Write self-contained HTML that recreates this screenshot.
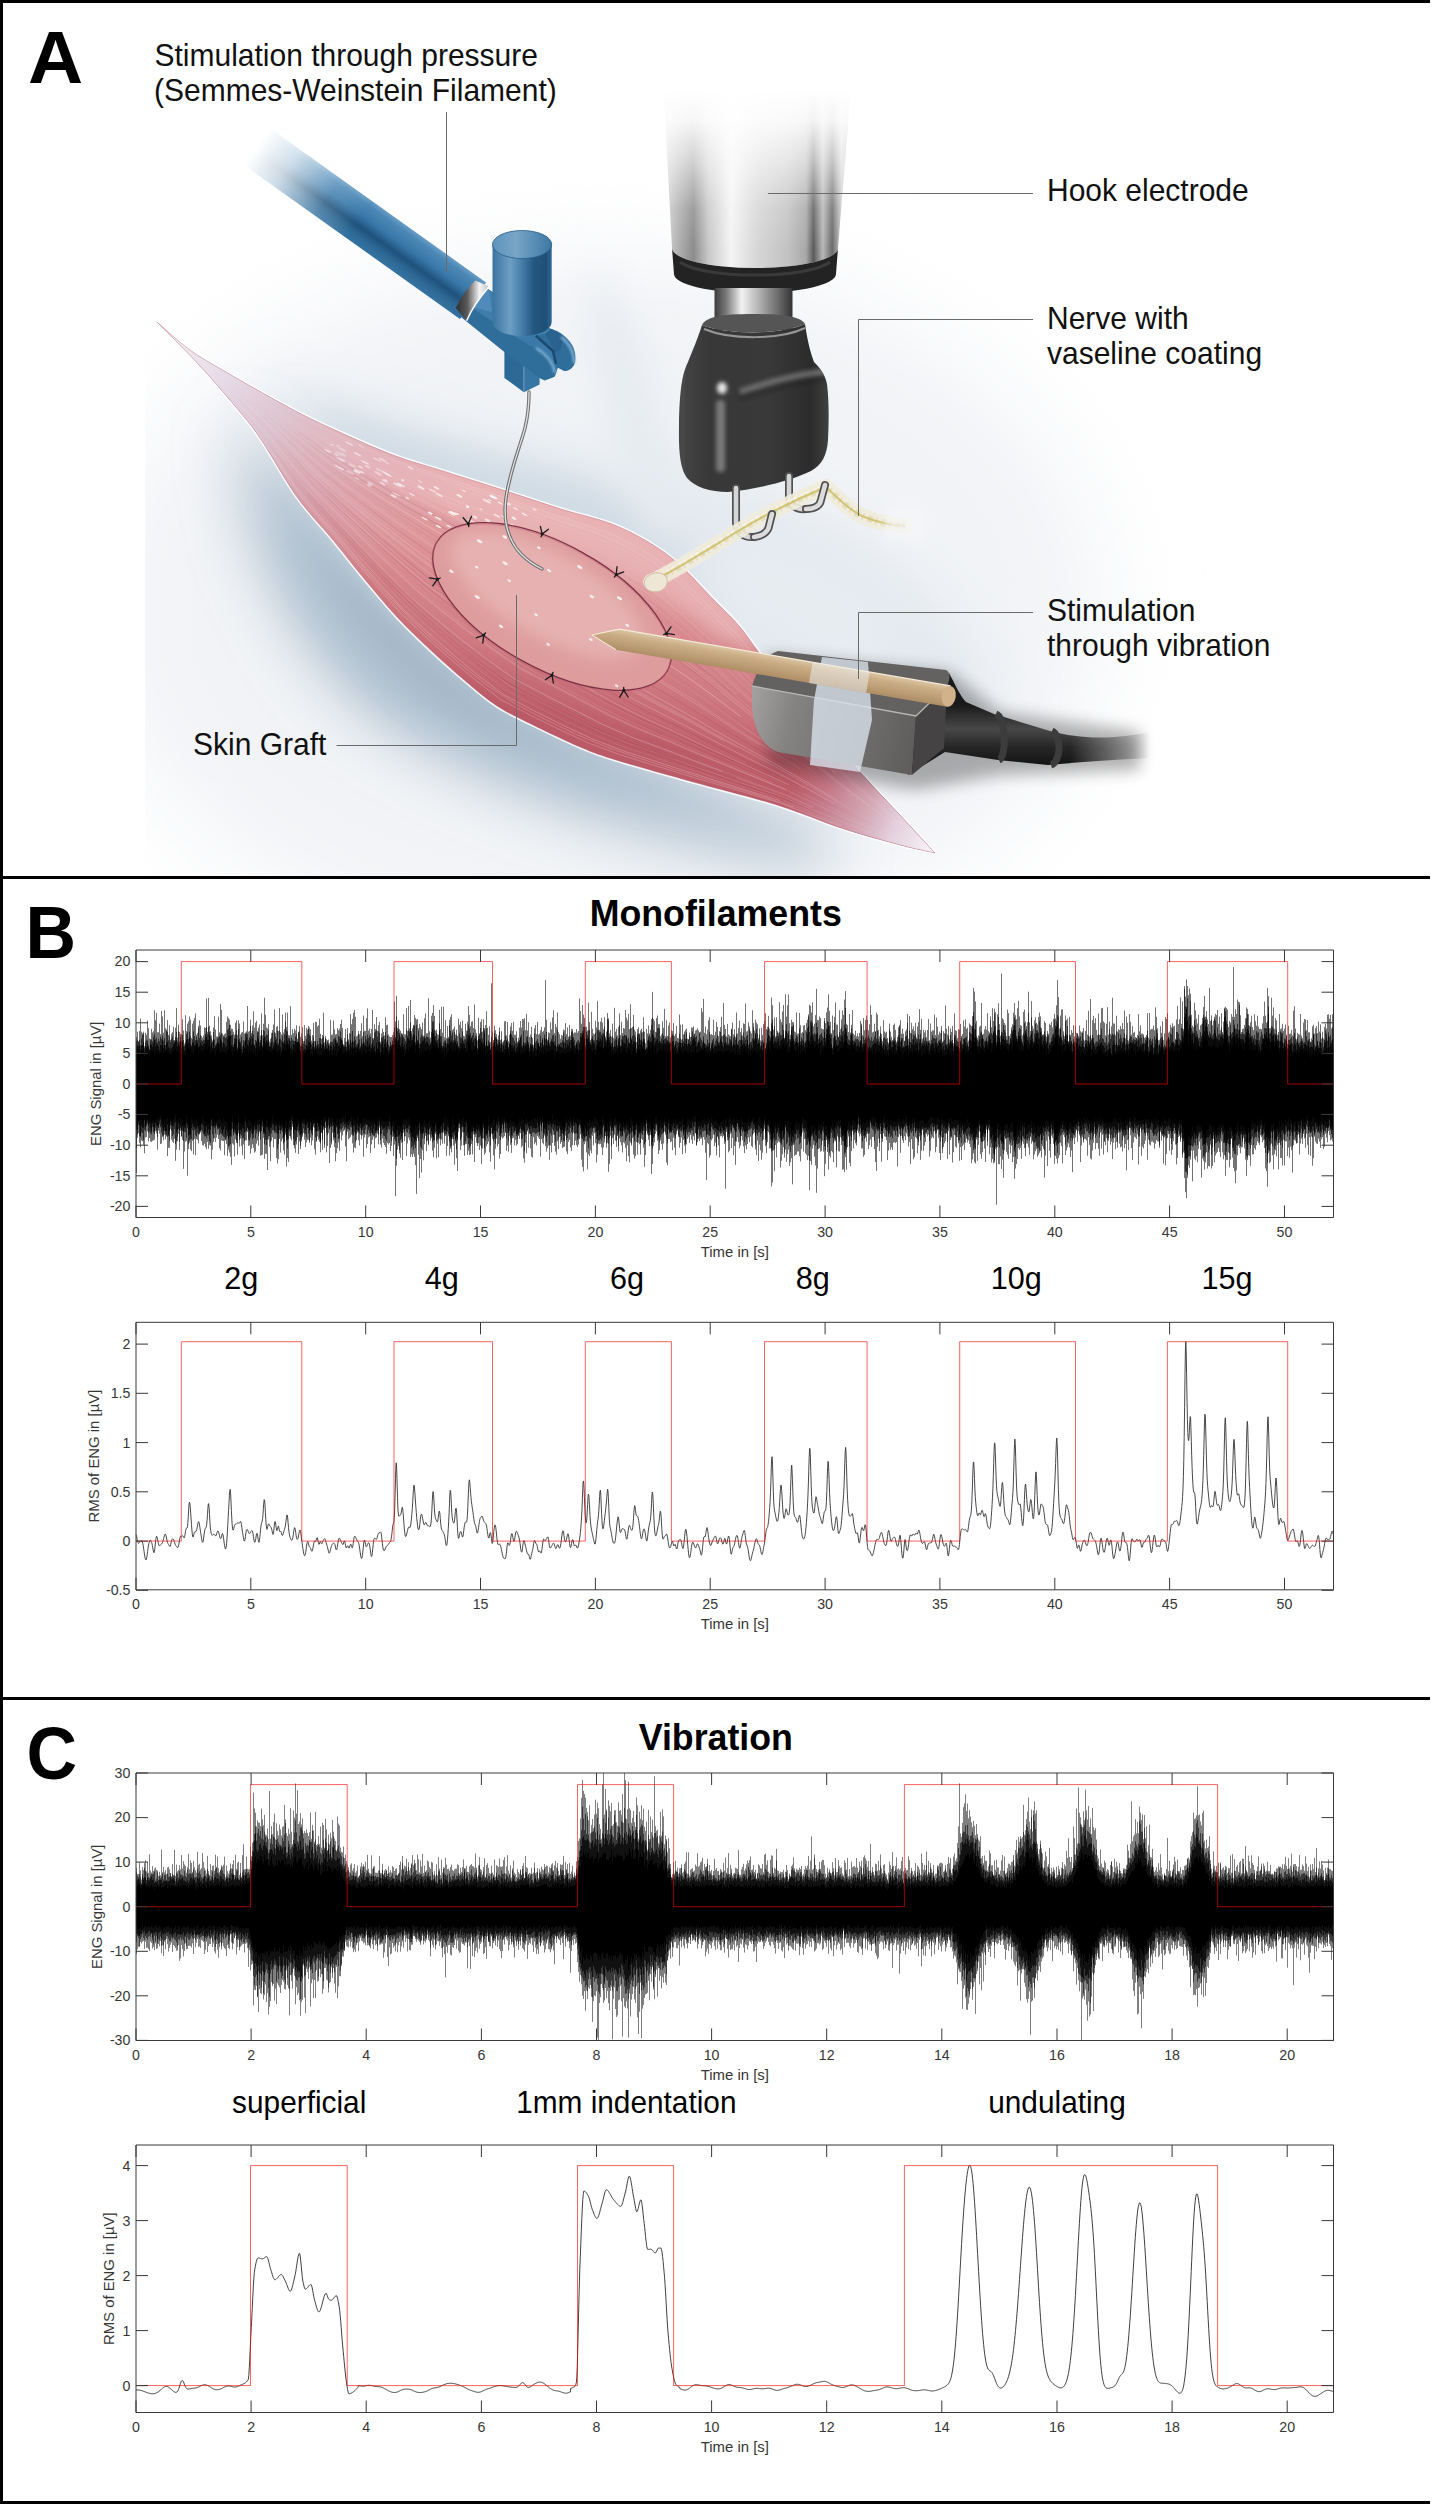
<!DOCTYPE html><html><head><meta charset="utf-8"><title>Figure</title>
<style>html,body{margin:0;padding:0;background:#fff;}body{width:1432px;height:2504px;overflow:hidden;}svg{display:block;}</style></head><body>
<svg width="1432" height="2504" viewBox="0 0 1432 2504" font-family='"Liberation Sans", sans-serif'>
<rect width="1432" height="2504" fill="#fff"/>
<defs>
  <filter id="blur50" x="-50%" y="-50%" width="200%" height="200%"><feGaussianBlur stdDeviation="50"/></filter>
  <filter id="blur30" x="-50%" y="-50%" width="200%" height="200%"><feGaussianBlur stdDeviation="30"/></filter>
  <filter id="blur18" x="-50%" y="-50%" width="200%" height="200%"><feGaussianBlur stdDeviation="18"/></filter>
  <filter id="blur8" x="-50%" y="-50%" width="200%" height="200%"><feGaussianBlur stdDeviation="8"/></filter>
  <filter id="blur4" x="-50%" y="-50%" width="200%" height="200%"><feGaussianBlur stdDeviation="4"/></filter>
  <filter id="blur2" x="-50%" y="-50%" width="200%" height="200%"><feGaussianBlur stdDeviation="2"/></filter>
  <filter id="blur1" x="-50%" y="-50%" width="200%" height="200%"><feGaussianBlur stdDeviation="1"/></filter>
  <clipPath id="bodyClip"><path d="M702 325 C 698 338 692 352 688 362 C 682 374 679.5 392 679 425 C 678.5 452 680 468 687 478 C 695 487 710 492 728 492 C 758 489 790 481 811 471 C 822 465 827 455 828 440 C 829 420 829 400 827 384 C 825 374 820 368 814 362 C 810 352 807 338 805 324 C 780 335 728 335 702 325 Z"/></clipPath>
  <clipPath id="bgclip"><rect x="145" y="0" width="1200" height="876"/></clipPath>
  <clipPath id="muscleClip"><path d="M157.0 322.0 C 162.5 326.7 178.5 341.7 190.0 350.0 C 201.5 358.3 209.3 362.3 226.0 372.0 C 242.7 381.7 271.8 398.3 290.0 408.0 C 308.2 417.7 317.8 422.2 335.0 430.0 C 352.2 437.8 375.5 448.3 393.0 455.0 C 410.5 461.7 421.7 464.2 440.0 470.0 C 458.3 475.8 482.8 483.5 503.0 490.0 C 523.2 496.5 542.8 503.3 561.0 509.0 C 579.2 514.7 597.2 518.3 612.0 524.0 C 626.8 529.7 638.7 536.2 650.0 543.0 C 661.3 549.8 669.3 555.5 680.0 565.0 C 690.7 574.5 704.0 589.7 714.0 600.0 C 724.0 610.3 731.2 616.5 740.0 627.0 C 748.8 637.5 755.3 648.3 767.0 663.0 C 778.7 677.7 794.5 696.8 810.0 715.0 C 825.5 733.2 845.0 755.3 860.0 772.0 C 875.0 788.7 887.5 801.5 900.0 815.0 C 912.5 828.5 929.2 846.7 935.0 853.0 L935.0 853.0 C 929.2 851.7 915.7 849.2 900.0 845.0 C 884.3 840.8 861.5 834.7 841.0 828.0 C 820.5 821.3 801.7 812.7 777.0 805.0 C 752.3 797.3 719.8 789.5 693.0 782.0 C 666.2 774.5 634.8 765.8 616.0 760.0 C 597.2 754.2 593.8 752.8 580.0 747.0 C 566.2 741.2 546.8 731.8 533.0 725.0 C 519.2 718.2 508.6 713.6 497.0 706.0 C 485.4 698.4 474.7 688.8 463.5 679.4 C 452.3 670.0 441.1 660.0 430.0 649.6 C 418.9 639.2 408.1 628.9 397.0 617.0 C 385.9 605.1 374.2 590.8 363.5 578.0 C 352.8 565.2 344.1 553.5 333.0 540.0 C 321.9 526.5 308.8 513.5 297.0 497.0 C 285.2 480.5 271.5 455.2 262.0 441.0 C 252.5 426.8 250.3 424.5 240.0 412.0 C 229.7 399.5 213.8 381.0 200.0 366.0 C 186.2 351.0 164.2 329.3 157.0 322.0 Z"/></clipPath>

  <linearGradient id="muscleG" gradientUnits="userSpaceOnUse" x1="520" y1="480" x2="470" y2="700">
    <stop offset="0" stop-color="#e6a9ab"/>
    <stop offset="0.35" stop-color="#dd9599"/>
    <stop offset="0.75" stop-color="#cf7980"/>
    <stop offset="1" stop-color="#bd5d6a"/>
  </linearGradient>
  <linearGradient id="tipFade" gradientUnits="userSpaceOnUse" x1="160" y1="325" x2="420" y2="545">
    <stop offset="0" stop-color="#f4f2f6" stop-opacity="1"/>
    <stop offset="0.25" stop-color="#e6dce8" stop-opacity="0.96"/>
    <stop offset="0.45" stop-color="#dccbd8" stop-opacity="0.8"/>
    <stop offset="0.7" stop-color="#d8b4c2" stop-opacity="0.4"/>
    <stop offset="1" stop-color="#d8a0ae" stop-opacity="0"/>
  </linearGradient>
  <linearGradient id="tailFade" gradientUnits="userSpaceOnUse" x1="790" y1="785" x2="935" y2="853">
    <stop offset="0" stop-color="#cf9aaa" stop-opacity="0"/>
    <stop offset="0.35" stop-color="#d8b8c8" stop-opacity="0.55"/>
    <stop offset="0.7" stop-color="#e8dce8" stop-opacity="0.9"/>
    <stop offset="1" stop-color="#f8f6f8" stop-opacity="1"/>
  </linearGradient>
  <radialGradient id="graftG" gradientUnits="userSpaceOnUse" cx="530" cy="585" r="160">
    <stop offset="0" stop-color="#eec0bf"/>
    <stop offset="0.6" stop-color="#e9b3b1"/>
    <stop offset="1" stop-color="#de9c9d"/>
  </radialGradient>
  <linearGradient id="rodBlue" gradientUnits="userSpaceOnUse" x1="0" y1="0" x2="0" y2="45">
    <stop offset="0" stop-color="#6a9ec6"/>
    <stop offset="0.12" stop-color="#4c88b6"/>
    <stop offset="0.4" stop-color="#3777a8"/>
    <stop offset="0.62" stop-color="#1f527c"/>
    <stop offset="0.8" stop-color="#2d6895"/>
    <stop offset="1" stop-color="#3673a2"/>
  </linearGradient>
  <linearGradient id="rodFade" gradientUnits="userSpaceOnUse" x1="25" y1="0" x2="150" y2="0">
    <stop offset="0" stop-color="#000"/>
    <stop offset="0.3" stop-color="#404040"/>
    <stop offset="0.7" stop-color="#d0d0d0"/>
    <stop offset="1" stop-color="#fff"/>
  </linearGradient>
  <mask id="rodMask" maskUnits="userSpaceOnUse" x="-50" y="-30" width="400" height="110"><rect x="-50" y="-30" width="400" height="110" fill="url(#rodFade)"/></mask>
  <linearGradient id="cylBlue" x1="0" y1="0" x2="1" y2="0">
    <stop offset="0" stop-color="#3a74a0"/>
    <stop offset="0.3" stop-color="#6e9ec3"/>
    <stop offset="0.45" stop-color="#4d86b2"/>
    <stop offset="0.7" stop-color="#24577f"/>
    <stop offset="0.9" stop-color="#1e4f77"/>
    <stop offset="1" stop-color="#2f6791"/>
  </linearGradient>
  <linearGradient id="cylTop" x1="0" y1="0" x2="1" y2="0">
    <stop offset="0" stop-color="#5e93bb"/>
    <stop offset="0.4" stop-color="#78a5c8"/>
    <stop offset="1" stop-color="#3b77a3"/>
  </linearGradient>
  <linearGradient id="ringG" gradientUnits="userSpaceOnUse" x1="455" y1="0" x2="490" y2="0">
    <stop offset="0" stop-color="#2a2a2a"/>
    <stop offset="0.35" stop-color="#5a5a5a"/>
    <stop offset="0.7" stop-color="#f4f4f4"/>
    <stop offset="1" stop-color="#bdbdbd"/>
  </linearGradient>
  <linearGradient id="silverV" x1="0" y1="0" x2="1" y2="0">
    <stop offset="0" stop-color="#d8d8d8"/>
    <stop offset="0.08" stop-color="#b0b0b0"/>
    <stop offset="0.16" stop-color="#8c8c8c"/>
    <stop offset="0.24" stop-color="#c8c8c8"/>
    <stop offset="0.36" stop-color="#f4f4f4"/>
    <stop offset="0.5" stop-color="#d6d6d6"/>
    <stop offset="0.66" stop-color="#c2c2c2"/>
    <stop offset="0.76" stop-color="#a8a8a8"/>
    <stop offset="0.8" stop-color="#5c5c5c"/>
    <stop offset="0.85" stop-color="#b8b8b8"/>
    <stop offset="0.9" stop-color="#6a6a6a"/>
    <stop offset="0.95" stop-color="#cfcfcf"/>
    <stop offset="1" stop-color="#a8a8a8"/>
  </linearGradient>
  <linearGradient id="topFade" gradientUnits="userSpaceOnUse" x1="0" y1="88" x2="0" y2="250">
    <stop offset="0" stop-color="#fff" stop-opacity="0"/>
    <stop offset="0.2" stop-color="#fff" stop-opacity="0.08"/>
    <stop offset="0.45" stop-color="#fff" stop-opacity="0.4"/>
    <stop offset="0.75" stop-color="#fff" stop-opacity="0.85"/>
    <stop offset="1" stop-color="#fff" stop-opacity="1"/>
  </linearGradient>
  <mask id="cylMask" maskUnits="userSpaceOnUse" x="600" y="60" width="300" height="260"><rect x="600" y="60" width="300" height="260" fill="url(#topFade)"/></mask>
  <linearGradient id="neckG" x1="0" y1="0" x2="1" y2="0">
    <stop offset="0" stop-color="#3c3c3c"/>
    <stop offset="0.15" stop-color="#7a7a7a"/>
    <stop offset="0.35" stop-color="#f2f2f2"/>
    <stop offset="0.55" stop-color="#b8b8b8"/>
    <stop offset="0.8" stop-color="#707070"/>
    <stop offset="1" stop-color="#333"/>
  </linearGradient>
  <linearGradient id="bodyG" x1="0" y1="0" x2="1" y2="0">
    <stop offset="0" stop-color="#464646"/>
    <stop offset="0.2" stop-color="#383838"/>
    <stop offset="0.6" stop-color="#393939"/>
    <stop offset="0.88" stop-color="#2c2c2c"/>
    <stop offset="1" stop-color="#404040"/>
  </linearGradient>
  <linearGradient id="boxFront" gradientUnits="userSpaceOnUse" x1="752" y1="700" x2="915" y2="740">
    <stop offset="0" stop-color="#a2a09f"/>
    <stop offset="0.25" stop-color="#858382"/>
    <stop offset="0.7" stop-color="#6f6d6c"/>
    <stop offset="1" stop-color="#605e5d"/>
  </linearGradient>
  <linearGradient id="rodTan" gradientUnits="userSpaceOnUse" x1="0" y1="-11" x2="0" y2="11">
    <stop offset="0" stop-color="#dcc8a8"/>
    <stop offset="0.3" stop-color="#ccae86"/>
    <stop offset="1" stop-color="#ad8d64"/>
  </linearGradient>
  <linearGradient id="cableG" gradientUnits="userSpaceOnUse" x1="0" y1="705" x2="0" y2="765">
    <stop offset="0" stop-color="#1a1a1a"/>
    <stop offset="0.4" stop-color="#484848"/>
    <stop offset="0.7" stop-color="#262626"/>
    <stop offset="1" stop-color="#141414"/>
  </linearGradient>
  <linearGradient id="cableFade" gradientUnits="userSpaceOnUse" x1="1070" y1="0" x2="1150" y2="0">
    <stop offset="0" stop-color="#fff" stop-opacity="1"/>
    <stop offset="1" stop-color="#fff" stop-opacity="0"/>
  </linearGradient>
  <mask id="cableMask" maskUnits="userSpaceOnUse" x="880" y="640" width="300" height="160"><rect x="880" y="640" width="300" height="160" fill="url(#cableFade)"/></mask>
</defs>

<!-- ======= background shading ======= -->
<g clip-path="url(#bgclip)">
  <ellipse cx="600" cy="610" rx="500" ry="350" fill="#f1f3f6" filter="url(#blur50)"/>
  <path d="M260 380 C 360 420 500 450 700 480 C 850 510 950 600 1000 700 C 900 760 700 760 500 700 C 380 650 290 520 260 380 Z" fill="#e2e8ee" filter="url(#blur30)"/>
  <path transform="translate(14 -4)" d="M225 420 C 270 500 330 580 420 660 C 520 740 650 790 800 830 L 820 870 C 650 850 480 800 360 720 C 270 640 225 540 225 420 Z" fill="#a9bccc" filter="url(#blur30)"/>
  <path transform="translate(12 -2)" d="M250 450 C 300 540 370 610 450 680 C 540 745 650 785 760 812 C 640 800 520 760 430 700 C 340 630 280 540 250 450 Z" fill="#98aec1" filter="url(#blur18)"/>
  <path d="M300 400 C 380 425 460 450 560 475 C 640 500 700 540 740 590 L 700 600 C 640 560 560 530 460 505 C 380 480 330 450 300 400 Z" fill="#cfdae4" filter="url(#blur18)"/>
  <path d="M590 260 C 640 320 660 420 690 520 L 650 540 C 610 450 590 350 590 260 Z" fill="#e6ebf0" filter="url(#blur18)"/>
  <path d="M680 520 C 760 540 840 560 900 620 L 880 700 C 820 650 760 620 690 600 Z" fill="#e8edf2" filter="url(#blur30)"/>
</g>

<!-- ======= muscle ======= -->
<g id="muscle">
  <path d="M157.0 322.0 C 162.5 326.7 178.5 341.7 190.0 350.0 C 201.5 358.3 209.3 362.3 226.0 372.0 C 242.7 381.7 271.8 398.3 290.0 408.0 C 308.2 417.7 317.8 422.2 335.0 430.0 C 352.2 437.8 375.5 448.3 393.0 455.0 C 410.5 461.7 421.7 464.2 440.0 470.0 C 458.3 475.8 482.8 483.5 503.0 490.0 C 523.2 496.5 542.8 503.3 561.0 509.0 C 579.2 514.7 597.2 518.3 612.0 524.0 C 626.8 529.7 638.7 536.2 650.0 543.0 C 661.3 549.8 669.3 555.5 680.0 565.0 C 690.7 574.5 704.0 589.7 714.0 600.0 C 724.0 610.3 731.2 616.5 740.0 627.0 C 748.8 637.5 755.3 648.3 767.0 663.0 C 778.7 677.7 794.5 696.8 810.0 715.0 C 825.5 733.2 845.0 755.3 860.0 772.0 C 875.0 788.7 887.5 801.5 900.0 815.0 C 912.5 828.5 929.2 846.7 935.0 853.0 L935.0 853.0 C 929.2 851.7 915.7 849.2 900.0 845.0 C 884.3 840.8 861.5 834.7 841.0 828.0 C 820.5 821.3 801.7 812.7 777.0 805.0 C 752.3 797.3 719.8 789.5 693.0 782.0 C 666.2 774.5 634.8 765.8 616.0 760.0 C 597.2 754.2 593.8 752.8 580.0 747.0 C 566.2 741.2 546.8 731.8 533.0 725.0 C 519.2 718.2 508.6 713.6 497.0 706.0 C 485.4 698.4 474.7 688.8 463.5 679.4 C 452.3 670.0 441.1 660.0 430.0 649.6 C 418.9 639.2 408.1 628.9 397.0 617.0 C 385.9 605.1 374.2 590.8 363.5 578.0 C 352.8 565.2 344.1 553.5 333.0 540.0 C 321.9 526.5 308.8 513.5 297.0 497.0 C 285.2 480.5 271.5 455.2 262.0 441.0 C 252.5 426.8 250.3 424.5 240.0 412.0 C 229.7 399.5 213.8 381.0 200.0 366.0 C 186.2 351.0 164.2 329.3 157.0 322.0 Z" fill="none" stroke="#fff" stroke-width="3.6" stroke-linejoin="round" opacity="0.9"/>
  <g clip-path="url(#muscleClip)">
    <rect x="150" y="300" width="800" height="570" fill="url(#muscleG)"/>
    <!-- lower dark band -->
    <path d="M250 420 C 300 520 380 610 470 690 C 560 760 700 800 860 850 L 940 870 L 600 870 L 200 700 Z" fill="#b24d5c" opacity="0.5" filter="url(#blur18)"/>
    <!-- upper light band -->
    <path d="M300 420 C 400 460 520 490 640 530 C 700 560 740 600 770 650 L 720 640 C 660 590 600 560 520 535 C 420 505 340 470 300 420 Z" fill="#f0c4c6" opacity="0.55" filter="url(#blur8)"/>
    <g stroke="#f9e2e6" stroke-width="0.8" fill="none"><path d="M241.8 399.2 265.3 421.5 287.7 444.3 309.9 467.1 333.9 488.2 358.6 508.7 383.4 528.5 408.4 548.0 433.7 567.3 460.2 585.6 487.1 603.4 514.6 620.4 542.5 637.0 571.8 652.3 600.5 668.4 628.2 685.4 656.2 701.3 684.5 716.1 711.7 731.7 739.3 747.0 767.0 762.0 795.0 776.9 822.5 793.3 850.1 809.5 878.3 824.4" stroke-opacity="0.17"/><path d="M246.6 392.8 272.6 412.0 298.3 431.0 324.1 449.5 351.1 466.6 378.6 483.1 406.5 498.0 434.6 512.8 462.9 527.5 491.7 541.7 520.7 555.7 550.1 569.0 579.6 582.5 608.8 597.4 636.5 614.9 662.3 634.6 687.7 654.3 713.1 673.5 736.5 694.4" stroke-opacity="0.28"/><path d="M204.4 367.9 227.6 391.0 250.5 414.4 272.0 438.8 292.2 463.9 313.1 488.3 336.4 511.0 359.6 533.4 382.7 555.7 406.4 577.5 430.9 598.6 456.3 618.9 482.5 638.3 509.5 656.6 537.5 673.7 566.8 689.1 595.8 704.6 624.9 719.3 654.5 732.4 683.9 745.0 713.2 757.8 742.7 770.2 772.3 782.6" stroke-opacity="0.18"/><path d="M194.1 354.3 220.6 373.4 247.2 391.9 273.6 410.7 299.8 429.1 326.1 447.1 353.5 463.6 381.4 479.5 409.8 493.8 438.3 507.9 466.9 521.9 496.1 535.6 525.4 549.1 555.0 561.8 584.7 574.9 614.0 589.8 641.6 607.4 667.1 627.5 692.1 647.7 717.1 667.6 740.0 689.2 763.6 710.2 787.5 731.0 811.8 751.5 836.0 772.5" stroke-opacity="0.23"/><path d="M236.3 406.5 257.0 432.3 275.7 459.5 293.7 487.1 314.2 512.9 335.8 537.9 356.9 563.2 378.5 588.1 400.5 612.8 424.3 635.6 448.9 657.7 474.2 679.0 500.4 699.3 529.6 714.9 559.3 729.4 589.4 743.3 620.3 754.9 651.9 764.6 683.3 774.3 714.9 783.7 746.5 793.0 778.1 802.4 809.0 814.0 839.9 825.7" stroke-opacity="0.32"/><path d="M169.3 332.9 194.3 354.1 220.9 372.9 247.8 391.2 274.5 409.6 301.1 427.5 327.8 444.9 355.6 461.0 383.8 476.4 412.6 490.1 441.5 503.6 470.5 517.0 499.9 530.2 529.4 543.3 559.4 555.6 589.2 568.2 618.5 583.1 646.0 600.9 671.2 621.3 696.0 642.0 720.5 662.4 743.0 684.7 766.3 706.3 789.7 727.7 813.6 748.8 837.4 770.3 861.4 791.6" stroke-opacity="0.13"/><path d="M208.6 362.1 236.4 379.3 264.5 396.0 292.6 412.5 321.3 427.8 350.4 442.1 379.9 455.9 410.1 467.7 440.7 478.7 471.3 489.6 502.0 500.4 532.6 511.5 563.4 522.1 594.5 532.1 624.3 545.4 652.6 561.8 678.4 581.8 701.7 604.6 725.0 627.3 746.6 651.5 767.3 676.4 788.9 700.6 810.6 724.7 832.8 748.4" stroke-opacity="0.30"/><path d="M205.4 366.6 229.6 388.5 253.6 410.4 276.6 433.0 298.6 455.9 321.4 478.1 346.0 498.9 370.7 518.9 395.5 538.7 420.7 558.1 446.6 577.0 473.1 595.2 500.3 612.7 528.2 629.2 556.7 645.4 585.7 661.1 614.0 677.5 641.8 694.0 670.0 709.2 697.7 724.4 725.1 739.9 752.9 754.9 780.7 769.8 808.6 785.3" stroke-opacity="0.17"/><path d="M169.5 332.6 194.9 353.2 222.6 370.6 250.8 387.2 279.0 403.6 307.7 419.1 336.7 433.9 366.4 447.4 396.3 460.4 427.1 471.0 457.9 481.5 488.7 492.1 519.6 502.7 550.5 513.4 581.6 523.4 612.4 534.0 641.7 548.7 668.6 567.4 692.6 589.5 715.7 612.5 738.5 635.8 758.6 661.3 779.7 686.1 801.0 710.7 822.8 734.8 844.8 758.9 867.0 782.8" stroke-opacity="0.16"/><path d="M157.0 322.0 181.3 344.1 206.8 364.6 232.5 384.5 258.3 404.1 283.6 424.0 308.5 443.6 334.0 462.4 360.8 480.1 388.0 496.5 415.2 512.5 442.8 528.1 470.8 543.5 499.2 558.6 527.9 573.1 557.2 586.7 586.3 601.7 615.0 617.6 642.2 635.6 668.0 654.9 694.1 673.4 719.1 692.5 743.6 712.1 768.6 731.1 793.8 750.1 819.2 769.2 844.4 788.7 870.1 807.6 896.0 826.0" stroke-opacity="0.15"/><path d="M247.0 392.2 273.3 411.1 299.4 429.6 325.5 447.8 352.8 464.5 380.6 480.5 408.9 495.0 437.3 509.3 465.8 523.5 494.8 537.3 524.0 551.0 553.6 563.8 583.3 577.0 612.5 591.9 640.2 609.5 665.7 629.5 690.9 649.5 715.9 669.3 739.0 690.7 762.8 711.5 786.8 732.1 811.2 752.4 835.5 773.2" stroke-opacity="0.29"/><path d="M229.4 388.6 253.4 410.6 276.3 433.4 298.2 456.4 320.8 478.8 345.4 499.6 370.0 519.8 394.7 539.8 419.8 559.3 445.6 578.3 472.1 596.7 499.2 614.3 527.0 630.9 555.5 647.2 584.5 662.8 612.9 679.2 640.7 695.6 669.1 710.7 696.9 725.7 724.4 741.0" stroke-opacity="0.23"/><path d="M243.5 396.9 267.9 418.1 291.5 439.5 315.0 460.8 340.1 480.4 365.8 499.4 391.7 517.5 417.9 535.3 444.2 552.9 471.6 569.7 499.2 586.2 527.4 601.8 555.9 617.3 585.2 632.5 613.5 649.1 640.5 667.0 667.6 684.3 694.8 700.7 720.7 718.3 747.0 735.3 773.5 752.2 800.3 768.9" stroke-opacity="0.24"/><path d="M194.7 353.4 222.2 371.2 250.1 388.1 278.0 405.0 306.2 421.1 334.6 436.5 363.9 450.6 393.4 464.1 423.7 475.4 454.1 486.7 484.5 497.9 515.0 509.1 545.6 520.4 576.4 530.9 607.0 542.0 636.3 556.7 663.3 575.2 687.6 596.9 711.1 619.4 734.3 642.0 755.0 666.8 776.5 690.8 798.4 714.7 820.6 738.1" stroke-opacity="0.15"/><path d="M192.4 356.7 215.8 379.7 239.0 403.0 261.0 427.1 281.5 452.1 301.5 477.4 323.7 500.9 346.8 523.7 369.7 546.4 393.0 568.7 416.6 590.8 441.7 611.4 467.4 631.4 493.8 650.6 520.8 669.2 550.0 684.6 579.2 699.9 608.2 715.3 637.7 729.0 667.6 741.1 697.0 753.7 726.7 765.9 756.4 778.0 786.3 790.1 815.5 804.0 844.9 817.9 874.8 830.1 904.7 842.2" stroke-opacity="0.24"/><path d="M217.6 377.3 242.1 398.8 265.7 420.9 288.4 443.5 310.7 466.0 334.9 486.9 359.8 507.1 384.8 526.6 410.0 545.8 435.5 564.9 462.2 582.9 489.2 600.5 516.8 617.2 544.8 633.7 574.1 648.9 602.7 665.1 630.3 682.3 658.2 698.4 686.2 713.5 713.2 729.4 740.6 745.0 768.1 760.4 795.9 775.6 823.2 792.1 850.7 808.6" stroke-opacity="0.15"/><path d="M181.2 344.3 206.4 365.2 231.7 385.6 257.0 405.8 281.7 426.5 305.8 447.0 330.6 466.7 356.8 485.2 383.3 502.6 409.9 519.6 436.8 536.3 464.2 552.6 492.1 568.6 520.4 583.9 549.3 598.3 578.2 613.6 607.0 629.5 634.5 647.1 660.9 665.5 687.5 683.1 713.3 701.2 738.5 719.7 764.3 737.6 790.2 755.5 816.3 773.6" stroke-opacity="0.14"/><path d="M168.6 333.8 192.0 357.3 214.6 381.4 236.7 405.9 257.6 431.5 276.6 458.3 294.9 485.6 315.7 511.0 337.5 535.7 358.9 560.6 380.8 585.1 403.0 609.4 427.0 631.9 451.8 653.7 477.2 674.6 503.5 694.6 532.7 710.2 562.4 724.9 592.3 739.0 623.0 750.9 654.3 760.9 685.5 771.1 716.7 781.0 748.0 790.7 779.4 800.5 810.0 812.4 840.7 824.5" stroke-opacity="0.18"/><path d="M215.4 380.4 238.1 404.1 259.7 428.7 279.6 454.5 299.0 480.6 320.7 504.8 343.3 528.3 365.6 551.8 388.3 575.0 411.4 597.9 436.1 619.2 461.4 639.9 487.5 659.8 514.2 678.9 543.4 694.4 572.8 709.4 602.1 724.3 632.1 737.4 662.5 748.7 692.6 760.3 722.9 771.7" stroke-opacity="0.29"/><path d="M237.1 405.5 258.1 430.8 277.3 457.4 295.9 484.4 316.9 509.5 338.9 533.9 360.6 558.4 382.6 582.7 405.0 606.5 429.2 628.8 454.1 650.3 479.7 671.0 506.1 690.8 535.4 706.3 565.0 721.1 594.7 735.4 625.2 747.6 656.3 757.9 687.2 768.5 718.2 778.7 749.3 788.8 780.4 798.9 810.9 811.2" stroke-opacity="0.15"/><path d="M261.6 399.8 288.3 417.9 315.3 435.2 342.7 451.7 370.9 467.3 399.7 481.3 428.7 494.6 457.9 507.7 487.3 520.7 516.9 533.6 546.8 546.1 577.0 557.8 606.5 571.8 634.9 588.0 661.4 607.1 685.9 628.2 710.5 648.9 733.7 670.7 756.1 693.2 779.4 714.9 802.7 736.6 826.4 758.1 850.0 779.9" stroke-opacity="0.16"/><path d="M215.3 380.5 238.0 404.3 259.5 429.0 279.3 454.9 298.5 481.1 320.2 505.5 342.7 529.1 364.9 552.7 387.5 576.1 410.5 599.1 435.1 620.6 460.4 641.4 486.4 661.4 513.0 680.5 542.3 696.0 571.7 711.1 601.1 725.9 631.1 738.8 661.7 750.0 691.9 761.5 722.2 772.7 752.7 783.7 783.2 794.7 813.1 807.8" stroke-opacity="0.20"/><path d="M181.2 344.2 206.6 364.9 232.1 385.1 257.6 405.1 282.5 425.5 306.9 445.6 332.0 464.9 358.4 483.1 385.2 500.1 412.1 516.7 439.3 532.9 467.0 548.8 495.0 564.4 523.5 579.4 552.6 593.5 581.5 608.6 610.3 624.6 637.7 642.3 663.8 661.1 690.3 679.1 715.7 697.6 740.6 716.5" stroke-opacity="0.30"/><path d="M206.2 365.4 231.4 386.0 256.5 406.5 280.9 427.4 304.8 448.3 329.2 468.4 355.2 487.2 381.4 505.0 407.8 522.4 434.5 539.5 461.7 556.1 489.3 572.4 517.5 588.0 546.2 602.8 575.1 618.2 603.9 634.1 631.5 651.5 658.1 669.7 685.0 686.9 711.0 704.6 736.6 722.6 762.7 740.1 788.9 757.6" stroke-opacity="0.27"/><path d="M194.8 353.3 222.5 370.8 250.6 387.4 278.7 404.0 307.3 419.7 336.1 434.7 365.7 448.3 395.5 461.4 426.2 472.2 456.8 483.0 487.5 493.7 518.3 504.5 549.1 515.4 580.1 525.5 610.9 536.3 640.2 551.0 667.1 569.6 691.2 591.6 714.4 614.4 737.3 637.6 757.6 662.8" stroke-opacity="0.14"/><path d="M214.6 381.4 236.8 405.9 257.6 431.5 276.6 458.3 294.9 485.6 315.7 511.0 337.6 535.6 359.0 560.5 380.8 585.1 403.0 609.3 427.1 631.8 451.8 653.6 477.3 674.5 503.6 694.5 532.8 710.1 562.5 724.8 592.3 738.9 623.0 750.8 654.4 760.9 685.5 771.0 716.8 780.9 748.1 790.7 779.4 800.4" stroke-opacity="0.22"/><path d="M192.3 356.9 215.4 380.4 238.1 404.1 259.7 428.7 279.7 454.4 299.0 480.5 320.7 504.7 343.4 528.2 365.7 551.7 388.4 574.8 411.5 597.7 436.2 619.0 461.6 639.7 487.6 659.6 514.3 678.6 543.6 694.1 573.0 709.2 602.2 724.1 632.2 737.2 662.7 748.5 692.7 760.2 723.0 771.6 753.3 782.8 783.7 793.9 813.5 807.1" stroke-opacity="0.26"/><path d="M206.9 364.5 232.7 384.2 258.6 403.7 284.0 423.5 309.1 442.9 334.7 461.5 361.6 479.0 388.9 495.3 416.3 511.0 444.0 526.5 472.1 541.7 500.6 556.6 529.4 570.9 558.8 584.4 587.9 599.3 616.5 615.3 643.7 633.4 669.4 652.7 695.4 671.4 720.3 690.8 744.6 710.6 769.5 729.8 794.5 749.0 819.8 768.3 844.9 788.0 870.5 807.1" stroke-opacity="0.30"/><path d="M262.4 398.8 289.5 416.5 316.9 433.2 344.7 449.1 373.3 464.3 402.5 477.7 431.9 490.4 461.5 502.9 491.2 515.3 521.1 527.7 551.2 539.7 581.6 551.0 611.2 564.8 639.6 581.1 665.9 600.4 690.1 622.0 714.3 643.2 737.1 665.7 759.1 688.7" stroke-opacity="0.27"/><path d="M168.8 333.6 192.4 356.6 215.9 379.7 239.1 402.8 261.1 426.9 281.7 451.9 301.8 477.1 324.0 500.6 347.2 523.3 370.1 545.8 393.5 568.1 417.1 590.1 442.3 610.6 468.0 630.6 494.4 649.7 521.4 668.2 550.7 683.6 579.9 699.0 608.8 714.4 638.2 728.2 668.1 740.4 697.5 753.0 727.1 765.4 756.8 777.6 786.5 789.7" stroke-opacity="0.28"/><path d="M222.6 370.7 250.8 387.2 279.0 403.7 307.6 419.2 336.6 434.1 366.3 447.6 396.2 460.6 426.9 471.2 457.7 481.8 488.5 492.4 519.4 503.1 550.2 513.8 581.3 523.8 612.1 534.4 641.4 549.1 668.3 567.8 692.3 589.9 715.5 612.9 738.2 636.1 758.4 661.6 779.5 686.4 800.8 710.9 822.7 735.0 844.7 759.1 867.0 782.9 889.7 806.2" stroke-opacity="0.22"/><path d="M180.7 345.0 204.8 367.3 228.4 390.0 251.8 412.7 274.0 436.3 294.9 460.5 316.6 484.0 340.4 505.9 364.3 527.3 388.1 548.5 412.5 569.3 437.6 589.4 463.4 608.9 490.1 627.4 517.4 645.0 545.7 661.7 574.8 677.2 603.5 693.1 632.0 708.5 661.1 722.5 689.8 736.3 718.2 750.2 747.0 763.7" stroke-opacity="0.19"/><path d="M194.4 354.0 221.2 372.5 248.3 390.5 275.3 408.5 302.2 426.0 329.4 443.0 357.5 458.6 386.0 473.6 415.2 486.7 444.4 499.7 473.7 512.6 503.4 525.4 533.1 538.0 563.3 549.9 593.3 562.2 622.6 577.0 650.0 595.0 675.0 615.7 699.4 636.8 723.7 657.7 745.8 680.6 768.6 702.7 791.7 724.7 815.2 746.4 838.7 768.3 862.4 790.1 886.6 811.2 910.8 832.2" stroke-opacity="0.23"/><path d="M181.4 344.1 206.9 364.4 232.9 384.0 258.9 403.4 284.4 423.0 309.7 442.2 335.5 460.6 362.5 477.9 389.9 494.0 417.5 509.5 445.4 524.7 473.6 539.7 502.1 554.4 531.1 568.6 560.5 581.9 589.6 596.7 618.3 612.7 645.4 630.9 671.0 650.4 696.8 669.3 721.5 688.9 745.7 708.9 770.4 728.4 795.3 747.8 820.4 767.3 845.3 787.3 870.8 806.5 896.5 825.4 922.1 843.9" stroke-opacity="0.21"/><path d="M203.4 369.2 225.5 393.9 247.1 418.9 267.1 445.1 285.2 472.6 304.2 499.4 325.9 524.3 347.4 549.2 368.7 574.3 390.8 598.7 413.8 622.2 437.9 644.8 463.0 666.2 489.0 686.6 516.6 704.6 546.1 719.8 575.9 734.2 606.3 746.9 637.5 757.7 668.8 767.6 700.2 777.4 731.6 787.0 763.1 796.6 794.2 807.2" stroke-opacity="0.30"/><path d="M216.5 378.9 240.1 401.5 262.7 424.9 283.9 449.1 304.7 473.5 327.6 496.1 351.4 518.0 375.0 539.5 398.9 560.7 423.2 581.7 448.8 601.5 475.0 620.7 501.8 639.0 529.1 656.8 558.4 672.2 587.4 687.8 615.9 703.8 644.8 718.3 674.1 731.5 702.7 745.2 731.5 758.6 760.5 771.9 789.6 785.0" stroke-opacity="0.30"/><path d="M257.6 405.1 282.4 425.5 306.9 445.6 332.0 465.0 358.4 483.1 385.2 500.2 412.0 516.7 439.3 533.0 466.9 548.9 494.9 564.5 523.5 579.5 552.5 593.6 581.5 608.8 610.2 624.7 637.6 642.4 663.8 661.2 690.2 679.2 715.6 697.7 740.6 716.6" stroke-opacity="0.21"/><path d="M255.6 407.7 279.5 429.2 302.8 450.7 326.7 471.5 352.2 490.9 378.0 509.5 403.8 527.6 430.1 545.5 456.8 562.8 484.1 579.7 512.0 595.9 540.5 611.3 569.2 626.9 598.0 642.7 625.9 659.8 652.9 677.5 680.2 694.1 706.8 710.9 732.9 728.1 759.5 744.8" stroke-opacity="0.28"/><path d="M229.0 389.2 252.7 411.5 275.3 434.6 296.8 458.2 319.0 481.0 343.3 502.3 367.6 523.0 391.9 543.5 416.7 563.6 442.2 583.0 468.4 601.9 495.3 619.9 522.9 636.9 551.3 653.4 580.4 669.0 608.9 685.1 637.0 701.1 665.6 715.7 693.8 730.2 721.8 744.9 750.0 759.2 778.4 773.4 806.6 788.3 834.6 804.0" stroke-opacity="0.31"/><path d="M193.9 354.6 219.9 374.3 246.1 393.5 271.8 413.0 297.2 432.3 322.7 451.3 349.4 468.8 376.6 485.6 404.2 501.1 432.0 516.3 460.0 531.4 488.5 546.1 517.3 560.5 546.5 574.1 575.8 587.9 605.1 602.9 632.9 620.2 658.9 639.7 684.6 659.0 710.2 677.8 734.1 698.2 758.5 718.0 783.2 737.6" stroke-opacity="0.13"/><path d="M261.2 400.3 287.8 418.6 314.5 436.2 341.7 452.9 369.8 468.7 398.4 483.0 427.2 496.6 456.2 510.0 485.4 523.3 514.9 536.5 544.6 549.2 574.7 561.1 604.1 575.3 632.6 591.4 659.2 610.4 683.8 631.3 708.6 651.8 732.0 673.3 754.7 695.3 778.1 716.8 801.7 738.2 825.6 759.4 849.4 781.0 873.7 801.9 898.3 822.4" stroke-opacity="0.14"/><path d="M205.5 366.4 229.9 388.1 254.0 409.7 277.2 432.1 299.6 454.7 322.6 476.6 347.4 497.0 372.4 516.7 397.4 536.2 422.9 555.2 449.0 573.7 475.7 591.6 503.0 608.8 531.0 625.0 559.6 641.1 588.5 656.8 616.8 673.4 644.4 690.1 672.4 705.7 699.8 721.3 726.9 737.2 754.4 752.6 782.0 767.9 809.6 783.8 836.9 800.4" stroke-opacity="0.25"/><path d="M259.5 402.5 285.3 421.9 310.9 440.6 337.1 458.6 364.4 475.5 392.1 491.1 420.0 506.1 448.2 520.9 476.7 535.4 505.5 549.7 534.6 563.5 564.2 576.4 593.4 591.1 622.0 607.1 649.0 625.5 674.4 645.4 699.9 664.7 724.3 684.8 748.0 705.4 772.4 725.4 797.0 745.3 821.7 765.3" stroke-opacity="0.25"/><path d="M168.9 333.4 193.0 355.9 217.4 377.7 241.6 399.4 265.1 421.8 287.4 444.7 309.4 467.6 333.3 488.9 358.0 509.5 382.6 529.4 407.6 549.1 432.8 568.6 459.2 586.9 486.1 604.9 513.5 622.0 541.4 638.7 570.6 654.0 599.3 670.1 627.2 687.0 655.2 702.8 683.6 717.4 710.9 732.9 738.6 748.0" stroke-opacity="0.20"/><path d="M239.7 401.9 262.2 425.5 283.2 450.0 303.8 474.6 326.5 497.5 350.1 519.6 373.5 541.5 397.2 563.0 421.3 584.4 446.8 604.3 472.8 623.8 499.5 642.4 526.7 660.4 556.0 675.8 585.0 691.3 613.6 707.1 642.7 721.4 672.2 734.3 701.0 747.7 730.1 760.8 759.3 773.7 788.6 786.5 817.4 801.0 846.3 815.6 875.7 828.6" stroke-opacity="0.14"/><path d="M237.6 404.9 258.8 429.9 278.3 456.1 297.3 482.7 318.6 507.4 340.9 531.4 362.8 555.5 385.2 579.2 407.9 602.7 432.3 624.5 457.4 645.7 483.2 666.0 509.7 685.5 539.0 701.0 568.5 715.9 598.0 730.5 628.3 743.0 659.1 753.8 689.6 764.8 720.3 775.6 751.1 786.2 781.9 796.7 812.0 809.4 842.2 822.1 873.0 833.0 903.8 843.7" stroke-opacity="0.22"/></g>
<g stroke="#a04050" stroke-width="0.8" fill="none"><path d="M192.0 357.2 214.7 381.2 237.0 405.6 258.0 430.9 277.2 457.6 295.7 484.6 316.7 509.8 338.7 534.2 360.2 558.9 382.2 583.2 404.6 607.1 428.8 629.4 453.6 651.0 479.2 671.7 505.6 691.5 534.8 707.1 564.4 721.9 594.2 736.1 624.7 748.3 655.9 758.6" stroke-opacity="0.15"/><path d="M231.4 386.0 256.5 406.5 280.9 427.5 304.7 448.4 329.1 468.5 355.1 487.3 381.3 505.2 407.6 522.6 434.3 539.8 461.4 556.4 489.1 572.8 517.3 588.4 546.0 603.2 574.8 618.6 603.6 634.4 631.3 651.9 657.9 670.0 684.8 687.2 710.8 704.9 736.4 722.9" stroke-opacity="0.26"/><path d="M297.8 431.6 323.4 450.4 350.3 467.6 377.7 484.3 405.5 499.4 433.4 514.4 461.5 529.3 490.2 543.7 519.1 558.0 548.4 571.4 577.8 585.0 607.1 600.0 634.9 617.4 660.7 637.0 686.3 656.5 711.7 675.5 735.4 696.2" stroke-opacity="0.29"/><path d="M246.5 392.9 272.5 412.1 298.2 431.1 324.0 449.6 351.0 466.8 378.5 483.3 406.4 498.2 434.5 513.0 462.7 527.7 491.5 542.0 520.4 556.1 549.8 569.4 579.3 582.9 608.6 597.8 636.3 615.3 662.1 634.9 687.5 654.6 712.9 673.8 736.4 694.7 760.5 715.0 784.9 735.0 809.6 754.8 834.2 775.2 859.0 795.4 884.3 814.8 909.6 834.2" stroke-opacity="0.26"/><path d="M289.3 467.6 309.4 493.0 332.0 516.6 354.4 540.1 376.8 563.5 399.8 586.5 423.7 608.6 448.5 629.8 474.3 650.1 500.8 669.3 528.7 686.7 558.0 702.1 587.4 717.1 617.1 730.9 647.3 743.0 677.6 754.5 707.7 766.1 738.0 777.3 768.4 788.5 798.5 800.6 828.3 813.8" stroke-opacity="0.19"/><path d="M192.8 356.2 216.8 378.4 240.6 400.7 263.6 423.8 285.2 447.5 306.5 471.3 329.8 493.4 353.8 514.8 377.8 535.7 402.2 556.4 426.8 576.8 452.7 596.1 479.1 614.8 506.2 632.7 533.7 650.1 563.0 665.4 591.8 681.2 620.1 697.5 648.7 712.6 677.6 726.2 705.7 740.6 734.2 754.7 762.7 768.5 791.4 782.3 819.7 797.6 848.0 812.9 876.9 826.8" stroke-opacity="0.34"/><path d="M192.2 357.0 215.1 380.7 237.7 404.7 259.0 429.6 278.6 455.8 297.6 482.2 319.0 506.8 341.4 530.7 363.4 554.7 385.8 578.3 408.6 601.7 433.1 623.4 458.2 644.5 484.1 664.7 510.7 684.1 539.9 699.6 569.4 714.5 598.9 729.2 629.1 741.8 659.8 752.7 690.3 763.9 720.9 774.7 751.5 785.5" stroke-opacity="0.21"/><path d="M308.6 443.6 334.1 462.4 360.9 480.0 388.0 496.5 415.3 512.4 442.9 528.1 470.9 543.4 499.2 558.5 528.0 572.9 557.3 586.6 586.4 601.5 615.0 617.5 642.3 635.5 668.1 654.8 694.2 673.3 719.2 692.4 743.6 712.0 768.7 731.1 793.8 750.0 819.2 769.1 844.4 788.7 870.1 807.6" stroke-opacity="0.21"/><path d="M307.6 495.3 329.8 519.3 352.0 543.3 374.0 567.3 396.7 590.7 420.3 613.3 444.8 635.0 470.3 655.7 496.7 675.3 524.5 693.0 553.9 708.3 583.4 723.0 613.3 736.5 643.9 748.1 674.5 759.1" stroke-opacity="0.30"/><path d="M214.9 381.0 237.4 405.1 258.6 430.2 277.9 456.6 296.7 483.4 317.9 508.2 340.1 532.4 361.9 556.6 384.2 580.6 406.7 604.2 431.1 626.2 456.1 647.5 481.8 667.9 508.3 687.5 537.5 703.1 567.1 717.9 596.7 732.4 627.1 744.8 658.0 755.4 688.7 766.2 719.5 776.8 750.4 787.2 781.3 797.6 811.6 810.1" stroke-opacity="0.28"/><path d="M204.8 367.3 228.4 390.0 251.7 412.8 273.9 436.4 294.9 460.6 316.5 484.1 340.3 506.0 364.2 527.5 387.9 548.7 412.3 569.6 437.4 589.7 463.2 609.2 489.8 627.7 517.2 645.4 545.4 662.1 574.5 677.6 603.3 693.5 631.8 708.9 660.9 722.8 689.6 736.5 718.1 750.5 746.9 763.9 775.8 777.4 804.5 791.5 833.0 806.5" stroke-opacity="0.28"/><path d="M308.9 493.6 331.5 517.2 353.8 540.8 376.1 564.4 399.1 587.5 422.9 609.7 447.7 631.1 473.3 651.4 499.8 670.7 527.7 688.2 557.0 703.5 586.4 718.5 616.2 732.2 646.5 744.3 676.8 755.6 707.1 767.1 737.5 778.1" stroke-opacity="0.29"/><path d="M329.7 519.5 351.8 543.5 373.7 567.6 396.4 591.1 420.0 613.8 444.5 635.5 470.0 656.2 496.3 675.9 524.1 693.5 553.5 708.8 583.0 723.6 613.0 737.0 643.6 748.6 674.3 759.5 704.8 770.4" stroke-opacity="0.16"/><path d="M228.1 390.4 251.2 413.5 273.1 437.4 293.7 462.0 315.1 486.0 338.6 508.2 362.2 530.0 385.6 551.8 409.7 573.0 434.6 593.6 460.2 613.4 486.6 632.3 513.8 650.3 542.0 667.1 571.2 682.6 600.0 698.3 628.8 713.4 658.1 727.0 687.1 740.2 716.0 753.7 745.1 766.7 774.3 779.6 803.3 793.4" stroke-opacity="0.34"/><path d="M230.3 387.4 254.8 408.7 278.4 430.7 301.2 452.7 324.7 474.0 349.8 494.0 375.2 513.1 400.6 531.9 426.5 550.3 452.9 568.2 479.9 585.7 507.5 602.4 535.8 618.1 564.4 634.0 593.3 649.8 621.3 666.6 648.6 683.8 676.3 699.9 703.3 716.1 729.9 732.7 757.0 748.7 784.1 764.7" stroke-opacity="0.28"/><path d="M258.5 403.8 283.8 423.7 308.9 443.2 334.5 461.8 361.3 479.4 388.6 495.7 415.9 511.5 443.6 527.1 471.7 542.3 500.1 557.3 528.9 571.7 558.2 585.2 587.3 600.1 616.0 616.1 643.2 634.2 668.9 653.5 694.9 672.1 719.9 691.4" stroke-opacity="0.28"/><path d="M248.8 416.6 269.6 441.9 288.8 468.2 308.7 493.8 331.2 517.6 353.5 541.3 375.7 564.9 398.7 588.0 422.4 610.3 447.2 631.7 472.8 652.1 499.3 671.5 527.2 689.0 556.5 704.3 585.9 719.3 615.7 733.0 646.0 744.9 676.4 756.2 706.7 767.6 737.2 778.6" stroke-opacity="0.26"/><path d="M231.7 385.6 257.0 405.8 281.6 426.6 305.7 447.1 330.5 466.8 356.6 485.4 383.1 502.9 409.7 519.9 436.6 536.6 464.0 552.9 491.8 568.9 520.2 584.2 549.0 598.7 577.9 614.0 606.7 629.9 634.2 647.5 660.6 665.9 687.3 683.5 713.1 701.5 738.4 719.9 764.2 737.8" stroke-opacity="0.24"/></g>
<g fill="#fff"><ellipse cx="338.7" cy="458.8" rx="3.5" ry="0.8" transform="rotate(27 338.7 458.8)" fill-opacity="0.53"/><ellipse cx="489.5" cy="500.0" rx="2.0" ry="0.7" transform="rotate(27 489.5 500.0)" fill-opacity="0.54"/><ellipse cx="513.9" cy="518.2" rx="2.6" ry="1.2" transform="rotate(27 513.9 518.2)" fill-opacity="0.78"/><ellipse cx="365.0" cy="462.4" rx="4.6" ry="0.9" transform="rotate(27 365.0 462.4)" fill-opacity="0.82"/><ellipse cx="342.0" cy="460.0" rx="4.2" ry="1.2" transform="rotate(27 342.0 460.0)" fill-opacity="0.80"/><ellipse cx="410.3" cy="467.8" rx="3.3" ry="1.1" transform="rotate(27 410.3 467.8)" fill-opacity="0.59"/><ellipse cx="378.0" cy="473.4" rx="4.1" ry="1.2" transform="rotate(27 378.0 473.4)" fill-opacity="0.56"/><ellipse cx="356.8" cy="471.8" rx="3.8" ry="1.1" transform="rotate(27 356.8 471.8)" fill-opacity="0.95"/><ellipse cx="498.8" cy="551.5" rx="4.2" ry="0.9" transform="rotate(27 498.8 551.5)" fill-opacity="0.79"/><ellipse cx="357.6" cy="470.8" rx="4.2" ry="1.1" transform="rotate(27 357.6 470.8)" fill-opacity="0.70"/><ellipse cx="402.8" cy="480.2" rx="1.6" ry="1.2" transform="rotate(27 402.8 480.2)" fill-opacity="0.74"/><ellipse cx="401.3" cy="485.3" rx="4.0" ry="0.9" transform="rotate(27 401.3 485.3)" fill-opacity="0.87"/><ellipse cx="512.2" cy="525.5" rx="2.0" ry="1.1" transform="rotate(27 512.2 525.5)" fill-opacity="0.95"/><ellipse cx="351.8" cy="465.4" rx="4.4" ry="1.2" transform="rotate(27 351.8 465.4)" fill-opacity="0.56"/><ellipse cx="336.1" cy="465.6" rx="1.9" ry="0.7" transform="rotate(27 336.1 465.6)" fill-opacity="0.76"/><ellipse cx="407.2" cy="498.1" rx="2.2" ry="1.2" transform="rotate(27 407.2 498.1)" fill-opacity="0.60"/><ellipse cx="492.9" cy="497.4" rx="3.2" ry="0.6" transform="rotate(27 492.9 497.4)" fill-opacity="0.64"/><ellipse cx="382.5" cy="483.6" rx="3.1" ry="0.6" transform="rotate(27 382.5 483.6)" fill-opacity="0.95"/><ellipse cx="486.3" cy="550.3" rx="2.4" ry="0.9" transform="rotate(27 486.3 550.3)" fill-opacity="0.60"/><ellipse cx="361.0" cy="446.0" rx="3.3" ry="0.7" transform="rotate(27 361.0 446.0)" fill-opacity="0.58"/><ellipse cx="496.7" cy="525.4" rx="2.1" ry="1.1" transform="rotate(27 496.7 525.4)" fill-opacity="0.62"/><ellipse cx="436.3" cy="487.9" rx="3.3" ry="1.0" transform="rotate(27 436.3 487.9)" fill-opacity="0.74"/><ellipse cx="396.5" cy="494.3" rx="4.6" ry="0.7" transform="rotate(27 396.5 494.3)" fill-opacity="0.56"/><ellipse cx="340.1" cy="468.0" rx="4.8" ry="0.8" transform="rotate(27 340.1 468.0)" fill-opacity="0.94"/><ellipse cx="367.4" cy="466.6" rx="3.2" ry="1.2" transform="rotate(27 367.4 466.6)" fill-opacity="0.52"/><ellipse cx="386.0" cy="480.2" rx="1.7" ry="0.8" transform="rotate(27 386.0 480.2)" fill-opacity="0.71"/><ellipse cx="490.5" cy="541.5" rx="4.4" ry="1.1" transform="rotate(27 490.5 541.5)" fill-opacity="0.82"/><ellipse cx="487.3" cy="534.4" rx="4.1" ry="0.8" transform="rotate(27 487.3 534.4)" fill-opacity="0.58"/><ellipse cx="486.9" cy="501.1" rx="4.7" ry="1.0" transform="rotate(27 486.9 501.1)" fill-opacity="0.65"/><ellipse cx="524.5" cy="514.5" rx="3.3" ry="0.7" transform="rotate(27 524.5 514.5)" fill-opacity="0.93"/><ellipse cx="430.2" cy="513.2" rx="2.5" ry="1.2" transform="rotate(27 430.2 513.2)" fill-opacity="0.82"/><ellipse cx="438.5" cy="526.5" rx="3.0" ry="0.9" transform="rotate(27 438.5 526.5)" fill-opacity="0.81"/><ellipse cx="497.0" cy="515.7" rx="3.8" ry="0.7" transform="rotate(27 497.0 515.7)" fill-opacity="0.75"/><ellipse cx="493.0" cy="497.3" rx="4.0" ry="0.6" transform="rotate(27 493.0 497.3)" fill-opacity="0.93"/><ellipse cx="421.0" cy="487.7" rx="4.0" ry="1.0" transform="rotate(27 421.0 487.7)" fill-opacity="0.83"/><ellipse cx="342.9" cy="454.7" rx="3.5" ry="1.3" transform="rotate(27 342.9 454.7)" fill-opacity="0.52"/><ellipse cx="411.7" cy="494.4" rx="3.4" ry="0.7" transform="rotate(27 411.7 494.4)" fill-opacity="0.77"/><ellipse cx="377.0" cy="459.5" rx="4.6" ry="0.7" transform="rotate(27 377.0 459.5)" fill-opacity="0.70"/><ellipse cx="466.9" cy="526.3" rx="3.4" ry="1.2" transform="rotate(27 466.9 526.3)" fill-opacity="0.71"/><ellipse cx="438.3" cy="518.4" rx="3.9" ry="1.0" transform="rotate(27 438.3 518.4)" fill-opacity="0.68"/><ellipse cx="439.2" cy="495.0" rx="4.1" ry="0.9" transform="rotate(27 439.2 495.0)" fill-opacity="0.71"/><ellipse cx="475.0" cy="517.1" rx="2.7" ry="1.2" transform="rotate(27 475.0 517.1)" fill-opacity="0.67"/><ellipse cx="482.6" cy="539.2" rx="3.1" ry="1.1" transform="rotate(27 482.6 539.2)" fill-opacity="0.52"/><ellipse cx="393.6" cy="496.1" rx="3.5" ry="1.0" transform="rotate(27 393.6 496.1)" fill-opacity="0.80"/><ellipse cx="456.9" cy="513.7" rx="3.0" ry="0.7" transform="rotate(27 456.9 513.7)" fill-opacity="0.63"/><ellipse cx="385.6" cy="472.9" rx="5.0" ry="0.8" transform="rotate(27 385.6 472.9)" fill-opacity="0.70"/><ellipse cx="397.3" cy="484.9" rx="4.8" ry="1.2" transform="rotate(27 397.3 484.9)" fill-opacity="0.67"/><ellipse cx="370.2" cy="483.6" rx="3.2" ry="1.1" transform="rotate(27 370.2 483.6)" fill-opacity="0.53"/><ellipse cx="504.2" cy="517.2" rx="3.2" ry="0.7" transform="rotate(27 504.2 517.2)" fill-opacity="0.69"/><ellipse cx="477.8" cy="539.7" rx="3.2" ry="1.1" transform="rotate(27 477.8 539.7)" fill-opacity="0.71"/><ellipse cx="398.6" cy="483.9" rx="2.2" ry="0.8" transform="rotate(27 398.6 483.9)" fill-opacity="0.82"/><ellipse cx="493.6" cy="497.0" rx="4.1" ry="1.2" transform="rotate(27 493.6 497.0)" fill-opacity="0.70"/><ellipse cx="336.5" cy="455.0" rx="2.4" ry="1.1" transform="rotate(27 336.5 455.0)" fill-opacity="0.67"/><ellipse cx="459.4" cy="495.9" rx="3.2" ry="1.0" transform="rotate(27 459.4 495.9)" fill-opacity="0.78"/><ellipse cx="356.8" cy="478.4" rx="2.5" ry="0.8" transform="rotate(27 356.8 478.4)" fill-opacity="0.62"/><ellipse cx="342.2" cy="449.6" rx="4.2" ry="1.1" transform="rotate(27 342.2 449.6)" fill-opacity="0.59"/><ellipse cx="357.6" cy="454.3" rx="4.2" ry="0.9" transform="rotate(27 357.6 454.3)" fill-opacity="0.92"/><ellipse cx="451.5" cy="513.4" rx="4.2" ry="1.1" transform="rotate(27 451.5 513.4)" fill-opacity="0.65"/><ellipse cx="378.5" cy="469.6" rx="3.2" ry="0.7" transform="rotate(27 378.5 469.6)" fill-opacity="0.70"/><ellipse cx="463.9" cy="490.8" rx="2.0" ry="0.7" transform="rotate(27 463.9 490.8)" fill-opacity="0.63"/><ellipse cx="534.6" cy="509.5" rx="2.1" ry="0.7" transform="rotate(27 534.6 509.5)" fill-opacity="0.71"/><ellipse cx="331.7" cy="444.8" rx="2.1" ry="0.8" transform="rotate(27 331.7 444.8)" fill-opacity="0.86"/><ellipse cx="360.6" cy="467.0" rx="2.9" ry="0.9" transform="rotate(27 360.6 467.0)" fill-opacity="0.87"/><ellipse cx="349.9" cy="472.3" rx="4.6" ry="1.1" transform="rotate(27 349.9 472.3)" fill-opacity="0.52"/><ellipse cx="453.6" cy="513.1" rx="4.2" ry="0.7" transform="rotate(27 453.6 513.1)" fill-opacity="0.93"/><ellipse cx="515.6" cy="508.5" rx="2.6" ry="0.6" transform="rotate(27 515.6 508.5)" fill-opacity="0.87"/><ellipse cx="488.6" cy="556.8" rx="3.6" ry="1.1" transform="rotate(27 488.6 556.8)" fill-opacity="0.81"/><ellipse cx="424.7" cy="518.7" rx="3.6" ry="0.8" transform="rotate(27 424.7 518.7)" fill-opacity="0.73"/><ellipse cx="327.8" cy="450.9" rx="3.9" ry="0.9" transform="rotate(27 327.8 450.9)" fill-opacity="0.88"/><ellipse cx="480.8" cy="509.2" rx="1.8" ry="0.7" transform="rotate(27 480.8 509.2)" fill-opacity="0.58"/><ellipse cx="387.4" cy="474.5" rx="4.7" ry="0.8" transform="rotate(27 387.4 474.5)" fill-opacity="0.90"/><ellipse cx="448.6" cy="526.1" rx="2.9" ry="0.6" transform="rotate(27 448.6 526.1)" fill-opacity="0.85"/><ellipse cx="382.8" cy="460.1" rx="4.3" ry="1.1" transform="rotate(27 382.8 460.1)" fill-opacity="0.60"/><ellipse cx="369.0" cy="485.3" rx="2.4" ry="1.1" transform="rotate(27 369.0 485.3)" fill-opacity="0.56"/><ellipse cx="500.7" cy="503.2" rx="3.3" ry="0.6" transform="rotate(27 500.7 503.2)" fill-opacity="0.75"/><ellipse cx="508.5" cy="504.0" rx="2.5" ry="1.1" transform="rotate(27 508.5 504.0)" fill-opacity="0.77"/><ellipse cx="384.8" cy="480.8" rx="3.1" ry="1.2" transform="rotate(27 384.8 480.8)" fill-opacity="0.63"/><ellipse cx="470.8" cy="523.6" rx="4.1" ry="0.9" transform="rotate(27 470.8 523.6)" fill-opacity="0.83"/><ellipse cx="467.5" cy="506.7" rx="1.6" ry="1.3" transform="rotate(27 467.5 506.7)" fill-opacity="0.82"/><ellipse cx="362.0" cy="472.3" rx="2.5" ry="0.9" transform="rotate(27 362.0 472.3)" fill-opacity="0.89"/><ellipse cx="420.2" cy="481.6" rx="2.6" ry="0.7" transform="rotate(27 420.2 481.6)" fill-opacity="0.60"/><ellipse cx="387.3" cy="463.2" rx="1.7" ry="0.9" transform="rotate(27 387.3 463.2)" fill-opacity="0.60"/><ellipse cx="457.2" cy="535.3" rx="2.5" ry="1.0" transform="rotate(27 457.2 535.3)" fill-opacity="0.73"/><ellipse cx="349.2" cy="443.5" rx="4.6" ry="0.9" transform="rotate(27 349.2 443.5)" fill-opacity="0.86"/><ellipse cx="338.9" cy="453.5" rx="4.5" ry="1.2" transform="rotate(27 338.9 453.5)" fill-opacity="0.50"/><ellipse cx="432.7" cy="490.8" rx="4.2" ry="0.7" transform="rotate(27 432.7 490.8)" fill-opacity="0.62"/><ellipse cx="487.6" cy="520.4" rx="3.1" ry="1.3" transform="rotate(27 487.6 520.4)" fill-opacity="0.64"/><ellipse cx="337.9" cy="446.2" rx="2.0" ry="0.7" transform="rotate(27 337.9 446.2)" fill-opacity="0.76"/><ellipse cx="511.7" cy="538.7" rx="3.8" ry="0.8" transform="rotate(27 511.7 538.7)" fill-opacity="0.76"/><ellipse cx="471.4" cy="520.9" rx="4.3" ry="1.0" transform="rotate(27 471.4 520.9)" fill-opacity="0.59"/></g>
    <rect x="150" y="300" width="340" height="280" fill="url(#tipFade)"/>
    <rect x="740" y="740" width="210" height="130" fill="url(#tailFade)"/>
  </g>
  <!-- white rim on edges -->
  <path d="M157.0 322.0 C 162.5 326.7 178.5 341.7 190.0 350.0 C 201.5 358.3 209.3 362.3 226.0 372.0 C 242.7 381.7 271.8 398.3 290.0 408.0 C 308.2 417.7 317.8 422.2 335.0 430.0 C 352.2 437.8 375.5 448.3 393.0 455.0 C 410.5 461.7 421.7 464.2 440.0 470.0 C 458.3 475.8 482.8 483.5 503.0 490.0 C 523.2 496.5 542.8 503.3 561.0 509.0 C 579.2 514.7 597.2 518.3 612.0 524.0 C 626.8 529.7 638.7 536.2 650.0 543.0 C 661.3 549.8 669.3 555.5 680.0 565.0 C 690.7 574.5 704.0 589.7 714.0 600.0 C 724.0 610.3 731.2 616.5 740.0 627.0 C 748.8 637.5 755.3 648.3 767.0 663.0 C 778.7 677.7 794.5 696.8 810.0 715.0 C 825.5 733.2 845.0 755.3 860.0 772.0 C 875.0 788.7 887.5 801.5 900.0 815.0 C 912.5 828.5 929.2 846.7 935.0 853.0 L935.0 853.0 C 929.2 851.7 915.7 849.2 900.0 845.0 C 884.3 840.8 861.5 834.7 841.0 828.0 C 820.5 821.3 801.7 812.7 777.0 805.0 C 752.3 797.3 719.8 789.5 693.0 782.0 C 666.2 774.5 634.8 765.8 616.0 760.0 C 597.2 754.2 593.8 752.8 580.0 747.0 C 566.2 741.2 546.8 731.8 533.0 725.0 C 519.2 718.2 508.6 713.6 497.0 706.0 C 485.4 698.4 474.7 688.8 463.5 679.4 C 452.3 670.0 441.1 660.0 430.0 649.6 C 418.9 639.2 408.1 628.9 397.0 617.0 C 385.9 605.1 374.2 590.8 363.5 578.0 C 352.8 565.2 344.1 553.5 333.0 540.0 C 321.9 526.5 308.8 513.5 297.0 497.0 C 285.2 480.5 271.5 455.2 262.0 441.0 C 252.5 426.8 250.3 424.5 240.0 412.0 C 229.7 399.5 213.8 381.0 200.0 366.0 C 186.2 351.0 164.2 329.3 157.0 322.0 Z" fill="none" stroke="#a24a5c" stroke-width="0.9" stroke-linejoin="round" opacity="0.35"/>
</g>

<!-- ======= skin graft ======= -->
<g transform="translate(552 606.5) rotate(29)">
  <ellipse cx="0" cy="0" rx="132" ry="62" fill="url(#graftG)"/>
  <ellipse cx="-10" cy="-8" rx="108" ry="42" fill="#f2cccb" opacity="0.45" filter="url(#blur8)"/>
  <ellipse cx="0" cy="0" rx="132" ry="62" fill="none" stroke="#7c3446" stroke-width="1.4"/>
  <ellipse cx="0" cy="1.5" rx="132" ry="62" fill="none" stroke="#c86878" stroke-width="1" opacity="0.5"/>
  <g fill="#fff" opacity="0.8">
    <ellipse cx="-95" cy="-22" rx="3" ry="1.4"/>
    <ellipse cx="-75" cy="-38" rx="2.5" ry="1.4"/>
    <ellipse cx="-62" cy="-15" rx="3" ry="1.4"/>
    <ellipse cx="-40" cy="-45" rx="2" ry="1.2"/>
    <ellipse cx="-20" cy="-30" rx="2.5" ry="1.2"/>
    <ellipse cx="5" cy="-48" rx="3" ry="1.4"/>
    <ellipse cx="30" cy="-28" rx="2.5" ry="1.3"/>
    <ellipse cx="55" cy="-40" rx="3" ry="1.4"/>
    <ellipse cx="75" cy="-20" rx="2" ry="1.2"/>
    <ellipse cx="-105" cy="18" rx="2.5" ry="1.3"/>
    <ellipse cx="-70" cy="28" rx="3" ry="1.4"/>
    <ellipse cx="-35" cy="42" rx="2.5" ry="1.3"/>
    <ellipse cx="-10" cy="15" rx="2" ry="1.2"/>
    <ellipse cx="15" cy="35" rx="2" ry="1.2"/>
    <ellipse cx="50" cy="10" rx="2" ry="1.2"/>
    <ellipse cx="95" cy="38" rx="2" ry="1.2"/>
    <ellipse cx="-50" cy="-2" rx="2" ry="1"/>
    <ellipse cx="-85" cy="2" rx="2" ry="1"/>
  </g>
</g>
<!-- sutures -->
<g stroke="#1a1a1a" stroke-width="1.3" fill="none" stroke-linecap="round">
  <path d="M471.4 516.4 L468.3 523.7 L463.1 517.7 M468.3 523.7 l0.5 3.0"/>
  <circle cx="468.3" cy="523.7" r="1.5" fill="#1a1a1a" stroke="none"/>
  <path d="M548.4 529.2 L542.1 534.1 L540.4 526.3 M542.1 534.1 l-1.0 2.8"/>
  <circle cx="542.1" cy="534.1" r="1.5" fill="#1a1a1a" stroke="none"/>
  <path d="M623.7 571.9 L616.2 574.7 L617.0 566.7 M616.2 574.7 l-1.8 2.4"/>
  <circle cx="616.2" cy="574.7" r="1.5" fill="#1a1a1a" stroke="none"/>
  <path d="M674.4 634.7 L666.5 633.4 L671.0 626.9 M666.5 633.4 l-2.8 1.2"/>
  <circle cx="666.5" cy="633.4" r="1.5" fill="#1a1a1a" stroke="none"/>
  <path d="M619.7 697.2 L623.8 690.3 L628.2 697.0 M623.8 690.3 l-0.1 -3.0"/>
  <circle cx="623.8" cy="690.3" r="1.5" fill="#1a1a1a" stroke="none"/>
  <path d="M545.5 679.8 L552.0 675.1 L553.4 683.0 M552.0 675.1 l1.1 -2.8"/>
  <circle cx="552.0" cy="675.1" r="1.5" fill="#1a1a1a" stroke="none"/>
  <path d="M476.2 637.8 L483.7 635.1 L482.8 643.1 M483.7 635.1 l1.9 -2.3"/>
  <circle cx="483.7" cy="635.1" r="1.5" fill="#1a1a1a" stroke="none"/>
  <path d="M429.5 577.9 L437.4 579.2 L432.8 585.8 M437.4 579.2 l2.8 -1.2"/>
  <circle cx="437.4" cy="579.2" r="1.5" fill="#1a1a1a" stroke="none"/>
</g>

<!-- ======= filament wire ======= -->
<path d="M529 392 C 529 405 528 416 525 428 C 520 447 510 470 506 498 C 503 520 508 540 521 554 C 529 562 536 566 542 569" fill="none" stroke="#707070" stroke-width="3.4" stroke-linecap="round"/>
<path d="M529 392 C 529 405 528 416 525 428 C 520 447 510 470 506 498 C 503 520 508 540 521 554 C 529 562 536 566 542 569" fill="none" stroke="#e0e0e0" stroke-width="1.3" stroke-linecap="round"/>

<!-- ======= blue filament tool ======= -->
<g>
  <!-- rod -->
  <g transform="translate(250 114) rotate(35.5)">
    <rect x="0" y="0" width="290" height="45" fill="url(#rodBlue)" mask="url(#rodMask)"/>
  </g>
  <!-- vertical block under beam -->
  <path d="M504.4 350 L 523.9 362 L 523.9 392.3 L 504.4 377.9 Z" fill="#2d6996"/>
  <path d="M523.9 362 L 539.6 354 L 539.6 384.5 L 523.9 392.3 Z" fill="#3776a4"/>
  <path d="M523.9 364 L 523.9 392" stroke="#6c9cc2" stroke-width="1" fill="none"/>
  <!-- beam silhouette -->
  <path d="M475 281 L 551 329 C 560 331 568 338 572.3 345.2 C 576 352 576 360 574.2 364.7 C 572 369 568 371 564.1 371 L 557.9 367.8 L 555.3 375.3 C 555 377 554 377.2 553.5 377.2 L 544.7 380.4 L 540.3 378.5 L 504.4 352.1 L 456 313 Z" fill="#2f6d9b"/>
  <!-- beam top face -->
  <path d="M475 281 L 551 329 L 545.3 333.9 L 535.9 335.7 L 519 339 L 467.6 305 Z" fill="#3f7eac"/>
  <!-- tab1 top -->
  <path d="M519 339 L 535.9 335.7 L 552 350 C 555 356 556 364 555.3 372 C 552 362 546 354 536 349 Z" fill="#3a79a8"/>
  <!-- tab2 -->
  <path d="M545.3 333.9 L 551.6 328.8 L 564 337 L 560 350 L 555.3 352.7 Z" fill="#29628e"/>
  <path d="M535.9 335.7 L 553 351 L 556 364" stroke="#1c4a70" stroke-width="2.5" fill="none"/>
  <path d="M536 348 C 546 354 553 362 555 373" stroke="#7cadd2" stroke-width="2.5" fill="none" filter="url(#blur1)"/>
  <path d="M561 337 C 569 343 574 352 574 363" stroke="#7cadd2" stroke-width="2.5" fill="none" filter="url(#blur1)"/>
  <!-- rod end face -->
  <path d="M468 306 C 470 296 478 290 489 289 L 492 312 Z" fill="#4f8aba"/>
  <!-- silver ring -->
  <path d="M475.4 280.6 L 489.1 286.5 C 481 296 472 308 466.6 320.7 L 455.9 308 C 461 298 467 288 475.4 280.6 Z" fill="url(#ringG)"/>
  <path d="M489.1 286.5 C 481 296 472 308 466.6 320.7" stroke="#ffffff" stroke-width="1.5" fill="none"/>
  <!-- cylinder -->
  <path d="M492.5 244.5 L 492.5 322 A 29.6 14 0 0 0 551.7 322 L 551.7 244.5 Z" fill="url(#cylBlue)"/>
  <ellipse cx="522.1" cy="244.5" rx="29.6" ry="14" fill="url(#cylTop)"/>
  <ellipse cx="522.1" cy="244.5" rx="29.6" ry="14" fill="none" stroke="#2a5d86" stroke-width="0.8"/>
</g>

<!-- ======= hook electrode ======= -->
<g>
  <g mask="url(#cylMask)">
    <path d="M663.5 88 L 851 88 L 838 248 A 83 20 0 0 1 672 248 Z" fill="url(#silverV)"/>
  </g>
  <!-- dark ring -->
  <path d="M672 248 A 83 20 0 0 0 838 248 L 836 274 A 81 19 0 0 1 674 274 Z" fill="#232323"/>
  <path d="M680 262 A 78 18 0 0 0 830 262" fill="none" stroke="#454545" stroke-width="3" opacity="0.7"/>
  <!-- neck -->
  <rect x="714.5" y="288" width="78" height="42" fill="url(#neckG)"/>
  <!-- black body -->
  <path d="M702 325 C 698 338 692 352 688 362 C 682 374 679.5 392 679 425 C 678.5 452 680 468 687 478 C 695 487 710 492 728 492 C 758 489 790 481 811 471 C 822 465 827 455 828 440 C 829 420 829 400 827 384 C 825 374 820 368 814 362 C 810 352 807 338 805 324 C 780 335 728 335 702 325 Z" fill="url(#bodyG)"/>
  <path d="M702 325 C 728 335 780 335 805 324 C 801 317 785 314 753 314 C 720 314 706 317 702 325 Z" fill="#555"/>
  <path d="M704 329 C 730 340 780 340 805 328" stroke="#b0b0b0" stroke-width="2" fill="none" opacity="0.8"/>
  <!-- highlights on body -->
  <g clip-path="url(#bodyClip)">
  <ellipse cx="722" cy="388" rx="5" ry="6" fill="#e8e8e8" filter="url(#blur2)"/>
  <rect x="716" y="400" width="9" height="72" rx="4" fill="#8a8a8a" opacity="0.8" filter="url(#blur2)"/>
  <path d="M740 392 C 770 382 800 374 826 372" stroke="#909090" stroke-width="7" fill="none" opacity="0.6" filter="url(#blur2)"/>
  <path d="M740 398 C 770 388 800 380 826 378" stroke="#1a1a1a" stroke-width="4" fill="none" opacity="0.5" filter="url(#blur2)"/>
  <path d="M684 372 C 682 400 681 440 684 470" stroke="#555" stroke-width="3" fill="none" opacity="0.6" filter="url(#blur2)"/>
  </g>
  <!-- hooks (back parts) -->
  <g fill="none" stroke-linecap="round">
    <path d="M736 488 L 736 522 C 736 532 744 538 754 537" stroke="#505050" stroke-width="8"/>
    <path d="M736 488 L 736 522 C 736 532 744 538 754 537" stroke="#d6d6d6" stroke-width="4.6"/>
    <path d="M789 476 L 789 496 C 789 505 796 510 806 509" stroke="#505050" stroke-width="8"/>
    <path d="M789 476 L 789 496 C 789 505 796 510 806 509" stroke="#d6d6d6" stroke-width="4.6"/>
  </g>
</g>

<!-- ======= nerve ======= -->
<g>
  <path d="M651 582 C 680 568 710 548 740 530 C 770 512 800 498 826 487 C 836 496 846 508 862 516 C 876 522 890 525 905 526" fill="none" stroke="#e9e4cc" stroke-width="15" stroke-linecap="round" opacity="0.8"/>
  <path d="M651 582 C 680 568 710 548 740 530 C 770 512 800 498 826 487 C 836 496 846 508 862 516 C 876 522 890 525 905 526" fill="none" stroke="#f6f3e6" stroke-width="16" stroke-dasharray="3 5" stroke-linecap="round" opacity="0.55"/>
  <path d="M651 582 C 680 568 710 548 740 530 C 770 512 800 498 826 487 C 836 496 846 508 862 516 C 876 522 890 525 905 526" fill="none" stroke="#d8cf9e" stroke-width="7" stroke-dasharray="5 3 2 4" opacity="0.45"/>
  <path d="M651 582 C 680 568 710 548 740 530 C 770 512 800 498 826 487 C 836 496 846 508 862 516 C 876 522 890 525 905 526" fill="none" stroke="#cfc06a" stroke-width="2" opacity="0.9"/>
  <path d="M651 579 C 680 565 710 545 740 527 C 770 509 800 495 826 484" fill="none" stroke="#fbf8ea" stroke-width="1.4" opacity="0.7"/>
  <path d="M645 580 C 642 588 650 594 660 591 C 668 588 670 578 663 574 C 656 571 648 574 645 580 Z" fill="#eee7d6" stroke="#cdbf9f" stroke-width="1"/>
  <rect x="885" y="508" width="40" height="32" fill="#f6f7f9" opacity="0.7" filter="url(#blur4)"/>
  <!-- hook fronts over nerve -->
  <g fill="none" stroke-linecap="round">
    <path d="M754 537 C 762 536 768 532 769 526 L 772 514" stroke="#505050" stroke-width="8"/>
    <path d="M754 537 C 762 536 768 532 769 526 L 772 514" stroke="#dcdcdc" stroke-width="4.6"/>
    <path d="M806 509 C 814 509 820 506 821 500 L 825 485" stroke="#505050" stroke-width="8"/>
    <path d="M806 509 C 814 509 820 506 821 500 L 825 485" stroke="#dcdcdc" stroke-width="4.6"/>
  </g>
</g>

<!-- ======= vibration device ======= -->
<g>
  <!-- soft shadow -->
  <path d="M765 655 L 950 672 L 1000 712 L 1140 732 L 1140 770 L 1000 775 L 915 790 L 770 765 Z" fill="#000" opacity="0.3" filter="url(#blur8)"/>
  <!-- cable -->
  <g mask="url(#cableMask)">
    <path d="M905 705 L 949 673 C 955 684 960 696 966 702 L 994 714 L 1050 731 C 1080 739 1110 740 1150 732 L 1150 758 C 1110 760 1080 762 1048 765 L 998 760 L 945 752 L 908 775 Z" fill="url(#cableG)"/>
    <path d="M996 714 C 1006 718 1007 756 999 760" stroke="#3c3c3c" stroke-width="7" fill="none"/>
    <path d="M1052 731 C 1062 736 1061 762 1051 765" stroke="#3c3c3c" stroke-width="7" fill="none"/>
  </g>
  <!-- box -->
  <path d="M778 651 L 946 670 C 950 672 951 678 947 686 L 916 716 L 752 686 C 757 670 765 655 778 651 Z" fill="#646261"/>
  <path d="M752 686 L 916 716 L 912 775 L 778 752 C 762 746 753 728 752 705 Z" fill="url(#boxFront)"/>
  <path d="M916 716 L 947 686 L 944 748 L 912 775 Z" fill="#454343"/>
  <path d="M752 686 L 916 716 L 947 686" stroke="#b8b6b6" stroke-width="1.3" fill="none"/>
  <!-- tape band -->
  <path d="M822 657 L 868 662 L 872 720 L 860 772 L 810 765 L 814 700 Z" fill="#dbe4ee" opacity="0.78"/>
  <!-- tan rod -->
  <g transform="translate(592 635) rotate(9.75)">
    <path d="M0 0 L 26 -10.5 L 362 -10.5 L 362 10.5 L 26 10.5 Z" fill="url(#rodTan)"/>
    <path d="M0 0 L 26 -10.5 L 362 -10.5" stroke="#f4ead6" stroke-width="1.2" fill="none"/>
    <path d="M0 0 L 26 10.5" stroke="#f0e4cc" stroke-width="1" fill="none"/>
    <ellipse cx="362" cy="0" rx="7" ry="10.5" fill="#d2b28a"/>
    <rect x="222" y="-10.5" width="58" height="21" fill="#eef2f6" opacity="0.5"/>
  </g>
</g>

<!-- ======= leader lines ======= -->
<g stroke="#6a6a6a" stroke-width="1" fill="none">
  <path d="M446.5 112 V 272"/>
  <path d="M768 193.5 H 1033"/>
  <path d="M1033 319.5 H 858.5 V 516"/>
  <path d="M1033 612.5 H 858.5 V 679"/>
  <path d="M336.5 745.5 H 516.5 V 595"/>
</g>

<!-- ======= labels ======= -->
<g fill="#111" font-size="30">
  <text transform="translate(154.5 65.8) scale(1 1.04)">Stimulation through pressure</text>
  <text transform="translate(154 100.5) scale(1 1.04)">(Semmes-Weinstein Filament)</text>
  <text transform="translate(1047 201.2) scale(1 1.04)">Hook electrode</text>
  <text transform="translate(1047 328.5) scale(1 1.04)">Nerve with</text>
  <text transform="translate(1047 364.2) scale(1 1.04)">vaseline coating</text>
  <text transform="translate(1047 620.8) scale(1 1.04)">Stimulation</text>
  <text transform="translate(1047 655.7) scale(1 1.04)">through vibration</text>
  <text transform="translate(193 754.5) scale(1 1.04)">Skin Graft</text>
</g>

<g>
<path d="M136.5 1037.0V1173.1M137.5 1031.8V1137.8M138.5 1041.2V1133.2M139.5 1030.9V1142.9M140.5 1018.7V1147.2M141.5 1031.8V1140.5M142.5 1033.3V1141.3M143.5 1031.6V1144.9M144.5 1046.1V1153.3M145.5 1032.7V1137.6M146.5 1034.8V1136.9M147.5 1020.7V1131.3M148.5 1028.2V1141.4M149.5 1038.4V1138.0M150.5 1038.9V1141.6M151.5 1028.8V1141.9M152.5 1032.4V1140.9M153.5 1031.0V1140.3M154.5 1010.3V1139.6M155.5 1020.3V1131.2M156.5 1012.8V1133.4M157.5 1032.3V1149.7M158.5 1032.3V1130.6M159.5 1023.6V1133.7M160.5 1034.1V1144.0M161.5 1011.0V1143.5M162.5 1016.4V1137.1M163.5 1032.8V1140.2M164.5 1010.3V1134.6M165.5 1028.2V1139.4M166.5 1029.5V1136.6M167.5 1020.0V1156.0M168.5 1034.9V1147.8M169.5 1025.2V1147.9M170.5 1039.9V1129.1M171.5 1033.7V1139.7M172.5 1032.2V1141.7M173.5 1026.7V1143.0M174.5 1040.1V1138.9M175.5 1027.7V1160.8M176.5 1008.1V1149.6M177.5 1037.5V1141.3M178.5 1024.6V1133.8M179.5 1032.1V1150.0M180.5 1033.9V1130.9M181.5 1034.1V1136.8M182.5 1019.2V1139.8M183.5 1030.5V1168.9M184.5 1043.6V1151.5M185.5 1015.2V1141.7M186.5 1031.0V1140.9M187.5 1023.6V1175.7M188.5 1021.4V1149.1M189.5 1016.5V1142.7M190.5 1019.6V1149.5M191.5 1038.1V1151.2M192.5 1023.6V1140.8M193.5 1020.7V1154.5M194.5 1017.9V1138.9M195.5 1013.4V1155.3M196.5 1034.6V1139.1M197.5 1032.9V1139.8M198.5 1025.8V1143.4M199.5 1020.4V1134.3M200.5 1025.4V1132.5M201.5 1036.1V1141.0M202.5 1037.7V1145.2M203.5 1035.3V1145.6M204.5 1027.3V1143.7M205.5 1028.0V1147.2M206.5 998.5V1149.3M207.5 1031.8V1141.9M208.5 997.9V1148.7M209.5 1025.6V1145.2M210.5 1031.2V1145.7M211.5 1035.4V1159.3M212.5 1040.5V1149.8M213.5 1027.3V1141.9M214.5 1016.3V1138.3M215.5 1029.5V1141.9M216.5 1036.5V1137.7M217.5 1036.4V1134.7M218.5 1016.6V1139.0M219.5 1032.3V1148.2M220.5 1004.1V1150.5M221.5 1009.9V1140.3M222.5 1033.5V1140.9M223.5 1035.2V1141.1M224.5 1034.1V1155.3M225.5 1033.3V1140.3M226.5 1021.9V1144.2M227.5 1016.4V1156.1M228.5 1018.2V1149.6M229.5 1019.6V1152.5M230.5 1024.7V1156.7M231.5 1028.6V1164.9M232.5 1029.0V1143.5M233.5 1031.8V1144.7M234.5 1034.7V1156.6M235.5 1022.7V1139.4M236.5 1020.3V1143.1M237.5 1034.9V1154.7M238.5 1020.2V1133.3M239.5 1023.5V1146.6M240.5 1034.4V1138.6M241.5 1032.7V1146.1M242.5 1032.0V1155.2M243.5 1021.5V1144.4M244.5 1033.6V1158.9M245.5 1032.5V1140.2M246.5 1031.2V1140.5M247.5 1006.0V1132.1M248.5 1031.7V1146.0M249.5 1031.0V1145.3M250.5 1019.7V1153.7M251.5 1032.9V1148.6M252.5 1025.5V1144.3M253.5 1011.3V1147.9M254.5 1027.7V1152.7M255.5 1022.6V1151.4M256.5 1020.9V1143.6M257.5 1030.8V1140.5M258.5 1027.5V1145.8M259.5 1024.5V1132.3M260.5 1035.7V1155.7M261.5 1013.5V1155.1M262.5 1035.3V1154.7M263.5 1023.8V1137.8M264.5 997.7V1158.8M265.5 1014.7V1153.7M266.5 1027.5V1154.0M267.5 1028.4V1170.0M268.5 1024.2V1139.3M269.5 1041.6V1146.7M270.5 1038.9V1161.3M271.5 1032.8V1140.7M272.5 1030.0V1137.3M273.5 1024.5V1147.4M274.5 1009.4V1139.0M275.5 1032.9V1139.1M276.5 1026.8V1158.1M277.5 1025.9V1163.5M278.5 1031.1V1159.2M279.5 1008.0V1138.8M280.5 1032.1V1152.5M281.5 1034.5V1141.4M282.5 1014.5V1138.8M283.5 1032.6V1150.5M284.5 1029.1V1154.6M285.5 1012.6V1134.6M286.5 1026.9V1166.6M287.5 1012.5V1158.0M288.5 1035.1V1161.9M289.5 1035.5V1135.9M290.5 1006.2V1138.3M291.5 1034.9V1140.4M292.5 1029.2V1126.8M293.5 1033.1V1145.1M294.5 1028.9V1148.3M295.5 1030.6V1152.8M296.5 1025.3V1144.5M297.5 1038.6V1137.2M298.5 1031.8V1154.1M299.5 1026.2V1141.4M300.5 1036.8V1149.0M301.5 1033.4V1141.4M302.5 1027.4V1136.8M303.5 1041.2V1132.9M304.5 1025.1V1139.7M305.5 1035.9V1147.1M306.5 1027.8V1142.5M307.5 1029.6V1139.7M308.5 1026.0V1139.8M309.5 1027.5V1142.9M310.5 1029.4V1137.6M311.5 1040.7V1145.3M312.5 1035.0V1140.5M313.5 1022.9V1127.1M314.5 1041.0V1149.4M315.5 1021.7V1154.6M316.5 1022.2V1141.8M317.5 1026.5V1136.5M318.5 1025.1V1139.8M319.5 1018.7V1141.9M320.5 1033.8V1152.2M321.5 1038.7V1133.1M322.5 1035.0V1149.8M323.5 1012.7V1129.9M324.5 1042.3V1147.9M325.5 1036.2V1128.0M326.5 1039.2V1152.4M327.5 1040.2V1146.1M328.5 1039.6V1133.1M329.5 1043.2V1163.1M330.5 1019.9V1147.9M331.5 1034.9V1144.5M332.5 1034.4V1132.6M333.5 1020.5V1140.4M334.5 1029.4V1147.2M335.5 1034.3V1161.3M336.5 1034.0V1153.1M337.5 1028.1V1148.2M338.5 1030.1V1142.5M339.5 1028.5V1150.9M340.5 1024.0V1132.3M341.5 1019.6V1140.4M342.5 1027.8V1135.3M343.5 1044.2V1131.3M344.5 1037.9V1130.4M345.5 1029.0V1146.4M346.5 1041.7V1161.3M347.5 1028.0V1131.7M348.5 1039.3V1139.2M349.5 1033.1V1138.2M350.5 1014.1V1136.8M351.5 1024.2V1134.8M352.5 1018.9V1143.4M353.5 1012.8V1152.6M354.5 1010.0V1147.5M355.5 1016.8V1148.3M356.5 1036.3V1140.3M357.5 1035.6V1132.5M358.5 1031.0V1140.4M359.5 1034.3V1145.5M360.5 1030.9V1134.7M361.5 1023.3V1139.4M362.5 1036.1V1135.4M363.5 1015.6V1156.7M364.5 1030.7V1137.5M365.5 1030.9V1134.6M366.5 1018.2V1148.2M367.5 1008.4V1144.2M368.5 1030.6V1137.4M369.5 1028.5V1136.5M370.5 1033.2V1153.0M371.5 1028.9V1144.4M372.5 1010.0V1139.9M373.5 1038.1V1136.7M374.5 1024.2V1148.1M375.5 1029.0V1138.3M376.5 1017.0V1137.6M377.5 1030.9V1133.7M378.5 1025.1V1144.3M379.5 1021.9V1127.5M380.5 1041.7V1144.5M381.5 1033.5V1147.5M382.5 1028.5V1138.4M383.5 1031.9V1142.8M384.5 1035.6V1145.1M385.5 1017.3V1147.0M386.5 1025.2V1153.7M387.5 1024.6V1142.9M388.5 1034.4V1144.6M389.5 1036.5V1143.0M390.5 1037.0V1151.2M391.5 1037.1V1145.9M392.5 1035.0V1136.8M393.5 1032.3V1156.0M394.5 1001.7V1144.5M395.5 1021.6V1196.2M396.5 995.7V1165.8M397.5 1027.9V1149.5M398.5 1020.5V1146.0M399.5 1029.1V1153.5M400.5 1030.6V1157.8M401.5 1032.9V1142.8M402.5 1033.7V1160.0M403.5 1014.2V1132.7M404.5 1034.2V1141.0M405.5 1034.5V1136.3M406.5 1008.0V1156.1M407.5 1031.0V1143.4M408.5 1006.0V1137.7M409.5 1028.2V1140.2M410.5 999.9V1157.0M411.5 1031.0V1154.3M412.5 1028.3V1157.0M413.5 1024.9V1153.7M414.5 1015.0V1156.7M415.5 1017.9V1165.1M416.5 1019.5V1193.9M417.5 1019.0V1138.1M418.5 1028.1V1154.7M419.5 1023.8V1178.1M420.5 1026.7V1159.0M421.5 1029.2V1172.6M422.5 1022.5V1150.2M423.5 1035.7V1160.3M424.5 1018.3V1144.2M425.5 1013.4V1135.8M426.5 1033.3V1151.2M427.5 1033.1V1140.8M428.5 998.3V1145.2M429.5 1031.3V1134.5M430.5 1037.5V1140.7M431.5 1015.7V1138.3M432.5 1012.9V1150.6M433.5 1005.1V1157.3M434.5 1016.0V1147.9M435.5 1030.6V1134.0M436.5 1029.6V1158.4M437.5 1034.4V1143.6M438.5 1034.8V1157.3M439.5 1009.8V1138.6M440.5 1029.1V1145.4M441.5 1006.7V1139.7M442.5 1032.7V1143.7M443.5 1006.8V1132.6M444.5 1037.1V1143.7M445.5 1020.2V1136.0M446.5 1038.2V1155.8M447.5 1026.0V1146.0M448.5 1036.9V1136.2M449.5 1019.8V1155.5M450.5 1016.8V1148.8M451.5 1014.2V1152.3M452.5 1030.0V1138.9M453.5 1028.7V1145.5M454.5 1026.5V1164.7M455.5 1034.5V1143.5M456.5 1029.7V1158.2M457.5 1036.0V1171.0M458.5 1018.6V1131.7M459.5 1024.8V1128.2M460.5 1022.0V1150.2M461.5 1028.2V1145.6M462.5 1020.6V1132.3M463.5 1035.8V1145.3M464.5 1036.3V1155.8M465.5 1023.7V1144.3M466.5 1030.5V1143.9M467.5 1021.6V1154.9M468.5 1006.1V1150.9M469.5 1014.9V1155.0M470.5 1026.0V1154.5M471.5 1021.8V1144.0M472.5 1021.3V1154.5M473.5 1028.0V1134.4M474.5 1004.5V1162.0M475.5 1029.3V1137.1M476.5 1033.1V1142.7M477.5 1040.4V1146.1M478.5 1017.8V1143.3M479.5 1033.4V1150.0M480.5 1022.0V1145.5M481.5 1019.4V1164.2M482.5 1031.6V1148.6M483.5 1019.3V1138.6M484.5 1028.2V1154.6M485.5 1025.1V1152.8M486.5 1011.2V1146.1M487.5 1027.7V1144.1M488.5 1034.9V1141.6M489.5 1026.2V1152.4M490.5 1042.0V1161.7M491.5 983.3V1133.7M492.5 1031.6V1138.8M493.5 1040.0V1155.4M494.5 1025.7V1169.4M495.5 1030.2V1148.8M496.5 1034.1V1138.7M497.5 1039.3V1146.4M498.5 1035.4V1144.0M499.5 1027.4V1158.6M500.5 1039.9V1154.0M501.5 1031.1V1136.8M502.5 1042.3V1138.6M503.5 1040.8V1137.6M504.5 1021.4V1136.2M505.5 1020.9V1132.9M506.5 1035.5V1150.7M507.5 1022.0V1145.7M508.5 1041.2V1151.7M509.5 1034.7V1135.8M510.5 1026.5V1144.9M511.5 1022.9V1152.9M512.5 1030.8V1138.4M513.5 1021.8V1137.7M514.5 1034.9V1145.2M515.5 1034.8V1139.9M516.5 1031.2V1145.6M517.5 1041.7V1144.2M518.5 1037.6V1135.8M519.5 1027.6V1138.8M520.5 1021.0V1133.2M521.5 1027.7V1147.5M522.5 1019.0V1145.8M523.5 1019.3V1158.3M524.5 1018.1V1162.7M525.5 1030.1V1142.6M526.5 1013.8V1153.3M527.5 1030.5V1131.5M528.5 1022.3V1147.7M529.5 1037.0V1134.0M530.5 1034.5V1148.4M531.5 1026.8V1156.7M532.5 1037.9V1157.6M533.5 1044.9V1137.1M534.5 1028.2V1144.2M535.5 1025.0V1142.4M536.5 1034.1V1145.4M537.5 1021.9V1135.9M538.5 1034.5V1137.5M539.5 1033.5V1139.0M540.5 1030.4V1156.6M541.5 1026.9V1139.0M542.5 1032.1V1142.8M543.5 1030.8V1144.3M544.5 1027.3V1135.5M545.5 980.1V1146.2M546.5 1019.8V1151.6M547.5 1039.6V1148.0M548.5 1032.4V1145.6M549.5 1033.0V1159.8M550.5 1022.3V1145.7M551.5 1029.4V1152.4M552.5 1017.5V1142.8M553.5 1010.3V1134.8M554.5 1033.0V1145.9M555.5 1023.9V1151.5M556.5 1027.1V1154.7M557.5 1012.5V1141.3M558.5 1032.1V1149.0M559.5 1034.2V1136.8M560.5 1038.6V1143.8M561.5 1035.0V1142.0M562.5 1035.5V1148.1M563.5 1029.6V1147.0M564.5 1030.3V1146.6M565.5 1023.1V1135.6M566.5 1034.1V1151.4M567.5 1027.4V1154.2M568.5 1036.7V1141.9M569.5 1025.1V1139.8M570.5 1035.5V1147.5M571.5 1028.7V1151.1M572.5 1029.1V1145.2M573.5 1033.4V1132.5M574.5 1032.3V1145.4M575.5 1032.6V1140.7M576.5 1029.1V1145.1M577.5 1032.7V1147.1M578.5 1031.0V1144.6M579.5 998.4V1139.0M580.5 1011.0V1134.3M581.5 1023.7V1159.6M582.5 1005.0V1166.9M583.5 1014.6V1171.4M584.5 1017.8V1144.2M585.5 1026.8V1141.7M586.5 1026.9V1152.3M587.5 1030.5V1169.4M588.5 1002.7V1154.2M589.5 1022.0V1156.2M590.5 1039.9V1150.4M591.5 1011.8V1153.3M592.5 1028.7V1135.8M593.5 1033.5V1145.4M594.5 1034.2V1133.1M595.5 1020.7V1143.1M596.5 1027.4V1162.5M597.5 1001.2V1154.7M598.5 1022.0V1143.6M599.5 1029.8V1144.3M600.5 1021.6V1143.8M601.5 1017.8V1147.5M602.5 1022.5V1155.1M603.5 1029.2V1147.3M604.5 1017.2V1142.4M605.5 1036.5V1136.1M606.5 1031.5V1147.8M607.5 1013.0V1142.9M608.5 1018.2V1171.8M609.5 1033.5V1163.9M610.5 1029.9V1135.7M611.5 1036.7V1159.0M612.5 1023.7V1138.1M613.5 1038.0V1144.1M614.5 1007.8V1134.7M615.5 1031.6V1140.6M616.5 1028.9V1147.0M617.5 1035.4V1136.0M618.5 1026.9V1151.4M619.5 1013.4V1138.5M620.5 1035.0V1142.1M621.5 1021.8V1145.4M622.5 1033.1V1152.5M623.5 1028.0V1142.4M624.5 1028.6V1143.4M625.5 1010.0V1147.7M626.5 1017.7V1161.4M627.5 1020.3V1145.4M628.5 1013.8V1156.2M629.5 1029.1V1162.3M630.5 1004.3V1142.5M631.5 1028.0V1145.7M632.5 1026.9V1138.2M633.5 1014.8V1154.5M634.5 1029.5V1158.6M635.5 1031.6V1156.1M636.5 1041.9V1142.0M637.5 1029.1V1154.7M638.5 1027.3V1142.7M639.5 1033.3V1144.4M640.5 1030.3V1154.6M641.5 1028.7V1138.8M642.5 1032.2V1140.0M643.5 1017.4V1147.6M644.5 1031.8V1166.7M645.5 1043.2V1155.1M646.5 1029.0V1131.2M647.5 1033.5V1134.7M648.5 1025.5V1139.8M649.5 1033.3V1146.2M650.5 1029.6V1134.9M651.5 1019.1V1173.9M652.5 991.9V1164.0M653.5 1019.0V1145.8M654.5 1021.2V1142.4M655.5 1031.9V1133.9M656.5 1018.1V1131.3M657.5 1015.5V1140.8M658.5 1024.2V1154.1M659.5 1024.1V1150.2M660.5 1036.2V1140.3M661.5 1034.4V1144.0M662.5 1021.3V1149.6M663.5 1027.8V1143.5M664.5 1008.8V1131.5M665.5 1036.2V1134.7M666.5 1020.2V1162.5M667.5 1035.9V1165.1M668.5 1025.5V1139.0M669.5 1022.5V1139.1M670.5 1037.5V1142.2M671.5 1030.1V1141.4M672.5 1031.1V1150.2M673.5 1023.0V1137.6M674.5 1036.0V1147.6M675.5 1033.7V1155.2M676.5 1025.8V1134.3M677.5 1037.8V1130.7M678.5 1038.4V1136.8M679.5 1014.6V1147.6M680.5 1024.6V1142.8M681.5 1039.6V1137.5M682.5 1024.3V1154.2M683.5 1034.4V1140.0M684.5 1031.6V1145.7M685.5 1029.8V1153.1M686.5 1028.6V1144.4M687.5 1038.6V1138.8M688.5 1039.0V1136.9M689.5 1032.5V1142.8M690.5 1037.0V1135.0M691.5 1027.3V1139.7M692.5 1027.8V1143.9M693.5 1026.4V1136.4M694.5 1033.6V1140.4M695.5 1030.5V1133.4M696.5 1029.9V1145.7M697.5 1028.3V1142.1M698.5 1030.4V1138.6M699.5 1032.2V1141.1M700.5 1031.7V1138.7M701.5 1008.1V1138.7M702.5 1012.1V1145.1M703.5 998.9V1137.0M704.5 1032.8V1139.6M705.5 1026.6V1152.7M706.5 1034.3V1180.0M707.5 1029.7V1142.9M708.5 1020.4V1144.3M709.5 1017.2V1157.6M710.5 1034.7V1155.2M711.5 1034.0V1140.4M712.5 1035.0V1138.4M713.5 1019.7V1134.5M714.5 1035.4V1146.1M715.5 1031.6V1142.5M716.5 1022.0V1155.5M717.5 1026.8V1136.9M718.5 1036.2V1145.3M719.5 1031.1V1157.4M720.5 1027.2V1136.3M721.5 1016.8V1135.9M722.5 1035.8V1137.6M723.5 1002.9V1135.9M724.5 1024.8V1143.9M725.5 1029.0V1188.7M726.5 1036.3V1131.9M727.5 1023.9V1140.3M728.5 1034.3V1152.3M729.5 1035.4V1150.7M730.5 1036.2V1133.6M731.5 1028.6V1148.1M732.5 1022.5V1137.9M733.5 1034.4V1155.2M734.5 1029.2V1146.0M735.5 1037.1V1164.9M736.5 1012.5V1141.6M737.5 1033.4V1137.2M738.5 1027.9V1142.1M739.5 1020.6V1148.3M740.5 1031.9V1145.6M741.5 1028.3V1136.1M742.5 1035.7V1140.2M743.5 1023.3V1146.3M744.5 1023.9V1153.1M745.5 1003.4V1145.4M746.5 1031.6V1149.4M747.5 1030.7V1144.0M748.5 1022.3V1137.5M749.5 1026.4V1142.3M750.5 1031.3V1136.6M751.5 1033.4V1146.0M752.5 1010.3V1147.3M753.5 1023.2V1133.5M754.5 1030.7V1132.4M755.5 1019.7V1149.4M756.5 1022.5V1155.1M757.5 1024.4V1140.6M758.5 1038.2V1161.0M759.5 1028.4V1144.7M760.5 1040.4V1150.4M761.5 1027.7V1159.7M762.5 1035.1V1152.8M763.5 1024.1V1139.6M764.5 1021.0V1128.9M765.5 1013.2V1146.1M766.5 1029.0V1153.2M767.5 1026.8V1142.1M768.5 1015.8V1132.2M769.5 1028.8V1148.5M770.5 1031.1V1148.3M771.5 997.5V1186.4M772.5 1005.2V1182.5M773.5 1029.6V1150.5M774.5 1017.4V1171.3M775.5 1036.4V1145.0M776.5 1017.2V1157.5M777.5 1030.8V1143.0M778.5 1032.8V1141.3M779.5 1002.3V1142.2M780.5 1019.4V1167.5M781.5 1022.1V1160.8M782.5 1011.5V1154.2M783.5 1005.0V1147.1M784.5 1037.7V1157.7M785.5 994.2V1149.6M786.5 1016.6V1161.8M787.5 1005.2V1153.9M788.5 994.5V1149.7M789.5 1023.1V1165.9M790.5 1034.8V1162.2M791.5 1019.7V1158.1M792.5 1022.1V1184.3M793.5 1022.2V1145.1M794.5 1031.3V1155.9M795.5 1032.3V1154.8M796.5 1012.5V1154.7M797.5 1033.7V1151.4M798.5 1033.4V1151.5M799.5 1013.0V1156.2M800.5 1025.2V1161.4M801.5 1033.2V1148.8M802.5 1031.9V1132.4M803.5 1025.6V1151.6M804.5 1025.0V1139.0M805.5 1030.2V1153.3M806.5 1023.0V1154.9M807.5 1019.5V1160.1M808.5 1014.4V1155.8M809.5 1004.7V1190.2M810.5 1005.9V1161.0M811.5 1012.5V1164.8M812.5 1002.3V1148.7M813.5 1026.3V1144.9M814.5 1023.7V1156.7M815.5 1015.1V1165.4M816.5 988.8V1192.8M817.5 1019.8V1168.6M818.5 1020.3V1149.0M819.5 1016.4V1148.2M820.5 1017.9V1151.7M821.5 1028.2V1151.0M822.5 1029.1V1140.8M823.5 1029.3V1151.6M824.5 1018.0V1176.2M825.5 1023.1V1163.8M826.5 1012.3V1140.1M827.5 1007.5V1152.0M828.5 994.3V1169.5M829.5 1010.9V1155.9M830.5 1021.8V1157.6M831.5 1033.1V1151.0M832.5 1015.5V1152.4M833.5 1030.0V1162.2M834.5 1016.9V1140.7M835.5 1002.4V1141.4M836.5 1024.6V1167.4M837.5 1024.6V1136.4M838.5 1036.7V1151.1M839.5 1010.3V1151.7M840.5 1029.2V1137.0M841.5 1019.4V1145.0M842.5 1010.4V1169.7M843.5 1014.9V1169.3M844.5 999.6V1172.2M845.5 991.1V1157.2M846.5 1023.8V1169.7M847.5 1025.0V1147.1M848.5 1032.1V1136.5M849.5 1014.0V1162.8M850.5 1032.6V1166.1M851.5 1024.9V1151.0M852.5 1010.1V1131.4M853.5 1033.8V1148.3M854.5 1035.1V1140.0M855.5 1030.7V1143.4M856.5 1036.3V1145.4M857.5 1033.4V1130.7M858.5 1036.5V1133.1M859.5 1032.9V1136.5M860.5 1020.9V1133.9M861.5 1023.6V1148.6M862.5 1035.1V1148.4M863.5 1018.1V1156.8M864.5 1030.3V1154.9M865.5 1020.0V1137.7M866.5 1015.7V1141.7M867.5 1019.8V1133.8M868.5 1030.3V1149.0M869.5 1024.2V1145.2M870.5 1005.4V1139.6M871.5 1014.8V1146.9M872.5 1032.4V1137.0M873.5 1031.7V1136.8M874.5 1023.7V1149.1M875.5 1031.2V1162.1M876.5 1012.5V1171.0M877.5 1014.6V1146.7M878.5 1029.8V1138.6M879.5 1036.3V1151.0M880.5 1026.4V1134.1M881.5 1034.0V1161.7M882.5 1041.0V1141.9M883.5 1020.2V1133.4M884.5 1031.4V1136.4M885.5 1032.7V1136.9M886.5 1031.7V1140.1M887.5 1038.0V1160.1M888.5 1042.7V1150.5M889.5 1023.6V1142.9M890.5 1031.6V1149.7M891.5 1036.8V1147.3M892.5 1040.1V1150.0M893.5 1025.0V1142.6M894.5 1023.5V1142.3M895.5 1029.9V1143.1M896.5 1041.6V1142.0M897.5 1036.8V1166.4M898.5 1027.3V1137.2M899.5 1024.9V1134.2M900.5 1020.2V1152.8M901.5 1033.7V1135.7M902.5 1028.7V1140.3M903.5 1033.7V1142.9M904.5 1040.7V1136.3M905.5 1031.3V1140.0M906.5 1029.5V1133.4M907.5 1013.9V1136.4M908.5 1038.6V1146.4M909.5 1016.1V1142.0M910.5 1032.9V1164.2M911.5 1022.7V1139.2M912.5 1029.2V1149.2M913.5 1026.4V1159.2M914.5 1031.0V1157.2M915.5 1022.9V1137.0M916.5 1037.3V1138.2M917.5 1026.5V1153.3M918.5 1022.3V1145.5M919.5 1009.1V1136.5M920.5 1029.8V1159.8M921.5 1018.8V1150.7M922.5 1038.8V1130.3M923.5 1029.8V1150.8M924.5 1032.5V1145.6M925.5 1030.4V1141.9M926.5 1037.3V1134.1M927.5 1030.0V1136.4M928.5 1019.0V1134.7M929.5 1040.3V1156.6M930.5 1023.5V1150.8M931.5 1031.6V1138.3M932.5 1030.4V1136.8M933.5 1030.2V1138.3M934.5 1014.6V1130.9M935.5 1035.0V1152.3M936.5 1017.6V1146.9M937.5 1026.6V1130.3M938.5 1034.7V1137.9M939.5 1031.6V1153.0M940.5 1033.1V1160.0M941.5 1025.9V1137.3M942.5 1041.4V1153.2M943.5 1031.2V1146.9M944.5 1033.2V1143.3M945.5 1005.5V1141.2M946.5 1028.6V1133.7M947.5 1034.5V1158.9M948.5 1026.1V1130.8M949.5 1039.3V1154.7M950.5 1028.5V1140.0M951.5 1032.0V1137.7M952.5 1026.1V1162.6M953.5 1043.1V1152.3M954.5 1013.4V1135.1M955.5 1030.2V1146.6M956.5 1030.8V1147.8M957.5 1038.0V1137.2M958.5 1029.2V1143.3M959.5 1029.8V1160.8M960.5 1024.0V1147.1M961.5 1035.9V1160.1M962.5 1034.0V1146.2M963.5 1020.3V1144.5M964.5 1026.7V1150.2M965.5 1019.3V1142.9M966.5 1028.9V1138.7M967.5 1027.6V1142.6M968.5 1040.7V1140.3M969.5 1023.3V1143.9M970.5 1024.7V1147.1M971.5 1026.0V1163.2M972.5 1016.2V1159.4M973.5 988.0V1153.4M974.5 991.6V1162.2M975.5 1001.4V1163.6M976.5 1020.9V1139.4M977.5 1037.8V1160.9M978.5 1035.3V1144.9M979.5 1026.7V1131.5M980.5 1025.7V1154.1M981.5 1002.9V1158.8M982.5 1034.6V1152.1M983.5 1033.8V1141.2M984.5 1029.4V1148.5M985.5 1026.1V1162.0M986.5 1029.6V1129.6M987.5 1013.1V1145.8M988.5 1031.2V1129.8M989.5 1032.5V1154.2M990.5 1016.4V1147.4M991.5 1027.2V1162.6M992.5 1008.1V1159.1M993.5 1020.9V1163.5M994.5 1008.6V1162.6M995.5 1012.1V1148.9M996.5 1035.2V1204.7M997.5 1014.2V1147.2M998.5 1003.2V1163.9M999.5 1024.2V1164.3M1000.5 1035.6V1156.4M1001.5 973.6V1169.0M1002.5 1018.3V1159.6M1003.5 1019.7V1177.8M1004.5 1023.0V1150.3M1005.5 1024.9V1139.2M1006.5 1036.1V1151.9M1007.5 1009.6V1154.7M1008.5 1013.2V1158.8M1009.5 1036.0V1144.6M1010.5 1033.9V1153.3M1011.5 1027.2V1145.9M1012.5 1024.3V1162.0M1013.5 1012.7V1157.0M1014.5 1003.1V1178.8M1015.5 1015.2V1168.6M1016.5 1019.2V1164.0M1017.5 1008.3V1159.0M1018.5 1000.8V1148.0M1019.5 1016.5V1149.8M1020.5 1025.1V1147.8M1021.5 1025.9V1158.8M1022.5 1035.3V1141.3M1023.5 1012.0V1143.9M1024.5 1009.6V1148.1M1025.5 1021.3V1156.1M1026.5 1026.0V1143.5M1027.5 1022.2V1143.5M1028.5 991.7V1147.3M1029.5 1022.3V1154.9M1030.5 1031.0V1137.4M1031.5 1001.2V1143.7M1032.5 1025.9V1141.5M1033.5 1028.6V1159.4M1034.5 1020.4V1154.3M1035.5 1017.4V1151.0M1036.5 1022.8V1148.9M1037.5 1024.5V1156.7M1038.5 1016.9V1154.8M1039.5 1012.6V1152.8M1040.5 1016.3V1150.9M1041.5 1028.1V1157.5M1042.5 1034.8V1146.1M1043.5 1034.1V1148.9M1044.5 1021.2V1177.6M1045.5 1023.0V1155.6M1046.5 1036.6V1140.8M1047.5 1030.9V1165.9M1048.5 1033.8V1136.5M1049.5 1023.7V1150.9M1050.5 1024.9V1157.6M1051.5 1021.7V1135.7M1052.5 1027.4V1137.8M1053.5 1018.8V1143.8M1054.5 1013.8V1163.8M1055.5 1018.5V1156.0M1056.5 1005.3V1158.7M1057.5 980.1V1163.6M1058.5 997.1V1157.8M1059.5 1028.6V1155.2M1060.5 1015.6V1142.8M1061.5 1009.5V1146.0M1062.5 1009.3V1163.4M1063.5 1031.3V1134.9M1064.5 1036.3V1137.1M1065.5 1015.4V1155.1M1066.5 1020.1V1150.3M1067.5 1018.5V1147.2M1068.5 1041.2V1143.4M1069.5 1016.7V1147.4M1070.5 1034.8V1157.0M1071.5 1030.0V1150.6M1072.5 1032.8V1172.2M1073.5 1025.2V1138.2M1074.5 1036.4V1144.0M1075.5 1025.9V1137.5M1076.5 1032.9V1130.3M1077.5 1032.9V1141.6M1078.5 1035.7V1131.1M1079.5 1025.5V1135.4M1080.5 1031.2V1162.1M1081.5 1032.4V1145.4M1082.5 1031.4V1137.2M1083.5 1028.1V1142.6M1084.5 1040.7V1138.8M1085.5 1031.0V1139.1M1086.5 1020.0V1140.4M1087.5 1034.7V1155.7M1088.5 1010.8V1137.1M1089.5 1036.4V1144.9M1090.5 998.9V1158.6M1091.5 1038.4V1159.6M1092.5 1020.2V1150.6M1093.5 1015.9V1142.7M1094.5 1023.1V1134.0M1095.5 1018.2V1149.1M1096.5 1029.9V1143.1M1097.5 1035.0V1143.1M1098.5 1013.5V1148.8M1099.5 1034.9V1155.8M1100.5 1022.8V1132.5M1101.5 1008.2V1148.5M1102.5 1007.8V1134.7M1103.5 1021.4V1154.5M1104.5 1022.8V1142.0M1105.5 1035.4V1145.3M1106.5 1023.7V1137.9M1107.5 1007.1V1152.3M1108.5 1034.6V1140.6M1109.5 1021.6V1134.3M1110.5 1033.9V1144.7M1111.5 1026.3V1141.7M1112.5 997.7V1159.1M1113.5 1023.3V1142.8M1114.5 1023.7V1138.1M1115.5 1035.4V1149.1M1116.5 1015.7V1142.1M1117.5 1031.6V1147.7M1118.5 1029.0V1132.9M1119.5 1030.0V1143.6M1120.5 1026.0V1147.4M1121.5 1028.9V1146.7M1122.5 1023.1V1151.5M1123.5 1029.1V1136.4M1124.5 1010.5V1148.3M1125.5 1038.3V1144.1M1126.5 1016.5V1170.3M1127.5 1022.8V1140.0M1128.5 1040.6V1150.2M1129.5 1014.0V1128.2M1130.5 1021.8V1135.3M1131.5 1034.6V1148.1M1132.5 1026.3V1160.1M1133.5 1032.8V1142.5M1134.5 1031.8V1136.7M1135.5 1037.0V1137.6M1136.5 1037.8V1139.0M1137.5 1035.0V1134.3M1138.5 1014.1V1164.5M1139.5 1031.3V1146.7M1140.5 1025.4V1128.7M1141.5 1033.6V1155.8M1142.5 1033.5V1146.5M1143.5 1034.4V1148.4M1144.5 1037.9V1143.9M1145.5 1036.9V1140.5M1146.5 1034.9V1132.6M1147.5 1013.2V1159.7M1148.5 1037.7V1139.5M1149.5 1013.0V1144.5M1150.5 1029.7V1145.5M1151.5 1029.0V1141.7M1152.5 1028.9V1141.5M1153.5 1025.6V1142.6M1154.5 1030.3V1148.8M1155.5 1007.4V1143.6M1156.5 1016.9V1140.1M1157.5 1028.2V1141.4M1158.5 1040.3V1141.5M1159.5 1039.8V1147.8M1160.5 1026.2V1131.9M1161.5 1032.9V1140.6M1162.5 1021.4V1135.9M1163.5 1040.2V1163.6M1164.5 1033.3V1137.4M1165.5 1016.9V1165.4M1166.5 1019.0V1154.1M1167.5 1013.3V1138.0M1168.5 1032.7V1134.2M1169.5 1031.6V1150.7M1170.5 1024.7V1138.2M1171.5 1027.3V1154.9M1172.5 1023.3V1149.9M1173.5 1026.5V1141.1M1174.5 1025.8V1133.9M1175.5 1038.9V1144.6M1176.5 1019.6V1164.4M1177.5 1005.8V1157.9M1178.5 1024.1V1137.0M1179.5 1019.2V1135.8M1180.5 997.3V1141.9M1181.5 1023.8V1137.7M1182.5 1001.4V1157.6M1183.5 1029.1V1152.3M1184.5 986.0V1178.0M1185.5 996.5V1192.1M1186.5 979.4V1198.0M1187.5 986.0V1177.8M1188.5 995.1V1165.2M1189.5 988.5V1167.8M1190.5 993.6V1159.4M1191.5 1014.8V1150.6M1192.5 1025.5V1181.4M1193.5 1027.1V1150.6M1194.5 1002.7V1158.4M1195.5 1010.4V1160.3M1196.5 1018.7V1156.1M1197.5 1023.5V1162.2M1198.5 1014.7V1148.8M1199.5 1029.7V1141.6M1200.5 1025.3V1149.8M1201.5 1024.4V1177.7M1202.5 1017.9V1158.4M1203.5 1006.9V1160.8M1204.5 995.8V1169.7M1205.5 1016.6V1162.5M1206.5 1011.1V1152.3M1207.5 1019.4V1168.6M1208.5 1024.1V1166.0M1209.5 987.8V1166.6M1210.5 1021.0V1144.7M1211.5 1015.4V1168.5M1212.5 1025.3V1165.9M1213.5 1020.7V1139.0M1214.5 1016.8V1162.4M1215.5 1013.8V1155.6M1216.5 1015.1V1153.3M1217.5 1010.0V1151.9M1218.5 1023.7V1147.9M1219.5 1016.6V1152.0M1220.5 1030.2V1157.1M1221.5 1013.1V1141.3M1222.5 1032.1V1152.3M1223.5 1021.7V1159.3M1224.5 1007.7V1155.1M1225.5 1006.7V1175.8M1226.5 1008.0V1159.8M1227.5 1009.5V1160.1M1228.5 1027.0V1152.5M1229.5 1021.1V1167.4M1230.5 1022.5V1159.8M1231.5 1014.1V1139.0M1232.5 1016.7V1157.6M1233.5 967.0V1167.9M1234.5 1016.9V1171.4M1235.5 1009.1V1183.3M1236.5 1013.9V1170.2M1237.5 999.5V1155.4M1238.5 1001.7V1145.8M1239.5 1002.3V1147.9M1240.5 1015.3V1153.3M1241.5 1031.9V1147.5M1242.5 1029.0V1147.1M1243.5 1028.5V1138.1M1244.5 1024.9V1148.3M1245.5 1018.2V1159.7M1246.5 1007.4V1175.9M1247.5 1008.9V1160.2M1248.5 1014.1V1155.1M1249.5 1025.8V1155.9M1250.5 1022.3V1165.9M1251.5 1015.7V1145.0M1252.5 1027.1V1154.4M1253.5 1030.2V1154.3M1254.5 1014.3V1148.2M1255.5 1021.2V1149.9M1256.5 1025.6V1145.3M1257.5 1015.7V1141.3M1258.5 1026.6V1143.1M1259.5 1029.0V1144.9M1260.5 1028.7V1135.2M1261.5 1029.2V1137.2M1262.5 1023.4V1142.2M1263.5 1016.2V1140.1M1264.5 1001.5V1148.0M1265.5 1015.6V1168.4M1266.5 1022.7V1171.1M1267.5 988.1V1186.8M1268.5 996.2V1153.0M1269.5 1028.2V1163.1M1270.5 1028.2V1161.8M1271.5 997.7V1143.5M1272.5 1015.6V1155.3M1273.5 1007.4V1169.4M1274.5 1028.8V1154.2M1275.5 1018.1V1150.3M1276.5 1020.3V1156.4M1277.5 1034.6V1144.8M1278.5 1032.0V1169.6M1279.5 1014.0V1142.8M1280.5 1029.1V1157.9M1281.5 1028.3V1158.0M1282.5 1023.8V1165.5M1283.5 1030.9V1139.7M1284.5 1028.6V1165.5M1285.5 1024.6V1141.5M1286.5 1034.6V1141.2M1287.5 1043.7V1156.2M1288.5 1025.9V1147.6M1289.5 1034.0V1157.8M1290.5 1033.5V1146.5M1291.5 1029.8V1150.1M1292.5 1035.3V1172.6M1293.5 1010.6V1145.2M1294.5 1006.2V1140.0M1295.5 1028.5V1140.8M1296.5 1039.4V1143.7M1297.5 1032.8V1143.0M1298.5 1034.2V1134.4M1299.5 1034.6V1154.5M1300.5 1014.0V1143.4M1301.5 1035.6V1138.7M1302.5 1038.1V1143.9M1303.5 1022.6V1133.9M1304.5 1019.0V1138.5M1305.5 1019.5V1147.8M1306.5 1030.1V1133.7M1307.5 1020.0V1144.8M1308.5 1032.3V1154.6M1309.5 1032.4V1137.3M1310.5 1041.5V1155.8M1311.5 1038.3V1136.6M1312.5 1026.4V1165.7M1313.5 1024.8V1158.2M1314.5 1033.6V1136.7M1315.5 1028.1V1141.6M1316.5 1026.0V1143.4M1317.5 1033.1V1143.8M1318.5 1021.7V1138.6M1319.5 1031.6V1141.6M1320.5 1024.4V1147.9M1321.5 1038.7V1139.2M1322.5 1031.6V1137.1M1323.5 1038.6V1149.1M1324.5 1026.8V1146.6M1325.5 1023.7V1133.8M1326.5 1028.5V1137.6M1327.5 1014.8V1142.2M1328.5 1014.3V1131.0M1329.5 1018.7V1135.1M1330.5 1014.9V1140.4M1331.5 1028.5V1139.3M1332.5 1014.1V1141.5" stroke="#000" stroke-opacity="0.55" stroke-width="1" fill="none"/>
<path d="M136.5 1040.8V1148.0M137.5 1039.8V1134.4M138.5 1041.8V1124.6M139.5 1039.9V1136.0M140.5 1045.4V1137.4M141.5 1038.6V1132.4M142.5 1035.1V1133.1M143.5 1033.5V1140.2M144.5 1048.2V1129.8M145.5 1041.7V1131.1M146.5 1039.5V1126.1M147.5 1040.5V1123.6M148.5 1045.6V1132.5M149.5 1049.4V1131.5M150.5 1040.4V1133.4M151.5 1039.6V1134.3M152.5 1041.5V1127.1M153.5 1036.7V1132.4M154.5 1033.9V1134.4M155.5 1039.3V1127.7M156.5 1037.4V1130.5M157.5 1042.3V1136.8M158.5 1039.1V1128.0M159.5 1041.1V1124.1M160.5 1036.8V1127.2M161.5 1038.6V1132.6M162.5 1035.7V1135.5M163.5 1040.6V1135.9M164.5 1038.0V1131.0M165.5 1045.0V1134.4M166.5 1030.7V1135.1M167.5 1031.9V1136.6M168.5 1040.4V1136.2M169.5 1036.3V1140.9M170.5 1042.2V1125.4M171.5 1038.8V1130.9M172.5 1036.6V1136.2M173.5 1040.4V1134.3M174.5 1041.4V1129.0M175.5 1037.0V1144.0M176.5 1032.1V1141.2M177.5 1041.8V1136.7M178.5 1031.3V1129.0M179.5 1041.6V1141.8M180.5 1036.7V1128.0M181.5 1040.6V1136.0M182.5 1035.2V1130.7M183.5 1040.1V1140.9M184.5 1046.1V1131.9M185.5 1042.0V1132.3M186.5 1034.3V1137.5M187.5 1032.3V1128.3M188.5 1038.9V1144.0M189.5 1031.6V1140.2M190.5 1036.2V1139.3M191.5 1045.3V1139.2M192.5 1039.3V1130.3M193.5 1031.4V1139.8M194.5 1036.1V1130.4M195.5 1040.2V1135.3M196.5 1036.7V1136.6M197.5 1040.1V1132.9M198.5 1028.1V1134.7M199.5 1038.1V1133.5M200.5 1034.9V1131.1M201.5 1040.1V1129.9M202.5 1041.0V1131.7M203.5 1039.8V1134.3M204.5 1040.3V1136.4M205.5 1033.7V1136.1M206.5 1027.1V1138.3M207.5 1034.4V1135.3M208.5 1026.9V1135.5M209.5 1032.1V1141.2M210.5 1035.8V1142.9M211.5 1038.6V1125.8M212.5 1042.0V1134.3M213.5 1032.2V1138.4M214.5 1039.5V1128.3M215.5 1044.8V1133.6M216.5 1043.2V1125.5M217.5 1038.5V1129.4M218.5 1037.4V1128.9M219.5 1036.3V1135.0M220.5 1034.8V1133.1M221.5 1033.0V1134.2M222.5 1042.9V1135.6M223.5 1036.7V1136.6M224.5 1036.8V1137.7M225.5 1038.0V1139.9M226.5 1037.0V1137.6M227.5 1030.0V1136.2M228.5 1028.4V1146.5M229.5 1024.9V1145.6M230.5 1031.0V1144.1M231.5 1035.3V1136.7M232.5 1034.5V1128.8M233.5 1044.6V1135.4M234.5 1038.1V1132.8M235.5 1034.3V1134.1M236.5 1030.3V1140.7M237.5 1047.5V1143.0M238.5 1029.1V1130.4M239.5 1038.6V1140.1M240.5 1041.6V1134.4M241.5 1036.8V1135.7M242.5 1046.3V1138.3M243.5 1040.0V1137.7M244.5 1041.3V1140.9M245.5 1033.8V1132.1M246.5 1032.9V1131.1M247.5 1034.1V1128.4M248.5 1039.9V1139.6M249.5 1037.5V1140.6M250.5 1026.4V1137.2M251.5 1035.8V1133.5M252.5 1031.0V1139.3M253.5 1034.4V1137.7M254.5 1044.7V1130.3M255.5 1040.0V1138.5M256.5 1040.8V1133.3M257.5 1032.4V1131.2M258.5 1032.0V1135.7M259.5 1042.1V1130.5M260.5 1040.1V1139.5M261.5 1029.9V1131.0M262.5 1045.3V1126.6M263.5 1030.0V1134.0M264.5 1031.0V1144.2M265.5 1036.4V1139.7M266.5 1034.6V1145.0M267.5 1035.0V1139.6M268.5 1030.1V1136.2M269.5 1045.8V1136.2M270.5 1043.3V1142.0M271.5 1037.5V1133.6M272.5 1032.7V1130.2M273.5 1042.2V1130.3M274.5 1032.3V1132.5M275.5 1036.7V1132.4M276.5 1038.6V1133.5M277.5 1030.7V1148.6M278.5 1043.2V1144.1M279.5 1030.4V1130.0M280.5 1038.9V1133.9M281.5 1040.5V1130.3M282.5 1035.5V1131.7M283.5 1041.9V1143.4M284.5 1034.5V1142.2M285.5 1021.3V1132.0M286.5 1030.2V1140.4M287.5 1031.4V1148.6M288.5 1038.1V1138.8M289.5 1038.1V1131.5M290.5 1041.2V1136.0M291.5 1037.8V1129.8M292.5 1039.7V1123.8M293.5 1040.7V1139.2M294.5 1041.2V1145.1M295.5 1036.6V1141.6M296.5 1034.2V1140.2M297.5 1041.4V1130.1M298.5 1032.5V1132.4M299.5 1031.5V1135.3M300.5 1046.2V1145.8M301.5 1043.7V1138.8M302.5 1038.9V1134.5M303.5 1043.9V1128.4M304.5 1040.8V1133.5M305.5 1044.4V1134.1M306.5 1039.0V1137.4M307.5 1033.9V1128.2M308.5 1028.8V1133.5M309.5 1034.6V1141.2M310.5 1036.2V1129.8M311.5 1044.4V1133.7M312.5 1043.0V1135.3M313.5 1036.7V1124.6M314.5 1046.8V1127.8M315.5 1040.8V1137.3M316.5 1045.7V1140.6M317.5 1041.3V1130.9M318.5 1044.0V1131.1M319.5 1038.1V1138.4M320.5 1038.2V1143.4M321.5 1044.5V1131.9M322.5 1038.3V1139.7M323.5 1036.4V1127.4M324.5 1046.3V1144.5M325.5 1038.3V1122.2M326.5 1044.2V1132.5M327.5 1041.6V1135.1M328.5 1043.6V1125.5M329.5 1045.5V1129.4M330.5 1041.7V1127.0M331.5 1041.9V1142.0M332.5 1041.8V1126.4M333.5 1039.1V1137.2M334.5 1038.4V1138.2M335.5 1037.4V1142.8M336.5 1040.5V1127.6M337.5 1042.3V1134.0M338.5 1035.8V1138.9M339.5 1036.9V1138.7M340.5 1031.5V1129.5M341.5 1038.2V1129.6M342.5 1040.5V1127.9M343.5 1045.4V1126.1M344.5 1045.2V1128.8M345.5 1041.7V1127.3M346.5 1046.8V1134.8M347.5 1034.3V1129.0M348.5 1041.6V1129.2M349.5 1043.9V1130.4M350.5 1033.7V1127.1M351.5 1042.6V1127.4M352.5 1031.0V1135.2M353.5 1041.9V1135.7M354.5 1036.3V1132.0M355.5 1039.6V1142.0M356.5 1044.5V1134.1M357.5 1043.5V1130.5M358.5 1033.8V1132.1M359.5 1039.4V1133.5M360.5 1046.3V1128.3M361.5 1038.6V1135.3M362.5 1043.7V1129.9M363.5 1032.2V1133.6M364.5 1042.6V1133.4M365.5 1036.1V1129.7M366.5 1039.2V1125.0M367.5 1034.5V1134.3M368.5 1037.9V1130.4M369.5 1035.4V1133.0M370.5 1037.0V1135.8M371.5 1044.2V1133.0M372.5 1038.1V1134.8M373.5 1039.9V1135.4M374.5 1032.7V1135.8M375.5 1031.3V1133.5M376.5 1030.1V1132.7M377.5 1036.6V1130.8M378.5 1031.4V1135.1M379.5 1032.7V1125.1M380.5 1043.6V1140.0M381.5 1037.4V1133.8M382.5 1037.6V1129.8M383.5 1036.0V1135.6M384.5 1039.2V1136.0M385.5 1032.3V1138.7M386.5 1042.5V1140.7M387.5 1035.6V1132.8M388.5 1044.7V1128.9M389.5 1046.4V1129.7M390.5 1042.0V1134.7M391.5 1044.6V1141.2M392.5 1040.6V1130.7M393.5 1037.8V1135.9M394.5 1027.9V1139.2M395.5 1037.1V1141.2M396.5 1016.5V1158.7M397.5 1031.1V1136.8M398.5 1029.3V1143.2M399.5 1032.9V1150.0M400.5 1036.9V1140.2M401.5 1034.1V1138.8M402.5 1035.2V1142.0M403.5 1036.9V1129.4M404.5 1038.9V1136.4M405.5 1041.0V1129.0M406.5 1029.5V1131.9M407.5 1035.7V1132.5M408.5 1030.2V1129.4M409.5 1031.6V1133.9M410.5 1022.3V1137.3M411.5 1033.8V1147.5M412.5 1036.7V1146.2M413.5 1025.7V1149.5M414.5 1025.7V1144.7M415.5 1042.0V1148.0M416.5 1024.7V1141.2M417.5 1039.8V1136.1M418.5 1030.6V1140.8M419.5 1043.9V1130.4M420.5 1037.4V1146.8M421.5 1034.4V1148.3M422.5 1036.2V1138.5M423.5 1037.6V1133.5M424.5 1035.8V1138.4M425.5 1038.0V1132.8M426.5 1036.5V1141.3M427.5 1036.9V1135.0M428.5 1037.1V1143.9M429.5 1039.1V1129.2M430.5 1042.8V1136.6M431.5 1032.1V1134.5M432.5 1021.5V1142.5M433.5 1021.3V1140.5M434.5 1029.7V1140.5M435.5 1036.1V1132.0M436.5 1032.9V1141.0M437.5 1040.0V1139.2M438.5 1038.6V1139.5M439.5 1023.3V1134.2M440.5 1035.8V1138.7M441.5 1036.4V1132.5M442.5 1046.0V1133.1M443.5 1042.6V1129.6M444.5 1040.8V1135.5M445.5 1040.4V1134.2M446.5 1043.7V1134.4M447.5 1038.5V1131.8M448.5 1038.7V1134.0M449.5 1025.2V1141.8M450.5 1030.9V1146.7M451.5 1035.4V1146.0M452.5 1032.4V1136.9M453.5 1040.2V1139.1M454.5 1032.3V1135.3M455.5 1038.3V1140.9M456.5 1034.8V1149.4M457.5 1041.3V1140.4M458.5 1046.1V1127.8M459.5 1033.6V1123.7M460.5 1037.1V1140.0M461.5 1037.8V1137.5M462.5 1031.1V1127.2M463.5 1040.6V1132.4M464.5 1039.4V1145.0M465.5 1039.2V1141.5M466.5 1034.2V1135.8M467.5 1030.7V1138.1M468.5 1024.5V1144.1M469.5 1028.2V1147.8M470.5 1033.1V1146.1M471.5 1036.8V1139.5M472.5 1035.1V1141.2M473.5 1032.8V1131.4M474.5 1038.2V1134.7M475.5 1035.4V1133.8M476.5 1036.5V1133.9M477.5 1048.1V1143.1M478.5 1035.9V1137.8M479.5 1034.4V1136.9M480.5 1028.0V1136.3M481.5 1032.3V1147.8M482.5 1038.4V1138.3M483.5 1027.9V1128.4M484.5 1030.4V1147.9M485.5 1045.2V1140.8M486.5 1028.5V1135.8M487.5 1045.7V1138.2M488.5 1040.5V1130.7M489.5 1042.4V1136.9M490.5 1048.8V1145.5M491.5 1036.6V1128.0M492.5 1043.3V1134.6M493.5 1042.5V1141.0M494.5 1032.8V1139.0M495.5 1036.7V1143.9M496.5 1037.4V1131.2M497.5 1043.7V1132.5M498.5 1040.1V1128.5M499.5 1031.6V1135.8M500.5 1043.5V1140.1M501.5 1039.1V1133.0M502.5 1044.7V1124.9M503.5 1042.3V1132.5M504.5 1040.1V1123.3M505.5 1035.6V1131.9M506.5 1040.0V1138.4M507.5 1038.5V1133.0M508.5 1047.1V1140.8M509.5 1042.8V1130.9M510.5 1030.9V1137.9M511.5 1034.6V1142.7M512.5 1036.8V1135.7M513.5 1038.2V1132.8M514.5 1040.9V1132.6M515.5 1043.3V1130.8M516.5 1037.8V1135.9M517.5 1043.4V1138.8M518.5 1041.0V1135.2M519.5 1040.0V1132.6M520.5 1036.4V1128.7M521.5 1034.7V1139.5M522.5 1045.4V1138.4M523.5 1030.5V1132.2M524.5 1043.1V1151.1M525.5 1042.5V1134.5M526.5 1036.9V1134.3M527.5 1036.2V1130.0M528.5 1042.3V1128.4M529.5 1047.5V1133.0M530.5 1043.5V1134.0M531.5 1037.0V1136.1M532.5 1044.1V1132.5M533.5 1047.5V1132.3M534.5 1033.7V1132.7M535.5 1042.8V1134.0M536.5 1040.8V1133.2M537.5 1039.1V1132.4M538.5 1042.6V1132.2M539.5 1045.9V1135.3M540.5 1035.6V1124.6M541.5 1042.7V1131.2M542.5 1038.1V1123.1M543.5 1044.9V1137.9M544.5 1034.6V1133.6M545.5 1039.2V1137.3M546.5 1032.0V1142.1M547.5 1041.4V1135.8M548.5 1037.2V1130.5M549.5 1043.2V1144.9M550.5 1041.6V1133.1M551.5 1038.9V1135.5M552.5 1035.4V1129.2M553.5 1034.9V1130.8M554.5 1041.2V1135.0M555.5 1035.7V1141.8M556.5 1046.6V1131.7M557.5 1030.0V1131.4M558.5 1043.8V1139.4M559.5 1044.1V1128.5M560.5 1042.6V1136.0M561.5 1042.6V1140.0M562.5 1040.3V1133.8M563.5 1032.5V1140.8M564.5 1042.2V1141.3M565.5 1036.7V1130.7M566.5 1039.9V1140.0M567.5 1040.1V1137.9M568.5 1039.2V1133.8M569.5 1036.7V1133.2M570.5 1040.1V1127.8M571.5 1032.0V1132.2M572.5 1031.2V1133.7M573.5 1037.0V1126.0M574.5 1039.6V1133.6M575.5 1045.2V1133.5M576.5 1042.2V1133.2M577.5 1040.9V1140.0M578.5 1039.9V1138.2M579.5 1042.0V1125.2M580.5 1033.2V1128.5M581.5 1033.0V1137.8M582.5 1030.4V1139.0M583.5 1026.8V1141.4M584.5 1026.8V1140.6M585.5 1045.3V1136.4M586.5 1031.8V1136.2M587.5 1035.0V1141.4M588.5 1030.6V1148.1M589.5 1029.7V1137.9M590.5 1042.2V1138.7M591.5 1038.5V1134.4M592.5 1036.0V1131.8M593.5 1040.2V1128.0M594.5 1040.7V1128.4M595.5 1032.8V1132.6M596.5 1040.0V1139.0M597.5 1029.7V1144.4M598.5 1030.3V1140.3M599.5 1032.2V1140.7M600.5 1031.8V1139.0M601.5 1034.9V1140.6M602.5 1033.5V1137.3M603.5 1033.0V1126.4M604.5 1026.5V1138.7M605.5 1038.5V1132.5M606.5 1039.9V1143.7M607.5 1019.0V1136.1M608.5 1020.3V1143.8M609.5 1036.7V1137.5M610.5 1036.2V1127.0M611.5 1043.1V1146.2M612.5 1036.2V1130.8M613.5 1046.9V1136.6M614.5 1040.7V1126.3M615.5 1038.9V1127.6M616.5 1036.6V1140.5M617.5 1045.2V1134.4M618.5 1038.2V1145.9M619.5 1025.3V1130.9M620.5 1045.6V1136.3M621.5 1039.3V1136.6M622.5 1036.1V1136.3M623.5 1036.1V1130.9M624.5 1034.9V1132.7M625.5 1035.4V1140.9M626.5 1035.3V1138.2M627.5 1039.2V1135.7M628.5 1037.8V1134.2M629.5 1042.8V1140.7M630.5 1028.3V1133.4M631.5 1038.5V1143.5M632.5 1035.9V1131.4M633.5 1026.1V1136.9M634.5 1034.8V1141.5M635.5 1037.2V1134.5M636.5 1048.7V1129.8M637.5 1033.8V1142.3M638.5 1033.9V1137.5M639.5 1034.5V1134.4M640.5 1039.7V1143.0M641.5 1032.7V1133.6M642.5 1041.5V1135.0M643.5 1031.0V1130.8M644.5 1039.1V1144.4M645.5 1049.0V1142.2M646.5 1047.2V1123.7M647.5 1040.7V1133.2M648.5 1036.5V1135.6M649.5 1035.3V1135.3M650.5 1037.1V1131.6M651.5 1025.1V1145.6M652.5 1017.6V1148.4M653.5 1030.3V1137.9M654.5 1037.6V1136.2M655.5 1037.5V1129.9M656.5 1032.4V1125.2M657.5 1028.2V1135.2M658.5 1027.8V1139.2M659.5 1028.4V1142.2M660.5 1041.1V1137.5M661.5 1038.8V1134.9M662.5 1033.1V1133.7M663.5 1035.8V1132.8M664.5 1039.0V1125.3M665.5 1038.3V1132.5M666.5 1037.7V1138.4M667.5 1040.1V1143.3M668.5 1036.5V1129.3M669.5 1041.5V1133.1M670.5 1042.5V1132.3M671.5 1035.6V1132.7M672.5 1034.5V1130.3M673.5 1035.2V1133.1M674.5 1045.0V1135.4M675.5 1041.2V1138.4M676.5 1040.9V1131.4M677.5 1041.9V1128.8M678.5 1043.0V1135.0M679.5 1033.7V1137.1M680.5 1038.5V1130.8M681.5 1043.0V1131.7M682.5 1039.0V1130.5M683.5 1041.2V1135.2M684.5 1034.5V1138.6M685.5 1038.8V1144.4M686.5 1032.4V1132.1M687.5 1044.0V1134.9M688.5 1039.9V1132.1M689.5 1035.5V1132.2M690.5 1041.4V1133.0M691.5 1036.8V1130.5M692.5 1031.4V1130.4M693.5 1035.8V1134.7M694.5 1034.0V1127.1M695.5 1037.1V1132.8M696.5 1036.1V1144.8M697.5 1042.6V1138.9M698.5 1040.3V1129.7M699.5 1033.0V1136.8M700.5 1037.8V1135.0M701.5 1039.9V1137.0M702.5 1042.1V1131.4M703.5 1036.3V1131.2M704.5 1043.0V1130.5M705.5 1044.2V1130.9M706.5 1044.7V1137.4M707.5 1039.4V1134.1M708.5 1043.0V1135.3M709.5 1032.0V1135.6M710.5 1048.4V1138.9M711.5 1043.1V1126.9M712.5 1040.3V1129.1M713.5 1038.6V1130.6M714.5 1044.5V1134.9M715.5 1040.9V1132.3M716.5 1038.4V1147.1M717.5 1034.9V1136.2M718.5 1042.5V1138.8M719.5 1041.9V1132.4M720.5 1032.0V1133.9M721.5 1036.2V1132.9M722.5 1042.4V1131.9M723.5 1035.0V1134.2M724.5 1034.4V1139.7M725.5 1036.8V1141.8M726.5 1042.7V1128.9M727.5 1037.7V1137.0M728.5 1043.4V1140.1M729.5 1038.7V1137.6M730.5 1039.4V1130.9M731.5 1029.5V1132.8M732.5 1044.8V1125.6M733.5 1037.8V1128.0M734.5 1035.7V1130.1M735.5 1039.7V1141.4M736.5 1034.4V1131.9M737.5 1043.8V1123.7M738.5 1041.2V1129.6M739.5 1039.8V1132.4M740.5 1040.1V1141.2M741.5 1034.9V1129.9M742.5 1040.3V1132.2M743.5 1032.6V1131.1M744.5 1037.5V1142.0M745.5 1039.5V1136.8M746.5 1036.3V1139.2M747.5 1034.9V1134.2M748.5 1044.8V1130.0M749.5 1028.9V1130.2M750.5 1042.2V1129.2M751.5 1041.6V1128.2M752.5 1038.2V1134.9M753.5 1027.3V1130.0M754.5 1038.6V1128.8M755.5 1033.0V1144.7M756.5 1029.0V1133.4M757.5 1033.6V1135.6M758.5 1040.3V1132.6M759.5 1034.9V1132.0M760.5 1046.0V1136.8M761.5 1041.9V1133.5M762.5 1040.3V1140.8M763.5 1042.0V1131.1M764.5 1039.3V1124.9M765.5 1048.1V1139.9M766.5 1042.6V1144.8M767.5 1030.3V1130.9M768.5 1027.2V1126.1M769.5 1035.9V1134.6M770.5 1037.3V1139.6M771.5 1023.2V1151.4M772.5 1019.8V1150.3M773.5 1035.3V1139.2M774.5 1026.3V1149.4M775.5 1038.1V1140.7M776.5 1036.2V1139.8M777.5 1032.6V1132.7M778.5 1035.8V1136.6M779.5 1032.2V1138.6M780.5 1034.7V1143.2M781.5 1035.5V1144.7M782.5 1024.7V1139.3M783.5 1030.1V1139.7M784.5 1038.4V1152.6M785.5 1030.5V1127.3M786.5 1024.0V1144.2M787.5 1033.1V1142.5M788.5 1031.0V1136.8M789.5 1039.3V1146.0M790.5 1039.2V1151.8M791.5 1026.9V1145.6M792.5 1026.6V1144.6M793.5 1024.9V1142.7M794.5 1041.2V1143.7M795.5 1038.4V1140.1M796.5 1035.2V1134.1M797.5 1036.9V1138.6M798.5 1042.2V1137.9M799.5 1028.3V1144.4M800.5 1041.3V1142.7M801.5 1037.3V1137.0M802.5 1039.3V1128.5M803.5 1033.0V1130.5M804.5 1042.8V1132.6M805.5 1041.3V1138.8M806.5 1031.8V1144.9M807.5 1027.8V1144.6M808.5 1016.4V1141.5M809.5 1032.1V1160.4M810.5 1021.7V1146.6M811.5 1020.5V1136.6M812.5 1022.9V1135.5M813.5 1034.5V1140.7M814.5 1033.1V1140.8M815.5 1034.3V1145.6M816.5 1022.7V1143.1M817.5 1026.8V1149.4M818.5 1039.2V1138.5M819.5 1035.2V1139.2M820.5 1034.5V1138.3M821.5 1032.9V1145.4M822.5 1036.4V1130.9M823.5 1038.0V1132.6M824.5 1021.0V1146.4M825.5 1037.9V1150.4M826.5 1028.8V1137.2M827.5 1021.2V1147.3M828.5 1022.0V1144.2M829.5 1025.7V1152.6M830.5 1033.5V1138.2M831.5 1034.9V1132.8M832.5 1047.8V1137.5M833.5 1037.9V1143.1M834.5 1023.0V1138.3M835.5 1036.0V1139.7M836.5 1039.7V1150.0M837.5 1034.6V1133.7M838.5 1037.2V1137.5M839.5 1032.3V1141.5M840.5 1034.9V1128.4M841.5 1027.1V1138.5M842.5 1031.5V1141.0M843.5 1030.5V1141.5M844.5 1024.7V1153.8M845.5 1008.0V1152.4M846.5 1028.4V1149.4M847.5 1035.9V1131.3M848.5 1039.4V1133.6M849.5 1040.1V1146.5M850.5 1034.8V1135.3M851.5 1028.5V1140.9M852.5 1033.3V1129.8M853.5 1040.9V1135.1M854.5 1040.6V1133.3M855.5 1038.8V1132.1M856.5 1039.3V1141.9M857.5 1039.0V1129.1M858.5 1040.3V1124.1M859.5 1041.7V1131.4M860.5 1040.1V1128.5M861.5 1025.5V1135.7M862.5 1043.6V1141.4M863.5 1036.5V1135.8M864.5 1039.8V1138.9M865.5 1037.6V1136.6M866.5 1029.4V1133.7M867.5 1037.7V1131.7M868.5 1035.6V1133.7M869.5 1038.4V1132.9M870.5 1040.6V1122.9M871.5 1037.1V1127.7M872.5 1041.0V1129.2M873.5 1039.6V1130.5M874.5 1036.6V1140.7M875.5 1031.7V1133.4M876.5 1038.5V1129.2M877.5 1030.6V1131.0M878.5 1039.0V1130.8M879.5 1041.6V1143.0M880.5 1032.8V1126.9M881.5 1039.2V1137.5M882.5 1045.3V1138.9M883.5 1038.0V1128.6M884.5 1036.9V1127.6M885.5 1038.8V1129.9M886.5 1039.1V1136.5M887.5 1041.9V1131.3M888.5 1044.4V1136.7M889.5 1029.5V1133.6M890.5 1039.4V1137.0M891.5 1041.9V1135.6M892.5 1041.1V1138.4M893.5 1039.2V1131.0M894.5 1037.7V1131.0M895.5 1040.4V1135.4M896.5 1043.5V1130.6M897.5 1040.5V1136.6M898.5 1035.1V1126.4M899.5 1026.5V1129.4M900.5 1041.6V1136.0M901.5 1037.9V1128.4M902.5 1038.3V1138.1M903.5 1046.1V1129.4M904.5 1041.4V1126.9M905.5 1036.7V1131.7M906.5 1035.6V1126.0M907.5 1022.9V1129.6M908.5 1045.1V1137.1M909.5 1030.7V1136.1M910.5 1042.0V1131.7M911.5 1033.3V1132.9M912.5 1039.3V1131.0M913.5 1034.7V1135.8M914.5 1036.0V1127.6M915.5 1033.9V1133.1M916.5 1039.1V1130.7M917.5 1039.2V1139.2M918.5 1034.6V1141.8M919.5 1039.2V1132.9M920.5 1033.7V1140.5M921.5 1043.0V1135.3M922.5 1041.6V1129.0M923.5 1037.2V1134.8M924.5 1040.6V1137.5M925.5 1037.7V1133.2M926.5 1040.9V1132.1M927.5 1041.4V1130.0M928.5 1041.1V1130.6M929.5 1043.0V1140.7M930.5 1043.8V1131.4M931.5 1039.8V1134.3M932.5 1035.3V1126.7M933.5 1037.7V1131.6M934.5 1038.1V1126.7M935.5 1039.0V1133.8M936.5 1037.4V1132.9M937.5 1043.1V1128.9M938.5 1041.0V1129.4M939.5 1039.7V1135.2M940.5 1039.4V1141.6M941.5 1030.0V1131.0M942.5 1042.8V1148.9M943.5 1041.4V1137.3M944.5 1039.7V1133.1M945.5 1033.7V1133.6M946.5 1044.2V1132.4M947.5 1044.3V1141.8M948.5 1035.9V1126.6M949.5 1043.2V1128.3M950.5 1035.0V1136.7M951.5 1040.8V1136.5M952.5 1040.0V1129.5M953.5 1046.3V1130.7M954.5 1034.5V1128.4M955.5 1035.5V1135.3M956.5 1039.8V1136.9M957.5 1041.3V1131.4M958.5 1041.8V1140.7M959.5 1048.2V1140.5M960.5 1040.6V1137.7M961.5 1037.7V1142.9M962.5 1044.1V1130.2M963.5 1038.9V1134.5M964.5 1037.9V1142.1M965.5 1037.5V1134.5M966.5 1036.7V1136.4M967.5 1042.6V1139.5M968.5 1046.4V1134.4M969.5 1031.8V1136.2M970.5 1033.0V1140.7M971.5 1033.8V1137.4M972.5 1025.8V1140.3M973.5 1012.0V1149.9M974.5 1029.1V1147.7M975.5 1023.5V1149.2M976.5 1036.1V1137.1M977.5 1040.0V1137.3M978.5 1041.3V1137.7M979.5 1036.3V1126.0M980.5 1032.8V1138.1M981.5 1031.5V1142.0M982.5 1035.0V1142.1M983.5 1039.0V1136.8M984.5 1041.2V1140.1M985.5 1040.5V1137.0M986.5 1037.6V1126.6M987.5 1041.5V1141.3M988.5 1035.7V1127.7M989.5 1033.8V1130.5M990.5 1020.2V1139.9M991.5 1033.1V1143.3M992.5 1034.8V1147.6M993.5 1031.2V1153.5M994.5 1013.6V1160.7M995.5 1025.9V1146.6M996.5 1042.0V1147.7M997.5 1029.7V1137.8M998.5 1017.0V1144.6M999.5 1030.1V1147.5M1000.5 1042.1V1140.4M1001.5 1031.7V1143.8M1002.5 1032.5V1149.5M1003.5 1025.1V1153.9M1004.5 1029.7V1136.2M1005.5 1032.7V1138.0M1006.5 1040.1V1138.1M1007.5 1039.7V1137.6M1008.5 1036.1V1137.7M1009.5 1042.9V1140.9M1010.5 1038.2V1142.9M1011.5 1029.9V1139.7M1012.5 1030.9V1144.9M1013.5 1025.6V1140.9M1014.5 1017.4V1151.6M1015.5 1019.9V1156.5M1016.5 1035.8V1143.9M1017.5 1038.4V1144.4M1018.5 1031.4V1143.5M1019.5 1028.0V1143.2M1020.5 1029.1V1139.8M1021.5 1038.5V1145.0M1022.5 1042.3V1136.3M1023.5 1033.5V1137.9M1024.5 1023.0V1139.2M1025.5 1030.2V1147.6M1026.5 1029.2V1139.4M1027.5 1036.7V1140.4M1028.5 1012.7V1138.1M1029.5 1037.0V1140.3M1030.5 1034.9V1135.9M1031.5 1017.5V1133.2M1032.5 1031.0V1140.4M1033.5 1041.4V1142.4M1034.5 1033.6V1142.7M1035.5 1023.7V1141.6M1036.5 1030.2V1145.9M1037.5 1030.3V1148.4M1038.5 1032.6V1147.7M1039.5 1021.2V1150.4M1040.5 1027.2V1134.9M1041.5 1031.4V1143.9M1042.5 1035.5V1139.9M1043.5 1035.3V1135.6M1044.5 1031.3V1150.4M1045.5 1035.2V1131.8M1046.5 1041.9V1134.6M1047.5 1034.0V1131.4M1048.5 1035.8V1131.5M1049.5 1043.2V1139.6M1050.5 1042.1V1143.8M1051.5 1037.6V1128.7M1052.5 1034.6V1134.3M1053.5 1033.4V1132.9M1054.5 1019.8V1155.0M1055.5 1025.6V1142.4M1056.5 1020.8V1145.3M1057.5 1015.1V1152.9M1058.5 1016.9V1144.1M1059.5 1035.7V1142.3M1060.5 1027.5V1135.7M1061.5 1036.8V1134.5M1062.5 1040.4V1132.7M1063.5 1034.9V1131.4M1064.5 1039.1V1133.0M1065.5 1021.2V1144.7M1066.5 1034.6V1135.4M1067.5 1025.8V1142.1M1068.5 1041.9V1139.0M1069.5 1035.0V1134.0M1070.5 1036.7V1140.8M1071.5 1040.8V1137.8M1072.5 1043.9V1140.7M1073.5 1039.3V1134.7M1074.5 1041.8V1135.3M1075.5 1041.2V1132.3M1076.5 1037.7V1129.1M1077.5 1034.1V1133.7M1078.5 1037.6V1125.9M1079.5 1038.2V1133.6M1080.5 1036.5V1137.7M1081.5 1041.0V1135.4M1082.5 1033.1V1134.0M1083.5 1039.3V1140.4M1084.5 1047.0V1134.1M1085.5 1040.1V1128.4M1086.5 1039.8V1131.4M1087.5 1041.0V1131.2M1088.5 1035.8V1133.2M1089.5 1042.5V1134.5M1090.5 1035.2V1140.0M1091.5 1040.2V1133.1M1092.5 1035.0V1139.3M1093.5 1037.8V1136.3M1094.5 1044.2V1126.9M1095.5 1042.4V1137.9M1096.5 1041.6V1135.4M1097.5 1041.5V1132.6M1098.5 1034.1V1127.2M1099.5 1039.4V1137.4M1100.5 1034.8V1128.9M1101.5 1028.6V1131.2M1102.5 1038.1V1129.1M1103.5 1039.0V1133.6M1104.5 1042.0V1140.6M1105.5 1042.9V1134.5M1106.5 1036.7V1133.6M1107.5 1044.5V1140.0M1108.5 1042.2V1138.2M1109.5 1028.9V1128.7M1110.5 1038.9V1138.3M1111.5 1035.6V1134.8M1112.5 1033.8V1138.6M1113.5 1035.0V1137.2M1114.5 1034.0V1132.7M1115.5 1044.9V1137.0M1116.5 1031.3V1134.2M1117.5 1045.0V1142.1M1118.5 1033.4V1129.6M1119.5 1038.8V1132.2M1120.5 1034.7V1132.1M1121.5 1038.0V1130.1M1122.5 1041.8V1140.6M1123.5 1037.4V1134.9M1124.5 1033.5V1137.8M1125.5 1044.4V1135.4M1126.5 1035.1V1134.8M1127.5 1040.3V1129.4M1128.5 1043.8V1139.4M1129.5 1038.5V1127.1M1130.5 1036.0V1128.1M1131.5 1036.9V1129.9M1132.5 1040.3V1131.9M1133.5 1038.7V1133.3M1134.5 1039.4V1128.5M1135.5 1039.9V1132.9M1136.5 1038.2V1128.2M1137.5 1039.6V1130.3M1138.5 1035.9V1136.6M1139.5 1038.0V1136.5M1140.5 1035.3V1127.3M1141.5 1038.1V1132.5M1142.5 1042.9V1129.7M1143.5 1036.5V1129.4M1144.5 1043.1V1133.4M1145.5 1039.7V1135.6M1146.5 1037.8V1128.4M1147.5 1030.6V1135.7M1148.5 1046.8V1133.1M1149.5 1039.8V1140.6M1150.5 1038.5V1129.6M1151.5 1041.1V1130.1M1152.5 1038.8V1132.7M1153.5 1047.6V1135.9M1154.5 1036.2V1135.4M1155.5 1039.5V1134.3M1156.5 1029.6V1136.0M1157.5 1033.3V1133.2M1158.5 1045.5V1131.4M1159.5 1043.7V1145.3M1160.5 1038.3V1130.2M1161.5 1037.4V1133.8M1162.5 1036.7V1134.4M1163.5 1046.7V1137.2M1164.5 1044.4V1135.2M1165.5 1046.3V1135.8M1166.5 1040.7V1138.6M1167.5 1039.0V1130.8M1168.5 1037.1V1131.1M1169.5 1039.5V1133.7M1170.5 1033.5V1131.0M1171.5 1034.6V1144.0M1172.5 1028.3V1138.1M1173.5 1041.3V1131.0M1174.5 1043.0V1128.0M1175.5 1040.0V1133.0M1176.5 1031.9V1144.5M1177.5 1032.0V1143.0M1178.5 1033.8V1131.1M1179.5 1038.7V1134.4M1180.5 1040.0V1139.9M1181.5 1028.1V1132.6M1182.5 1028.2V1154.4M1183.5 1031.3V1141.6M1184.5 988.8V1153.1M1185.5 1006.3V1171.8M1186.5 1006.8V1171.8M1187.5 998.4V1174.6M1188.5 1016.7V1156.3M1189.5 1015.5V1156.3M1190.5 1001.0V1156.4M1191.5 1028.1V1145.4M1192.5 1031.4V1146.6M1193.5 1033.0V1145.5M1194.5 1020.4V1142.6M1195.5 1025.3V1145.4M1196.5 1031.0V1139.0M1197.5 1034.0V1145.1M1198.5 1038.6V1136.4M1199.5 1037.6V1133.6M1200.5 1032.3V1139.1M1201.5 1036.1V1138.4M1202.5 1023.3V1145.8M1203.5 1014.8V1156.1M1204.5 1017.2V1157.2M1205.5 1019.7V1153.5M1206.5 1017.3V1142.8M1207.5 1026.8V1145.5M1208.5 1034.8V1152.4M1209.5 1031.3V1149.6M1210.5 1033.6V1140.5M1211.5 1019.8V1154.5M1212.5 1035.7V1147.4M1213.5 1033.7V1135.4M1214.5 1018.9V1151.3M1215.5 1020.5V1143.4M1216.5 1036.3V1142.9M1217.5 1027.5V1141.7M1218.5 1034.6V1140.9M1219.5 1033.5V1142.9M1220.5 1034.5V1138.4M1221.5 1027.3V1131.7M1222.5 1033.9V1134.5M1223.5 1034.7V1142.9M1224.5 1009.1V1143.1M1225.5 1011.3V1156.9M1226.5 1021.2V1151.5M1227.5 1024.0V1143.2M1228.5 1036.4V1144.0M1229.5 1036.0V1153.2M1230.5 1024.8V1144.2M1231.5 1034.1V1137.9M1232.5 1032.3V1147.8M1233.5 1019.9V1151.1M1234.5 1024.5V1153.9M1235.5 1028.9V1154.2M1236.5 1029.1V1145.0M1237.5 1023.6V1145.9M1238.5 1030.0V1144.3M1239.5 1005.0V1143.8M1240.5 1033.8V1145.9M1241.5 1034.4V1134.3M1242.5 1032.1V1141.9M1243.5 1033.9V1135.6M1244.5 1034.0V1144.2M1245.5 1027.3V1141.7M1246.5 1018.4V1156.0M1247.5 1013.8V1157.6M1248.5 1025.0V1143.0M1249.5 1033.6V1144.7M1250.5 1026.9V1148.7M1251.5 1036.1V1139.0M1252.5 1035.8V1136.7M1253.5 1038.2V1145.0M1254.5 1035.1V1138.4M1255.5 1039.2V1136.9M1256.5 1031.1V1137.3M1257.5 1032.6V1130.9M1258.5 1032.5V1137.5M1259.5 1040.5V1142.0M1260.5 1036.7V1129.1M1261.5 1032.1V1134.7M1262.5 1034.7V1135.8M1263.5 1038.2V1133.6M1264.5 1027.9V1139.2M1265.5 1028.2V1152.8M1266.5 1028.4V1146.1M1267.5 1021.6V1162.8M1268.5 1006.5V1149.9M1269.5 1033.7V1151.2M1270.5 1032.9V1144.7M1271.5 1026.3V1132.2M1272.5 1026.7V1146.3M1273.5 1028.8V1131.9M1274.5 1033.6V1148.8M1275.5 1033.9V1145.7M1276.5 1029.5V1142.1M1277.5 1039.3V1136.8M1278.5 1035.0V1143.1M1279.5 1040.8V1139.4M1280.5 1031.5V1144.9M1281.5 1032.6V1141.0M1282.5 1033.1V1147.7M1283.5 1043.2V1133.7M1284.5 1038.4V1140.7M1285.5 1039.2V1134.2M1286.5 1036.0V1131.7M1287.5 1047.9V1136.7M1288.5 1039.7V1131.1M1289.5 1040.0V1140.5M1290.5 1038.9V1135.9M1291.5 1037.2V1132.5M1292.5 1043.6V1147.4M1293.5 1036.5V1139.4M1294.5 1032.8V1132.2M1295.5 1038.7V1137.7M1296.5 1042.4V1142.7M1297.5 1037.6V1135.2M1298.5 1043.2V1131.9M1299.5 1042.9V1137.6M1300.5 1041.2V1132.8M1301.5 1038.6V1128.7M1302.5 1040.7V1137.4M1303.5 1042.6V1131.3M1304.5 1041.9V1129.8M1305.5 1031.3V1137.2M1306.5 1036.3V1125.8M1307.5 1040.6V1127.0M1308.5 1039.5V1133.4M1309.5 1038.8V1131.5M1310.5 1042.4V1132.9M1311.5 1042.3V1132.4M1312.5 1040.1V1137.4M1313.5 1033.5V1130.8M1314.5 1044.3V1135.3M1315.5 1046.5V1132.4M1316.5 1033.8V1129.3M1317.5 1040.7V1132.6M1318.5 1045.7V1131.8M1319.5 1041.4V1133.3M1320.5 1033.3V1136.8M1321.5 1043.1V1132.8M1322.5 1037.3V1129.3M1323.5 1046.7V1135.1M1324.5 1039.9V1130.9M1325.5 1030.6V1131.5M1326.5 1033.3V1127.9M1327.5 1040.7V1133.0M1328.5 1032.3V1128.1M1329.5 1037.1V1126.3M1330.5 1035.0V1130.3M1331.5 1040.6V1134.0M1332.5 1027.2V1137.6" stroke="#000" stroke-opacity="0.6" stroke-width="1" fill="none"/>
<path d="M136.5 1047.4V1130.1M137.5 1045.0V1129.5M138.5 1046.7V1121.1M139.5 1045.6V1125.6M140.5 1049.4V1135.8M141.5 1045.5V1125.9M142.5 1045.1V1127.5M143.5 1042.1V1127.8M144.5 1051.8V1120.2M145.5 1046.1V1127.1M146.5 1047.2V1124.2M147.5 1043.2V1120.8M148.5 1047.2V1125.8M149.5 1050.2V1123.5M150.5 1044.1V1127.5M151.5 1044.7V1131.5M152.5 1046.8V1123.4M153.5 1043.5V1126.5M154.5 1040.1V1130.6M155.5 1046.5V1122.9M156.5 1043.4V1125.5M157.5 1045.0V1126.1M158.5 1046.6V1126.8M159.5 1050.1V1120.7M160.5 1045.0V1119.3M161.5 1045.0V1125.4M162.5 1039.8V1127.6M163.5 1047.5V1130.9M164.5 1044.9V1127.3M165.5 1049.1V1130.8M166.5 1042.5V1131.3M167.5 1042.3V1124.8M168.5 1046.9V1134.5M169.5 1048.1V1131.1M170.5 1049.4V1121.5M171.5 1047.7V1124.9M172.5 1046.6V1126.0M173.5 1044.0V1125.9M174.5 1043.0V1123.3M175.5 1041.0V1121.6M176.5 1040.1V1132.8M177.5 1046.1V1129.8M178.5 1044.1V1123.2M179.5 1045.9V1130.1M180.5 1041.3V1125.7M181.5 1047.3V1130.1M182.5 1041.9V1126.3M183.5 1046.3V1131.5M184.5 1050.5V1127.2M185.5 1044.7V1128.3M186.5 1039.8V1123.1M187.5 1039.4V1125.4M188.5 1042.8V1135.2M189.5 1038.0V1134.7M190.5 1044.2V1135.0M191.5 1046.8V1128.1M192.5 1043.2V1123.8M193.5 1042.1V1126.8M194.5 1045.6V1126.9M195.5 1044.9V1128.8M196.5 1040.4V1128.1M197.5 1043.5V1126.1M198.5 1047.1V1128.5M199.5 1045.9V1131.7M200.5 1042.5V1130.2M201.5 1045.0V1124.4M202.5 1046.1V1124.1M203.5 1043.7V1125.9M204.5 1043.7V1133.9M205.5 1036.8V1131.4M206.5 1037.2V1126.2M207.5 1040.0V1132.8M208.5 1039.9V1129.2M209.5 1034.3V1134.3M210.5 1045.8V1129.6M211.5 1043.0V1119.7M212.5 1048.0V1126.6M213.5 1039.5V1126.2M214.5 1048.1V1125.4M215.5 1046.9V1126.4M216.5 1045.3V1123.5M217.5 1042.1V1127.4M218.5 1042.9V1127.2M219.5 1043.6V1128.0M220.5 1039.1V1126.2M221.5 1041.1V1129.2M222.5 1047.4V1133.2M223.5 1042.4V1129.7M224.5 1044.5V1126.4M225.5 1047.4V1135.1M226.5 1046.1V1129.5M227.5 1039.1V1132.4M228.5 1035.8V1138.6M229.5 1036.3V1136.2M230.5 1036.0V1135.4M231.5 1045.1V1130.1M232.5 1047.0V1122.3M233.5 1046.8V1132.1M234.5 1042.7V1129.2M235.5 1039.0V1131.1M236.5 1038.5V1135.4M237.5 1049.7V1135.5M238.5 1040.0V1122.7M239.5 1042.1V1136.5M240.5 1044.1V1129.7M241.5 1049.0V1131.6M242.5 1052.2V1128.4M243.5 1044.8V1128.7M244.5 1047.3V1132.5M245.5 1040.4V1121.9M246.5 1037.5V1130.7M247.5 1044.4V1127.2M248.5 1045.9V1130.0M249.5 1041.5V1130.9M250.5 1038.8V1130.6M251.5 1044.4V1128.8M252.5 1037.9V1134.2M253.5 1044.0V1132.9M254.5 1045.8V1126.3M255.5 1048.2V1129.0M256.5 1042.7V1129.0M257.5 1036.3V1124.6M258.5 1038.9V1126.3M259.5 1046.0V1124.3M260.5 1043.1V1133.7M261.5 1034.7V1126.2M262.5 1047.1V1121.5M263.5 1038.1V1131.9M264.5 1036.6V1132.8M265.5 1042.5V1134.4M266.5 1040.6V1126.9M267.5 1042.9V1127.4M268.5 1039.9V1130.1M269.5 1046.8V1133.0M270.5 1046.8V1127.8M271.5 1042.2V1127.5M272.5 1048.4V1123.6M273.5 1046.0V1125.0M274.5 1043.2V1130.5M275.5 1040.2V1126.0M276.5 1043.5V1125.5M277.5 1044.7V1133.1M278.5 1046.2V1134.3M279.5 1039.0V1125.5M280.5 1047.1V1129.9M281.5 1051.1V1126.7M282.5 1042.0V1128.3M283.5 1044.2V1137.3M284.5 1040.7V1136.7M285.5 1044.0V1128.0M286.5 1035.2V1136.8M287.5 1040.8V1139.0M288.5 1044.2V1129.3M289.5 1040.3V1127.0M290.5 1048.4V1129.1M291.5 1045.9V1119.8M292.5 1049.2V1121.1M293.5 1044.1V1133.8M294.5 1044.8V1130.2M295.5 1041.0V1129.7M296.5 1042.4V1131.5M297.5 1042.0V1126.8M298.5 1041.8V1124.3M299.5 1043.6V1130.4M300.5 1051.1V1135.0M301.5 1046.3V1133.1M302.5 1046.8V1122.7M303.5 1050.2V1123.8M304.5 1048.8V1123.7M305.5 1049.8V1130.1M306.5 1045.6V1125.4M307.5 1046.3V1123.8M308.5 1041.9V1127.8M309.5 1042.0V1130.5M310.5 1042.5V1122.6M311.5 1048.9V1131.3M312.5 1046.9V1130.0M313.5 1041.5V1123.6M314.5 1049.0V1123.3M315.5 1042.8V1130.9M316.5 1048.1V1131.7M317.5 1045.2V1122.8M318.5 1048.5V1126.9M319.5 1046.7V1129.7M320.5 1043.0V1141.1M321.5 1048.0V1125.0M322.5 1044.7V1132.5M323.5 1043.3V1126.3M324.5 1048.9V1127.3M325.5 1040.6V1120.5M326.5 1048.3V1126.4M327.5 1048.3V1127.5M328.5 1045.7V1119.1M329.5 1050.5V1128.4M330.5 1045.4V1123.9M331.5 1046.8V1126.0M332.5 1049.9V1122.6M333.5 1045.1V1125.3M334.5 1046.6V1132.6M335.5 1039.7V1137.6M336.5 1043.9V1125.5M337.5 1043.1V1127.1M338.5 1046.0V1133.5M339.5 1045.2V1128.4M340.5 1039.0V1124.0M341.5 1040.4V1123.4M342.5 1044.1V1122.8M343.5 1046.7V1121.6M344.5 1047.3V1124.2M345.5 1046.6V1123.4M346.5 1050.7V1127.6M347.5 1040.2V1124.7M348.5 1045.5V1125.5M349.5 1049.3V1123.3M350.5 1040.1V1121.3M351.5 1047.5V1125.0M352.5 1040.4V1132.5M353.5 1047.6V1125.5M354.5 1041.3V1125.6M355.5 1047.2V1133.2M356.5 1047.5V1129.6M357.5 1046.8V1124.4M358.5 1043.1V1130.7M359.5 1048.7V1126.8M360.5 1048.3V1124.3M361.5 1042.9V1130.5M362.5 1046.3V1127.2M363.5 1041.6V1125.7M364.5 1045.3V1125.5M365.5 1045.6V1123.8M366.5 1046.7V1124.3M367.5 1041.1V1124.6M368.5 1045.5V1127.3M369.5 1043.3V1127.2M370.5 1047.2V1130.2M371.5 1048.3V1125.6M372.5 1042.4V1133.4M373.5 1047.3V1128.8M374.5 1045.9V1124.4M375.5 1051.4V1131.3M376.5 1042.6V1130.1M377.5 1048.4V1125.9M378.5 1042.0V1130.0M379.5 1041.9V1121.4M380.5 1052.5V1135.4M381.5 1044.6V1125.4M382.5 1041.4V1127.3M383.5 1047.4V1128.7M384.5 1043.9V1128.2M385.5 1039.3V1126.5M386.5 1046.9V1129.5M387.5 1040.3V1126.1M388.5 1051.2V1126.6M389.5 1049.3V1121.8M390.5 1045.7V1126.4M391.5 1046.8V1135.0M392.5 1044.3V1126.0M393.5 1044.7V1132.3M394.5 1035.2V1133.8M395.5 1038.9V1137.1M396.5 1026.9V1136.7M397.5 1041.4V1130.4M398.5 1039.4V1135.9M399.5 1035.4V1134.9M400.5 1046.2V1132.1M401.5 1043.9V1136.2M402.5 1038.1V1133.0M403.5 1046.7V1124.7M404.5 1043.8V1131.0M405.5 1049.2V1125.3M406.5 1043.4V1128.2M407.5 1038.2V1128.0M408.5 1038.5V1125.6M409.5 1040.5V1126.0M410.5 1031.1V1132.3M411.5 1040.1V1141.7M412.5 1040.1V1136.9M413.5 1034.4V1137.7M414.5 1034.9V1141.8M415.5 1044.7V1139.4M416.5 1036.6V1134.9M417.5 1042.1V1133.3M418.5 1040.7V1134.8M419.5 1047.9V1123.1M420.5 1044.1V1133.2M421.5 1042.9V1134.3M422.5 1040.6V1133.6M423.5 1040.7V1131.8M424.5 1038.4V1126.7M425.5 1043.4V1128.1M426.5 1041.5V1133.1M427.5 1041.7V1129.7M428.5 1044.2V1133.5M429.5 1045.4V1127.0M430.5 1044.7V1127.4M431.5 1041.2V1131.3M432.5 1028.8V1136.5M433.5 1033.0V1137.3M434.5 1036.3V1132.7M435.5 1040.6V1125.3M436.5 1041.7V1131.3M437.5 1043.3V1134.9M438.5 1047.3V1136.6M439.5 1031.2V1132.9M440.5 1042.5V1133.3M441.5 1045.5V1126.5M442.5 1048.0V1131.7M443.5 1046.1V1123.7M444.5 1047.3V1131.0M445.5 1042.5V1130.0M446.5 1047.1V1131.3M447.5 1043.3V1126.7M448.5 1044.3V1127.4M449.5 1038.6V1138.6M450.5 1042.1V1137.2M451.5 1040.7V1139.0M452.5 1042.6V1132.8M453.5 1042.9V1132.5M454.5 1040.6V1131.1M455.5 1041.7V1138.9M456.5 1044.0V1137.4M457.5 1043.4V1138.1M458.5 1047.3V1124.2M459.5 1048.1V1123.3M460.5 1043.3V1129.6M461.5 1042.6V1126.7M462.5 1039.2V1124.7M463.5 1043.7V1126.9M464.5 1043.9V1132.0M465.5 1048.0V1127.0M466.5 1042.0V1123.3M467.5 1038.6V1133.3M468.5 1035.2V1138.0M469.5 1034.9V1138.2M470.5 1039.6V1137.8M471.5 1038.3V1132.0M472.5 1042.3V1131.8M473.5 1040.1V1127.8M474.5 1046.0V1131.7M475.5 1038.5V1131.6M476.5 1039.8V1129.4M477.5 1049.8V1131.1M478.5 1038.9V1128.9M479.5 1039.2V1131.1M480.5 1039.2V1134.1M481.5 1041.8V1138.6M482.5 1043.2V1132.4M483.5 1043.6V1125.2M484.5 1033.7V1138.2M485.5 1046.8V1134.7M486.5 1041.5V1133.4M487.5 1046.1V1133.8M488.5 1046.0V1126.1M489.5 1044.6V1133.4M490.5 1050.1V1136.3M491.5 1047.0V1127.0M492.5 1047.2V1133.2M493.5 1045.7V1133.0M494.5 1038.0V1130.6M495.5 1046.3V1137.5M496.5 1039.6V1123.8M497.5 1045.7V1125.5M498.5 1044.6V1121.7M499.5 1042.0V1125.3M500.5 1047.9V1133.6M501.5 1044.4V1128.3M502.5 1051.4V1123.7M503.5 1045.6V1129.1M504.5 1049.1V1121.4M505.5 1045.2V1127.8M506.5 1041.5V1123.6M507.5 1042.7V1128.4M508.5 1048.8V1132.6M509.5 1043.9V1127.9M510.5 1033.6V1126.6M511.5 1044.9V1135.1M512.5 1045.5V1126.6M513.5 1047.8V1126.3M514.5 1045.4V1130.8M515.5 1050.6V1127.4M516.5 1047.8V1134.0M517.5 1047.0V1133.9M518.5 1043.4V1132.5M519.5 1042.5V1129.5M520.5 1037.8V1126.4M521.5 1046.4V1129.4M522.5 1048.2V1130.8M523.5 1042.1V1130.7M524.5 1046.5V1135.6M525.5 1045.2V1124.2M526.5 1044.0V1125.2M527.5 1040.8V1123.3M528.5 1044.8V1126.0M529.5 1051.5V1129.0M530.5 1045.0V1126.0M531.5 1045.4V1125.8M532.5 1046.4V1128.6M533.5 1050.6V1127.5M534.5 1040.9V1128.0M535.5 1048.1V1128.6M536.5 1049.5V1128.0M537.5 1043.5V1122.8M538.5 1043.5V1127.1M539.5 1047.2V1132.2M540.5 1042.7V1121.9M541.5 1047.5V1126.4M542.5 1040.0V1121.8M543.5 1046.9V1132.8M544.5 1038.1V1128.7M545.5 1045.5V1128.7M546.5 1038.5V1133.8M547.5 1045.4V1123.7M548.5 1040.1V1125.5M549.5 1045.4V1125.0M550.5 1046.2V1123.8M551.5 1040.8V1127.1M552.5 1041.8V1124.6M553.5 1042.8V1124.2M554.5 1045.2V1127.2M555.5 1044.7V1124.7M556.5 1050.8V1129.5M557.5 1045.7V1126.1M558.5 1046.5V1131.4M559.5 1045.5V1125.9M560.5 1047.1V1130.0M561.5 1046.9V1132.6M562.5 1048.1V1130.0M563.5 1042.4V1134.4M564.5 1048.6V1132.1M565.5 1043.6V1127.3M566.5 1047.5V1123.1M567.5 1044.1V1130.2M568.5 1045.7V1125.8M569.5 1042.0V1127.0M570.5 1048.1V1122.7M571.5 1039.9V1125.1M572.5 1037.8V1129.8M573.5 1041.7V1122.3M574.5 1045.9V1125.3M575.5 1048.3V1123.0M576.5 1043.7V1124.3M577.5 1044.7V1133.4M578.5 1049.8V1126.5M579.5 1044.0V1123.5M580.5 1036.7V1125.0M581.5 1037.2V1131.6M582.5 1034.7V1133.6M583.5 1032.5V1135.8M584.5 1038.2V1137.3M585.5 1047.6V1128.5M586.5 1038.1V1135.8M587.5 1039.2V1131.0M588.5 1037.5V1135.0M589.5 1041.7V1129.2M590.5 1044.4V1128.0M591.5 1045.0V1127.0M592.5 1038.9V1128.5M593.5 1042.6V1125.8M594.5 1043.6V1127.0M595.5 1048.7V1127.1M596.5 1045.2V1131.6M597.5 1040.5V1136.5M598.5 1037.4V1130.2M599.5 1041.1V1135.4M600.5 1038.9V1133.5M601.5 1040.7V1135.0M602.5 1037.0V1127.8M603.5 1047.6V1124.7M604.5 1034.6V1136.1M605.5 1040.8V1131.2M606.5 1042.3V1137.7M607.5 1029.7V1131.1M608.5 1037.6V1139.4M609.5 1040.4V1131.6M610.5 1043.2V1124.9M611.5 1046.6V1130.4M612.5 1042.9V1128.0M613.5 1049.3V1131.2M614.5 1045.6V1125.2M615.5 1046.9V1124.8M616.5 1039.8V1125.2M617.5 1047.4V1130.5M618.5 1040.8V1133.3M619.5 1037.8V1124.5M620.5 1046.4V1131.3M621.5 1045.9V1132.3M622.5 1040.4V1135.2M623.5 1042.5V1127.4M624.5 1043.4V1128.9M625.5 1043.5V1129.8M626.5 1037.2V1127.1M627.5 1047.4V1129.6M628.5 1042.4V1130.9M629.5 1043.6V1133.8M630.5 1036.5V1127.8M631.5 1039.9V1131.9M632.5 1044.5V1126.1M633.5 1041.1V1133.8M634.5 1041.5V1135.6M635.5 1042.8V1129.8M636.5 1052.7V1124.6M637.5 1036.7V1137.2M638.5 1044.8V1132.8M639.5 1038.3V1132.1M640.5 1044.3V1132.2M641.5 1040.0V1128.7M642.5 1046.5V1130.8M643.5 1038.9V1126.0M644.5 1041.7V1127.6M645.5 1049.9V1134.2M646.5 1048.7V1120.6M647.5 1047.8V1128.8M648.5 1039.7V1132.3M649.5 1041.2V1128.6M650.5 1042.1V1129.7M651.5 1041.8V1135.7M652.5 1034.5V1142.0M653.5 1035.2V1128.6M654.5 1044.7V1129.5M655.5 1041.8V1124.8M656.5 1040.6V1123.2M657.5 1038.9V1128.7M658.5 1043.5V1136.2M659.5 1041.2V1133.5M660.5 1043.3V1127.6M661.5 1043.3V1129.6M662.5 1044.0V1128.0M663.5 1040.2V1131.7M664.5 1043.2V1122.5M665.5 1043.9V1125.9M666.5 1041.1V1127.5M667.5 1042.2V1134.3M668.5 1042.2V1123.3M669.5 1043.8V1130.7M670.5 1050.4V1131.3M671.5 1043.3V1131.7M672.5 1041.5V1126.8M673.5 1041.0V1124.1M674.5 1047.4V1128.2M675.5 1044.1V1127.9M676.5 1048.1V1125.5M677.5 1050.7V1124.6M678.5 1046.6V1128.1M679.5 1041.8V1129.2M680.5 1042.8V1127.1M681.5 1047.1V1129.3M682.5 1042.8V1125.4M683.5 1046.5V1132.9M684.5 1042.8V1130.1M685.5 1044.0V1142.4M686.5 1039.2V1129.6M687.5 1046.2V1127.2M688.5 1043.2V1125.4M689.5 1044.0V1128.9M690.5 1045.8V1128.0M691.5 1044.3V1128.0M692.5 1040.4V1122.8M693.5 1038.9V1126.1M694.5 1038.7V1121.9M695.5 1041.5V1121.7M696.5 1046.5V1135.3M697.5 1045.4V1134.6M698.5 1042.4V1127.2M699.5 1041.9V1126.3M700.5 1046.1V1128.8M701.5 1048.0V1125.8M702.5 1045.6V1128.2M703.5 1040.7V1127.2M704.5 1044.3V1124.0M705.5 1047.7V1125.6M706.5 1046.8V1134.9M707.5 1046.8V1124.5M708.5 1046.3V1123.3M709.5 1043.2V1130.6M710.5 1050.6V1131.7M711.5 1045.6V1122.9M712.5 1043.1V1125.1M713.5 1048.7V1127.6M714.5 1046.8V1128.0M715.5 1045.9V1128.1M716.5 1046.3V1129.0M717.5 1041.0V1130.5M718.5 1044.2V1130.2M719.5 1045.2V1126.9M720.5 1038.8V1131.2M721.5 1041.2V1125.9M722.5 1046.1V1128.0M723.5 1046.9V1129.9M724.5 1043.5V1130.5M725.5 1041.4V1126.4M726.5 1045.2V1127.0M727.5 1045.0V1127.2M728.5 1045.2V1134.2M729.5 1045.6V1127.0M730.5 1042.3V1123.7M731.5 1040.7V1129.3M732.5 1047.0V1124.5M733.5 1042.4V1126.9M734.5 1044.7V1128.4M735.5 1045.3V1132.2M736.5 1037.6V1126.7M737.5 1045.3V1122.9M738.5 1045.0V1126.5M739.5 1048.8V1128.2M740.5 1046.0V1135.6M741.5 1039.4V1127.3M742.5 1045.1V1126.9M743.5 1043.3V1129.1M744.5 1043.3V1131.8M745.5 1045.9V1131.8M746.5 1044.0V1130.9M747.5 1040.2V1132.0M748.5 1048.3V1125.4M749.5 1043.4V1127.4M750.5 1048.8V1126.2M751.5 1045.1V1122.7M752.5 1047.6V1121.7M753.5 1040.0V1124.1M754.5 1041.1V1125.4M755.5 1035.2V1135.8M756.5 1039.2V1129.0M757.5 1044.0V1129.8M758.5 1043.0V1124.9M759.5 1042.9V1126.7M760.5 1048.5V1128.4M761.5 1044.8V1128.3M762.5 1049.9V1131.2M763.5 1043.8V1127.4M764.5 1042.6V1121.1M765.5 1049.7V1133.0M766.5 1045.2V1137.9M767.5 1038.3V1125.3M768.5 1035.2V1124.5M769.5 1041.3V1128.3M770.5 1040.5V1132.3M771.5 1031.5V1148.3M772.5 1026.0V1142.1M773.5 1043.8V1133.3M774.5 1041.1V1137.4M775.5 1042.1V1128.6M776.5 1042.6V1134.0M777.5 1041.0V1131.0M778.5 1038.4V1127.9M779.5 1045.1V1133.3M780.5 1040.8V1138.2M781.5 1039.6V1141.6M782.5 1038.8V1131.0M783.5 1034.2V1137.3M784.5 1040.4V1134.4M785.5 1035.9V1124.6M786.5 1031.5V1130.7M787.5 1042.3V1131.7M788.5 1035.9V1133.3M789.5 1047.0V1138.0M790.5 1041.4V1134.7M791.5 1029.9V1141.5M792.5 1035.5V1136.5M793.5 1039.1V1137.6M794.5 1044.4V1133.6M795.5 1042.6V1133.9M796.5 1041.5V1129.5M797.5 1042.8V1130.9M798.5 1046.2V1129.7M799.5 1035.1V1134.3M800.5 1044.9V1136.0M801.5 1041.8V1134.1M802.5 1045.1V1123.4M803.5 1040.9V1127.7M804.5 1047.1V1128.0M805.5 1043.5V1128.5M806.5 1040.5V1131.3M807.5 1034.0V1138.1M808.5 1026.4V1138.2M809.5 1041.1V1144.6M810.5 1036.9V1140.8M811.5 1025.5V1134.5M812.5 1034.5V1132.7M813.5 1038.6V1137.5M814.5 1041.2V1130.7M815.5 1041.4V1134.7M816.5 1034.2V1135.6M817.5 1032.8V1141.7M818.5 1043.8V1130.5M819.5 1038.4V1130.2M820.5 1042.3V1133.5M821.5 1040.1V1134.9M822.5 1041.4V1129.6M823.5 1045.5V1127.2M824.5 1031.9V1140.2M825.5 1042.2V1135.3M826.5 1034.2V1135.1M827.5 1029.3V1138.3M828.5 1026.2V1139.6M829.5 1034.3V1141.6M830.5 1038.1V1131.1M831.5 1043.9V1128.5M832.5 1049.3V1129.9M833.5 1045.6V1131.6M834.5 1036.1V1136.8M835.5 1040.5V1127.4M836.5 1044.4V1128.9M837.5 1045.9V1125.9M838.5 1044.7V1126.4M839.5 1040.4V1128.6M840.5 1041.2V1126.3M841.5 1037.3V1134.2M842.5 1035.9V1136.3M843.5 1042.3V1135.6M844.5 1034.4V1145.8M845.5 1028.0V1146.5M846.5 1032.3V1139.2M847.5 1042.8V1129.9M848.5 1044.6V1129.3M849.5 1045.0V1131.2M850.5 1041.7V1130.8M851.5 1034.9V1137.2M852.5 1040.1V1125.7M853.5 1044.5V1129.9M854.5 1042.5V1129.6M855.5 1043.0V1129.1M856.5 1046.4V1133.1M857.5 1046.2V1124.7M858.5 1044.5V1118.0M859.5 1046.7V1125.8M860.5 1042.1V1124.8M861.5 1036.3V1131.8M862.5 1047.3V1131.9M863.5 1043.8V1129.9M864.5 1043.7V1135.1M865.5 1042.9V1131.0M866.5 1039.6V1128.1M867.5 1046.4V1127.0M868.5 1048.4V1126.9M869.5 1046.4V1128.5M870.5 1048.2V1121.7M871.5 1047.2V1125.0M872.5 1045.2V1125.4M873.5 1043.9V1126.6M874.5 1042.8V1126.2M875.5 1042.6V1123.0M876.5 1043.6V1126.8M877.5 1041.2V1128.8M878.5 1045.2V1127.8M879.5 1044.6V1129.6M880.5 1037.3V1123.5M881.5 1043.2V1131.0M882.5 1047.8V1131.4M883.5 1043.4V1122.1M884.5 1049.1V1123.5M885.5 1044.9V1128.0M886.5 1046.3V1130.3M887.5 1049.9V1127.4M888.5 1049.7V1133.8M889.5 1037.9V1130.1M890.5 1041.3V1125.6M891.5 1047.4V1126.6M892.5 1047.1V1128.8M893.5 1042.0V1126.7M894.5 1041.6V1129.3M895.5 1044.9V1126.7M896.5 1050.1V1126.2M897.5 1045.7V1131.8M898.5 1042.5V1123.7M899.5 1037.8V1126.7M900.5 1046.8V1128.8M901.5 1039.9V1126.4M902.5 1047.8V1131.0M903.5 1047.4V1127.6M904.5 1047.2V1125.6M905.5 1045.7V1124.0M906.5 1045.7V1122.9M907.5 1040.6V1125.9M908.5 1048.7V1132.8M909.5 1041.6V1125.6M910.5 1047.9V1129.4M911.5 1043.3V1128.5M912.5 1044.5V1123.7M913.5 1039.2V1127.8M914.5 1044.9V1122.3M915.5 1041.8V1131.6M916.5 1043.5V1128.4M917.5 1042.4V1128.5M918.5 1050.0V1130.9M919.5 1042.9V1128.3M920.5 1039.2V1133.3M921.5 1046.7V1128.4M922.5 1044.7V1126.8M923.5 1044.6V1127.6M924.5 1043.7V1128.3M925.5 1045.8V1127.7M926.5 1043.2V1127.3M927.5 1045.5V1128.7M928.5 1042.6V1127.5M929.5 1050.5V1127.8M930.5 1046.5V1125.2M931.5 1044.3V1123.5M932.5 1042.6V1123.0M933.5 1043.9V1127.5M934.5 1047.6V1124.5M935.5 1042.7V1130.0M936.5 1043.2V1125.5M937.5 1046.3V1124.3M938.5 1045.1V1128.5M939.5 1042.3V1129.5M940.5 1043.1V1135.4M941.5 1044.1V1125.1M942.5 1049.0V1123.5M943.5 1046.4V1127.3M944.5 1050.0V1126.3M945.5 1044.8V1128.6M946.5 1045.8V1128.4M947.5 1048.3V1130.3M948.5 1042.0V1123.2M949.5 1045.8V1124.4M950.5 1041.3V1131.5M951.5 1043.5V1128.2M952.5 1043.4V1127.9M953.5 1051.0V1127.5M954.5 1037.8V1127.0M955.5 1044.3V1129.1M956.5 1045.9V1127.8M957.5 1046.7V1125.1M958.5 1046.9V1125.1M959.5 1050.6V1134.5M960.5 1042.3V1127.5M961.5 1044.5V1132.7M962.5 1048.5V1125.7M963.5 1044.3V1133.3M964.5 1039.6V1132.1M965.5 1042.3V1131.3M966.5 1046.4V1129.3M967.5 1045.1V1128.1M968.5 1049.5V1126.8M969.5 1039.0V1128.0M970.5 1040.1V1133.4M971.5 1041.1V1134.6M972.5 1027.8V1133.5M973.5 1016.1V1138.4M974.5 1037.6V1144.0M975.5 1029.8V1137.1M976.5 1038.9V1134.0M977.5 1045.7V1128.7M978.5 1046.4V1131.0M979.5 1039.8V1124.1M980.5 1046.8V1132.0M981.5 1038.7V1140.8M982.5 1038.0V1135.4M983.5 1045.7V1132.7M984.5 1047.8V1134.4M985.5 1042.7V1133.1M986.5 1041.0V1125.0M987.5 1044.8V1132.4M988.5 1040.8V1125.4M989.5 1036.1V1124.6M990.5 1038.9V1136.9M991.5 1043.0V1138.2M992.5 1043.1V1135.2M993.5 1033.0V1141.1M994.5 1027.0V1155.1M995.5 1032.8V1142.0M996.5 1045.6V1140.9M997.5 1036.7V1129.0M998.5 1029.8V1138.0M999.5 1037.4V1135.0M1000.5 1045.1V1133.7M1001.5 1034.7V1141.1M1002.5 1038.6V1142.3M1003.5 1036.7V1143.6M1004.5 1040.2V1130.7M1005.5 1039.3V1134.3M1006.5 1043.2V1130.7M1007.5 1043.2V1133.5M1008.5 1044.7V1132.8M1009.5 1044.9V1137.1M1010.5 1039.0V1132.2M1011.5 1040.9V1131.9M1012.5 1033.6V1132.0M1013.5 1029.8V1137.1M1014.5 1025.1V1149.1M1015.5 1030.2V1146.9M1016.5 1039.0V1140.6M1017.5 1041.3V1136.8M1018.5 1035.6V1135.1M1019.5 1035.5V1137.0M1020.5 1036.0V1131.0M1021.5 1040.9V1142.5M1022.5 1044.4V1126.5M1023.5 1046.2V1135.4M1024.5 1035.5V1127.4M1025.5 1032.9V1137.9M1026.5 1034.4V1134.2M1027.5 1040.1V1134.4M1028.5 1041.0V1133.0M1029.5 1043.6V1131.2M1030.5 1039.5V1132.2M1031.5 1033.5V1128.1M1032.5 1038.6V1133.9M1033.5 1043.3V1135.6M1034.5 1041.7V1133.2M1035.5 1036.9V1137.8M1036.5 1033.2V1138.3M1037.5 1032.7V1135.6M1038.5 1037.6V1136.3M1039.5 1038.8V1137.0M1040.5 1032.4V1133.4M1041.5 1036.8V1140.7M1042.5 1044.3V1133.0M1043.5 1041.1V1127.8M1044.5 1036.8V1130.9M1045.5 1040.3V1128.2M1046.5 1044.0V1126.2M1047.5 1038.5V1128.8M1048.5 1048.7V1126.5M1049.5 1045.4V1131.9M1050.5 1044.9V1132.9M1051.5 1041.6V1124.7M1052.5 1041.2V1130.5M1053.5 1035.9V1129.3M1054.5 1037.4V1146.3M1055.5 1028.8V1140.7M1056.5 1026.9V1139.9M1057.5 1023.7V1142.8M1058.5 1034.6V1135.9M1059.5 1038.0V1133.1M1060.5 1029.4V1128.9M1061.5 1039.1V1128.2M1062.5 1044.6V1125.1M1063.5 1041.9V1129.4M1064.5 1044.1V1129.0M1065.5 1033.5V1131.1M1066.5 1040.5V1130.1M1067.5 1035.2V1135.1M1068.5 1044.0V1131.7M1069.5 1041.4V1129.6M1070.5 1043.9V1128.8M1071.5 1042.0V1131.8M1072.5 1051.5V1132.9M1073.5 1042.6V1133.3M1074.5 1046.6V1126.9M1075.5 1044.4V1128.7M1076.5 1043.0V1124.4M1077.5 1038.7V1126.4M1078.5 1046.0V1122.0M1079.5 1044.2V1126.4M1080.5 1046.4V1131.3M1081.5 1046.7V1129.6M1082.5 1042.6V1125.4M1083.5 1046.7V1128.5M1084.5 1048.9V1123.7M1085.5 1044.4V1124.5M1086.5 1043.4V1123.2M1087.5 1046.2V1126.1M1088.5 1040.8V1128.8M1089.5 1044.0V1123.7M1090.5 1041.5V1132.9M1091.5 1049.4V1130.3M1092.5 1038.4V1132.4M1093.5 1042.3V1130.6M1094.5 1046.8V1122.1M1095.5 1049.1V1132.3M1096.5 1047.1V1129.0M1097.5 1046.0V1129.5M1098.5 1043.3V1124.1M1099.5 1045.5V1124.5M1100.5 1043.1V1126.1M1101.5 1042.7V1125.6M1102.5 1045.4V1124.3M1103.5 1046.1V1127.5M1104.5 1047.6V1130.5M1105.5 1051.6V1129.8M1106.5 1046.5V1127.9M1107.5 1050.1V1132.6M1108.5 1048.9V1133.5M1109.5 1043.8V1127.0M1110.5 1048.3V1129.6M1111.5 1053.5V1128.4M1112.5 1045.2V1126.9M1113.5 1040.7V1129.9M1114.5 1043.6V1126.2M1115.5 1051.5V1129.1M1116.5 1042.6V1130.1M1117.5 1047.0V1131.8M1118.5 1045.0V1123.7M1119.5 1045.6V1130.8M1120.5 1041.8V1128.5M1121.5 1047.8V1126.9M1122.5 1044.3V1131.8M1123.5 1041.6V1130.2M1124.5 1038.2V1129.6M1125.5 1050.2V1131.1M1126.5 1043.3V1126.3M1127.5 1044.7V1125.2M1128.5 1048.8V1130.6M1129.5 1043.9V1121.4M1130.5 1042.1V1122.1M1131.5 1043.0V1126.7M1132.5 1042.9V1127.3M1133.5 1042.2V1130.7M1134.5 1044.5V1123.5M1135.5 1043.5V1125.3M1136.5 1041.2V1126.0M1137.5 1046.5V1125.4M1138.5 1040.8V1124.3M1139.5 1047.0V1131.6M1140.5 1044.1V1124.7M1141.5 1046.3V1127.0M1142.5 1044.2V1124.4M1143.5 1043.9V1124.2M1144.5 1050.2V1132.8M1145.5 1044.4V1122.4M1146.5 1041.1V1123.9M1147.5 1036.2V1127.8M1148.5 1052.1V1128.6M1149.5 1050.9V1128.0M1150.5 1044.9V1126.8M1151.5 1044.8V1123.0M1152.5 1042.9V1124.0M1153.5 1054.0V1133.1M1154.5 1047.2V1129.6M1155.5 1043.6V1129.0M1156.5 1037.0V1128.1M1157.5 1039.4V1125.2M1158.5 1052.9V1127.3M1159.5 1045.2V1141.2M1160.5 1047.0V1127.2M1161.5 1042.7V1127.7M1162.5 1039.7V1125.8M1163.5 1048.7V1134.0M1164.5 1049.8V1129.0M1165.5 1047.2V1127.8M1166.5 1048.3V1126.0M1167.5 1046.4V1127.2M1168.5 1037.8V1125.4M1169.5 1047.1V1126.7M1170.5 1046.1V1128.0M1171.5 1042.9V1133.1M1172.5 1042.1V1131.6M1173.5 1043.4V1128.0M1174.5 1046.6V1124.2M1175.5 1044.4V1129.9M1176.5 1040.2V1134.2M1177.5 1039.6V1134.4M1178.5 1044.8V1128.0M1179.5 1044.8V1124.4M1180.5 1041.7V1134.2M1181.5 1042.2V1125.4M1182.5 1034.6V1139.7M1183.5 1037.4V1138.4M1184.5 1017.2V1150.3M1185.5 1013.8V1158.3M1186.5 1008.7V1158.5M1187.5 1020.6V1158.3M1188.5 1029.4V1145.1M1189.5 1024.6V1145.6M1190.5 1016.8V1145.9M1191.5 1034.4V1139.2M1192.5 1033.9V1136.3M1193.5 1043.3V1139.1M1194.5 1033.0V1134.1M1195.5 1036.4V1137.8M1196.5 1037.5V1135.0M1197.5 1036.2V1138.1M1198.5 1040.9V1132.0M1199.5 1046.0V1131.6M1200.5 1041.9V1132.3M1201.5 1039.0V1130.4M1202.5 1033.4V1137.8M1203.5 1020.3V1143.9M1204.5 1031.2V1144.1M1205.5 1026.5V1144.8M1206.5 1023.1V1138.0M1207.5 1031.1V1137.0M1208.5 1036.6V1137.4M1209.5 1038.0V1135.3M1210.5 1036.6V1134.0M1211.5 1038.2V1138.2M1212.5 1039.0V1138.6M1213.5 1039.5V1132.0M1214.5 1029.8V1146.1M1215.5 1033.2V1134.5M1216.5 1038.6V1137.5M1217.5 1038.9V1135.0M1218.5 1040.6V1135.8M1219.5 1040.1V1132.7M1220.5 1037.1V1135.3M1221.5 1035.7V1127.8M1222.5 1037.5V1131.2M1223.5 1038.6V1132.4M1224.5 1017.2V1140.8M1225.5 1016.3V1142.7M1226.5 1030.5V1145.3M1227.5 1034.7V1139.9M1228.5 1041.6V1138.9M1229.5 1042.7V1146.8M1230.5 1032.1V1137.8M1231.5 1038.7V1131.0M1232.5 1037.3V1135.9M1233.5 1032.6V1146.8M1234.5 1027.9V1140.8M1235.5 1036.2V1139.6M1236.5 1033.7V1134.8M1237.5 1033.8V1131.5M1238.5 1037.9V1135.8M1239.5 1029.4V1138.6M1240.5 1039.0V1134.9M1241.5 1039.0V1132.0M1242.5 1039.0V1139.0M1243.5 1039.4V1133.7M1244.5 1042.9V1134.2M1245.5 1035.9V1133.4M1246.5 1032.2V1143.6M1247.5 1028.7V1149.6M1248.5 1030.7V1132.9M1249.5 1038.6V1142.6M1250.5 1036.7V1141.8M1251.5 1038.6V1129.6M1252.5 1042.6V1130.0M1253.5 1040.5V1128.5M1254.5 1044.8V1133.7M1255.5 1044.8V1132.2M1256.5 1040.2V1132.2M1257.5 1040.1V1126.1M1258.5 1043.9V1132.6M1259.5 1046.5V1132.2M1260.5 1049.9V1125.8M1261.5 1043.7V1124.4M1262.5 1039.1V1134.1M1263.5 1038.7V1129.5M1264.5 1033.9V1131.7M1265.5 1035.2V1140.3M1266.5 1032.5V1137.2M1267.5 1037.6V1154.1M1268.5 1013.5V1138.3M1269.5 1038.3V1141.4M1270.5 1041.9V1138.3M1271.5 1031.0V1130.3M1272.5 1035.7V1138.2M1273.5 1034.9V1129.9M1274.5 1041.4V1140.3M1275.5 1035.8V1138.5M1276.5 1036.2V1140.1M1277.5 1041.0V1130.9M1278.5 1040.7V1134.8M1279.5 1047.8V1132.3M1280.5 1040.7V1137.9M1281.5 1036.7V1130.8M1282.5 1042.4V1129.9M1283.5 1047.6V1131.7M1284.5 1042.6V1135.5M1285.5 1046.4V1125.6M1286.5 1041.1V1126.7M1287.5 1049.0V1131.3M1288.5 1044.6V1129.2M1289.5 1045.0V1131.6M1290.5 1044.1V1130.1M1291.5 1042.9V1124.4M1292.5 1051.3V1135.7M1293.5 1046.2V1130.7M1294.5 1042.7V1126.3M1295.5 1044.8V1131.4M1296.5 1050.0V1134.7M1297.5 1040.8V1130.7M1298.5 1045.1V1124.8M1299.5 1047.2V1132.5M1300.5 1045.8V1126.1M1301.5 1041.7V1121.3M1302.5 1045.1V1133.0M1303.5 1048.2V1127.0M1304.5 1044.0V1128.6M1305.5 1044.2V1129.1M1306.5 1045.5V1123.9M1307.5 1045.7V1120.7M1308.5 1041.8V1130.1M1309.5 1047.6V1126.6M1310.5 1046.8V1132.4M1311.5 1046.7V1129.8M1312.5 1047.2V1126.5M1313.5 1035.3V1126.4M1314.5 1049.9V1133.4M1315.5 1047.4V1123.0M1316.5 1045.6V1126.5M1317.5 1041.2V1126.6M1318.5 1048.3V1130.9M1319.5 1048.0V1126.2M1320.5 1042.0V1130.8M1321.5 1048.3V1124.8M1322.5 1052.0V1124.0M1323.5 1049.4V1131.8M1324.5 1043.0V1125.3M1325.5 1041.9V1128.3M1326.5 1037.8V1126.8M1327.5 1047.6V1128.3M1328.5 1036.1V1126.3M1329.5 1047.0V1119.9M1330.5 1043.2V1128.4M1331.5 1043.6V1129.1M1332.5 1038.9V1130.0" stroke="#000" stroke-opacity="0.75" stroke-width="1" fill="none"/>
<path d="M136.5 1054.3V1128.1M137.5 1053.2V1123.4M138.5 1051.5V1119.7M139.5 1053.6V1120.2M140.5 1054.0V1119.8M141.5 1051.0V1120.0M142.5 1050.8V1124.1M143.5 1046.2V1120.7M144.5 1056.1V1117.3M145.5 1052.2V1119.3M146.5 1051.5V1118.7M147.5 1052.6V1118.7M148.5 1051.7V1119.7M149.5 1057.5V1118.4M150.5 1051.3V1121.0M151.5 1050.3V1122.3M152.5 1052.1V1120.2M153.5 1050.7V1120.5M154.5 1054.9V1121.9M155.5 1052.5V1118.8M156.5 1049.9V1119.5M157.5 1053.7V1118.2M158.5 1050.6V1119.7M159.5 1053.5V1116.6M160.5 1053.2V1115.7M161.5 1052.6V1119.8M162.5 1046.0V1122.3M163.5 1052.9V1124.3M164.5 1052.1V1119.9M165.5 1052.1V1124.0M166.5 1049.7V1119.4M167.5 1051.1V1117.7M168.5 1052.4V1123.2M169.5 1053.8V1125.6M170.5 1055.2V1118.1M171.5 1054.1V1121.0M172.5 1051.8V1121.7M173.5 1050.4V1119.3M174.5 1050.4V1117.6M175.5 1049.3V1113.9M176.5 1051.3V1120.4M177.5 1050.8V1121.3M178.5 1051.4V1119.0M179.5 1052.9V1123.1M180.5 1052.4V1118.5M181.5 1053.4V1120.4M182.5 1050.5V1119.8M183.5 1055.4V1124.4M184.5 1055.2V1124.4M185.5 1054.2V1124.0M186.5 1050.6V1115.8M187.5 1045.5V1121.5M188.5 1048.0V1124.0M189.5 1048.8V1129.4M190.5 1047.0V1124.0M191.5 1051.9V1117.4M192.5 1051.3V1119.3M193.5 1053.3V1122.3M194.5 1050.8V1120.0M195.5 1050.6V1122.4M196.5 1044.9V1118.7M197.5 1047.3V1122.2M198.5 1052.4V1126.5M199.5 1047.6V1124.5M200.5 1050.0V1124.0M201.5 1050.7V1121.7M202.5 1053.0V1116.8M203.5 1049.9V1120.3M204.5 1050.6V1121.0M205.5 1046.3V1125.6M206.5 1044.5V1121.9M207.5 1049.4V1123.7M208.5 1046.8V1123.5M209.5 1046.3V1123.5M210.5 1054.6V1120.6M211.5 1051.2V1118.2M212.5 1051.4V1121.0M213.5 1049.8V1122.1M214.5 1053.9V1119.9M215.5 1055.6V1123.1M216.5 1050.7V1120.4M217.5 1047.5V1120.4M218.5 1047.7V1119.9M219.5 1052.3V1118.3M220.5 1051.7V1119.5M221.5 1051.1V1122.3M222.5 1052.0V1122.2M223.5 1051.2V1118.7M224.5 1052.5V1120.0M225.5 1051.9V1120.8M226.5 1053.8V1122.5M227.5 1050.0V1122.0M228.5 1049.6V1130.3M229.5 1042.5V1127.3M230.5 1047.8V1128.9M231.5 1051.2V1121.9M232.5 1055.2V1116.9M233.5 1051.5V1128.4M234.5 1051.3V1122.1M235.5 1047.6V1125.3M236.5 1050.3V1124.9M237.5 1053.3V1125.4M238.5 1048.3V1116.3M239.5 1047.8V1124.9M240.5 1049.7V1122.7M241.5 1054.7V1123.4M242.5 1054.5V1124.8M243.5 1048.9V1122.3M244.5 1053.3V1121.1M245.5 1049.4V1116.8M246.5 1048.4V1124.2M247.5 1050.9V1122.7M248.5 1053.2V1120.0M249.5 1048.6V1120.0M250.5 1051.1V1121.5M251.5 1052.4V1122.9M252.5 1047.2V1124.4M253.5 1053.9V1126.3M254.5 1051.2V1122.7M255.5 1055.6V1122.1M256.5 1048.8V1123.5M257.5 1052.9V1120.2M258.5 1048.2V1119.9M259.5 1051.5V1118.5M260.5 1049.1V1128.3M261.5 1049.7V1120.7M262.5 1051.8V1118.2M263.5 1047.4V1123.7M264.5 1046.2V1124.1M265.5 1050.0V1126.8M266.5 1046.7V1120.0M267.5 1049.9V1121.0M268.5 1050.5V1125.2M269.5 1052.0V1125.8M270.5 1051.4V1123.5M271.5 1052.2V1121.6M272.5 1050.7V1116.4M273.5 1050.2V1121.2M274.5 1049.2V1123.8M275.5 1047.8V1121.4M276.5 1052.0V1121.5M277.5 1051.0V1124.3M278.5 1053.8V1123.9M279.5 1049.9V1121.1M280.5 1055.8V1124.6M281.5 1053.1V1122.6M282.5 1049.7V1123.1M283.5 1048.2V1125.3M284.5 1050.7V1127.2M285.5 1050.3V1121.5M286.5 1046.5V1121.8M287.5 1045.2V1131.3M288.5 1048.3V1124.0M289.5 1046.1V1119.1M290.5 1055.7V1123.5M291.5 1053.1V1116.1M292.5 1055.2V1116.2M293.5 1050.9V1127.5M294.5 1052.8V1121.9M295.5 1052.1V1123.3M296.5 1048.1V1126.9M297.5 1044.5V1118.1M298.5 1047.4V1120.5M299.5 1049.8V1122.2M300.5 1054.2V1127.2M301.5 1052.0V1121.4M302.5 1054.3V1118.8M303.5 1056.0V1119.7M304.5 1053.1V1119.0M305.5 1053.4V1124.7M306.5 1051.0V1120.7M307.5 1050.1V1121.3M308.5 1049.8V1121.0M309.5 1048.8V1126.8M310.5 1054.0V1119.1M311.5 1053.5V1122.0M312.5 1056.3V1120.4M313.5 1047.6V1119.8M314.5 1051.0V1119.8M315.5 1049.7V1120.6M316.5 1052.6V1123.4M317.5 1054.4V1118.5M318.5 1054.0V1123.0M319.5 1056.3V1123.6M320.5 1054.2V1126.1M321.5 1055.2V1119.9M322.5 1052.6V1122.8M323.5 1050.2V1118.7M324.5 1052.9V1118.2M325.5 1049.1V1116.6M326.5 1050.7V1120.2M327.5 1051.7V1122.4M328.5 1050.1V1116.2M329.5 1055.5V1120.5M330.5 1050.2V1117.2M331.5 1054.4V1119.3M332.5 1054.9V1117.9M333.5 1049.9V1118.4M334.5 1054.7V1121.6M335.5 1051.1V1124.9M336.5 1056.4V1118.7M337.5 1052.7V1120.4M338.5 1051.6V1124.0M339.5 1049.3V1119.5M340.5 1047.8V1119.1M341.5 1047.7V1119.1M342.5 1052.5V1116.5M343.5 1054.0V1117.2M344.5 1053.0V1119.1M345.5 1050.4V1114.6M346.5 1056.0V1121.7M347.5 1050.7V1121.1M348.5 1051.4V1118.4M349.5 1055.0V1120.0M350.5 1046.5V1117.7M351.5 1054.4V1116.5M352.5 1048.8V1126.6M353.5 1054.2V1117.3M354.5 1048.7V1119.8M355.5 1053.4V1120.1M356.5 1052.1V1122.5M357.5 1049.0V1116.3M358.5 1051.2V1124.8M359.5 1052.2V1122.9M360.5 1051.1V1121.2M361.5 1055.1V1123.4M362.5 1053.4V1120.2M363.5 1050.1V1118.9M364.5 1051.4V1117.2M365.5 1054.3V1119.9M366.5 1051.7V1118.6M367.5 1047.4V1120.1M368.5 1050.9V1119.4M369.5 1051.1V1120.5M370.5 1053.6V1121.9M371.5 1051.6V1118.8M372.5 1049.6V1122.8M373.5 1052.6V1121.6M374.5 1051.0V1119.8M375.5 1054.6V1124.6M376.5 1049.0V1126.5M377.5 1052.6V1119.0M378.5 1049.0V1119.9M379.5 1050.2V1117.1M380.5 1057.3V1122.9M381.5 1052.2V1119.2M382.5 1048.3V1120.9M383.5 1054.8V1120.5M384.5 1052.0V1121.5M385.5 1047.9V1121.4M386.5 1055.2V1122.3M387.5 1050.7V1120.7M388.5 1055.1V1120.9M389.5 1053.6V1115.6M390.5 1053.4V1122.0M391.5 1050.3V1127.9M392.5 1049.1V1122.1M393.5 1054.1V1121.1M394.5 1044.2V1123.5M395.5 1044.0V1128.3M396.5 1039.1V1130.2M397.5 1048.6V1124.0M398.5 1044.3V1125.3M399.5 1044.9V1125.4M400.5 1048.0V1125.8M401.5 1050.4V1127.2M402.5 1047.6V1123.5M403.5 1050.4V1119.2M404.5 1053.1V1121.7M405.5 1053.5V1118.6M406.5 1048.3V1119.2M407.5 1047.5V1121.3M408.5 1050.9V1118.4M409.5 1047.1V1121.7M410.5 1047.7V1124.7M411.5 1045.5V1132.3M412.5 1045.6V1127.4M413.5 1044.0V1130.3M414.5 1042.3V1129.9M415.5 1052.6V1124.4M416.5 1045.0V1125.6M417.5 1044.2V1125.4M418.5 1048.6V1125.2M419.5 1054.5V1119.9M420.5 1050.3V1127.4M421.5 1053.1V1125.7M422.5 1048.3V1123.4M423.5 1051.6V1123.0M424.5 1050.4V1120.2M425.5 1051.8V1123.3M426.5 1051.1V1124.5M427.5 1049.2V1125.1M428.5 1049.3V1123.3M429.5 1053.3V1120.2M430.5 1049.9V1123.8M431.5 1048.3V1123.5M432.5 1037.0V1126.8M433.5 1044.8V1129.8M434.5 1045.0V1126.6M435.5 1046.7V1121.4M436.5 1046.6V1123.0M437.5 1048.3V1127.8M438.5 1051.2V1130.8M439.5 1043.1V1128.8M440.5 1048.2V1125.3M441.5 1052.3V1122.4M442.5 1053.1V1122.9M443.5 1051.3V1118.1M444.5 1058.2V1121.0M445.5 1048.9V1116.0M446.5 1054.1V1122.5M447.5 1052.5V1119.0M448.5 1050.9V1122.8M449.5 1044.9V1129.2M450.5 1047.7V1131.0M451.5 1049.2V1126.1M452.5 1049.2V1116.8M453.5 1051.9V1124.3M454.5 1047.6V1124.0M455.5 1051.0V1129.3M456.5 1049.0V1127.3M457.5 1049.2V1126.2M458.5 1054.6V1121.9M459.5 1051.4V1118.8M460.5 1049.3V1119.9M461.5 1048.7V1121.1M462.5 1046.6V1119.0M463.5 1050.5V1117.6M464.5 1047.7V1121.7M465.5 1052.8V1120.7M466.5 1051.3V1119.0M467.5 1051.2V1126.2M468.5 1041.9V1131.6M469.5 1042.4V1129.2M470.5 1047.2V1129.9M471.5 1049.4V1126.0M472.5 1051.5V1125.7M473.5 1049.3V1123.2M474.5 1049.8V1127.7M475.5 1046.1V1127.2M476.5 1046.9V1123.8M477.5 1054.5V1124.0M478.5 1049.8V1124.0M479.5 1047.6V1125.2M480.5 1046.7V1128.4M481.5 1050.7V1129.9M482.5 1048.5V1125.7M483.5 1050.9V1120.3M484.5 1041.0V1129.2M485.5 1054.8V1127.3M486.5 1050.6V1126.0M487.5 1053.4V1128.9M488.5 1050.7V1116.2M489.5 1050.8V1124.7M490.5 1055.3V1123.9M491.5 1055.1V1123.2M492.5 1053.7V1121.9M493.5 1051.7V1119.8M494.5 1049.9V1119.8M495.5 1053.2V1125.8M496.5 1050.3V1121.2M497.5 1050.3V1119.0M498.5 1052.2V1116.7M499.5 1051.9V1122.0M500.5 1053.3V1122.2M501.5 1048.6V1121.3M502.5 1054.8V1116.3M503.5 1052.6V1120.2M504.5 1054.3V1118.1M505.5 1051.8V1120.2M506.5 1049.4V1120.2M507.5 1047.2V1122.2M508.5 1053.2V1124.3M509.5 1055.5V1121.6M510.5 1044.1V1119.8M511.5 1051.3V1123.0M512.5 1049.4V1122.1M513.5 1052.0V1120.9M514.5 1051.1V1122.0M515.5 1053.2V1123.2M516.5 1053.3V1126.2M517.5 1051.4V1124.2M518.5 1052.2V1122.7M519.5 1048.6V1118.7M520.5 1053.0V1120.7M521.5 1054.2V1118.2M522.5 1052.9V1120.0M523.5 1051.7V1120.0M524.5 1054.0V1122.7M525.5 1051.6V1120.2M526.5 1050.7V1118.3M527.5 1048.7V1120.7M528.5 1051.4V1121.3M529.5 1056.1V1121.8M530.5 1050.7V1120.4M531.5 1051.0V1120.5M532.5 1053.6V1118.6M533.5 1057.8V1122.6M534.5 1050.3V1118.0M535.5 1056.1V1118.1M536.5 1055.2V1119.7M537.5 1047.7V1117.1M538.5 1050.6V1122.8M539.5 1053.6V1123.6M540.5 1051.6V1117.7M541.5 1053.7V1119.7M542.5 1050.2V1117.0M543.5 1053.4V1126.2M544.5 1049.0V1121.3M545.5 1054.0V1123.0M546.5 1052.4V1126.8M547.5 1051.5V1119.7M548.5 1049.7V1120.8M549.5 1052.3V1120.8M550.5 1050.2V1120.7M551.5 1050.1V1122.6M552.5 1049.6V1115.0M553.5 1049.2V1120.9M554.5 1058.2V1119.8M555.5 1051.5V1119.1M556.5 1054.3V1125.5M557.5 1051.8V1118.3M558.5 1051.1V1121.5M559.5 1054.0V1121.2M560.5 1053.8V1121.7M561.5 1052.6V1126.3M562.5 1052.9V1125.5M563.5 1051.5V1127.2M564.5 1054.0V1127.4M565.5 1053.3V1119.9M566.5 1051.2V1118.3M567.5 1052.2V1122.3M568.5 1051.4V1120.1M569.5 1052.0V1121.8M570.5 1052.2V1117.4M571.5 1050.6V1121.4M572.5 1046.3V1124.7M573.5 1050.4V1116.9M574.5 1054.1V1121.6M575.5 1053.2V1121.2M576.5 1050.0V1118.2M577.5 1048.7V1120.7M578.5 1057.0V1119.6M579.5 1050.0V1119.1M580.5 1049.3V1120.8M581.5 1050.6V1126.3M582.5 1045.4V1128.0M583.5 1042.1V1130.7M584.5 1046.9V1124.8M585.5 1053.6V1121.6M586.5 1049.5V1130.3M587.5 1047.2V1122.5M588.5 1042.7V1122.9M589.5 1047.9V1120.1M590.5 1047.5V1122.0M591.5 1049.9V1122.9M592.5 1052.1V1120.3M593.5 1049.7V1121.8M594.5 1050.4V1118.0M595.5 1055.1V1118.6M596.5 1051.3V1120.5M597.5 1046.4V1121.2M598.5 1044.1V1122.5M599.5 1046.6V1126.7M600.5 1047.7V1125.0M601.5 1046.1V1125.9M602.5 1048.2V1117.5M603.5 1050.2V1119.8M604.5 1046.1V1122.3M605.5 1047.1V1126.0M606.5 1048.1V1130.5M607.5 1036.7V1122.7M608.5 1046.9V1126.4M609.5 1046.8V1121.7M610.5 1046.3V1118.7M611.5 1053.7V1121.2M612.5 1050.8V1125.2M613.5 1054.7V1122.5M614.5 1052.2V1118.6M615.5 1053.6V1117.9M616.5 1050.2V1120.9M617.5 1055.7V1122.2M618.5 1048.7V1127.1M619.5 1045.3V1120.4M620.5 1053.1V1122.8M621.5 1052.9V1124.3M622.5 1047.5V1125.6M623.5 1049.8V1121.5M624.5 1048.0V1124.6M625.5 1052.5V1124.9M626.5 1051.5V1121.5M627.5 1052.7V1124.4M628.5 1047.5V1121.6M629.5 1050.0V1127.2M630.5 1049.2V1121.2M631.5 1054.5V1118.2M632.5 1050.7V1122.0M633.5 1046.3V1124.6M634.5 1047.5V1126.2M635.5 1051.0V1125.3M636.5 1054.3V1122.5M637.5 1049.1V1126.2M638.5 1050.2V1125.2M639.5 1049.4V1125.5M640.5 1051.8V1123.0M641.5 1049.9V1123.2M642.5 1049.0V1123.0M643.5 1049.1V1121.3M644.5 1049.4V1123.7M645.5 1056.1V1123.7M646.5 1052.4V1117.5M647.5 1052.1V1122.5M648.5 1046.5V1123.1M649.5 1045.3V1121.1M650.5 1049.9V1124.5M651.5 1046.9V1127.6M652.5 1041.3V1130.9M653.5 1046.3V1122.2M654.5 1053.7V1123.7M655.5 1046.9V1117.8M656.5 1052.4V1117.1M657.5 1053.3V1122.5M658.5 1051.9V1121.9M659.5 1049.8V1125.8M660.5 1048.6V1121.0M661.5 1051.4V1123.0M662.5 1050.6V1122.9M663.5 1045.5V1120.6M664.5 1050.5V1118.4M665.5 1052.4V1120.8M666.5 1048.8V1121.0M667.5 1053.2V1125.7M668.5 1049.3V1119.2M669.5 1052.6V1120.0M670.5 1054.2V1123.1M671.5 1050.5V1123.9M672.5 1047.8V1122.2M673.5 1050.1V1119.1M674.5 1053.0V1122.9M675.5 1051.7V1120.4M676.5 1054.0V1118.6M677.5 1054.9V1123.1M678.5 1053.9V1121.5M679.5 1048.5V1121.1M680.5 1049.4V1121.5M681.5 1051.1V1120.4M682.5 1052.3V1118.6M683.5 1054.3V1124.9M684.5 1050.1V1124.2M685.5 1051.1V1127.8M686.5 1051.0V1123.3M687.5 1052.5V1119.3M688.5 1053.8V1119.4M689.5 1050.3V1119.1M690.5 1051.9V1120.9M691.5 1052.8V1120.1M692.5 1052.3V1116.2M693.5 1052.1V1119.9M694.5 1051.4V1116.5M695.5 1046.7V1116.5M696.5 1052.9V1125.4M697.5 1052.8V1122.1M698.5 1051.8V1121.3M699.5 1050.8V1119.9M700.5 1050.2V1122.5M701.5 1050.9V1121.4M702.5 1051.1V1119.9M703.5 1049.6V1118.9M704.5 1048.2V1118.7M705.5 1052.8V1121.2M706.5 1051.5V1120.5M707.5 1054.7V1119.3M708.5 1052.6V1118.0M709.5 1051.8V1119.9M710.5 1054.3V1122.5M711.5 1050.7V1117.4M712.5 1048.1V1119.0M713.5 1053.1V1121.8M714.5 1053.9V1121.1M715.5 1052.5V1120.0M716.5 1053.1V1120.7M717.5 1050.8V1123.3M718.5 1050.2V1124.6M719.5 1051.0V1123.4M720.5 1051.4V1122.2M721.5 1051.3V1121.9M722.5 1052.0V1120.5M723.5 1054.4V1119.9M724.5 1051.3V1124.4M725.5 1050.9V1119.3M726.5 1051.1V1118.5M727.5 1050.9V1124.1M728.5 1051.5V1119.6M729.5 1048.9V1117.5M730.5 1053.0V1119.2M731.5 1051.7V1120.6M732.5 1052.2V1119.3M733.5 1050.8V1118.2M734.5 1054.4V1119.4M735.5 1053.9V1124.7M736.5 1047.3V1119.2M737.5 1055.3V1119.4M738.5 1052.1V1119.6M739.5 1055.0V1120.7M740.5 1055.2V1125.9M741.5 1047.0V1117.8M742.5 1051.5V1121.8M743.5 1048.8V1122.8M744.5 1047.8V1122.7M745.5 1050.6V1122.4M746.5 1052.5V1122.9M747.5 1047.9V1122.4M748.5 1053.6V1116.8M749.5 1051.4V1122.5M750.5 1056.6V1121.2M751.5 1050.6V1120.0M752.5 1052.5V1119.3M753.5 1049.2V1117.8M754.5 1050.5V1121.8M755.5 1049.8V1123.6M756.5 1052.5V1122.3M757.5 1052.6V1121.8M758.5 1049.9V1119.2M759.5 1051.8V1116.1M760.5 1058.1V1119.9M761.5 1050.4V1122.3M762.5 1054.4V1123.7M763.5 1050.8V1123.0M764.5 1053.0V1116.5M765.5 1053.3V1123.6M766.5 1053.0V1125.7M767.5 1049.8V1122.1M768.5 1046.8V1119.1M769.5 1048.4V1122.2M770.5 1051.0V1127.2M771.5 1038.4V1134.6M772.5 1037.3V1137.3M773.5 1048.0V1128.6M774.5 1048.2V1124.1M775.5 1047.8V1122.2M776.5 1049.6V1126.9M777.5 1048.0V1123.3M778.5 1046.7V1125.3M779.5 1050.3V1123.2M780.5 1047.2V1129.7M781.5 1049.5V1133.2M782.5 1044.5V1124.1M783.5 1043.6V1129.5M784.5 1047.4V1127.3M785.5 1045.7V1120.9M786.5 1045.8V1125.4M787.5 1051.7V1122.1M788.5 1052.5V1121.5M789.5 1052.4V1127.3M790.5 1046.3V1122.3M791.5 1042.2V1131.4M792.5 1042.4V1130.0M793.5 1046.2V1130.6M794.5 1050.1V1126.4M795.5 1051.7V1122.8M796.5 1050.5V1120.4M797.5 1044.1V1124.9M798.5 1055.0V1121.1M799.5 1044.1V1123.4M800.5 1053.1V1131.8M801.5 1050.3V1125.2M802.5 1052.2V1118.9M803.5 1050.5V1117.5M804.5 1050.5V1120.5M805.5 1054.1V1119.7M806.5 1048.3V1122.4M807.5 1047.5V1127.6M808.5 1039.9V1130.3M809.5 1045.1V1136.2M810.5 1044.5V1136.0M811.5 1044.0V1125.1M812.5 1042.2V1125.7M813.5 1044.8V1132.7M814.5 1049.0V1124.9M815.5 1046.3V1127.8M816.5 1044.1V1130.7M817.5 1046.3V1131.9M818.5 1048.5V1122.9M819.5 1043.0V1126.3M820.5 1054.6V1125.2M821.5 1051.8V1123.6M822.5 1048.0V1125.8M823.5 1049.7V1121.0M824.5 1047.0V1130.7M825.5 1047.9V1126.1M826.5 1044.2V1125.7M827.5 1037.9V1132.3M828.5 1035.7V1134.4M829.5 1044.2V1133.9M830.5 1048.4V1126.7M831.5 1048.3V1125.9M832.5 1054.1V1122.7M833.5 1055.1V1124.7M834.5 1045.8V1126.5M835.5 1048.3V1123.8M836.5 1046.9V1122.1M837.5 1052.3V1120.2M838.5 1051.6V1119.2M839.5 1049.4V1121.0M840.5 1048.0V1119.8M841.5 1048.0V1128.4M842.5 1048.4V1131.2M843.5 1046.8V1129.3M844.5 1042.2V1133.3M845.5 1040.9V1134.4M846.5 1041.3V1132.5M847.5 1048.1V1125.8M848.5 1046.6V1121.2M849.5 1050.1V1122.8M850.5 1048.7V1124.6M851.5 1044.2V1125.9M852.5 1046.3V1120.7M853.5 1048.0V1120.3M854.5 1047.2V1124.0M855.5 1049.4V1121.1M856.5 1051.2V1125.8M857.5 1051.7V1119.7M858.5 1048.4V1114.7M859.5 1052.4V1118.8M860.5 1046.8V1119.7M861.5 1049.4V1123.2M862.5 1052.1V1125.3M863.5 1051.2V1122.6M864.5 1048.4V1123.7M865.5 1046.4V1123.0M866.5 1050.6V1120.1M867.5 1051.4V1123.3M868.5 1052.2V1120.9M869.5 1051.4V1120.1M870.5 1051.7V1116.8M871.5 1051.4V1119.4M872.5 1053.9V1117.5M873.5 1049.9V1117.0M874.5 1048.5V1120.7M875.5 1054.5V1117.7M876.5 1051.7V1121.7M877.5 1047.2V1122.9M878.5 1051.5V1125.1M879.5 1050.9V1122.7M880.5 1046.9V1120.6M881.5 1048.7V1123.6M882.5 1052.3V1121.2M883.5 1050.3V1119.0M884.5 1054.6V1115.6M885.5 1052.3V1121.2M886.5 1054.8V1121.9M887.5 1053.7V1120.0M888.5 1055.6V1121.4M889.5 1049.4V1124.2M890.5 1050.3V1119.9M891.5 1051.3V1119.0M892.5 1053.7V1124.2M893.5 1047.0V1121.3M894.5 1052.6V1121.0M895.5 1054.5V1121.9M896.5 1053.1V1122.3M897.5 1053.7V1119.0M898.5 1047.2V1118.8M899.5 1048.9V1119.7M900.5 1052.5V1121.2M901.5 1050.7V1121.7M902.5 1057.7V1119.5M903.5 1054.0V1119.3M904.5 1051.9V1120.4M905.5 1051.5V1119.9M906.5 1049.6V1116.2M907.5 1046.7V1121.6M908.5 1054.0V1125.5M909.5 1051.2V1118.9M910.5 1052.0V1122.6M911.5 1050.6V1123.7M912.5 1053.1V1118.2M913.5 1049.0V1123.1M914.5 1051.7V1117.5M915.5 1051.4V1126.2M916.5 1050.0V1122.4M917.5 1046.6V1121.3M918.5 1054.0V1124.8M919.5 1050.7V1121.3M920.5 1049.3V1120.2M921.5 1056.2V1119.1M922.5 1055.0V1120.2M923.5 1052.6V1120.4M924.5 1050.8V1123.4M925.5 1054.4V1123.3M926.5 1048.8V1123.1M927.5 1051.0V1123.4M928.5 1054.1V1119.7M929.5 1054.3V1119.0M930.5 1055.1V1116.9M931.5 1048.6V1117.5M932.5 1050.9V1117.3M933.5 1051.6V1122.6M934.5 1054.3V1116.5M935.5 1053.1V1122.2M936.5 1048.0V1119.5M937.5 1052.6V1116.7M938.5 1051.9V1118.2M939.5 1053.0V1119.4M940.5 1050.6V1125.3M941.5 1050.8V1119.2M942.5 1056.3V1120.1M943.5 1053.4V1120.8M944.5 1056.5V1120.2M945.5 1054.3V1122.4M946.5 1053.6V1122.1M947.5 1052.9V1124.1M948.5 1049.0V1117.9M949.5 1054.0V1118.1M950.5 1051.1V1123.3M951.5 1054.0V1118.2M952.5 1050.5V1121.4M953.5 1056.7V1121.8M954.5 1045.4V1119.7M955.5 1047.3V1119.8M956.5 1051.0V1119.9M957.5 1049.6V1120.4M958.5 1051.6V1120.1M959.5 1053.1V1123.8M960.5 1052.9V1121.8M961.5 1052.0V1124.9M962.5 1051.1V1121.3M963.5 1048.9V1125.8M964.5 1048.8V1123.0M965.5 1053.6V1123.1M966.5 1050.9V1126.8M967.5 1052.4V1118.7M968.5 1052.2V1123.4M969.5 1047.3V1122.2M970.5 1048.9V1128.0M971.5 1047.8V1128.9M972.5 1039.5V1125.3M973.5 1033.6V1130.7M974.5 1042.3V1130.0M975.5 1038.1V1127.2M976.5 1045.9V1126.7M977.5 1049.8V1126.2M978.5 1053.5V1123.2M979.5 1047.3V1119.4M980.5 1051.3V1125.7M981.5 1048.2V1123.0M982.5 1049.0V1124.1M983.5 1050.3V1126.6M984.5 1052.8V1130.1M985.5 1047.3V1123.3M986.5 1047.1V1122.3M987.5 1049.0V1123.5M988.5 1049.6V1120.0M989.5 1045.5V1120.2M990.5 1044.4V1126.0M991.5 1052.0V1127.3M992.5 1049.1V1127.2M993.5 1041.8V1131.2M994.5 1037.2V1138.6M995.5 1040.1V1131.5M996.5 1048.6V1132.9M997.5 1041.9V1123.3M998.5 1042.2V1123.6M999.5 1041.1V1129.3M1000.5 1049.5V1126.8M1001.5 1040.1V1130.8M1002.5 1045.5V1131.6M1003.5 1046.6V1129.8M1004.5 1047.3V1126.1M1005.5 1044.6V1124.2M1006.5 1048.2V1124.5M1007.5 1049.0V1124.1M1008.5 1052.0V1128.7M1009.5 1048.9V1126.9M1010.5 1044.1V1124.1M1011.5 1050.2V1122.8M1012.5 1046.3V1122.7M1013.5 1039.9V1130.6M1014.5 1040.1V1138.5M1015.5 1042.5V1136.8M1016.5 1040.8V1132.0M1017.5 1047.2V1125.3M1018.5 1040.6V1129.5M1019.5 1051.8V1128.7M1020.5 1041.4V1123.6M1021.5 1050.4V1129.7M1022.5 1049.5V1121.0M1023.5 1050.8V1125.0M1024.5 1042.6V1122.0M1025.5 1043.9V1129.3M1026.5 1044.7V1128.3M1027.5 1047.4V1124.9M1028.5 1050.0V1125.0M1029.5 1048.7V1124.6M1030.5 1045.8V1124.9M1031.5 1041.9V1120.5M1032.5 1048.1V1128.0M1033.5 1046.9V1122.9M1034.5 1044.0V1125.7M1035.5 1044.3V1130.9M1036.5 1038.9V1131.7M1037.5 1044.0V1125.9M1038.5 1045.6V1126.7M1039.5 1050.7V1127.7M1040.5 1043.3V1126.8M1041.5 1047.0V1130.9M1042.5 1048.8V1126.3M1043.5 1048.1V1124.2M1044.5 1045.4V1126.5M1045.5 1047.2V1122.0M1046.5 1054.6V1120.0M1047.5 1048.5V1120.5M1048.5 1054.8V1122.3M1049.5 1052.8V1125.9M1050.5 1052.4V1122.2M1051.5 1048.0V1121.9M1052.5 1047.3V1124.4M1053.5 1045.6V1120.6M1054.5 1045.2V1135.3M1055.5 1037.9V1134.5M1056.5 1035.2V1133.2M1057.5 1039.6V1133.4M1058.5 1043.1V1127.6M1059.5 1046.4V1130.2M1060.5 1045.9V1125.3M1061.5 1046.5V1123.5M1062.5 1052.2V1120.8M1063.5 1046.2V1121.5M1064.5 1051.0V1125.6M1065.5 1049.7V1121.9M1066.5 1047.8V1126.2M1067.5 1044.2V1130.3M1068.5 1048.7V1126.0M1069.5 1046.9V1123.0M1070.5 1052.4V1122.0M1071.5 1050.5V1124.8M1072.5 1055.2V1126.3M1073.5 1050.8V1124.9M1074.5 1050.6V1120.0M1075.5 1051.6V1123.4M1076.5 1048.8V1122.4M1077.5 1048.2V1119.6M1078.5 1049.6V1117.9M1079.5 1051.7V1121.0M1080.5 1056.8V1125.1M1081.5 1053.2V1119.4M1082.5 1051.4V1120.8M1083.5 1053.4V1122.4M1084.5 1052.3V1117.1M1085.5 1055.3V1120.8M1086.5 1051.2V1120.1M1087.5 1051.5V1118.4M1088.5 1048.2V1120.7M1089.5 1047.6V1120.6M1090.5 1047.2V1124.2M1091.5 1055.2V1121.8M1092.5 1048.7V1123.2M1093.5 1051.2V1123.9M1094.5 1054.0V1116.8M1095.5 1053.9V1124.8M1096.5 1053.5V1120.5M1097.5 1053.5V1118.0M1098.5 1048.2V1121.7M1099.5 1050.3V1120.7M1100.5 1047.7V1117.3M1101.5 1050.3V1121.6M1102.5 1052.6V1118.5M1103.5 1054.0V1121.2M1104.5 1053.7V1123.0M1105.5 1056.2V1122.9M1106.5 1051.9V1121.5M1107.5 1056.6V1125.8M1108.5 1053.0V1123.3M1109.5 1050.6V1122.4M1110.5 1053.9V1121.5M1111.5 1055.6V1123.2M1112.5 1056.0V1120.5M1113.5 1049.9V1121.8M1114.5 1054.4V1118.5M1115.5 1055.0V1118.5M1116.5 1051.2V1120.7M1117.5 1054.1V1122.5M1118.5 1052.2V1117.8M1119.5 1050.7V1122.2M1120.5 1050.4V1120.1M1121.5 1054.2V1119.5M1122.5 1051.3V1122.7M1123.5 1052.6V1121.5M1124.5 1049.7V1126.1M1125.5 1053.8V1120.2M1126.5 1050.5V1121.8M1127.5 1051.5V1118.8M1128.5 1055.1V1122.5M1129.5 1051.4V1117.6M1130.5 1051.0V1118.2M1131.5 1048.1V1121.9M1132.5 1046.8V1119.9M1133.5 1051.1V1121.8M1134.5 1050.9V1116.9M1135.5 1054.7V1118.0M1136.5 1046.6V1121.4M1137.5 1052.4V1120.0M1138.5 1051.4V1121.0M1139.5 1049.9V1120.9M1140.5 1049.5V1121.0M1141.5 1051.4V1119.4M1142.5 1051.4V1120.0M1143.5 1052.3V1120.0M1144.5 1053.9V1124.7M1145.5 1050.8V1118.6M1146.5 1050.4V1119.1M1147.5 1050.4V1119.6M1148.5 1056.0V1119.2M1149.5 1052.7V1120.9M1150.5 1049.6V1121.3M1151.5 1052.3V1119.6M1152.5 1049.5V1121.0M1153.5 1056.5V1119.1M1154.5 1052.4V1124.1M1155.5 1054.5V1117.8M1156.5 1054.2V1120.3M1157.5 1056.1V1121.2M1158.5 1054.6V1119.7M1159.5 1051.3V1124.0M1160.5 1051.3V1125.1M1161.5 1048.0V1122.0M1162.5 1047.8V1121.5M1163.5 1054.8V1124.4M1164.5 1055.1V1118.1M1165.5 1050.6V1120.9M1166.5 1055.5V1120.3M1167.5 1049.4V1121.2M1168.5 1048.8V1119.0M1169.5 1050.3V1118.2M1170.5 1050.3V1121.4M1171.5 1050.4V1125.4M1172.5 1048.1V1120.8M1173.5 1051.2V1123.9M1174.5 1052.5V1119.3M1175.5 1049.6V1125.5M1176.5 1050.6V1122.8M1177.5 1043.0V1126.6M1178.5 1051.3V1122.6M1179.5 1052.1V1119.8M1180.5 1047.3V1122.4M1181.5 1048.1V1119.4M1182.5 1040.4V1132.4M1183.5 1044.0V1128.8M1184.5 1033.1V1138.1M1185.5 1022.5V1149.1M1186.5 1021.9V1151.0M1187.5 1033.2V1146.5M1188.5 1044.2V1135.8M1189.5 1034.1V1136.5M1190.5 1023.1V1137.7M1191.5 1042.6V1132.2M1192.5 1039.8V1126.9M1193.5 1049.0V1130.8M1194.5 1041.5V1130.3M1195.5 1047.4V1132.7M1196.5 1051.3V1126.3M1197.5 1044.4V1126.4M1198.5 1046.3V1123.4M1199.5 1048.3V1126.0M1200.5 1047.8V1127.1M1201.5 1048.0V1124.5M1202.5 1042.8V1131.3M1203.5 1035.2V1134.8M1204.5 1037.2V1133.3M1205.5 1039.4V1138.4M1206.5 1035.6V1131.1M1207.5 1040.3V1130.1M1208.5 1046.4V1129.1M1209.5 1046.5V1124.2M1210.5 1045.5V1124.7M1211.5 1048.6V1126.2M1212.5 1045.9V1130.1M1213.5 1045.4V1127.2M1214.5 1040.6V1131.2M1215.5 1047.3V1130.8M1216.5 1047.1V1132.0M1217.5 1048.3V1127.7M1218.5 1049.0V1128.0M1219.5 1045.6V1124.3M1220.5 1044.4V1126.7M1221.5 1046.7V1124.1M1222.5 1047.2V1125.9M1223.5 1043.2V1124.4M1224.5 1028.3V1129.8M1225.5 1029.5V1131.0M1226.5 1038.9V1136.9M1227.5 1047.2V1131.1M1228.5 1045.6V1131.4M1229.5 1052.4V1125.9M1230.5 1044.6V1127.5M1231.5 1047.2V1127.3M1232.5 1046.0V1129.4M1233.5 1037.5V1134.5M1234.5 1035.9V1133.9M1235.5 1042.6V1132.0M1236.5 1043.3V1130.7M1237.5 1038.9V1122.2M1238.5 1046.7V1128.2M1239.5 1037.0V1131.3M1240.5 1043.7V1126.3M1241.5 1045.2V1123.9M1242.5 1050.2V1130.2M1243.5 1042.6V1125.6M1244.5 1049.8V1128.7M1245.5 1041.9V1130.2M1246.5 1037.5V1135.1M1247.5 1033.3V1141.4M1248.5 1037.2V1127.9M1249.5 1044.6V1132.1M1250.5 1050.0V1131.8M1251.5 1044.6V1124.5M1252.5 1049.2V1120.0M1253.5 1050.1V1122.9M1254.5 1047.9V1124.4M1255.5 1050.1V1122.9M1256.5 1046.1V1127.3M1257.5 1049.0V1121.1M1258.5 1051.4V1124.7M1259.5 1052.8V1121.9M1260.5 1054.3V1119.2M1261.5 1051.2V1119.3M1262.5 1049.0V1125.1M1263.5 1042.8V1124.9M1264.5 1039.4V1122.8M1265.5 1045.2V1132.8M1266.5 1038.6V1130.2M1267.5 1040.9V1135.5M1268.5 1029.1V1132.9M1269.5 1042.5V1131.0M1270.5 1049.5V1128.0M1271.5 1041.9V1124.8M1272.5 1041.3V1124.5M1273.5 1042.5V1122.7M1274.5 1047.0V1129.3M1275.5 1044.4V1128.4M1276.5 1043.9V1129.6M1277.5 1045.7V1125.8M1278.5 1048.9V1128.8M1279.5 1053.2V1120.4M1280.5 1048.5V1126.6M1281.5 1045.4V1121.2M1282.5 1048.8V1123.6M1283.5 1051.4V1122.5M1284.5 1047.5V1128.5M1285.5 1050.5V1119.5M1286.5 1049.1V1122.0M1287.5 1054.2V1122.2M1288.5 1050.2V1118.4M1289.5 1051.9V1123.4M1290.5 1046.6V1120.4M1291.5 1050.0V1121.1M1292.5 1055.5V1130.7M1293.5 1053.0V1123.7M1294.5 1051.9V1122.0M1295.5 1052.3V1121.5M1296.5 1053.3V1128.6M1297.5 1049.6V1120.4M1298.5 1052.2V1121.3M1299.5 1053.1V1121.7M1300.5 1050.0V1120.1M1301.5 1049.4V1117.8M1302.5 1049.9V1124.4M1303.5 1053.1V1119.2M1304.5 1051.2V1122.7M1305.5 1050.8V1119.5M1306.5 1049.1V1117.5M1307.5 1053.3V1115.9M1308.5 1049.4V1121.6M1309.5 1055.7V1121.0M1310.5 1052.6V1123.4M1311.5 1057.1V1121.7M1312.5 1053.9V1118.8M1313.5 1049.3V1117.3M1314.5 1055.2V1121.7M1315.5 1051.4V1119.6M1316.5 1051.6V1123.4M1317.5 1049.0V1119.5M1318.5 1054.2V1124.3M1319.5 1052.2V1123.5M1320.5 1053.4V1122.0M1321.5 1053.6V1117.8M1322.5 1054.7V1118.1M1323.5 1053.9V1125.7M1324.5 1051.0V1120.6M1325.5 1051.2V1120.1M1326.5 1048.0V1122.0M1327.5 1055.7V1121.6M1328.5 1048.1V1119.4M1329.5 1054.8V1115.6M1330.5 1052.3V1120.8M1331.5 1049.0V1123.6M1332.5 1048.5V1127.1" stroke="#000" stroke-opacity="1.0" stroke-width="1" fill="none"/>
</g>
<path d="M136.0 1084.0H181.3V961.6H301.8V1084.0H394.0V961.6H492.5V1084.0H585.3V961.6H671.4V1084.0H764.5V961.6H867.1V1084.0H959.7V961.6H1075.5V1084.0H1167.4V961.6H1287.7V1084.0H1333.5" fill="none" stroke="#ff0000" stroke-opacity="0.62" stroke-width="1"/>
<g stroke="#383838" stroke-width="1" fill="none">
<path d="M136.0 950.0H1333.5V1217.5H136.0Z"/>
<path d="M136.0 1217.5v-12M136.0 950.0v12M250.8 1217.5v-12M250.8 950.0v12M365.7 1217.5v-12M365.7 950.0v12M480.5 1217.5v-12M480.5 950.0v12M595.4 1217.5v-12M595.4 950.0v12M710.2 1217.5v-12M710.2 950.0v12M825.1 1217.5v-12M825.1 950.0v12M939.9 1217.5v-12M939.9 950.0v12M1054.8 1217.5v-12M1054.8 950.0v12M1169.6 1217.5v-12M1169.6 950.0v12M1284.5 1217.5v-12M1284.5 950.0v12M136.0 1206.4h12M1333.5 1206.4h-12M136.0 1175.8h12M1333.5 1175.8h-12M136.0 1145.2h12M1333.5 1145.2h-12M136.0 1114.5h12M1333.5 1114.5h-12M136.0 1084.0h12M1333.5 1084.0h-12M136.0 1053.4h12M1333.5 1053.4h-12M136.0 1022.8h12M1333.5 1022.8h-12M136.0 992.2h12M1333.5 992.2h-12M136.0 961.6h12M1333.5 961.6h-12"/>
</g>
<g font-family='"Liberation Sans", sans-serif'>
<text transform="translate(136.00,1236.80) scale(1,1.02)" font-size="14.2" text-anchor="middle" fill="#363636">0</text>
<text transform="translate(250.85,1236.80) scale(1,1.02)" font-size="14.2" text-anchor="middle" fill="#363636">5</text>
<text transform="translate(365.70,1236.80) scale(1,1.02)" font-size="14.2" text-anchor="middle" fill="#363636">10</text>
<text transform="translate(480.55,1236.80) scale(1,1.02)" font-size="14.2" text-anchor="middle" fill="#363636">15</text>
<text transform="translate(595.40,1236.80) scale(1,1.02)" font-size="14.2" text-anchor="middle" fill="#363636">20</text>
<text transform="translate(710.25,1236.80) scale(1,1.02)" font-size="14.2" text-anchor="middle" fill="#363636">25</text>
<text transform="translate(825.10,1236.80) scale(1,1.02)" font-size="14.2" text-anchor="middle" fill="#363636">30</text>
<text transform="translate(939.95,1236.80) scale(1,1.02)" font-size="14.2" text-anchor="middle" fill="#363636">35</text>
<text transform="translate(1054.80,1236.80) scale(1,1.02)" font-size="14.2" text-anchor="middle" fill="#363636">40</text>
<text transform="translate(1169.65,1236.80) scale(1,1.02)" font-size="14.2" text-anchor="middle" fill="#363636">45</text>
<text transform="translate(1284.50,1236.80) scale(1,1.02)" font-size="14.2" text-anchor="middle" fill="#363636">50</text>
<text transform="translate(130.40,1211.25) scale(1,1.02)" font-size="14.2" text-anchor="end" fill="#363636">-20</text>
<text transform="translate(130.40,1180.65) scale(1,1.02)" font-size="14.2" text-anchor="end" fill="#363636">-15</text>
<text transform="translate(130.40,1150.05) scale(1,1.02)" font-size="14.2" text-anchor="end" fill="#363636">-10</text>
<text transform="translate(130.40,1119.45) scale(1,1.02)" font-size="14.2" text-anchor="end" fill="#363636">-5</text>
<text transform="translate(130.40,1088.85) scale(1,1.02)" font-size="14.2" text-anchor="end" fill="#363636">0</text>
<text transform="translate(130.40,1058.25) scale(1,1.02)" font-size="14.2" text-anchor="end" fill="#363636">5</text>
<text transform="translate(130.40,1027.65) scale(1,1.02)" font-size="14.2" text-anchor="end" fill="#363636">10</text>
<text transform="translate(130.40,997.05) scale(1,1.02)" font-size="14.2" text-anchor="end" fill="#363636">15</text>
<text transform="translate(130.40,966.45) scale(1,1.02)" font-size="14.2" text-anchor="end" fill="#363636">20</text>
<text transform="translate(734.80,1257.10) scale(1,1.03)" font-size="14.9" text-anchor="middle" fill="#363636">Time in [s]</text>
<text transform="translate(101.30,1083.75) rotate(-90) scale(1,1.03)" font-size="14.9" text-anchor="middle" fill="#363636">ENG Signal in [µV]</text>
</g>
<polyline points="136.0,1534.5 136.4,1535.5 136.8,1537.3 137.2,1539.4 137.6,1541.3 138.0,1542.7 138.4,1543.3 138.8,1543.3 139.2,1542.9 139.6,1542.4 140.0,1541.7 140.4,1541.2 140.8,1540.8 141.2,1540.8 141.6,1540.9 142.0,1541.2 142.4,1542.0 142.8,1543.4 143.2,1545.5 143.6,1548.2 144.0,1551.1 144.4,1553.9 144.8,1556.4 145.2,1558.4 145.6,1559.6 146.0,1559.9 146.4,1559.1 146.8,1557.3 147.2,1554.6 147.6,1551.6 148.0,1548.6 148.4,1546.0 148.8,1543.9 149.2,1542.3 149.6,1541.0 150.0,1540.2 150.4,1540.1 150.8,1540.5 151.2,1541.4 151.6,1542.4 152.0,1543.8 152.4,1545.6 152.8,1547.8 153.2,1550.2 153.6,1552.1 154.0,1552.7 154.4,1551.5 154.8,1548.7 155.2,1545.0 155.6,1541.3 156.0,1538.2 156.4,1536.5 156.8,1536.3 157.2,1537.4 157.6,1539.4 158.0,1541.6 158.4,1543.7 158.8,1545.1 159.2,1545.8 159.6,1545.8 160.0,1545.4 160.4,1544.9 160.8,1544.5 161.2,1544.3 161.6,1544.0 162.0,1543.5 162.4,1542.8 162.8,1541.6 163.2,1540.3 163.6,1538.8 164.0,1537.3 164.4,1535.8 164.7,1534.7 165.1,1534.1 165.5,1534.3 165.9,1535.3 166.3,1537.0 166.7,1539.0 167.1,1540.9 167.5,1542.4 167.9,1543.4 168.3,1544.1 168.7,1544.7 169.1,1545.4 169.5,1546.2 169.9,1546.6 170.3,1546.1 170.7,1544.7 171.1,1542.7 171.5,1540.9 171.9,1539.7 172.3,1539.2 172.7,1539.0 173.1,1539.0 173.5,1539.3 173.9,1540.1 174.3,1541.4 174.7,1542.9 175.1,1544.2 175.5,1545.1 175.9,1545.7 176.3,1546.1 176.7,1546.6 177.1,1547.2 177.5,1547.7 177.9,1547.6 178.3,1546.7 178.7,1545.1 179.1,1542.9 179.5,1540.4 179.9,1538.1 180.3,1536.6 180.7,1536.0 181.1,1536.1 181.5,1536.3 181.9,1536.2 182.3,1535.8 182.7,1535.8 183.1,1536.3 183.5,1537.1 183.9,1537.8 184.3,1537.7 184.7,1536.4 185.1,1534.2 185.5,1531.6 185.9,1529.5 186.3,1528.3 186.7,1528.1 187.1,1528.0 187.5,1526.6 187.9,1522.7 188.3,1516.3 188.7,1509.2 189.1,1503.9 189.5,1502.1 189.9,1503.9 190.3,1508.0 190.7,1513.2 191.1,1519.0 191.5,1524.7 191.9,1530.0 192.3,1534.2 192.7,1536.6 193.1,1537.1 193.5,1536.0 193.9,1534.2 194.3,1532.6 194.7,1531.8 195.1,1531.7 195.5,1531.8 195.9,1531.6 196.3,1530.9 196.7,1529.7 197.1,1527.9 197.5,1525.8 197.9,1523.5 198.3,1521.9 198.7,1521.6 199.1,1522.7 199.5,1524.9 199.9,1527.5 200.3,1530.1 200.7,1532.6 201.1,1535.1 201.5,1537.8 201.9,1540.3 202.3,1542.0 202.7,1542.4 203.1,1541.4 203.5,1539.0 203.9,1536.0 204.3,1533.0 204.7,1530.5 205.1,1529.0 205.5,1528.2 205.9,1527.7 206.3,1526.7 206.7,1524.4 207.1,1520.3 207.5,1514.4 207.9,1508.2 208.3,1503.9 208.7,1503.6 209.1,1507.5 209.5,1514.2 209.9,1521.3 210.3,1526.9 210.7,1530.7 211.1,1533.1 211.5,1534.5 211.9,1535.2 212.3,1535.3 212.7,1535.1 213.1,1534.7 213.5,1534.3 213.9,1534.1 214.3,1534.2 214.7,1534.7 215.1,1535.3 215.5,1535.8 215.9,1535.8 216.3,1535.0 216.7,1533.7 217.1,1532.3 217.5,1531.2 217.9,1530.9 218.3,1531.3 218.7,1532.4 219.1,1533.9 219.5,1535.7 219.9,1537.2 220.3,1538.4 220.7,1538.7 221.1,1538.2 221.5,1536.8 221.8,1535.1 222.2,1533.8 222.6,1533.6 223.0,1534.8 223.4,1537.1 223.8,1540.0 224.2,1543.1 224.6,1545.8 225.0,1547.8 225.4,1548.9 225.8,1548.8 226.2,1547.2 226.6,1543.8 227.0,1538.6 227.4,1531.9 227.8,1524.5 228.2,1517.3 228.6,1510.2 229.0,1502.9 229.4,1495.8 229.8,1490.5 230.2,1489.4 230.6,1493.3 231.0,1501.2 231.4,1510.5 231.8,1518.9 232.2,1525.1 232.6,1528.8 233.0,1530.2 233.4,1529.9 233.8,1528.4 234.2,1526.7 234.6,1525.3 235.0,1524.4 235.4,1524.1 235.8,1524.0 236.2,1524.0 236.6,1523.8 237.0,1523.4 237.4,1523.1 237.8,1522.9 238.2,1523.0 238.6,1523.2 239.0,1523.3 239.4,1523.1 239.8,1522.4 240.2,1521.6 240.6,1521.4 241.0,1522.3 241.4,1524.4 241.8,1527.2 242.2,1530.1 242.6,1532.8 243.0,1535.2 243.4,1537.6 243.8,1539.7 244.2,1541.0 244.6,1541.0 245.0,1539.5 245.4,1536.8 245.8,1533.7 246.2,1531.3 246.6,1529.8 247.0,1529.4 247.4,1529.6 247.8,1530.3 248.2,1531.3 248.6,1532.4 249.0,1533.3 249.4,1533.7 249.8,1533.5 250.2,1532.9 250.6,1532.2 251.0,1531.6 251.4,1531.0 251.8,1530.6 252.2,1530.8 252.6,1531.8 253.0,1533.8 253.4,1536.4 253.8,1539.0 254.2,1541.1 254.6,1542.2 255.0,1542.1 255.4,1540.8 255.8,1538.5 256.2,1535.9 256.6,1533.9 257.0,1533.3 257.4,1534.4 257.8,1536.9 258.2,1539.8 258.6,1541.8 259.0,1542.3 259.4,1540.7 259.8,1537.4 260.2,1533.3 260.6,1529.2 261.0,1525.8 261.4,1523.6 261.8,1522.3 262.2,1521.0 262.6,1518.6 263.0,1514.3 263.4,1508.3 263.8,1502.6 264.2,1499.6 264.6,1500.6 265.0,1505.3 265.4,1512.2 265.8,1519.3 266.2,1525.0 266.6,1528.5 267.0,1529.4 267.4,1528.4 267.8,1526.4 268.2,1524.7 268.6,1524.0 269.0,1524.2 269.4,1525.1 269.8,1525.9 270.2,1526.4 270.6,1526.7 271.0,1527.1 271.4,1527.9 271.8,1529.5 272.2,1531.5 272.6,1533.5 273.0,1534.5 273.4,1533.6 273.8,1530.6 274.2,1526.6 274.6,1523.0 275.0,1521.5 275.4,1522.2 275.8,1524.8 276.2,1527.7 276.6,1530.0 277.0,1530.6 277.4,1529.5 277.8,1527.6 278.2,1526.2 278.6,1526.3 278.9,1528.0 279.3,1530.2 279.7,1531.6 280.1,1531.8 280.5,1531.5 280.9,1531.5 281.3,1532.4 281.7,1533.9 282.1,1535.1 282.5,1535.5 282.9,1534.8 283.3,1533.5 283.7,1532.0 284.1,1530.5 284.5,1529.2 284.9,1527.9 285.3,1526.2 285.7,1523.9 286.1,1520.7 286.5,1517.3 286.9,1515.0 287.3,1515.2 287.7,1518.0 288.1,1522.6 288.5,1527.3 288.9,1531.2 289.3,1533.9 289.7,1535.9 290.1,1537.3 290.5,1538.5 290.9,1539.4 291.3,1540.0 291.7,1540.3 292.1,1540.1 292.5,1539.2 292.9,1537.4 293.3,1534.8 293.7,1531.7 294.1,1529.1 294.5,1527.7 294.9,1527.9 295.3,1529.7 295.7,1532.4 296.1,1535.2 296.5,1537.4 296.9,1538.9 297.3,1539.4 297.7,1539.0 298.1,1537.8 298.5,1535.9 298.9,1533.8 299.3,1531.7 299.7,1530.3 300.1,1530.1 300.5,1531.3 300.9,1533.7 301.3,1536.8 301.7,1540.0 302.1,1543.1 302.5,1545.9 302.9,1548.6 303.3,1551.2 303.7,1553.4 304.1,1554.9 304.5,1555.7 304.9,1555.5 305.3,1554.3 305.7,1552.2 306.1,1549.5 306.5,1546.4 306.9,1543.7 307.3,1542.0 307.7,1541.6 308.1,1542.4 308.5,1544.0 308.9,1545.5 309.3,1546.5 309.7,1547.0 310.1,1547.4 310.5,1548.1 310.9,1549.2 311.3,1550.4 311.7,1551.2 312.1,1551.2 312.5,1550.3 312.9,1548.4 313.3,1546.0 313.7,1543.7 314.1,1541.9 314.5,1541.2 314.9,1541.3 315.3,1541.6 315.7,1541.4 316.1,1540.4 316.5,1539.0 316.9,1537.9 317.3,1537.8 317.7,1539.1 318.1,1541.3 318.5,1543.4 318.9,1544.4 319.3,1544.1 319.7,1542.9 320.1,1541.8 320.5,1541.7 320.9,1542.5 321.3,1543.5 321.7,1543.9 322.1,1543.4 322.5,1542.3 322.9,1541.2 323.3,1540.3 323.7,1539.6 324.1,1539.1 324.5,1538.7 324.9,1538.8 325.3,1539.5 325.7,1540.8 326.1,1542.4 326.5,1543.9 326.9,1545.2 327.3,1546.5 327.7,1548.0 328.1,1549.8 328.5,1551.6 328.9,1552.9 329.3,1553.2 329.7,1552.6 330.1,1551.2 330.5,1549.5 330.9,1547.9 331.3,1546.6 331.7,1545.5 332.1,1544.6 332.5,1543.9 332.9,1543.5 333.3,1543.3 333.7,1543.2 334.1,1543.3 334.5,1543.7 334.9,1544.6 335.3,1546.1 335.6,1547.9 336.0,1549.5 336.4,1550.0 336.8,1549.3 337.2,1547.5 337.6,1545.0 338.0,1542.5 338.4,1540.3 338.8,1538.8 339.2,1538.2 339.6,1538.4 340.0,1539.1 340.4,1540.0 340.8,1540.9 341.2,1541.7 341.6,1542.6 342.0,1543.6 342.4,1544.4 342.8,1544.7 343.2,1544.2 343.6,1543.0 344.0,1541.6 344.4,1540.8 344.8,1541.4 345.2,1543.3 345.6,1545.7 346.0,1547.5 346.4,1548.0 346.8,1547.4 347.2,1546.4 347.6,1545.8 348.0,1546.1 348.4,1547.0 348.8,1547.9 349.2,1548.0 349.6,1547.1 350.0,1545.6 350.4,1544.4 350.8,1544.2 351.2,1545.0 351.6,1546.5 352.0,1547.6 352.4,1547.6 352.8,1546.1 353.2,1543.4 353.6,1540.4 354.0,1537.9 354.4,1536.5 354.8,1536.2 355.2,1536.6 355.6,1537.4 356.0,1538.1 356.4,1539.0 356.8,1539.8 357.2,1540.7 357.6,1541.3 358.0,1541.7 358.4,1542.3 358.8,1543.4 359.2,1545.4 359.6,1548.1 360.0,1551.1 360.4,1554.0 360.8,1556.4 361.2,1558.0 361.6,1558.5 362.0,1557.7 362.4,1555.5 362.8,1552.1 363.2,1547.9 363.6,1544.0 364.0,1541.2 364.4,1540.0 364.8,1540.7 365.2,1542.6 365.6,1544.7 366.0,1546.3 366.4,1546.8 366.8,1546.3 367.2,1545.3 367.6,1544.3 368.0,1543.4 368.4,1542.8 368.8,1542.8 369.2,1543.5 369.6,1545.2 370.0,1547.8 370.4,1550.8 370.8,1553.7 371.2,1555.8 371.6,1556.5 372.0,1555.4 372.4,1552.5 372.8,1548.5 373.2,1544.5 373.6,1541.3 374.0,1539.3 374.4,1538.5 374.8,1538.3 375.2,1538.5 375.6,1539.0 376.0,1539.4 376.4,1539.4 376.8,1538.7 377.2,1537.3 377.6,1535.7 378.0,1534.3 378.4,1533.4 378.8,1533.1 379.2,1533.0 379.6,1532.7 380.0,1532.3 380.4,1531.9 380.8,1532.2 381.2,1533.5 381.6,1536.2 382.0,1539.8 382.4,1543.6 382.8,1546.9 383.2,1549.1 383.6,1550.3 384.0,1550.8 384.4,1550.6 384.8,1550.0 385.2,1549.0 385.6,1547.9 386.0,1546.9 386.4,1546.2 386.8,1545.9 387.2,1545.7 387.6,1545.4 388.0,1544.9 388.4,1544.2 388.8,1543.5 389.2,1542.9 389.6,1542.6 390.0,1542.3 390.4,1541.8 390.8,1540.7 391.2,1538.8 391.6,1536.1 392.0,1532.6 392.4,1529.0 392.7,1526.1 393.1,1524.3 393.5,1523.3 393.9,1521.6 394.3,1517.3 394.7,1508.2 395.1,1494.3 395.5,1478.4 395.9,1466.2 396.3,1462.8 396.7,1469.7 397.1,1483.1 397.5,1497.3 397.9,1508.0 398.3,1513.8 398.7,1516.1 399.1,1516.4 399.5,1516.0 399.9,1515.6 400.3,1515.2 400.7,1514.5 401.1,1513.1 401.5,1510.9 401.9,1508.4 402.3,1507.3 402.7,1508.6 403.1,1512.5 403.5,1518.0 403.9,1523.6 404.3,1528.5 404.7,1532.4 405.1,1535.1 405.5,1536.4 405.9,1536.4 406.3,1535.5 406.7,1534.0 407.1,1532.2 407.5,1530.5 407.9,1529.0 408.3,1527.8 408.7,1527.1 409.1,1527.0 409.5,1527.4 409.9,1527.6 410.3,1527.0 410.7,1525.0 411.1,1521.9 411.5,1518.1 411.9,1513.8 412.3,1508.6 412.7,1502.2 413.1,1495.1 413.5,1488.7 413.9,1485.2 414.3,1485.9 414.7,1490.1 415.1,1496.0 415.5,1502.0 415.9,1507.5 416.3,1512.5 416.7,1517.4 417.1,1521.7 417.5,1525.3 417.9,1527.9 418.3,1529.4 418.7,1529.8 419.1,1529.1 419.5,1527.0 419.9,1523.7 420.3,1519.9 420.7,1516.5 421.1,1514.5 421.5,1514.2 421.9,1515.1 422.3,1516.6 422.7,1518.7 423.1,1520.9 423.5,1523.1 423.9,1524.5 424.3,1524.8 424.7,1524.2 425.1,1523.2 425.5,1522.5 425.9,1522.4 426.3,1523.0 426.7,1524.1 427.1,1525.1 427.5,1525.7 427.9,1525.9 428.3,1525.8 428.7,1525.8 429.1,1526.0 429.5,1526.4 429.9,1526.7 430.3,1526.4 430.7,1525.0 431.1,1522.0 431.5,1516.9 431.9,1509.5 432.3,1501.1 432.7,1494.2 433.1,1491.5 433.5,1493.9 433.9,1500.0 434.3,1507.1 434.7,1513.0 435.1,1516.6 435.5,1518.5 435.9,1519.4 436.3,1520.1 436.7,1521.0 437.1,1521.8 437.5,1521.7 437.9,1520.2 438.3,1517.2 438.7,1513.7 439.1,1511.2 439.5,1511.3 439.9,1514.0 440.3,1518.6 440.7,1523.3 441.1,1526.9 441.5,1529.2 441.9,1530.2 442.3,1530.6 442.7,1531.1 443.1,1531.8 443.5,1532.7 443.9,1533.7 444.3,1534.8 444.7,1536.5 445.1,1538.8 445.5,1541.6 445.9,1544.2 446.3,1545.6 446.7,1545.3 447.1,1543.1 447.5,1539.3 447.9,1534.2 448.3,1528.2 448.7,1521.1 449.1,1512.7 449.5,1503.4 449.8,1495.1 450.2,1490.3 450.6,1491.1 451.0,1496.9 451.4,1505.0 451.8,1512.4 452.2,1517.4 452.6,1520.3 453.0,1521.8 453.4,1522.8 453.8,1523.1 454.2,1522.3 454.6,1519.9 455.0,1515.9 455.4,1511.5 455.8,1508.4 456.2,1508.4 456.6,1512.2 457.0,1519.0 457.4,1526.7 457.8,1533.2 458.2,1537.2 458.6,1538.4 459.0,1537.6 459.4,1535.6 459.8,1533.5 460.2,1532.0 460.6,1531.5 461.0,1531.9 461.4,1533.1 461.8,1534.8 462.2,1536.4 462.6,1537.1 463.0,1536.3 463.4,1533.9 463.8,1530.4 464.2,1527.0 464.6,1524.4 465.0,1522.8 465.4,1522.2 465.8,1522.2 466.2,1522.3 466.6,1521.8 467.0,1519.8 467.4,1515.3 467.8,1507.8 468.2,1498.0 468.6,1488.3 469.0,1481.6 469.4,1479.8 469.8,1482.6 470.2,1487.7 470.6,1493.1 471.0,1497.7 471.4,1501.5 471.8,1504.5 472.2,1507.2 472.6,1509.8 473.0,1512.5 473.4,1515.6 473.8,1518.7 474.2,1521.4 474.6,1523.3 475.0,1524.4 475.4,1525.2 475.8,1526.4 476.2,1528.4 476.6,1530.8 477.0,1532.6 477.4,1533.2 477.8,1532.2 478.2,1530.1 478.6,1527.3 479.0,1524.3 479.4,1521.5 479.8,1519.5 480.2,1518.3 480.6,1517.7 481.0,1517.2 481.4,1516.6 481.8,1516.1 482.2,1516.2 482.6,1517.2 483.0,1518.8 483.4,1520.2 483.8,1521.2 484.2,1521.8 484.6,1522.3 485.0,1522.7 485.4,1523.1 485.8,1523.7 486.2,1524.6 486.6,1526.2 487.0,1528.6 487.4,1531.5 487.8,1534.5 488.2,1536.9 488.6,1538.1 489.0,1537.7 489.4,1536.1 489.8,1534.0 490.2,1532.6 490.6,1532.8 491.0,1535.0 491.4,1538.4 491.8,1541.7 492.2,1543.5 492.6,1542.9 493.0,1540.1 493.4,1535.9 493.8,1531.6 494.2,1528.1 494.6,1525.8 495.0,1524.9 495.4,1525.5 495.8,1527.7 496.2,1531.0 496.6,1535.0 497.0,1539.0 497.4,1542.2 497.8,1544.1 498.2,1544.7 498.6,1544.6 499.0,1544.2 499.4,1544.0 499.8,1544.3 500.2,1545.1 500.6,1546.2 501.0,1547.8 501.4,1549.5 501.8,1551.4 502.2,1553.4 502.6,1555.3 503.0,1556.8 503.4,1557.8 503.8,1558.2 504.2,1558.4 504.6,1558.7 505.0,1558.9 505.4,1558.6 505.8,1557.2 506.2,1554.6 506.6,1551.1 506.9,1547.5 507.3,1544.6 507.7,1543.0 508.1,1542.9 508.5,1543.8 508.9,1544.9 509.3,1545.4 509.7,1544.7 510.1,1543.0 510.5,1540.3 510.9,1537.5 511.3,1535.0 511.7,1533.7 512.1,1533.7 512.5,1535.2 512.9,1537.5 513.3,1539.8 513.7,1541.1 514.1,1541.2 514.5,1539.8 514.9,1537.5 515.3,1534.9 515.7,1532.6 516.1,1531.4 516.5,1531.2 516.9,1531.8 517.3,1532.8 517.7,1533.8 518.1,1534.8 518.5,1535.8 518.9,1537.1 519.3,1538.9 519.7,1541.2 520.1,1543.9 520.5,1547.0 520.9,1549.8 521.3,1551.7 521.7,1552.2 522.1,1551.0 522.5,1548.4 522.9,1545.3 523.3,1542.5 523.7,1540.8 524.1,1540.7 524.5,1541.7 524.9,1543.4 525.3,1545.2 525.7,1546.9 526.1,1548.5 526.5,1550.3 526.9,1552.1 527.3,1553.5 527.7,1554.1 528.1,1554.1 528.5,1554.1 528.9,1554.9 529.3,1556.6 529.7,1558.4 530.1,1559.4 530.5,1559.0 530.9,1557.5 531.3,1555.4 531.7,1553.5 532.1,1551.9 532.5,1550.4 532.9,1548.4 533.3,1545.9 533.7,1543.3 534.1,1541.3 534.5,1540.4 534.9,1540.8 535.3,1541.9 535.7,1543.0 536.1,1543.7 536.5,1544.1 536.9,1544.9 537.3,1546.4 537.7,1548.6 538.1,1550.7 538.5,1551.9 538.9,1551.9 539.3,1551.3 539.7,1551.0 540.1,1551.3 540.5,1552.3 540.9,1553.0 541.3,1552.8 541.7,1551.2 542.1,1548.4 542.5,1545.0 542.9,1541.9 543.3,1539.8 543.7,1539.0 544.1,1539.4 544.5,1540.1 544.9,1540.6 545.3,1540.5 545.7,1540.0 546.1,1539.4 546.5,1538.8 546.9,1538.1 547.3,1537.3 547.7,1536.8 548.1,1537.4 548.5,1539.3 548.9,1542.3 549.3,1545.2 549.7,1547.2 550.1,1548.0 550.5,1547.9 550.9,1547.4 551.3,1546.7 551.7,1546.0 552.1,1545.3 552.5,1544.4 552.9,1543.7 553.3,1543.2 553.7,1543.2 554.1,1543.8 554.5,1544.9 554.9,1546.4 555.3,1547.7 555.7,1548.5 556.1,1548.4 556.5,1547.5 556.9,1546.2 557.3,1545.0 557.7,1544.6 558.1,1544.9 558.5,1545.9 558.9,1547.1 559.3,1548.0 559.7,1548.2 560.1,1547.5 560.5,1545.9 560.9,1543.4 561.3,1540.3 561.7,1537.0 562.1,1534.0 562.5,1531.7 562.9,1530.7 563.3,1531.1 563.7,1533.0 564.0,1535.7 564.4,1538.5 564.8,1540.6 565.2,1541.7 565.6,1541.8 566.0,1541.1 566.4,1539.8 566.8,1538.0 567.2,1535.9 567.6,1534.2 568.0,1533.7 568.4,1534.7 568.8,1537.2 569.2,1540.5 569.6,1543.8 570.0,1546.3 570.4,1547.5 570.8,1547.3 571.2,1545.7 571.6,1543.4 572.0,1541.1 572.4,1539.7 572.8,1539.7 573.2,1541.0 573.6,1543.0 574.0,1544.9 574.4,1545.9 574.8,1545.9 575.2,1545.5 575.6,1545.1 576.0,1545.2 576.4,1546.0 576.8,1547.1 577.2,1548.0 577.6,1548.1 578.0,1547.4 578.4,1545.9 578.8,1543.8 579.2,1541.4 579.6,1538.9 580.0,1535.9 580.4,1532.4 580.8,1528.2 581.2,1523.2 581.6,1516.9 582.0,1508.6 582.4,1498.4 582.8,1488.2 583.2,1481.4 583.6,1481.0 584.0,1487.2 584.4,1497.2 584.8,1507.3 585.2,1515.2 585.6,1520.4 586.0,1522.8 586.4,1522.4 586.8,1518.8 587.2,1512.3 587.6,1504.4 588.0,1497.6 588.4,1494.1 588.8,1495.4 589.2,1500.7 589.6,1508.1 590.0,1515.3 590.4,1521.0 590.8,1525.0 591.2,1527.9 591.6,1530.2 592.0,1532.2 592.4,1534.1 592.8,1535.9 593.2,1537.7 593.6,1539.5 594.0,1541.4 594.4,1543.1 594.8,1544.1 595.2,1543.9 595.6,1542.0 596.0,1538.6 596.4,1534.2 596.8,1529.6 597.2,1525.5 597.6,1522.1 598.0,1519.2 598.4,1515.9 598.8,1511.1 599.2,1504.3 599.6,1496.6 600.0,1491.0 600.4,1490.3 600.8,1495.3 601.2,1504.0 601.6,1513.4 602.0,1521.2 602.4,1526.3 602.8,1528.7 603.2,1528.6 603.6,1526.8 604.0,1523.8 604.4,1520.3 604.8,1516.7 605.2,1513.4 605.6,1510.1 606.0,1506.5 606.4,1502.2 606.8,1497.1 607.2,1492.0 607.6,1489.3 608.0,1491.1 608.4,1497.9 608.8,1507.6 609.2,1516.8 609.6,1523.3 610.0,1526.8 610.4,1528.6 610.8,1530.2 611.2,1532.3 611.6,1534.7 612.0,1537.2 612.4,1539.3 612.8,1541.0 613.2,1542.3 613.6,1543.1 614.0,1543.4 614.4,1543.3 614.8,1542.4 615.2,1540.6 615.6,1537.7 616.0,1534.0 616.4,1529.9 616.8,1525.8 617.2,1521.9 617.6,1518.7 618.0,1516.8 618.4,1517.2 618.8,1519.9 619.2,1524.2 619.6,1528.5 620.0,1531.4 620.4,1532.6 620.7,1532.3 621.1,1531.3 621.5,1530.0 621.9,1529.1 622.3,1528.6 622.7,1528.6 623.1,1528.8 623.5,1529.0 623.9,1529.2 624.3,1529.4 624.7,1530.1 625.1,1531.6 625.5,1533.8 625.9,1536.4 626.3,1538.4 626.7,1539.2 627.1,1538.5 627.5,1536.4 627.9,1533.3 628.3,1529.9 628.7,1527.2 629.1,1525.6 629.5,1525.4 629.9,1526.2 630.3,1527.4 630.7,1528.6 631.1,1529.6 631.5,1530.2 631.9,1530.3 632.3,1529.6 632.7,1527.7 633.1,1524.0 633.5,1518.6 633.9,1512.5 634.3,1507.5 634.7,1505.6 635.1,1507.0 635.5,1510.3 635.9,1513.6 636.3,1515.4 636.7,1515.9 637.1,1516.0 637.5,1516.2 637.9,1517.0 638.3,1518.5 638.7,1520.7 639.1,1523.5 639.5,1526.8 639.9,1530.3 640.3,1533.5 640.7,1536.2 641.1,1538.0 641.5,1538.8 641.9,1538.2 642.3,1536.2 642.7,1533.6 643.1,1531.1 643.5,1529.5 643.9,1528.9 644.3,1529.2 644.7,1530.3 645.1,1532.4 645.5,1535.1 645.9,1537.9 646.3,1540.2 646.7,1541.1 647.1,1540.3 647.5,1537.9 647.9,1534.4 648.3,1530.9 648.7,1527.8 649.1,1525.6 649.5,1524.0 649.9,1522.7 650.3,1520.7 650.7,1517.2 651.1,1511.3 651.5,1503.5 651.9,1496.1 652.3,1492.1 652.7,1493.5 653.1,1499.8 653.5,1508.8 653.9,1517.9 654.3,1525.5 654.7,1531.0 655.1,1534.3 655.5,1535.7 655.9,1535.8 656.3,1534.9 656.7,1533.3 657.1,1531.3 657.5,1529.0 657.9,1527.0 658.3,1525.4 658.7,1523.7 659.1,1521.2 659.5,1517.5 659.9,1513.6 660.3,1511.2 660.7,1512.0 661.1,1516.3 661.5,1522.9 661.9,1529.7 662.3,1535.1 662.7,1538.2 663.1,1539.2 663.5,1538.7 663.9,1537.6 664.3,1536.6 664.7,1536.2 665.1,1536.0 665.5,1535.7 665.9,1535.0 666.3,1534.2 666.7,1534.1 667.1,1535.1 667.5,1537.2 667.9,1539.9 668.3,1542.7 668.7,1545.1 669.1,1546.8 669.5,1547.8 669.9,1548.0 670.3,1547.6 670.7,1546.5 671.1,1545.0 671.5,1543.1 671.9,1541.6 672.3,1541.0 672.7,1541.7 673.1,1543.4 673.5,1545.2 673.9,1546.0 674.3,1545.6 674.7,1544.7 675.1,1544.3 675.5,1545.1 675.9,1546.7 676.3,1548.3 676.7,1549.0 677.1,1548.3 677.5,1546.5 677.8,1544.1 678.2,1542.1 678.6,1540.8 679.0,1540.1 679.4,1539.8 679.8,1539.5 680.2,1539.3 680.6,1539.7 681.0,1540.7 681.4,1542.4 681.8,1544.4 682.2,1546.5 682.6,1548.0 683.0,1548.5 683.4,1547.5 683.8,1544.9 684.2,1541.1 684.6,1536.8 685.0,1532.8 685.4,1530.1 685.8,1529.2 686.2,1530.3 686.6,1533.0 687.0,1536.7 687.4,1541.0 687.8,1545.6 688.2,1549.9 688.6,1553.7 689.0,1556.4 689.4,1557.6 689.8,1557.4 690.2,1555.9 690.6,1553.5 691.0,1550.6 691.4,1547.6 691.8,1545.0 692.2,1543.1 692.6,1542.3 693.0,1542.3 693.4,1543.0 693.8,1544.0 694.2,1545.1 694.6,1546.2 695.0,1547.2 695.4,1547.8 695.8,1547.8 696.2,1546.9 696.6,1545.6 697.0,1544.4 697.4,1543.8 697.8,1543.9 698.2,1544.7 698.6,1545.8 699.0,1546.9 699.4,1548.1 699.8,1549.4 700.2,1551.0 700.6,1552.9 701.0,1554.5 701.4,1555.2 701.8,1554.2 702.2,1551.3 702.6,1547.2 703.0,1542.8 703.4,1539.3 703.8,1537.2 704.2,1536.6 704.6,1536.9 705.0,1537.0 705.4,1536.0 705.8,1533.7 706.2,1530.7 706.6,1528.3 707.0,1527.6 707.4,1528.7 707.8,1531.2 708.2,1534.3 708.6,1537.3 709.0,1539.8 709.4,1542.0 709.8,1543.8 710.2,1545.1 710.6,1545.6 711.0,1545.2 711.4,1544.2 711.8,1543.0 712.2,1541.9 712.6,1540.9 713.0,1540.0 713.4,1539.1 713.8,1538.3 714.2,1537.4 714.6,1536.7 715.0,1536.2 715.4,1536.1 715.8,1536.7 716.2,1538.1 716.6,1540.1 717.0,1542.2 717.4,1543.6 717.8,1543.8 718.2,1542.9 718.6,1541.3 719.0,1539.8 719.4,1538.7 719.8,1538.0 720.2,1537.8 720.6,1537.9 721.0,1538.6 721.4,1539.8 721.8,1541.4 722.2,1542.9 722.6,1544.0 723.0,1544.2 723.4,1543.5 723.8,1541.8 724.2,1539.8 724.6,1538.5 725.0,1538.5 725.4,1540.0 725.8,1542.1 726.2,1543.7 726.6,1544.1 727.0,1543.0 727.4,1541.0 727.8,1538.7 728.2,1536.9 728.6,1536.0 729.0,1536.7 729.4,1539.2 729.8,1543.1 730.2,1547.7 730.6,1551.6 731.0,1553.9 731.4,1554.1 731.8,1552.7 732.2,1550.6 732.6,1548.8 733.0,1547.6 733.4,1546.9 733.8,1546.3 734.2,1545.3 734.6,1543.8 734.9,1541.9 735.3,1539.9 735.7,1538.2 736.1,1536.7 736.5,1535.7 736.9,1535.4 737.3,1535.9 737.7,1537.3 738.1,1539.7 738.5,1542.5 738.9,1545.3 739.3,1547.3 739.7,1548.2 740.1,1547.6 740.5,1545.9 740.9,1543.4 741.3,1540.7 741.7,1538.3 742.1,1536.6 742.5,1535.2 742.9,1533.9 743.3,1532.5 743.7,1531.1 744.1,1530.3 744.5,1530.7 744.9,1532.7 745.3,1535.7 745.7,1539.1 746.1,1542.0 746.5,1543.9 746.9,1545.1 747.3,1546.1 747.7,1547.5 748.1,1549.4 748.5,1552.0 748.9,1554.8 749.3,1557.4 749.7,1559.4 750.1,1560.5 750.5,1560.6 750.9,1559.9 751.3,1558.3 751.7,1556.5 752.1,1554.7 752.5,1553.1 752.9,1551.7 753.3,1550.3 753.7,1548.6 754.1,1546.8 754.5,1544.8 754.9,1542.9 755.3,1541.2 755.7,1539.8 756.1,1538.9 756.5,1538.8 756.9,1539.5 757.3,1540.8 757.7,1542.3 758.1,1543.6 758.5,1544.3 758.9,1544.8 759.3,1545.1 759.7,1545.9 760.1,1547.3 760.5,1549.2 760.9,1551.4 761.3,1553.3 761.7,1554.4 762.1,1554.5 762.5,1553.5 762.9,1551.7 763.3,1549.6 763.7,1547.4 764.1,1545.4 764.5,1543.1 764.9,1540.5 765.3,1537.3 765.7,1534.1 766.1,1531.2 766.5,1529.3 766.9,1528.3 767.3,1527.6 767.7,1526.7 768.1,1524.7 768.5,1521.7 768.9,1517.7 769.3,1513.1 769.7,1507.8 770.1,1501.3 770.5,1492.3 770.9,1480.5 771.3,1467.8 771.7,1458.3 772.1,1456.7 772.5,1464.2 772.9,1477.5 773.3,1491.1 773.7,1501.2 774.1,1507.1 774.5,1510.2 774.9,1512.2 775.3,1514.1 775.7,1516.2 776.1,1518.2 776.5,1519.9 776.9,1521.0 777.3,1521.4 777.7,1520.8 778.1,1519.1 778.5,1516.3 778.9,1512.5 779.3,1507.6 779.7,1501.5 780.1,1494.6 780.5,1488.5 780.9,1485.1 781.3,1486.0 781.7,1490.7 782.1,1497.6 782.5,1504.5 782.9,1510.5 783.3,1514.9 783.7,1517.6 784.1,1518.5 784.5,1517.6 784.9,1515.4 785.3,1512.5 785.7,1509.9 786.1,1508.8 786.5,1509.4 786.9,1511.1 787.3,1513.1 787.7,1514.5 788.1,1515.1 788.5,1515.0 788.9,1514.4 789.3,1512.7 789.7,1509.0 790.1,1502.1 790.5,1491.5 790.9,1479.2 791.3,1469.0 791.7,1465.2 792.0,1469.3 792.4,1479.2 792.8,1491.1 793.2,1501.5 793.6,1509.1 794.0,1513.6 794.4,1515.9 794.8,1516.7 795.2,1517.0 795.6,1517.5 796.0,1518.5 796.4,1519.8 796.8,1521.1 797.2,1522.1 797.6,1522.2 798.0,1521.4 798.4,1519.7 798.8,1517.6 799.2,1515.7 799.6,1515.2 800.0,1516.6 800.4,1519.7 800.8,1523.7 801.2,1527.9 801.6,1531.6 802.0,1534.7 802.4,1536.8 802.8,1538.0 803.2,1538.6 803.6,1538.8 804.0,1538.7 804.4,1538.1 804.8,1536.7 805.2,1534.4 805.6,1531.3 806.0,1527.4 806.4,1522.7 806.8,1517.2 807.2,1510.7 807.6,1503.1 808.0,1494.1 808.4,1483.1 808.8,1470.1 809.2,1457.2 809.6,1448.6 810.0,1448.4 810.4,1457.2 810.8,1471.4 811.2,1485.6 811.6,1496.3 812.0,1503.0 812.4,1507.0 812.8,1509.7 813.2,1511.8 813.6,1513.0 814.0,1513.0 814.4,1511.2 814.8,1507.5 815.2,1502.8 815.6,1498.6 816.0,1496.7 816.4,1497.4 816.8,1499.8 817.2,1502.5 817.6,1504.7 818.0,1506.7 818.4,1508.9 818.8,1511.5 819.2,1513.9 819.6,1515.6 820.0,1516.6 820.4,1517.5 820.8,1518.9 821.2,1520.7 821.6,1522.5 822.0,1523.6 822.4,1523.5 822.8,1521.9 823.2,1519.2 823.6,1516.0 824.0,1513.3 824.4,1511.6 824.8,1511.1 825.2,1511.1 825.6,1510.4 826.0,1507.6 826.4,1501.6 826.8,1491.8 827.2,1479.4 827.6,1467.7 828.0,1461.3 828.4,1462.9 828.8,1471.4 829.2,1482.9 829.6,1493.7 830.0,1502.1 830.4,1508.2 830.8,1513.2 831.2,1517.7 831.6,1521.8 832.0,1525.3 832.4,1527.9 832.8,1529.7 833.2,1530.5 833.6,1530.6 834.0,1529.9 834.4,1528.4 834.8,1526.3 835.2,1523.5 835.6,1520.4 836.0,1517.8 836.4,1516.7 836.8,1517.9 837.2,1521.4 837.6,1526.1 838.0,1530.4 838.4,1532.9 838.8,1533.6 839.2,1532.8 839.6,1531.6 840.0,1530.4 840.4,1529.2 840.8,1527.5 841.2,1524.6 841.6,1520.5 842.0,1515.4 842.4,1510.1 842.8,1505.0 843.2,1500.0 843.6,1494.5 844.0,1486.7 844.4,1475.9 844.8,1463.0 845.2,1451.9 845.6,1447.4 846.0,1451.9 846.4,1463.5 846.8,1477.6 847.2,1490.0 847.6,1499.3 848.0,1505.7 848.4,1510.2 848.8,1513.2 849.1,1515.1 849.5,1515.9 849.9,1516.1 850.3,1516.1 850.7,1515.9 851.1,1515.5 851.5,1514.7 851.9,1513.8 852.3,1513.6 852.7,1514.9 853.1,1517.6 853.5,1521.0 853.9,1524.1 854.3,1526.6 854.7,1528.6 855.1,1530.4 855.5,1532.1 855.9,1533.2 856.3,1533.4 856.7,1532.9 857.1,1532.5 857.5,1533.0 857.9,1535.0 858.3,1538.0 858.7,1541.0 859.1,1542.9 859.5,1542.9 859.9,1540.8 860.3,1537.4 860.7,1533.6 861.1,1530.3 861.5,1528.2 861.9,1527.4 862.3,1527.7 862.7,1528.9 863.1,1530.2 863.5,1530.8 863.9,1530.1 864.3,1528.3 864.7,1526.1 865.1,1524.7 865.5,1525.1 865.9,1527.7 866.3,1532.1 866.7,1537.3 867.1,1542.4 867.5,1546.3 867.9,1548.8 868.3,1549.9 868.7,1550.3 869.1,1550.4 869.5,1550.7 869.9,1551.2 870.3,1552.0 870.7,1553.0 871.1,1554.1 871.5,1555.0 871.9,1555.6 872.3,1555.6 872.7,1555.0 873.1,1553.8 873.5,1552.3 873.9,1550.5 874.3,1548.6 874.7,1546.6 875.1,1544.5 875.5,1542.6 875.9,1541.0 876.3,1540.0 876.7,1539.5 877.1,1539.4 877.5,1539.6 877.9,1539.8 878.3,1539.6 878.7,1539.2 879.1,1538.4 879.5,1537.3 879.9,1536.0 880.3,1534.7 880.7,1533.4 881.1,1532.5 881.5,1532.3 881.9,1533.0 882.3,1534.5 882.7,1536.4 883.1,1538.4 883.5,1540.4 883.9,1542.1 884.3,1543.5 884.7,1544.4 885.1,1545.1 885.5,1545.6 885.9,1545.6 886.3,1544.9 886.7,1543.1 887.1,1540.1 887.5,1536.5 887.9,1533.2 888.3,1530.9 888.7,1530.3 889.1,1531.3 889.5,1533.5 889.9,1536.3 890.3,1538.9 890.7,1540.7 891.1,1541.3 891.5,1541.0 891.9,1540.1 892.3,1539.2 892.7,1538.5 893.1,1538.0 893.5,1537.6 893.9,1537.2 894.3,1537.1 894.7,1537.3 895.1,1538.1 895.5,1539.5 895.9,1541.4 896.3,1543.3 896.7,1544.9 897.1,1545.9 897.5,1546.4 897.9,1546.3 898.3,1545.2 898.7,1543.0 899.1,1539.9 899.5,1536.9 899.9,1535.2 900.3,1535.9 900.7,1539.1 901.1,1544.0 901.5,1549.3 901.9,1553.8 902.3,1556.9 902.7,1558.2 903.1,1557.5 903.5,1554.7 903.9,1550.1 904.3,1545.0 904.7,1541.0 905.1,1539.5 905.5,1540.7 905.8,1543.8 906.2,1547.1 906.6,1549.5 907.0,1550.6 907.4,1550.5 907.8,1549.3 908.2,1547.3 908.6,1544.5 909.0,1541.4 909.4,1538.4 909.8,1536.2 910.2,1535.0 910.6,1534.8 911.0,1535.4 911.4,1536.0 911.8,1536.0 912.2,1535.4 912.6,1534.6 913.0,1534.0 913.4,1534.1 913.8,1534.6 914.2,1535.1 914.6,1535.1 915.0,1534.7 915.4,1533.9 915.8,1533.3 916.2,1533.2 916.6,1533.6 917.0,1534.1 917.4,1534.0 917.8,1533.0 918.2,1531.5 918.6,1530.4 919.0,1530.2 919.4,1531.2 919.8,1533.2 920.2,1535.6 920.6,1537.9 921.0,1540.0 921.4,1541.7 921.8,1542.9 922.2,1543.4 922.6,1543.4 923.0,1543.0 923.4,1542.4 923.8,1541.9 924.2,1541.7 924.6,1542.0 925.0,1543.1 925.4,1544.9 925.8,1547.1 926.2,1549.0 926.6,1549.7 927.0,1549.0 927.4,1547.4 927.8,1545.6 928.2,1544.2 928.6,1543.5 929.0,1543.2 929.4,1543.1 929.8,1543.0 930.2,1542.9 930.6,1542.8 931.0,1542.7 931.4,1542.6 931.8,1542.0 932.2,1540.7 932.6,1538.7 933.0,1536.5 933.4,1534.8 933.8,1534.2 934.2,1535.1 934.6,1537.0 935.0,1539.2 935.4,1541.3 935.8,1542.8 936.2,1544.1 936.6,1545.3 937.0,1546.5 937.4,1547.7 937.8,1548.7 938.2,1549.0 938.6,1548.4 939.0,1546.5 939.4,1543.5 939.8,1540.0 940.2,1537.0 940.6,1535.1 941.0,1534.5 941.4,1535.1 941.8,1536.7 942.2,1538.8 942.6,1541.0 943.0,1543.0 943.4,1544.5 943.8,1545.6 944.2,1546.2 944.6,1546.2 945.0,1545.6 945.4,1544.5 945.8,1543.5 946.2,1543.1 946.6,1544.2 947.0,1546.9 947.4,1550.5 947.8,1554.0 948.2,1555.9 948.6,1555.3 949.0,1552.5 949.4,1548.5 949.8,1544.6 950.2,1541.8 950.6,1540.4 951.0,1540.5 951.4,1541.6 951.8,1543.2 952.2,1544.8 952.6,1545.9 953.0,1546.3 953.4,1546.3 953.8,1546.0 954.2,1545.9 954.6,1546.0 955.0,1546.5 955.4,1546.9 955.8,1547.2 956.2,1547.2 956.6,1547.3 957.0,1547.7 957.4,1548.4 957.8,1549.3 958.2,1549.8 958.6,1549.3 959.0,1547.6 959.4,1544.6 959.8,1540.7 960.2,1536.6 960.6,1533.2 961.0,1530.8 961.4,1529.4 961.8,1528.9 962.2,1528.7 962.6,1528.8 962.9,1529.1 963.3,1529.5 963.7,1529.8 964.1,1529.9 964.5,1529.8 964.9,1529.7 965.3,1529.6 965.7,1529.8 966.1,1530.2 966.5,1530.8 966.9,1531.6 967.3,1531.9 967.7,1531.4 968.1,1529.5 968.5,1526.6 968.9,1523.2 969.3,1520.2 969.7,1518.1 970.1,1516.9 970.5,1515.9 970.9,1514.2 971.3,1510.9 971.7,1504.8 972.1,1495.4 972.5,1483.0 972.9,1470.7 973.3,1462.6 973.7,1461.9 974.1,1468.4 974.5,1478.7 974.9,1488.9 975.3,1496.7 975.7,1502.2 976.1,1506.3 976.5,1509.7 976.9,1512.7 977.3,1514.9 977.7,1515.8 978.1,1515.4 978.5,1514.2 978.9,1513.2 979.3,1513.1 979.7,1513.8 980.1,1514.7 980.5,1514.8 980.9,1513.9 981.3,1512.4 981.7,1510.9 982.1,1510.3 982.5,1510.8 982.9,1512.4 983.3,1514.4 983.7,1516.1 984.1,1516.6 984.5,1515.9 984.9,1514.5 985.3,1513.6 985.7,1513.9 986.1,1515.8 986.5,1518.8 986.9,1521.9 987.3,1524.4 987.7,1526.0 988.1,1527.0 988.5,1527.7 988.9,1528.3 989.3,1528.7 989.7,1528.6 990.1,1527.6 990.5,1525.2 990.9,1521.4 991.3,1516.4 991.7,1510.7 992.1,1504.4 992.5,1497.2 992.9,1488.3 993.3,1476.8 993.7,1463.3 994.1,1450.5 994.5,1442.9 994.9,1443.8 995.3,1452.5 995.7,1465.0 996.1,1477.0 996.5,1485.8 996.9,1491.2 997.3,1494.3 997.7,1496.2 998.1,1497.8 998.5,1499.6 998.9,1501.8 999.3,1504.1 999.7,1505.9 1000.1,1506.4 1000.5,1504.8 1000.9,1500.7 1001.3,1494.4 1001.7,1487.6 1002.1,1483.0 1002.5,1482.5 1002.9,1486.3 1003.3,1492.7 1003.7,1499.6 1004.1,1505.5 1004.5,1510.1 1004.9,1513.3 1005.3,1515.3 1005.7,1516.4 1006.1,1516.9 1006.5,1517.5 1006.9,1518.2 1007.3,1518.9 1007.7,1519.4 1008.1,1520.0 1008.5,1520.9 1008.9,1522.3 1009.3,1523.9 1009.7,1524.8 1010.1,1524.1 1010.5,1521.4 1010.9,1517.3 1011.3,1512.3 1011.7,1507.4 1012.1,1502.9 1012.5,1498.4 1012.9,1492.6 1013.3,1483.8 1013.7,1471.2 1014.1,1456.3 1014.5,1443.8 1014.9,1439.1 1015.3,1444.6 1015.7,1457.5 1016.1,1472.4 1016.5,1484.9 1016.9,1493.2 1017.3,1498.1 1017.7,1500.9 1018.1,1502.7 1018.5,1504.0 1018.9,1504.6 1019.3,1504.5 1019.7,1504.0 1020.0,1503.8 1020.4,1505.1 1020.8,1508.1 1021.2,1512.5 1021.6,1517.4 1022.0,1521.7 1022.4,1524.7 1022.8,1525.6 1023.2,1523.6 1023.6,1518.2 1024.0,1509.9 1024.4,1499.9 1024.8,1490.7 1025.2,1485.0 1025.6,1484.1 1026.0,1487.7 1026.4,1493.5 1026.8,1499.4 1027.2,1504.2 1027.6,1507.7 1028.0,1510.1 1028.4,1511.5 1028.8,1511.9 1029.2,1510.8 1029.6,1508.1 1030.0,1504.5 1030.4,1501.2 1030.8,1499.6 1031.2,1500.5 1031.6,1503.6 1032.0,1508.0 1032.4,1512.7 1032.8,1516.6 1033.2,1518.7 1033.6,1518.1 1034.0,1514.0 1034.4,1506.3 1034.8,1495.5 1035.2,1483.8 1035.6,1474.8 1036.0,1471.9 1036.4,1476.1 1036.8,1485.2 1037.2,1495.5 1037.6,1504.2 1038.0,1510.1 1038.4,1513.6 1038.8,1515.0 1039.2,1514.8 1039.6,1513.0 1040.0,1510.0 1040.4,1507.0 1040.8,1504.7 1041.2,1503.9 1041.6,1504.2 1042.0,1504.9 1042.4,1505.6 1042.8,1506.1 1043.2,1507.3 1043.6,1509.4 1044.0,1512.6 1044.4,1516.1 1044.8,1519.3 1045.2,1521.8 1045.6,1523.5 1046.0,1524.4 1046.4,1524.6 1046.8,1524.6 1047.2,1524.7 1047.6,1525.3 1048.0,1527.0 1048.4,1529.5 1048.8,1532.2 1049.2,1534.4 1049.6,1535.5 1050.0,1535.5 1050.4,1534.8 1050.8,1533.8 1051.2,1532.6 1051.6,1530.7 1052.0,1527.5 1052.4,1522.8 1052.8,1516.9 1053.2,1510.3 1053.6,1503.6 1054.0,1496.9 1054.4,1490.1 1054.8,1482.8 1055.2,1474.2 1055.6,1463.6 1056.0,1451.7 1056.4,1441.7 1056.8,1438.1 1057.2,1443.7 1057.6,1457.3 1058.0,1474.1 1058.4,1489.4 1058.8,1500.8 1059.2,1508.3 1059.6,1513.0 1060.0,1515.7 1060.4,1517.2 1060.8,1517.9 1061.2,1518.3 1061.6,1518.9 1062.0,1519.9 1062.4,1521.2 1062.8,1522.6 1063.2,1523.5 1063.6,1523.6 1064.0,1522.7 1064.4,1520.8 1064.8,1517.9 1065.2,1514.1 1065.6,1509.9 1066.0,1506.5 1066.4,1504.8 1066.8,1505.1 1067.2,1506.5 1067.6,1508.0 1068.0,1509.1 1068.4,1510.4 1068.8,1512.4 1069.2,1515.7 1069.6,1519.9 1070.0,1523.9 1070.4,1527.0 1070.8,1529.2 1071.2,1530.9 1071.6,1532.8 1072.0,1535.1 1072.4,1537.4 1072.8,1539.2 1073.2,1539.8 1073.6,1539.5 1074.0,1538.6 1074.4,1537.7 1074.8,1537.5 1075.2,1537.9 1075.6,1539.0 1076.0,1541.0 1076.4,1543.6 1076.8,1546.2 1077.1,1548.0 1077.5,1548.4 1077.9,1547.4 1078.3,1545.8 1078.7,1544.9 1079.1,1545.4 1079.5,1547.2 1079.9,1549.4 1080.3,1551.0 1080.7,1551.3 1081.1,1550.2 1081.5,1548.2 1081.9,1546.0 1082.3,1544.1 1082.7,1542.7 1083.1,1541.7 1083.5,1540.8 1083.9,1540.2 1084.3,1540.0 1084.7,1540.5 1085.1,1541.6 1085.5,1542.9 1085.9,1544.1 1086.3,1545.0 1086.7,1545.6 1087.1,1545.6 1087.5,1544.8 1087.9,1543.4 1088.3,1541.2 1088.7,1538.6 1089.1,1536.1 1089.5,1534.1 1089.9,1532.8 1090.3,1532.3 1090.7,1532.3 1091.1,1532.9 1091.5,1533.9 1091.9,1535.3 1092.3,1536.8 1092.7,1538.0 1093.1,1538.7 1093.5,1539.2 1093.9,1539.5 1094.3,1539.9 1094.7,1540.3 1095.1,1540.8 1095.5,1541.6 1095.9,1542.8 1096.3,1544.5 1096.7,1546.8 1097.1,1549.4 1097.5,1552.0 1097.9,1553.9 1098.3,1554.8 1098.7,1554.3 1099.1,1552.1 1099.5,1548.7 1099.9,1544.8 1100.3,1541.3 1100.7,1538.9 1101.1,1538.2 1101.5,1539.1 1101.9,1541.4 1102.3,1544.4 1102.7,1547.5 1103.1,1550.1 1103.5,1551.8 1103.9,1552.4 1104.3,1552.1 1104.7,1550.9 1105.1,1548.8 1105.5,1546.1 1105.9,1543.3 1106.3,1540.8 1106.7,1539.0 1107.1,1538.2 1107.5,1538.7 1107.9,1540.2 1108.3,1542.4 1108.7,1544.3 1109.1,1545.3 1109.5,1544.8 1109.9,1543.1 1110.3,1541.1 1110.7,1540.0 1111.1,1540.3 1111.5,1542.4 1111.9,1545.9 1112.3,1550.1 1112.7,1554.1 1113.1,1557.1 1113.5,1558.6 1113.9,1558.6 1114.3,1557.3 1114.7,1555.4 1115.1,1553.3 1115.5,1551.1 1115.9,1548.7 1116.3,1546.2 1116.7,1543.9 1117.1,1542.3 1117.5,1541.8 1117.9,1542.3 1118.3,1543.9 1118.7,1546.1 1119.1,1548.4 1119.5,1550.3 1119.9,1551.1 1120.3,1550.6 1120.7,1548.7 1121.1,1545.7 1121.5,1541.8 1121.9,1537.9 1122.3,1534.5 1122.7,1532.5 1123.1,1532.1 1123.5,1533.6 1123.9,1536.1 1124.3,1538.9 1124.7,1541.1 1125.1,1542.3 1125.5,1542.6 1125.9,1542.5 1126.3,1542.6 1126.7,1543.3 1127.1,1544.9 1127.5,1547.6 1127.9,1551.3 1128.3,1555.3 1128.7,1558.8 1129.1,1560.8 1129.5,1560.4 1129.9,1557.6 1130.3,1553.1 1130.7,1547.8 1131.1,1543.2 1131.5,1540.1 1131.9,1538.8 1132.3,1539.0 1132.7,1539.9 1133.1,1540.7 1133.5,1541.3 1133.9,1541.5 1134.2,1541.7 1134.6,1541.9 1135.0,1541.9 1135.4,1541.5 1135.8,1540.8 1136.2,1539.9 1136.6,1539.3 1137.0,1539.2 1137.4,1539.8 1137.8,1540.5 1138.2,1541.0 1138.6,1540.9 1139.0,1540.3 1139.4,1539.8 1139.8,1539.7 1140.2,1540.4 1140.6,1542.0 1141.0,1544.1 1141.4,1546.1 1141.8,1547.3 1142.2,1547.2 1142.6,1545.9 1143.0,1544.1 1143.4,1542.8 1143.8,1542.2 1144.2,1542.2 1144.6,1542.2 1145.0,1541.9 1145.4,1540.9 1145.8,1539.9 1146.2,1539.1 1146.6,1538.7 1147.0,1538.4 1147.4,1537.9 1147.8,1536.9 1148.2,1535.7 1148.6,1535.2 1149.0,1535.9 1149.4,1538.0 1149.8,1541.4 1150.2,1545.2 1150.6,1548.8 1151.0,1551.5 1151.4,1552.6 1151.8,1552.0 1152.2,1549.8 1152.6,1546.5 1153.0,1542.6 1153.4,1539.0 1153.8,1536.4 1154.2,1535.1 1154.6,1535.5 1155.0,1537.3 1155.4,1540.0 1155.8,1542.9 1156.2,1545.3 1156.6,1546.7 1157.0,1547.0 1157.4,1546.5 1157.8,1545.7 1158.2,1545.3 1158.6,1545.6 1159.0,1546.4 1159.4,1546.9 1159.8,1546.6 1160.2,1545.3 1160.6,1543.2 1161.0,1541.2 1161.4,1539.8 1161.8,1539.1 1162.2,1539.1 1162.6,1539.4 1163.0,1539.8 1163.4,1540.2 1163.8,1540.5 1164.2,1541.0 1164.6,1541.3 1165.0,1541.5 1165.4,1541.8 1165.8,1542.6 1166.2,1544.4 1166.6,1547.1 1167.0,1549.7 1167.4,1551.3 1167.8,1551.2 1168.2,1549.4 1168.6,1546.7 1169.0,1543.4 1169.4,1539.9 1169.8,1536.1 1170.2,1532.3 1170.6,1528.7 1171.0,1526.0 1171.4,1524.5 1171.8,1524.1 1172.2,1524.3 1172.6,1524.5 1173.0,1524.2 1173.4,1523.4 1173.8,1522.3 1174.2,1521.4 1174.6,1521.1 1175.0,1521.2 1175.4,1521.4 1175.8,1521.3 1176.2,1521.0 1176.6,1520.6 1177.0,1520.8 1177.4,1521.6 1177.8,1523.0 1178.2,1524.4 1178.6,1525.4 1179.0,1525.6 1179.4,1524.8 1179.8,1522.9 1180.2,1520.3 1180.6,1517.1 1181.0,1513.7 1181.4,1510.2 1181.8,1506.5 1182.2,1502.2 1182.6,1496.4 1183.0,1488.2 1183.4,1476.4 1183.8,1459.7 1184.2,1436.6 1184.6,1407.2 1185.0,1375.8 1185.4,1351.0 1185.8,1341.7 1186.2,1351.1 1186.6,1373.5 1187.0,1399.0 1187.4,1419.5 1187.8,1432.6 1188.2,1439.1 1188.6,1440.5 1189.0,1437.5 1189.4,1430.4 1189.8,1422.0 1190.2,1416.6 1190.6,1418.2 1190.9,1427.5 1191.3,1441.2 1191.7,1455.4 1192.1,1467.4 1192.5,1477.0 1192.9,1484.3 1193.3,1489.6 1193.7,1492.3 1194.1,1492.7 1194.5,1492.7 1194.9,1494.5 1195.3,1499.7 1195.7,1507.5 1196.1,1515.3 1196.5,1521.0 1196.9,1523.7 1197.3,1524.0 1197.7,1522.6 1198.1,1520.3 1198.5,1517.6 1198.9,1514.7 1199.3,1512.2 1199.7,1510.0 1200.1,1508.3 1200.5,1506.7 1200.9,1504.9 1201.3,1502.7 1201.7,1499.5 1202.1,1494.9 1202.5,1488.8 1202.9,1480.6 1203.3,1469.7 1203.7,1455.3 1204.1,1438.4 1204.5,1422.8 1204.9,1414.2 1205.3,1416.3 1205.7,1428.0 1206.1,1444.3 1206.5,1460.1 1206.9,1472.3 1207.3,1480.9 1207.7,1486.7 1208.1,1491.0 1208.5,1495.0 1208.9,1498.9 1209.3,1502.7 1209.7,1505.6 1210.1,1507.1 1210.5,1507.4 1210.9,1506.7 1211.3,1505.9 1211.7,1505.6 1212.1,1506.0 1212.5,1506.7 1212.9,1506.7 1213.3,1505.4 1213.7,1502.4 1214.1,1498.0 1214.5,1493.8 1214.9,1491.4 1215.3,1491.8 1215.7,1494.5 1216.1,1498.3 1216.5,1501.7 1216.9,1504.1 1217.3,1505.2 1217.7,1505.3 1218.1,1504.8 1218.5,1504.6 1218.9,1505.1 1219.3,1506.6 1219.7,1508.6 1220.1,1510.2 1220.5,1510.7 1220.9,1509.8 1221.3,1507.6 1221.7,1504.6 1222.1,1501.0 1222.5,1496.9 1222.9,1491.6 1223.3,1483.8 1223.7,1471.9 1224.1,1455.5 1224.5,1437.2 1224.9,1422.6 1225.3,1417.8 1225.7,1424.9 1226.1,1440.2 1226.5,1457.4 1226.9,1471.8 1227.3,1481.9 1227.7,1488.7 1228.1,1493.5 1228.5,1497.1 1228.9,1499.7 1229.3,1501.1 1229.7,1501.6 1230.1,1501.1 1230.5,1499.7 1230.9,1497.4 1231.3,1494.2 1231.7,1489.9 1232.1,1483.6 1232.5,1474.6 1232.9,1462.9 1233.3,1450.5 1233.7,1441.4 1234.1,1439.4 1234.5,1444.9 1234.9,1455.2 1235.3,1466.2 1235.7,1475.5 1236.1,1482.6 1236.5,1488.1 1236.9,1492.3 1237.3,1494.7 1237.7,1495.2 1238.1,1494.4 1238.5,1493.7 1238.9,1494.3 1239.3,1496.6 1239.7,1499.5 1240.1,1502.1 1240.5,1503.9 1240.9,1504.7 1241.3,1505.0 1241.7,1505.2 1242.1,1505.5 1242.5,1506.1 1242.9,1506.8 1243.3,1507.5 1243.7,1507.7 1244.1,1506.7 1244.5,1503.9 1244.9,1498.5 1245.3,1490.0 1245.7,1477.6 1246.1,1461.4 1246.5,1443.3 1246.9,1428.1 1247.3,1421.3 1247.7,1425.6 1248.0,1438.5 1248.4,1454.4 1248.8,1468.4 1249.2,1479.0 1249.6,1487.3 1250.0,1494.9 1250.4,1502.4 1250.8,1509.4 1251.2,1515.5 1251.6,1520.4 1252.0,1524.2 1252.4,1526.9 1252.8,1528.2 1253.2,1527.6 1253.6,1525.1 1254.0,1521.5 1254.4,1518.4 1254.8,1517.2 1255.2,1518.4 1255.6,1521.2 1256.0,1524.2 1256.4,1526.6 1256.8,1527.9 1257.2,1528.6 1257.6,1529.0 1258.0,1529.6 1258.4,1530.5 1258.8,1532.0 1259.2,1534.1 1259.6,1536.3 1260.0,1537.9 1260.4,1538.3 1260.8,1537.5 1261.2,1535.6 1261.6,1533.2 1262.0,1530.6 1262.4,1527.9 1262.8,1524.9 1263.2,1521.5 1263.6,1517.6 1264.0,1513.3 1264.4,1508.7 1264.8,1503.9 1265.2,1498.4 1265.6,1491.7 1266.0,1482.5 1266.4,1469.5 1266.8,1452.8 1267.2,1434.8 1267.6,1421.0 1268.0,1416.8 1268.4,1423.8 1268.8,1438.4 1269.2,1454.4 1269.6,1467.2 1270.0,1475.6 1270.4,1480.9 1270.8,1485.2 1271.2,1489.5 1271.6,1493.9 1272.0,1498.2 1272.4,1502.0 1272.8,1504.9 1273.2,1507.0 1273.6,1508.0 1274.0,1507.3 1274.4,1504.1 1274.8,1497.8 1275.2,1489.4 1275.6,1481.7 1276.0,1478.0 1276.4,1480.1 1276.8,1487.6 1277.2,1497.9 1277.6,1508.2 1278.0,1516.6 1278.4,1522.2 1278.8,1524.5 1279.2,1524.1 1279.6,1522.1 1280.0,1519.9 1280.4,1518.5 1280.8,1518.4 1281.2,1519.4 1281.6,1520.9 1282.0,1522.2 1282.4,1522.7 1282.8,1522.4 1283.2,1521.7 1283.6,1521.3 1284.0,1521.7 1284.4,1523.3 1284.8,1525.5 1285.2,1527.9 1285.6,1530.3 1286.0,1532.7 1286.4,1535.2 1286.8,1537.6 1287.2,1539.5 1287.6,1540.5 1288.0,1540.5 1288.4,1539.6 1288.8,1538.4 1289.2,1537.2 1289.6,1536.0 1290.0,1534.6 1290.4,1533.3 1290.8,1532.1 1291.2,1531.3 1291.6,1530.8 1292.0,1530.3 1292.4,1529.7 1292.8,1529.1 1293.2,1529.0 1293.6,1529.8 1294.0,1531.7 1294.4,1534.3 1294.8,1537.1 1295.2,1539.5 1295.6,1541.0 1296.0,1541.6 1296.4,1541.4 1296.8,1540.9 1297.2,1540.8 1297.6,1541.3 1298.0,1542.6 1298.4,1544.2 1298.8,1545.7 1299.2,1546.5 1299.6,1545.9 1300.0,1543.9 1300.4,1540.8 1300.8,1537.0 1301.2,1533.5 1301.6,1531.1 1302.0,1530.4 1302.4,1531.4 1302.8,1533.9 1303.2,1537.4 1303.6,1541.3 1304.0,1545.0 1304.4,1547.6 1304.8,1548.7 1305.1,1548.2 1305.5,1546.8 1305.9,1545.2 1306.3,1544.0 1306.7,1543.6 1307.1,1543.8 1307.5,1544.5 1307.9,1545.4 1308.3,1546.3 1308.7,1547.2 1309.1,1547.9 1309.5,1548.4 1309.9,1548.5 1310.3,1548.1 1310.7,1547.4 1311.1,1546.6 1311.5,1546.0 1311.9,1545.5 1312.3,1545.3 1312.7,1545.3 1313.1,1545.6 1313.5,1546.0 1313.9,1546.4 1314.3,1546.6 1314.7,1546.5 1315.1,1546.0 1315.5,1545.0 1315.9,1543.7 1316.3,1542.4 1316.7,1540.9 1317.1,1539.4 1317.5,1537.6 1317.9,1536.1 1318.3,1535.4 1318.7,1536.4 1319.1,1539.4 1319.5,1544.2 1319.9,1549.5 1320.3,1554.1 1320.7,1556.9 1321.1,1557.8 1321.5,1557.0 1321.9,1555.5 1322.3,1553.9 1322.7,1552.4 1323.1,1551.0 1323.5,1549.5 1323.9,1547.7 1324.3,1545.6 1324.7,1543.3 1325.1,1541.1 1325.5,1539.3 1325.9,1538.3 1326.3,1538.0 1326.7,1538.4 1327.1,1539.1 1327.5,1539.6 1327.9,1539.8 1328.3,1539.7 1328.7,1539.5 1329.1,1539.4 1329.5,1539.2 1329.9,1538.8 1330.3,1537.9 1330.7,1536.4 1331.1,1534.4 1331.5,1532.5 1331.9,1531.4 1332.3,1531.3 1332.7,1532.3 1333.1,1533.8 1333.5,1534.9" fill="none" stroke="#333" stroke-width="0.9" stroke-linejoin="round"/>
<path d="M136.0 1541.1H181.3V1341.7H301.8V1541.1H394.0V1341.7H492.5V1541.1H585.3V1341.7H671.4V1541.1H764.5V1341.7H867.1V1541.1H959.7V1341.7H1075.5V1541.1H1167.4V1341.7H1287.7V1541.1H1333.5" fill="none" stroke="#ff0000" stroke-opacity="0.62" stroke-width="1"/>
<g stroke="#383838" stroke-width="1" fill="none">
<path d="M136.0 1322.3H1333.5V1589.8H136.0Z"/>
<path d="M136.0 1589.8v-12M136.0 1322.3v12M250.8 1589.8v-12M250.8 1322.3v12M365.7 1589.8v-12M365.7 1322.3v12M480.5 1589.8v-12M480.5 1322.3v12M595.4 1589.8v-12M595.4 1322.3v12M710.2 1589.8v-12M710.2 1322.3v12M825.1 1589.8v-12M825.1 1322.3v12M939.9 1589.8v-12M939.9 1322.3v12M1054.8 1589.8v-12M1054.8 1322.3v12M1169.6 1589.8v-12M1169.6 1322.3v12M1284.5 1589.8v-12M1284.5 1322.3v12M136.0 1590.3h12M1333.5 1590.3h-12M136.0 1541.1h12M1333.5 1541.1h-12M136.0 1491.8h12M1333.5 1491.8h-12M136.0 1442.6h12M1333.5 1442.6h-12M136.0 1393.3h12M1333.5 1393.3h-12M136.0 1344.1h12M1333.5 1344.1h-12"/>
</g>
<g font-family='"Liberation Sans", sans-serif'>
<text transform="translate(136.00,1609.10) scale(1,1.02)" font-size="14.2" text-anchor="middle" fill="#363636">0</text>
<text transform="translate(250.85,1609.10) scale(1,1.02)" font-size="14.2" text-anchor="middle" fill="#363636">5</text>
<text transform="translate(365.70,1609.10) scale(1,1.02)" font-size="14.2" text-anchor="middle" fill="#363636">10</text>
<text transform="translate(480.55,1609.10) scale(1,1.02)" font-size="14.2" text-anchor="middle" fill="#363636">15</text>
<text transform="translate(595.40,1609.10) scale(1,1.02)" font-size="14.2" text-anchor="middle" fill="#363636">20</text>
<text transform="translate(710.25,1609.10) scale(1,1.02)" font-size="14.2" text-anchor="middle" fill="#363636">25</text>
<text transform="translate(825.10,1609.10) scale(1,1.02)" font-size="14.2" text-anchor="middle" fill="#363636">30</text>
<text transform="translate(939.95,1609.10) scale(1,1.02)" font-size="14.2" text-anchor="middle" fill="#363636">35</text>
<text transform="translate(1054.80,1609.10) scale(1,1.02)" font-size="14.2" text-anchor="middle" fill="#363636">40</text>
<text transform="translate(1169.65,1609.10) scale(1,1.02)" font-size="14.2" text-anchor="middle" fill="#363636">45</text>
<text transform="translate(1284.50,1609.10) scale(1,1.02)" font-size="14.2" text-anchor="middle" fill="#363636">50</text>
<text transform="translate(130.40,1595.25) scale(1,1.02)" font-size="14.2" text-anchor="end" fill="#363636">-0.5</text>
<text transform="translate(130.40,1546.00) scale(1,1.02)" font-size="14.2" text-anchor="end" fill="#363636">0</text>
<text transform="translate(130.40,1496.75) scale(1,1.02)" font-size="14.2" text-anchor="end" fill="#363636">0.5</text>
<text transform="translate(130.40,1447.50) scale(1,1.02)" font-size="14.2" text-anchor="end" fill="#363636">1</text>
<text transform="translate(130.40,1398.25) scale(1,1.02)" font-size="14.2" text-anchor="end" fill="#363636">1.5</text>
<text transform="translate(130.40,1349.00) scale(1,1.02)" font-size="14.2" text-anchor="end" fill="#363636">2</text>
<text transform="translate(734.80,1629.40) scale(1,1.03)" font-size="14.9" text-anchor="middle" fill="#363636">Time in [s]</text>
<text transform="translate(98.60,1456.05) rotate(-90) scale(1,1.03)" font-size="14.9" text-anchor="middle" fill="#363636">RMS of ENG in [µV]</text>
</g>
<g>
<path d="M136.5 1867.7V1954.0M137.5 1874.1V1949.2M138.5 1873.9V1946.8M139.5 1862.4V1947.1M140.5 1870.4V1941.9M141.5 1879.6V1943.5M142.5 1867.1V1941.8M143.5 1870.1V1941.0M144.5 1863.1V1948.9M145.5 1860.2V1941.7M146.5 1871.4V1947.8M147.5 1861.9V1947.7M148.5 1872.8V1949.0M149.5 1854.4V1950.9M150.5 1870.6V1941.5M151.5 1872.5V1943.0M152.5 1866.1V1948.5M153.5 1871.0V1946.8M154.5 1868.5V1950.2M155.5 1867.6V1943.3M156.5 1870.0V1948.9M157.5 1870.5V1948.3M158.5 1875.9V1944.1M159.5 1871.8V1946.4M160.5 1875.2V1940.8M161.5 1849.5V1953.3M162.5 1872.3V1945.4M163.5 1866.9V1956.1M164.5 1872.4V1941.7M165.5 1870.0V1949.4M166.5 1874.0V1939.0M167.5 1867.5V1944.3M168.5 1866.8V1951.6M169.5 1869.4V1948.0M170.5 1873.0V1944.8M171.5 1876.3V1942.6M172.5 1864.2V1951.9M173.5 1874.8V1945.0M174.5 1849.9V1946.2M175.5 1875.8V1948.1M176.5 1864.6V1950.7M177.5 1871.4V1950.5M178.5 1870.0V1944.9M179.5 1865.2V1960.9M180.5 1869.3V1958.4M181.5 1855.2V1945.0M182.5 1868.5V1949.2M183.5 1861.2V1956.4M184.5 1864.4V1950.9M185.5 1866.0V1943.2M186.5 1872.8V1949.3M187.5 1867.2V1948.9M188.5 1853.8V1946.0M189.5 1869.2V1945.7M190.5 1860.4V1946.0M191.5 1863.0V1947.6M192.5 1872.1V1943.3M193.5 1860.9V1954.0M194.5 1867.2V1938.1M195.5 1870.2V1947.2M196.5 1872.7V1942.7M197.5 1851.8V1939.0M198.5 1864.9V1946.8M199.5 1863.7V1946.4M200.5 1869.5V1947.9M201.5 1868.1V1940.1M202.5 1853.1V1940.7M203.5 1861.9V1942.0M204.5 1867.9V1954.0M205.5 1870.2V1949.8M206.5 1873.7V1941.7M207.5 1855.9V1952.1M208.5 1871.1V1946.0M209.5 1875.0V1944.0M210.5 1864.2V1944.2M211.5 1870.1V1938.3M212.5 1865.8V1947.0M213.5 1865.4V1943.6M214.5 1870.7V1951.4M215.5 1854.7V1953.6M216.5 1866.9V1944.0M217.5 1856.5V1949.8M218.5 1868.2V1957.8M219.5 1872.2V1947.2M220.5 1869.7V1942.3M221.5 1865.2V1949.4M222.5 1866.6V1943.0M223.5 1864.8V1946.4M224.5 1856.6V1948.2M225.5 1877.3V1949.3M226.5 1865.5V1956.0M227.5 1871.1V1944.9M228.5 1873.5V1947.9M229.5 1870.6V1949.0M230.5 1863.5V1934.3M231.5 1868.3V1942.4M232.5 1864.2V1949.3M233.5 1860.3V1943.8M234.5 1875.0V1938.2M235.5 1854.8V1935.5M236.5 1868.8V1954.4M237.5 1862.8V1946.9M238.5 1861.7V1940.1M239.5 1875.1V1950.4M240.5 1863.0V1946.7M241.5 1876.7V1945.5M242.5 1855.2V1944.3M243.5 1844.3V1944.0M244.5 1869.4V1952.5M245.5 1869.0V1943.9M246.5 1856.5V1943.3M247.5 1868.7V1948.1M248.5 1869.4V1966.9M249.5 1868.8V1950.1M250.5 1846.5V1970.4M251.5 1856.2V1964.8M252.5 1842.6V1963.7M253.5 1792.5V2005.3M254.5 1808.4V1989.6M255.5 1812.7V1990.2M256.5 1826.5V1985.9M257.5 1820.3V1997.3M258.5 1822.7V2012.1M259.5 1822.6V1989.2M260.5 1826.0V1993.0M261.5 1808.6V1994.2M262.5 1819.4V1981.0M263.5 1825.2V1999.5M264.5 1814.8V1994.9M265.5 1834.4V1984.5M266.5 1835.4V2001.8M267.5 1828.5V1993.2M268.5 1839.1V2014.4M269.5 1791.0V2006.7M270.5 1838.5V2001.0M271.5 1826.1V1982.1M272.5 1834.2V1986.2M273.5 1822.1V1983.9M274.5 1813.6V2000.6M275.5 1839.3V1988.6M276.5 1823.3V2004.1M277.5 1831.1V1983.3M278.5 1835.4V1985.4M279.5 1824.5V1987.4M280.5 1829.4V1993.0M281.5 1835.6V1985.0M282.5 1826.9V1979.9M283.5 1826.3V1981.7M284.5 1804.9V1989.1M285.5 1819.5V1989.7M286.5 1833.1V1970.5M287.5 1836.0V1985.0M288.5 1828.7V1988.2M289.5 1834.0V2015.3M290.5 1808.1V1975.0M291.5 1831.9V1980.9M292.5 1844.1V1988.7M293.5 1810.5V1968.9M294.5 1817.8V1975.7M295.5 1783.5V2004.3M296.5 1813.6V1987.0M297.5 1790.1V1995.0M298.5 1824.0V1992.8M299.5 1821.7V2000.3M300.5 1813.1V2015.7M301.5 1824.5V2001.9M302.5 1818.4V1999.8M303.5 1833.4V1965.4M304.5 1831.0V1997.6M305.5 1832.9V2013.1M306.5 1829.6V1968.7M307.5 1832.9V1972.1M308.5 1836.1V1979.0M309.5 1832.3V1967.2M310.5 1812.5V2006.4M311.5 1838.9V1983.3M312.5 1824.9V1979.4M313.5 1830.4V1998.2M314.5 1841.7V1980.0M315.5 1811.8V1998.0M316.5 1845.0V1970.1M317.5 1843.8V1981.7M318.5 1836.1V1980.9M319.5 1844.1V1968.6M320.5 1826.7V1977.2M321.5 1847.7V1974.0M322.5 1822.6V1993.7M323.5 1825.1V1988.9M324.5 1847.5V1968.0M325.5 1818.8V1967.8M326.5 1829.3V1979.6M327.5 1850.3V1980.5M328.5 1834.6V1992.4M329.5 1844.5V1983.0M330.5 1832.7V1982.1M331.5 1838.2V1967.3M332.5 1819.8V1977.8M333.5 1831.6V1968.1M334.5 1838.7V1983.6M335.5 1840.9V1992.7M336.5 1850.5V1966.9M337.5 1816.6V1998.1M338.5 1823.6V1986.4M339.5 1825.5V1975.9M340.5 1847.4V1976.4M341.5 1851.8V1965.9M342.5 1852.6V1956.5M343.5 1846.5V1956.6M344.5 1858.0V1950.7M345.5 1854.5V1941.7M346.5 1861.1V1945.8M347.5 1864.5V1946.7M348.5 1867.2V1947.5M349.5 1872.3V1940.7M350.5 1864.7V1946.5M351.5 1863.4V1941.9M352.5 1870.4V1948.1M353.5 1868.1V1952.2M354.5 1864.2V1949.6M355.5 1872.7V1952.0M356.5 1870.9V1945.1M357.5 1865.7V1942.7M358.5 1876.6V1951.2M359.5 1875.2V1941.5M360.5 1866.6V1937.7M361.5 1862.9V1940.8M362.5 1866.6V1941.2M363.5 1864.3V1943.4M364.5 1866.7V1942.6M365.5 1861.7V1945.2M366.5 1869.7V1935.0M367.5 1854.9V1945.5M368.5 1868.7V1944.9M369.5 1872.9V1946.5M370.5 1873.5V1948.3M371.5 1855.3V1939.3M372.5 1868.8V1944.4M373.5 1866.4V1949.1M374.5 1866.2V1939.8M375.5 1872.6V1945.2M376.5 1872.9V1944.0M377.5 1872.8V1950.9M378.5 1870.8V1939.7M379.5 1856.0V1944.7M380.5 1872.8V1944.6M381.5 1873.2V1943.7M382.5 1863.8V1943.7M383.5 1874.3V1957.8M384.5 1870.6V1952.4M385.5 1869.0V1943.3M386.5 1870.3V1935.1M387.5 1874.0V1956.9M388.5 1866.4V1965.9M389.5 1872.5V1947.3M390.5 1870.1V1954.4M391.5 1872.5V1953.5M392.5 1866.0V1943.0M393.5 1867.3V1947.5M394.5 1871.0V1945.9M395.5 1869.0V1951.3M396.5 1868.4V1942.8M397.5 1875.4V1952.3M398.5 1873.5V1945.3M399.5 1865.0V1942.0M400.5 1861.7V1951.7M401.5 1869.5V1946.4M402.5 1856.0V1941.5M403.5 1868.6V1947.7M404.5 1865.6V1935.5M405.5 1866.6V1941.9M406.5 1858.7V1938.3M407.5 1871.0V1951.5M408.5 1862.2V1939.0M409.5 1870.4V1950.0M410.5 1868.0V1950.6M411.5 1863.3V1944.8M412.5 1855.0V1944.6M413.5 1865.3V1936.1M414.5 1859.6V1936.4M415.5 1863.2V1939.1M416.5 1870.2V1941.8M417.5 1854.5V1939.4M418.5 1859.2V1940.6M419.5 1872.5V1941.8M420.5 1860.4V1944.9M421.5 1866.6V1940.9M422.5 1853.9V1935.8M423.5 1873.1V1944.4M424.5 1865.8V1941.1M425.5 1871.6V1942.6M426.5 1870.2V1939.9M427.5 1860.5V1934.8M428.5 1861.5V1940.0M429.5 1867.0V1941.6M430.5 1868.8V1956.4M431.5 1861.8V1940.9M432.5 1862.6V1944.8M433.5 1874.9V1947.5M434.5 1871.1V1939.7M435.5 1876.4V1949.5M436.5 1864.2V1944.5M437.5 1875.5V1940.9M438.5 1857.2V1941.4M439.5 1868.7V1945.8M440.5 1875.2V1941.8M441.5 1859.7V1948.2M442.5 1872.6V1957.3M443.5 1867.2V1946.7M444.5 1867.7V1954.2M445.5 1857.8V1977.4M446.5 1864.7V1946.9M447.5 1869.1V1952.9M448.5 1868.7V1945.1M449.5 1870.7V1945.0M450.5 1867.1V1954.7M451.5 1864.6V1955.4M452.5 1869.9V1946.8M453.5 1871.0V1948.1M454.5 1869.5V1945.0M455.5 1868.7V1939.5M456.5 1868.6V1948.6M457.5 1864.3V1940.6M458.5 1865.0V1950.7M459.5 1873.8V1952.8M460.5 1867.9V1952.0M461.5 1871.8V1942.2M462.5 1866.9V1944.0M463.5 1859.4V1944.4M464.5 1868.0V1945.5M465.5 1868.5V1942.8M466.5 1865.8V1942.3M467.5 1871.7V1968.2M468.5 1872.0V1942.3M469.5 1866.4V1946.1M470.5 1865.0V1969.0M471.5 1864.0V1937.3M472.5 1866.1V1956.1M473.5 1866.4V1942.9M474.5 1867.8V1957.1M475.5 1853.5V1951.0M476.5 1867.5V1947.8M477.5 1876.8V1952.6M478.5 1865.5V1939.3M479.5 1857.1V1948.7M480.5 1869.0V1943.9M481.5 1870.3V1942.2M482.5 1874.5V1936.7M483.5 1867.1V1954.1M484.5 1858.4V1953.0M485.5 1876.9V1947.2M486.5 1865.0V1958.8M487.5 1863.2V1936.1M488.5 1867.9V1941.7M489.5 1872.9V1946.0M490.5 1873.9V1946.2M491.5 1865.7V1936.5M492.5 1872.5V1948.5M493.5 1874.6V1943.0M494.5 1859.5V1940.8M495.5 1876.7V1945.6M496.5 1865.1V1936.4M497.5 1866.1V1946.8M498.5 1867.2V1940.6M499.5 1858.6V1948.9M500.5 1866.7V1951.1M501.5 1866.8V1958.2M502.5 1866.3V1951.1M503.5 1860.1V1939.7M504.5 1857.2V1944.5M505.5 1873.5V1936.9M506.5 1866.5V1939.1M507.5 1855.1V1940.7M508.5 1870.6V1950.3M509.5 1873.4V1944.8M510.5 1865.2V1939.0M511.5 1877.5V1944.4M512.5 1868.3V1941.9M513.5 1860.6V1947.4M514.5 1872.6V1957.4M515.5 1874.1V1940.4M516.5 1877.1V1946.0M517.5 1869.1V1941.4M518.5 1872.1V1949.7M519.5 1873.7V1941.2M520.5 1869.3V1945.6M521.5 1874.7V1936.8M522.5 1866.0V1948.1M523.5 1863.1V1949.6M524.5 1877.8V1951.5M525.5 1856.0V1944.7M526.5 1867.2V1940.9M527.5 1868.2V1958.8M528.5 1874.1V1944.9M529.5 1872.8V1942.8M530.5 1873.6V1943.8M531.5 1867.8V1938.5M532.5 1873.8V1945.3M533.5 1872.5V1951.9M534.5 1862.6V1941.6M535.5 1873.0V1947.6M536.5 1872.4V1953.9M537.5 1868.0V1949.5M538.5 1878.0V1954.0M539.5 1868.8V1942.3M540.5 1871.5V1946.4M541.5 1866.7V1943.2M542.5 1869.2V1940.7M543.5 1870.4V1945.4M544.5 1864.1V1952.5M545.5 1867.0V1949.4M546.5 1865.4V1943.6M547.5 1866.2V1939.9M548.5 1872.5V1948.9M549.5 1867.2V1949.5M550.5 1868.3V1952.2M551.5 1864.4V1949.3M552.5 1863.2V1945.8M553.5 1870.2V1950.6M554.5 1865.3V1964.3M555.5 1861.0V1936.4M556.5 1867.5V1943.0M557.5 1863.0V1936.4M558.5 1871.1V1939.3M559.5 1874.9V1940.1M560.5 1864.3V1945.0M561.5 1864.9V1938.1M562.5 1864.5V1943.2M563.5 1855.9V1959.2M564.5 1875.1V1934.9M565.5 1861.9V1946.6M566.5 1869.1V1937.8M567.5 1864.0V1941.8M568.5 1872.9V1941.0M569.5 1862.9V1948.2M570.5 1874.0V1972.8M571.5 1871.5V1950.9M572.5 1865.8V1940.4M573.5 1876.9V1944.9M574.5 1872.6V1939.0M575.5 1875.7V1943.6M576.5 1861.4V1942.6M577.5 1857.2V1962.1M578.5 1840.9V1971.9M579.5 1838.3V1981.7M580.5 1818.5V1974.8M581.5 1797.9V1984.4M582.5 1780.0V1995.6M583.5 1790.9V1999.1M584.5 1794.0V1991.2M585.5 1797.6V2010.9M586.5 1807.8V1990.5M587.5 1812.2V1998.9M588.5 1820.3V1987.4M589.5 1805.2V1988.8M590.5 1833.4V1984.9M591.5 1825.2V1996.9M592.5 1819.0V2021.9M593.5 1828.2V2001.2M594.5 1814.5V1995.4M595.5 1799.7V1996.3M596.5 1813.7V1991.1M597.5 1802.6V2037.6M598.5 1808.2V2040.5M599.5 1824.2V2002.9M600.5 1828.9V1997.3M601.5 1838.7V1983.9M602.5 1784.3V1988.0M603.5 1773.0V2002.9M604.5 1814.6V2000.5M605.5 1788.9V1988.0M606.5 1809.5V1998.0M607.5 1829.8V1991.1M608.5 1800.4V2003.2M609.5 1805.7V2010.2M610.5 1811.3V1991.0M611.5 1803.0V1986.9M612.5 1825.8V2039.3M613.5 1824.2V1998.8M614.5 1810.3V1987.3M615.5 1810.3V2009.0M616.5 1822.4V2017.0M617.5 1825.7V2015.3M618.5 1802.3V2000.5M619.5 1810.9V1999.6M620.5 1810.0V1985.8M621.5 1814.7V2001.3M622.5 1794.1V2036.6M623.5 1822.7V1998.0M624.5 1773.0V2006.4M625.5 1780.2V2008.0M626.5 1819.2V2001.4M627.5 1809.3V2008.5M628.5 1781.7V2037.6M629.5 1808.2V1993.4M630.5 1810.1V2016.5M631.5 1822.8V1999.6M632.5 1817.9V1994.1M633.5 1811.1V1987.0M634.5 1822.1V1999.4M635.5 1826.9V2003.0M636.5 1797.5V1986.2M637.5 1805.4V2017.4M638.5 1838.7V2034.0M639.5 1811.8V2011.7M640.5 1818.9V1982.7M641.5 1805.3V2038.0M642.5 1820.2V2008.6M643.5 1808.6V2005.0M644.5 1826.7V1997.9M645.5 1830.8V1994.4M646.5 1821.7V1993.8M647.5 1849.8V1992.8M648.5 1809.8V1980.7M649.5 1839.0V2000.2M650.5 1816.6V1974.2M651.5 1832.1V1981.6M652.5 1819.6V1967.1M653.5 1837.7V1989.5M654.5 1776.3V1999.1M655.5 1826.2V1977.0M656.5 1830.9V1969.7M657.5 1829.6V1996.6M658.5 1843.2V1968.3M659.5 1835.6V1980.8M660.5 1811.9V1975.8M661.5 1835.8V1988.5M662.5 1809.4V1977.2M663.5 1816.4V1982.7M664.5 1844.3V1973.6M665.5 1835.5V1982.5M666.5 1839.1V1984.9M667.5 1852.4V1960.7M668.5 1838.2V1956.4M669.5 1848.2V1950.3M670.5 1864.0V1958.6M671.5 1877.0V1942.5M672.5 1874.1V1956.9M673.5 1862.0V1947.5M674.5 1873.6V1942.1M675.5 1860.8V1942.0M676.5 1870.6V1948.1M677.5 1867.7V1948.3M678.5 1873.9V1945.1M679.5 1868.3V1965.5M680.5 1868.2V1940.5M681.5 1864.5V1947.3M682.5 1872.8V1939.1M683.5 1871.7V1945.7M684.5 1863.8V1948.4M685.5 1861.6V1939.3M686.5 1852.4V1943.7M687.5 1873.7V1948.5M688.5 1852.4V1943.0M689.5 1875.8V1937.3M690.5 1869.7V1944.0M691.5 1868.9V1934.8M692.5 1868.2V1941.0M693.5 1871.5V1939.7M694.5 1870.5V1940.4M695.5 1864.5V1942.2M696.5 1866.3V1937.0M697.5 1853.2V1948.6M698.5 1866.9V1944.2M699.5 1865.6V1938.4M700.5 1862.4V1940.5M701.5 1861.3V1948.5M702.5 1857.7V1945.1M703.5 1870.7V1941.5M704.5 1863.9V1940.0M705.5 1866.9V1956.3M706.5 1866.4V1951.6M707.5 1858.8V1948.6M708.5 1870.9V1953.8M709.5 1864.9V1944.0M710.5 1871.3V1945.1M711.5 1869.8V1948.4M712.5 1875.4V1942.5M713.5 1871.1V1940.2M714.5 1858.8V1945.8M715.5 1869.8V1949.8M716.5 1868.0V1940.6M717.5 1871.3V1948.7M718.5 1870.8V1941.9M719.5 1875.0V1944.5M720.5 1868.9V1950.3M721.5 1870.4V1950.1M722.5 1872.4V1942.0M723.5 1862.8V1947.3M724.5 1870.5V1952.7M725.5 1857.6V1937.6M726.5 1872.6V1939.0M727.5 1868.1V1948.8M728.5 1853.1V1957.5M729.5 1874.0V1945.1M730.5 1865.2V1950.0M731.5 1868.8V1949.1M732.5 1875.7V1949.2M733.5 1873.7V1944.4M734.5 1873.1V1950.5M735.5 1867.7V1940.7M736.5 1868.3V1946.8M737.5 1868.9V1945.3M738.5 1850.1V1962.0M739.5 1874.7V1948.1M740.5 1874.7V1943.4M741.5 1869.3V1944.3M742.5 1866.8V1939.6M743.5 1863.8V1947.5M744.5 1870.7V1952.5M745.5 1868.6V1944.3M746.5 1864.4V1944.9M747.5 1860.5V1949.4M748.5 1863.0V1945.6M749.5 1860.2V1940.9M750.5 1856.5V1942.1M751.5 1870.0V1943.9M752.5 1869.4V1941.1M753.5 1865.0V1951.7M754.5 1872.0V1951.0M755.5 1869.8V1946.8M756.5 1878.5V1962.0M757.5 1872.7V1943.7M758.5 1864.3V1941.4M759.5 1865.5V1942.2M760.5 1868.3V1941.9M761.5 1868.5V1940.1M762.5 1864.0V1942.3M763.5 1872.3V1948.8M764.5 1854.7V1946.0M765.5 1853.7V1942.7M766.5 1864.8V1940.9M767.5 1860.4V1937.5M768.5 1871.7V1941.9M769.5 1873.1V1945.1M770.5 1859.6V1946.3M771.5 1855.3V1941.6M772.5 1855.8V1941.9M773.5 1872.9V1944.6M774.5 1867.6V1948.1M775.5 1869.0V1953.5M776.5 1848.8V1940.5M777.5 1870.4V1942.9M778.5 1870.9V1949.0M779.5 1873.3V1943.0M780.5 1871.6V1942.5M781.5 1872.2V1950.3M782.5 1872.1V1951.5M783.5 1869.8V1947.2M784.5 1877.2V1958.1M785.5 1871.8V1937.9M786.5 1865.0V1944.6M787.5 1870.1V1943.1M788.5 1879.0V1950.7M789.5 1873.6V1945.8M790.5 1875.8V1945.8M791.5 1866.2V1947.4M792.5 1864.6V1948.9M793.5 1857.4V1949.9M794.5 1868.3V1940.7M795.5 1871.9V1950.8M796.5 1868.8V1943.5M797.5 1869.8V1943.7M798.5 1870.0V1943.4M799.5 1867.7V1955.1M800.5 1869.1V1947.0M801.5 1866.0V1936.7M802.5 1875.3V1948.1M803.5 1873.9V1954.8M804.5 1869.5V1942.9M805.5 1866.1V1948.7M806.5 1868.3V1944.7M807.5 1865.7V1943.9M808.5 1856.0V1940.9M809.5 1869.3V1946.7M810.5 1860.7V1942.0M811.5 1836.4V1947.1M812.5 1869.8V1938.6M813.5 1868.6V1941.1M814.5 1854.4V1951.5M815.5 1864.9V1950.4M816.5 1869.0V1948.6M817.5 1871.8V1943.1M818.5 1869.6V1943.3M819.5 1861.9V1944.7M820.5 1868.9V1943.3M821.5 1861.5V1935.6M822.5 1859.7V1950.0M823.5 1860.0V1948.6M824.5 1865.2V1941.0M825.5 1873.8V1943.0M826.5 1877.3V1946.8M827.5 1867.7V1940.3M828.5 1872.5V1953.8M829.5 1869.3V1940.4M830.5 1872.8V1948.2M831.5 1873.5V1950.4M832.5 1862.2V1937.1M833.5 1868.2V1956.3M834.5 1875.3V1945.4M835.5 1858.0V1941.0M836.5 1872.3V1949.4M837.5 1872.0V1944.8M838.5 1860.1V1942.7M839.5 1866.1V1943.8M840.5 1868.0V1950.2M841.5 1867.3V1948.5M842.5 1873.5V1954.6M843.5 1875.4V1931.0M844.5 1860.2V1946.9M845.5 1862.7V1938.4M846.5 1869.7V1943.0M847.5 1858.0V1942.6M848.5 1876.2V1942.8M849.5 1869.1V1946.3M850.5 1875.6V1948.3M851.5 1861.7V1942.9M852.5 1867.2V1938.3M853.5 1866.5V1947.6M854.5 1866.0V1943.8M855.5 1867.6V1942.8M856.5 1858.0V1939.9M857.5 1867.5V1951.8M858.5 1872.0V1952.9M859.5 1861.8V1946.2M860.5 1866.2V1946.6M861.5 1860.6V1949.1M862.5 1874.2V1954.8M863.5 1857.3V1938.7M864.5 1855.4V1938.2M865.5 1858.2V1948.6M866.5 1860.7V1939.0M867.5 1866.9V1949.9M868.5 1861.1V1941.7M869.5 1870.9V1944.6M870.5 1843.8V1944.3M871.5 1872.7V1950.9M872.5 1867.1V1944.0M873.5 1872.0V1943.8M874.5 1875.3V1943.4M875.5 1863.7V1953.1M876.5 1864.1V1955.7M877.5 1870.8V1959.2M878.5 1860.8V1957.6M879.5 1870.4V1943.8M880.5 1854.4V1941.7M881.5 1868.4V1941.4M882.5 1873.0V1942.7M883.5 1865.0V1949.2M884.5 1864.1V1941.3M885.5 1873.3V1948.1M886.5 1874.4V1944.8M887.5 1879.4V1941.3M888.5 1872.6V1950.0M889.5 1861.6V1951.1M890.5 1865.3V1943.5M891.5 1869.0V1943.3M892.5 1852.1V1968.0M893.5 1866.0V1945.3M894.5 1871.1V1943.2M895.5 1866.1V1939.5M896.5 1857.3V1950.5M897.5 1869.3V1944.8M898.5 1868.2V1944.6M899.5 1870.1V1973.7M900.5 1868.6V1953.6M901.5 1861.1V1946.3M902.5 1856.9V1942.9M903.5 1871.5V1950.9M904.5 1870.1V1941.7M905.5 1867.8V1954.4M906.5 1870.3V1947.3M907.5 1870.0V1942.4M908.5 1856.3V1949.1M909.5 1860.2V1939.5M910.5 1873.4V1950.2M911.5 1867.8V1945.1M912.5 1871.3V1943.7M913.5 1874.6V1941.0M914.5 1870.9V1945.7M915.5 1863.0V1944.6M916.5 1876.4V1948.9M917.5 1865.5V1943.0M918.5 1867.0V1956.4M919.5 1869.5V1939.7M920.5 1874.8V1936.9M921.5 1853.5V1966.2M922.5 1863.0V1948.9M923.5 1869.7V1955.3M924.5 1864.9V1946.4M925.5 1870.1V1956.0M926.5 1851.5V1946.0M927.5 1874.3V1941.1M928.5 1860.8V1944.0M929.5 1872.6V1949.0M930.5 1863.1V1941.4M931.5 1869.0V1956.4M932.5 1872.8V1941.4M933.5 1865.1V1942.9M934.5 1875.7V1954.3M935.5 1873.9V1944.8M936.5 1873.7V1937.9M937.5 1865.3V1936.9M938.5 1865.9V1949.9M939.5 1863.5V1943.4M940.5 1862.6V1946.3M941.5 1862.9V1951.4M942.5 1863.5V1944.7M943.5 1871.8V1941.9M944.5 1870.6V1940.9M945.5 1865.1V1951.4M946.5 1871.4V1947.3M947.5 1863.9V1943.3M948.5 1857.0V1937.0M949.5 1863.2V1940.1M950.5 1858.2V1947.4M951.5 1872.9V1947.0M952.5 1868.6V1951.3M953.5 1856.7V1958.7M954.5 1853.4V1955.3M955.5 1860.8V1956.6M956.5 1858.3V1962.5M957.5 1842.9V1984.3M958.5 1826.3V1969.3M959.5 1783.4V1971.7M960.5 1833.4V1972.0M961.5 1836.9V1980.9M962.5 1822.9V2008.8M963.5 1807.2V1988.6M964.5 1803.4V1985.1M965.5 1794.3V1997.6M966.5 1811.0V2009.6M967.5 1803.5V2009.9M968.5 1818.3V2003.7M969.5 1810.1V1997.4M970.5 1816.6V1989.0M971.5 1822.3V1982.5M972.5 1827.2V1999.8M973.5 1820.8V1986.8M974.5 1825.9V1981.9M975.5 1835.2V2013.9M976.5 1824.0V1974.1M977.5 1834.1V1971.2M978.5 1839.5V1961.7M979.5 1841.3V1984.4M980.5 1836.3V1967.9M981.5 1858.0V1990.3M982.5 1856.0V1953.4M983.5 1863.2V1981.5M984.5 1855.5V1952.5M985.5 1860.7V1965.0M986.5 1861.0V1942.9M987.5 1870.3V1946.6M988.5 1866.3V1952.0M989.5 1850.5V1949.0M990.5 1853.3V1956.8M991.5 1865.4V1945.8M992.5 1865.2V1942.1M993.5 1874.8V1942.0M994.5 1860.5V1958.4M995.5 1869.9V1942.1M996.5 1859.8V1943.3M997.5 1867.4V1944.4M998.5 1867.5V1943.2M999.5 1874.2V1940.1M1000.5 1870.5V1945.0M1001.5 1860.4V1940.8M1002.5 1855.0V1939.5M1003.5 1870.7V1945.0M1004.5 1856.5V1949.0M1005.5 1873.7V1959.5M1006.5 1872.9V1950.0M1007.5 1868.1V1943.8M1008.5 1863.5V1950.9M1009.5 1863.9V1946.1M1010.5 1865.5V1943.7M1011.5 1861.9V1959.4M1012.5 1861.7V1947.1M1013.5 1855.1V1961.5M1014.5 1865.6V1964.3M1015.5 1850.0V1966.2M1016.5 1839.8V1961.8M1017.5 1852.6V1985.5M1018.5 1837.1V1971.3M1019.5 1841.9V1969.9M1020.5 1836.1V2000.7M1021.5 1838.4V1973.4M1022.5 1837.1V1969.5M1023.5 1804.8V1969.0M1024.5 1834.7V1982.8M1025.5 1830.1V1986.8M1026.5 1819.1V1999.2M1027.5 1811.6V2002.6M1028.5 1797.6V1998.8M1029.5 1821.6V1991.3M1030.5 1829.1V2034.9M1031.5 1809.5V2001.7M1032.5 1831.4V2000.5M1033.5 1810.5V1983.0M1034.5 1801.5V1997.9M1035.5 1813.5V1978.5M1036.5 1810.4V1973.3M1037.5 1844.1V1980.5M1038.5 1854.0V1970.4M1039.5 1849.2V1966.3M1040.5 1840.7V1971.9M1041.5 1848.3V1961.6M1042.5 1853.5V1958.3M1043.5 1868.1V1956.5M1044.5 1860.6V1947.5M1045.5 1851.6V1940.1M1046.5 1856.5V1947.3M1047.5 1866.7V1951.4M1048.5 1864.2V1947.7M1049.5 1847.8V1939.9M1050.5 1873.5V1949.8M1051.5 1867.9V1939.9M1052.5 1871.6V1961.2M1053.5 1867.4V1941.3M1054.5 1869.9V1947.8M1055.5 1877.9V1945.9M1056.5 1866.8V1949.3M1057.5 1874.7V1946.7M1058.5 1866.2V1949.9M1059.5 1869.4V1942.6M1060.5 1875.1V1951.6M1061.5 1867.7V1941.8M1062.5 1862.0V1954.9M1063.5 1869.1V1939.1M1064.5 1864.3V1943.0M1065.5 1866.2V1942.2M1066.5 1850.8V1941.3M1067.5 1857.9V1944.2M1068.5 1838.3V1953.2M1069.5 1856.9V1943.3M1070.5 1861.9V1950.5M1071.5 1857.0V1955.4M1072.5 1868.0V1951.0M1073.5 1826.6V1971.1M1074.5 1838.1V1958.6M1075.5 1854.3V1963.3M1076.5 1808.4V1984.6M1077.5 1843.6V1968.2M1078.5 1787.4V1980.4M1079.5 1812.7V1991.3M1080.5 1817.3V1981.9M1081.5 1824.7V2040.5M1082.5 1826.9V1998.4M1083.5 1811.3V1996.0M1084.5 1820.3V1999.6M1085.5 1789.6V1989.6M1086.5 1810.4V2004.9M1087.5 1819.5V2020.7M1088.5 1805.9V2001.5M1089.5 1826.9V2016.5M1090.5 1818.4V2014.4M1091.5 1834.1V1996.7M1092.5 1808.2V1972.7M1093.5 1827.2V2011.0M1094.5 1830.2V1973.2M1095.5 1828.1V1965.2M1096.5 1839.6V1960.0M1097.5 1855.5V1953.3M1098.5 1858.5V1958.7M1099.5 1866.2V1959.3M1100.5 1849.6V1943.7M1101.5 1863.6V1943.3M1102.5 1867.1V1961.1M1103.5 1867.6V1946.4M1104.5 1860.7V1947.3M1105.5 1862.7V1940.2M1106.5 1871.4V1945.6M1107.5 1869.0V1943.1M1108.5 1870.2V1953.0M1109.5 1875.5V1942.9M1110.5 1865.0V1943.4M1111.5 1861.2V1948.9M1112.5 1866.6V1953.0M1113.5 1872.1V1954.4M1114.5 1858.8V1946.5M1115.5 1867.4V1946.5M1116.5 1861.7V1937.4M1117.5 1866.3V1938.9M1118.5 1873.7V1952.4M1119.5 1863.2V1941.2M1120.5 1870.8V1958.0M1121.5 1873.1V1949.8M1122.5 1873.6V1941.4M1123.5 1868.4V1947.4M1124.5 1868.5V1947.1M1125.5 1869.1V1946.8M1126.5 1865.2V1950.4M1127.5 1844.7V1952.7M1128.5 1850.6V1958.1M1129.5 1857.7V1950.5M1130.5 1843.9V1958.6M1131.5 1801.4V1959.4M1132.5 1841.3V1979.4M1133.5 1836.6V1990.8M1134.5 1834.4V1996.1M1135.5 1819.2V1982.8M1136.5 1833.4V1975.3M1137.5 1822.1V2014.4M1138.5 1833.2V2013.4M1139.5 1806.6V1986.8M1140.5 1812.8V1994.1M1141.5 1819.9V2028.4M1142.5 1814.4V1991.8M1143.5 1839.2V1998.8M1144.5 1815.1V1976.3M1145.5 1838.2V1977.3M1146.5 1826.3V1971.9M1147.5 1852.3V1969.1M1148.5 1845.2V1973.3M1149.5 1824.6V1948.0M1150.5 1857.0V1966.9M1151.5 1857.5V1955.6M1152.5 1848.9V1963.3M1153.5 1867.1V1953.7M1154.5 1872.1V1950.9M1155.5 1870.3V1956.8M1156.5 1867.3V1948.1M1157.5 1871.8V1942.0M1158.5 1863.1V1957.3M1159.5 1869.8V1955.5M1160.5 1854.2V1943.6M1161.5 1867.6V1953.6M1162.5 1874.5V1969.5M1163.5 1879.4V1949.9M1164.5 1873.4V1955.4M1165.5 1875.4V1953.9M1166.5 1869.0V1946.3M1167.5 1837.9V1942.9M1168.5 1871.1V1950.7M1169.5 1860.7V1953.7M1170.5 1870.9V1953.6M1171.5 1876.2V1945.1M1172.5 1870.3V1948.4M1173.5 1864.5V1941.7M1174.5 1856.7V1949.9M1175.5 1861.6V1945.4M1176.5 1874.4V1949.2M1177.5 1859.5V1948.0M1178.5 1871.0V1940.6M1179.5 1871.3V1945.9M1180.5 1867.4V1946.4M1181.5 1873.8V1946.6M1182.5 1870.0V1947.0M1183.5 1870.1V1955.7M1184.5 1865.9V1944.2M1185.5 1865.5V1947.0M1186.5 1864.7V1955.5M1187.5 1858.4V1960.2M1188.5 1857.4V1951.0M1189.5 1859.4V1967.3M1190.5 1841.5V1987.3M1191.5 1836.2V1966.0M1192.5 1832.3V1969.0M1193.5 1812.7V1995.1M1194.5 1819.1V1994.5M1195.5 1818.2V1995.2M1196.5 1815.4V1989.2M1197.5 1786.2V2006.7M1198.5 1815.4V1988.0M1199.5 1814.5V1987.3M1200.5 1821.4V1983.5M1201.5 1825.4V1994.7M1202.5 1813.1V1976.5M1203.5 1810.7V1997.1M1204.5 1840.7V1977.8M1205.5 1848.5V1995.8M1206.5 1839.6V1983.0M1207.5 1848.0V1966.5M1208.5 1846.6V1967.9M1209.5 1836.3V1959.9M1210.5 1860.0V1953.2M1211.5 1868.7V1941.0M1212.5 1872.8V1942.4M1213.5 1851.5V1944.8M1214.5 1865.8V1954.0M1215.5 1870.2V1947.6M1216.5 1866.0V1951.1M1217.5 1872.1V1943.6M1218.5 1862.7V1960.1M1219.5 1875.9V1939.6M1220.5 1862.3V1954.1M1221.5 1869.9V1941.3M1222.5 1868.4V1939.4M1223.5 1867.3V1947.0M1224.5 1870.0V1940.0M1225.5 1865.8V1947.0M1226.5 1866.7V1940.9M1227.5 1873.2V1959.2M1228.5 1868.0V1949.6M1229.5 1868.5V1946.1M1230.5 1855.4V1947.1M1231.5 1872.8V1936.6M1232.5 1854.2V1935.9M1233.5 1877.9V1943.6M1234.5 1859.1V1944.3M1235.5 1871.0V1939.6M1236.5 1866.8V1955.4M1237.5 1864.8V1944.1M1238.5 1871.8V1961.0M1239.5 1862.4V1940.1M1240.5 1861.0V1942.2M1241.5 1873.3V1938.6M1242.5 1858.5V1953.4M1243.5 1858.9V1951.3M1244.5 1873.4V1946.0M1245.5 1846.2V1953.0M1246.5 1870.2V1951.3M1247.5 1872.4V1949.1M1248.5 1855.6V1935.2M1249.5 1861.6V1951.3M1250.5 1868.4V1938.4M1251.5 1855.3V1946.6M1252.5 1863.0V1957.6M1253.5 1865.0V1952.4M1254.5 1869.9V1937.5M1255.5 1879.1V1954.8M1256.5 1871.0V1935.6M1257.5 1866.6V1938.3M1258.5 1856.4V1945.3M1259.5 1871.1V1941.9M1260.5 1869.6V1936.6M1261.5 1863.5V1951.1M1262.5 1874.1V1953.6M1263.5 1863.5V1939.6M1264.5 1865.9V1953.2M1265.5 1871.7V1945.2M1266.5 1870.6V1943.6M1267.5 1861.8V1946.2M1268.5 1871.2V1951.0M1269.5 1870.8V1948.2M1270.5 1864.8V1946.9M1271.5 1873.9V1949.0M1272.5 1873.6V1946.6M1273.5 1874.7V1948.8M1274.5 1870.9V1941.5M1275.5 1872.0V1946.4M1276.5 1868.4V1961.7M1277.5 1868.5V1934.0M1278.5 1866.2V1940.6M1279.5 1866.9V1939.1M1280.5 1866.7V1937.5M1281.5 1867.8V1958.3M1282.5 1864.2V1958.5M1283.5 1869.1V1944.4M1284.5 1864.3V1938.2M1285.5 1856.8V1950.1M1286.5 1866.1V1937.2M1287.5 1869.1V1967.7M1288.5 1858.2V1942.8M1289.5 1868.6V1944.2M1290.5 1865.8V1948.3M1291.5 1853.7V1945.4M1292.5 1871.6V1948.4M1293.5 1864.4V1985.2M1294.5 1864.1V1947.7M1295.5 1864.0V1942.4M1296.5 1866.2V1957.5M1297.5 1871.3V1944.1M1298.5 1866.9V1949.4M1299.5 1854.9V1938.1M1300.5 1869.8V1960.3M1301.5 1869.6V1944.1M1302.5 1864.4V1944.8M1303.5 1866.2V1943.4M1304.5 1870.8V1954.7M1305.5 1856.3V1938.8M1306.5 1863.7V1944.7M1307.5 1871.1V1946.3M1308.5 1866.7V1957.7M1309.5 1877.3V1972.8M1310.5 1864.5V1952.8M1311.5 1870.5V1945.3M1312.5 1864.0V1945.7M1313.5 1869.1V1945.9M1314.5 1857.8V1959.2M1315.5 1872.0V1946.9M1316.5 1848.0V1951.5M1317.5 1875.4V1936.5M1318.5 1868.4V1948.2M1319.5 1861.3V1943.2M1320.5 1868.7V1943.4M1321.5 1860.9V1944.6M1322.5 1864.5V1941.7M1323.5 1870.3V1948.1M1324.5 1880.3V1944.9M1325.5 1867.8V1947.0M1326.5 1873.1V1943.0M1327.5 1867.5V1946.1M1328.5 1859.5V1934.6M1329.5 1869.1V1943.8M1330.5 1869.2V1946.1M1331.5 1870.5V1959.8M1332.5 1870.9V1948.2" stroke="#000" stroke-opacity="0.5" stroke-width="1" fill="none"/>
<path d="M136.5 1871.9V1942.1M137.5 1876.1V1936.2M138.5 1877.3V1937.9M139.5 1874.0V1946.0M140.5 1877.1V1939.2M141.5 1883.5V1937.3M142.5 1874.2V1933.7M143.5 1877.8V1937.8M144.5 1867.9V1939.9M145.5 1870.8V1936.2M146.5 1880.0V1938.0M147.5 1873.4V1939.5M148.5 1877.1V1936.7M149.5 1877.9V1935.7M150.5 1875.4V1937.4M151.5 1873.9V1933.9M152.5 1874.3V1940.4M153.5 1873.5V1943.5M154.5 1871.5V1935.8M155.5 1880.7V1941.4M156.5 1878.5V1935.7M157.5 1872.6V1943.4M158.5 1879.9V1938.9M159.5 1876.0V1940.7M160.5 1878.3V1936.5M161.5 1876.6V1945.7M162.5 1873.6V1939.9M163.5 1879.3V1945.3M164.5 1875.1V1940.2M165.5 1874.8V1939.6M166.5 1880.1V1935.9M167.5 1873.5V1936.4M168.5 1876.8V1938.5M169.5 1876.4V1941.2M170.5 1873.4V1940.8M171.5 1876.9V1937.4M172.5 1873.7V1939.2M173.5 1876.5V1937.6M174.5 1875.5V1939.2M175.5 1881.0V1940.2M176.5 1872.7V1942.3M177.5 1874.1V1946.1M178.5 1877.5V1939.0M179.5 1871.1V1940.2M180.5 1874.3V1937.6M181.5 1875.0V1940.4M182.5 1875.2V1938.6M183.5 1876.5V1940.3M184.5 1870.9V1943.7M185.5 1876.0V1936.9M186.5 1877.4V1945.7M187.5 1869.6V1937.5M188.5 1874.4V1939.6M189.5 1873.5V1939.9M190.5 1873.1V1938.5M191.5 1874.2V1936.2M192.5 1873.5V1938.3M193.5 1869.6V1939.2M194.5 1877.5V1933.7M195.5 1877.2V1939.9M196.5 1876.9V1937.4M197.5 1868.8V1935.2M198.5 1873.0V1936.9M199.5 1871.4V1938.8M200.5 1874.2V1937.5M201.5 1877.5V1936.7M202.5 1877.7V1936.0M203.5 1876.8V1935.9M204.5 1870.9V1941.0M205.5 1876.0V1937.9M206.5 1877.2V1939.3M207.5 1869.0V1937.4M208.5 1873.8V1935.6M209.5 1876.0V1937.8M210.5 1879.3V1939.1M211.5 1876.6V1936.7M212.5 1871.3V1941.5M213.5 1879.7V1935.4M214.5 1874.2V1939.7M215.5 1869.0V1946.9M216.5 1867.9V1938.9M217.5 1872.6V1940.3M218.5 1873.4V1943.8M219.5 1875.6V1943.1M220.5 1870.5V1934.3M221.5 1867.4V1945.7M222.5 1870.7V1937.4M223.5 1873.7V1939.4M224.5 1874.4V1933.8M225.5 1879.8V1938.4M226.5 1875.4V1936.7M227.5 1877.1V1934.4M228.5 1877.7V1943.9M229.5 1874.8V1940.8M230.5 1869.0V1933.4M231.5 1873.2V1934.3M232.5 1869.2V1942.9M233.5 1873.7V1932.8M234.5 1878.9V1937.8M235.5 1875.6V1932.8M236.5 1871.2V1940.2M237.5 1870.0V1939.0M238.5 1878.1V1938.0M239.5 1879.6V1947.1M240.5 1873.0V1939.8M241.5 1877.7V1941.8M242.5 1872.5V1938.3M243.5 1870.0V1942.2M244.5 1874.7V1942.6M245.5 1872.2V1939.3M246.5 1869.3V1939.5M247.5 1872.9V1942.0M248.5 1872.1V1947.8M249.5 1874.1V1944.8M250.5 1860.0V1953.3M251.5 1860.8V1959.7M252.5 1850.9V1960.7M253.5 1841.5V1975.8M254.5 1834.1V1985.4M255.5 1826.3V1977.0M256.5 1840.6V1974.7M257.5 1832.9V1996.2M258.5 1828.7V1971.5M259.5 1835.6V1985.0M260.5 1830.9V1973.7M261.5 1838.3V1987.8M262.5 1827.1V1970.9M263.5 1839.5V1993.3M264.5 1831.4V1982.1M265.5 1836.8V1972.2M266.5 1842.1V1969.5M267.5 1837.2V1973.1M268.5 1852.9V1988.0M269.5 1849.7V1996.9M270.5 1843.2V1973.6M271.5 1834.7V1969.5M272.5 1844.3V1983.5M273.5 1836.3V1969.0M274.5 1837.6V1965.3M275.5 1848.7V1965.1M276.5 1840.0V1981.6M277.5 1838.8V1971.9M278.5 1842.1V1979.1M279.5 1844.6V1965.6M280.5 1844.9V1972.4M281.5 1845.9V1978.4M282.5 1838.2V1975.9M283.5 1841.0V1965.5M284.5 1834.5V1979.7M285.5 1823.1V1983.6M286.5 1852.9V1965.4M287.5 1852.4V1977.8M288.5 1840.8V1966.2M289.5 1844.3V1989.1M290.5 1849.0V1963.3M291.5 1847.2V1975.3M292.5 1845.7V1972.6M293.5 1839.9V1967.7M294.5 1832.5V1966.8M295.5 1820.5V1977.6M296.5 1832.4V1979.7M297.5 1841.0V1980.7M298.5 1842.4V1977.4M299.5 1835.6V1977.6M300.5 1827.6V1999.0M301.5 1827.4V1981.9M302.5 1830.4V1978.6M303.5 1838.3V1963.5M304.5 1853.5V1976.4M305.5 1843.1V1975.1M306.5 1845.9V1966.6M307.5 1844.9V1960.8M308.5 1845.7V1969.0M309.5 1840.0V1962.5M310.5 1841.6V1970.3M311.5 1841.9V1969.1M312.5 1830.9V1973.2M313.5 1853.2V1961.5M314.5 1843.7V1963.3M315.5 1839.3V1971.9M316.5 1851.3V1960.8M317.5 1846.4V1958.1M318.5 1844.9V1976.7M319.5 1846.8V1960.5M320.5 1852.9V1969.2M321.5 1854.3V1961.4M322.5 1849.6V1974.1M323.5 1839.5V1981.1M324.5 1849.6V1956.8M325.5 1838.2V1963.5M326.5 1842.5V1964.8M327.5 1850.7V1971.3M328.5 1843.3V1987.6M329.5 1854.0V1963.7M330.5 1841.4V1972.9M331.5 1857.1V1964.4M332.5 1846.9V1972.8M333.5 1836.3V1963.9M334.5 1844.6V1971.9M335.5 1850.0V1964.7M336.5 1851.5V1964.8M337.5 1848.6V1959.6M338.5 1845.6V1966.1M339.5 1851.5V1952.0M340.5 1853.5V1970.6M341.5 1856.4V1964.0M342.5 1864.4V1952.5M343.5 1857.2V1950.2M344.5 1865.8V1950.5M345.5 1863.8V1938.9M346.5 1871.7V1940.0M347.5 1870.5V1940.0M348.5 1870.4V1938.8M349.5 1876.4V1937.8M350.5 1873.2V1938.8M351.5 1875.4V1933.1M352.5 1875.4V1937.1M353.5 1872.2V1947.3M354.5 1876.2V1942.2M355.5 1876.2V1937.1M356.5 1875.8V1942.7M357.5 1877.9V1938.8M358.5 1877.9V1937.9M359.5 1876.1V1935.3M360.5 1869.2V1935.9M361.5 1873.2V1935.4M362.5 1870.3V1938.1M363.5 1866.6V1938.5M364.5 1872.2V1938.2M365.5 1876.4V1936.4M366.5 1873.3V1930.8M367.5 1870.9V1942.4M368.5 1872.4V1937.7M369.5 1875.2V1945.0M370.5 1876.2V1942.7M371.5 1874.2V1937.4M372.5 1875.7V1936.8M373.5 1868.2V1940.5M374.5 1876.4V1935.6M375.5 1876.1V1940.5M376.5 1877.0V1935.4M377.5 1876.8V1946.2M378.5 1877.1V1938.0M379.5 1870.1V1938.1M380.5 1874.7V1942.6M381.5 1877.8V1942.2M382.5 1869.8V1940.3M383.5 1875.2V1939.5M384.5 1873.0V1936.3M385.5 1877.0V1939.2M386.5 1870.7V1934.8M387.5 1876.0V1937.8M388.5 1873.1V1937.4M389.5 1877.0V1940.0M390.5 1877.2V1940.8M391.5 1875.7V1937.2M392.5 1873.3V1939.3M393.5 1877.9V1938.7M394.5 1878.7V1936.5M395.5 1875.2V1944.4M396.5 1875.0V1939.2M397.5 1875.7V1937.7M398.5 1873.8V1938.4M399.5 1872.6V1935.6M400.5 1881.5V1936.6M401.5 1875.8V1934.1M402.5 1863.2V1939.7M403.5 1870.2V1937.8M404.5 1875.0V1931.0M405.5 1871.7V1934.9M406.5 1868.5V1935.1M407.5 1874.4V1938.4M408.5 1867.0V1934.0M409.5 1874.5V1940.2M410.5 1876.1V1942.3M411.5 1864.5V1942.2M412.5 1874.8V1939.0M413.5 1872.1V1933.6M414.5 1864.0V1935.7M415.5 1870.5V1937.1M416.5 1874.3V1938.5M417.5 1874.0V1933.4M418.5 1873.8V1937.8M419.5 1875.2V1939.4M420.5 1873.8V1942.6M421.5 1874.1V1939.6M422.5 1876.4V1933.7M423.5 1876.7V1940.5M424.5 1875.5V1936.2M425.5 1872.2V1938.7M426.5 1875.8V1938.1M427.5 1873.6V1930.9M428.5 1871.9V1937.5M429.5 1875.9V1935.7M430.5 1876.0V1947.7M431.5 1880.2V1939.3M432.5 1872.2V1937.3M433.5 1879.1V1938.6M434.5 1874.9V1935.1M435.5 1880.9V1945.4M436.5 1874.4V1938.2M437.5 1882.9V1932.6M438.5 1871.6V1935.7M439.5 1870.9V1940.5M440.5 1879.5V1939.6M441.5 1878.1V1938.2M442.5 1882.6V1947.6M443.5 1869.1V1940.2M444.5 1873.4V1942.1M445.5 1874.9V1942.8M446.5 1876.0V1945.1M447.5 1874.4V1941.3M448.5 1881.9V1938.0M449.5 1873.6V1935.5M450.5 1876.9V1942.4M451.5 1879.6V1942.8M452.5 1875.9V1943.1M453.5 1876.1V1942.0M454.5 1873.6V1934.6M455.5 1878.6V1937.8M456.5 1875.6V1934.1M457.5 1875.9V1937.4M458.5 1873.0V1938.2M459.5 1876.0V1937.7M460.5 1874.7V1937.5M461.5 1874.7V1937.6M462.5 1873.1V1939.0M463.5 1876.3V1942.3M464.5 1869.2V1938.1M465.5 1878.6V1941.2M466.5 1872.3V1937.4M467.5 1875.0V1947.2M468.5 1880.0V1939.4M469.5 1873.9V1938.8M470.5 1875.2V1940.2M471.5 1869.5V1934.5M472.5 1875.5V1944.4M473.5 1876.9V1941.2M474.5 1874.1V1937.3M475.5 1872.4V1940.5M476.5 1870.3V1936.2M477.5 1879.2V1934.6M478.5 1875.2V1934.8M479.5 1864.8V1941.7M480.5 1872.4V1940.7M481.5 1877.5V1938.4M482.5 1875.5V1935.3M483.5 1871.5V1942.4M484.5 1876.7V1939.1M485.5 1878.2V1936.0M486.5 1874.0V1937.2M487.5 1878.4V1932.7M488.5 1875.6V1941.6M489.5 1876.0V1942.1M490.5 1879.7V1933.9M491.5 1873.3V1935.4M492.5 1878.9V1939.9M493.5 1876.4V1941.0M494.5 1877.7V1938.0M495.5 1879.9V1938.9M496.5 1872.8V1934.7M497.5 1877.4V1939.5M498.5 1874.9V1936.1M499.5 1874.6V1934.7M500.5 1876.4V1938.9M501.5 1870.4V1935.7M502.5 1873.9V1940.2M503.5 1873.8V1937.9M504.5 1873.0V1937.5M505.5 1879.2V1935.6M506.5 1874.4V1936.6M507.5 1875.5V1935.8M508.5 1877.3V1937.6M509.5 1874.9V1935.7M510.5 1878.4V1932.8M511.5 1881.0V1941.8M512.5 1870.5V1936.3M513.5 1874.9V1944.3M514.5 1875.9V1935.6M515.5 1881.2V1937.1M516.5 1880.7V1941.8M517.5 1878.6V1939.4M518.5 1877.4V1944.0M519.5 1879.2V1937.1M520.5 1870.3V1941.1M521.5 1875.0V1933.6M522.5 1869.0V1940.4M523.5 1873.5V1942.2M524.5 1878.2V1943.3M525.5 1871.4V1940.8M526.5 1872.1V1934.5M527.5 1876.5V1935.0M528.5 1874.6V1937.9M529.5 1877.7V1939.8M530.5 1875.8V1937.6M531.5 1873.9V1937.1M532.5 1879.9V1938.1M533.5 1881.9V1937.3M534.5 1867.9V1937.9M535.5 1875.5V1938.3M536.5 1879.5V1944.7M537.5 1871.8V1944.0M538.5 1879.7V1938.6M539.5 1872.9V1935.9M540.5 1874.1V1945.3M541.5 1874.5V1937.7M542.5 1877.1V1936.5M543.5 1874.5V1940.2M544.5 1868.8V1941.4M545.5 1873.7V1939.0M546.5 1874.2V1942.2M547.5 1876.6V1938.3M548.5 1875.9V1936.5M549.5 1873.6V1942.8M550.5 1874.9V1944.2M551.5 1868.1V1947.3M552.5 1870.9V1937.6M553.5 1871.7V1943.3M554.5 1878.3V1939.0M555.5 1874.3V1935.6M556.5 1876.1V1938.1M557.5 1868.5V1935.8M558.5 1875.9V1938.0M559.5 1875.5V1934.4M560.5 1868.8V1937.5M561.5 1870.8V1936.1M562.5 1870.0V1936.8M563.5 1870.5V1936.1M564.5 1878.9V1931.9M565.5 1875.5V1938.8M566.5 1870.3V1936.2M567.5 1873.2V1939.8M568.5 1879.0V1937.2M569.5 1878.2V1942.1M570.5 1879.4V1940.7M571.5 1877.9V1945.0M572.5 1874.1V1936.0M573.5 1877.8V1934.9M574.5 1875.7V1934.6M575.5 1878.3V1934.7M576.5 1868.5V1937.5M577.5 1871.2V1949.2M578.5 1860.3V1954.9M579.5 1850.9V1967.2M580.5 1839.5V1970.2M581.5 1830.0V1976.4M582.5 1806.5V1978.3M583.5 1818.7V1981.3M584.5 1830.0V1980.8M585.5 1814.0V1987.2M586.5 1834.0V1985.1M587.5 1816.5V1991.2M588.5 1834.7V1979.1M589.5 1841.4V1973.4M590.5 1842.9V1979.1M591.5 1832.3V1987.9M592.5 1831.8V1997.3M593.5 1831.1V1976.9M594.5 1826.5V1981.9M595.5 1832.5V1978.6M596.5 1839.3V1978.8M597.5 1817.7V1984.4M598.5 1839.7V1991.7M599.5 1834.4V1993.7M600.5 1839.8V1984.2M601.5 1843.3V1973.4M602.5 1833.1V1974.5M603.5 1818.6V1989.9M604.5 1838.3V1984.4M605.5 1822.9V1976.8M606.5 1811.4V1979.8M607.5 1834.4V1980.8M608.5 1817.7V1987.1M609.5 1834.4V1987.9M610.5 1828.8V1985.0M611.5 1825.8V1980.6M612.5 1835.3V1990.5M613.5 1837.2V1985.7M614.5 1815.2V1974.3M615.5 1822.4V1981.0M616.5 1839.9V1990.8M617.5 1832.4V1991.4M618.5 1826.5V1987.1M619.5 1826.8V1977.6M620.5 1834.9V1976.7M621.5 1820.9V1984.1M622.5 1822.6V1976.7M623.5 1837.8V1978.9M624.5 1807.9V1986.5M625.5 1818.4V1994.0M626.5 1831.7V1993.0M627.5 1835.0V1989.7M628.5 1823.4V1998.9M629.5 1827.7V1988.6M630.5 1830.1V1984.3M631.5 1835.4V1980.3M632.5 1825.9V1986.3M633.5 1830.8V1980.9M634.5 1839.2V1975.2M635.5 1829.9V1988.4M636.5 1814.6V1969.6M637.5 1833.0V1983.1M638.5 1842.1V1982.5M639.5 1829.8V1993.9M640.5 1827.4V1974.9M641.5 1824.6V1990.4M642.5 1825.6V1985.3M643.5 1834.0V1989.8M644.5 1841.1V1987.2M645.5 1839.9V1967.1M646.5 1841.4V1982.8M647.5 1851.5V1970.6M648.5 1834.9V1975.7M649.5 1842.0V1973.3M650.5 1839.2V1966.6M651.5 1847.5V1969.3M652.5 1835.3V1965.1M653.5 1850.6V1987.0M654.5 1833.1V1970.9M655.5 1833.1V1974.2M656.5 1837.5V1962.2M657.5 1835.9V1966.2M658.5 1847.3V1965.7M659.5 1844.4V1968.0M660.5 1837.5V1969.9M661.5 1841.1V1962.7M662.5 1831.6V1970.1M663.5 1850.3V1968.1M664.5 1848.3V1965.6M665.5 1855.6V1967.3M666.5 1841.3V1974.3M667.5 1868.1V1959.9M668.5 1864.8V1950.7M669.5 1863.3V1948.3M670.5 1868.8V1948.4M671.5 1877.8V1941.1M672.5 1877.8V1946.7M673.5 1871.5V1939.6M674.5 1875.5V1938.7M675.5 1871.1V1936.5M676.5 1872.0V1938.7M677.5 1872.0V1937.9M678.5 1876.8V1938.6M679.5 1872.8V1941.3M680.5 1874.7V1937.3M681.5 1868.0V1941.0M682.5 1875.8V1936.8M683.5 1877.1V1936.9M684.5 1869.1V1938.7M685.5 1871.3V1936.8M686.5 1873.4V1940.1M687.5 1877.6V1942.0M688.5 1873.8V1937.8M689.5 1878.1V1936.8M690.5 1876.8V1940.1M691.5 1874.4V1933.9M692.5 1872.0V1937.5M693.5 1872.7V1938.3M694.5 1877.1V1935.3M695.5 1876.1V1940.1M696.5 1874.1V1931.8M697.5 1879.1V1941.5M698.5 1875.4V1939.2M699.5 1873.6V1933.9M700.5 1869.6V1936.6M701.5 1871.6V1939.1M702.5 1874.0V1941.9M703.5 1874.5V1938.5M704.5 1876.5V1938.8M705.5 1869.9V1940.1M706.5 1868.3V1938.0M707.5 1863.8V1941.0M708.5 1875.9V1943.2M709.5 1873.1V1939.7M710.5 1873.8V1941.0M711.5 1875.2V1941.2M712.5 1879.2V1937.3M713.5 1875.6V1937.5M714.5 1875.2V1937.7M715.5 1878.0V1940.3M716.5 1878.4V1937.0M717.5 1880.3V1939.7M718.5 1875.2V1937.0M719.5 1880.2V1940.1M720.5 1873.2V1944.8M721.5 1872.2V1940.1M722.5 1877.3V1939.3M723.5 1871.9V1939.5M724.5 1878.0V1944.4M725.5 1876.8V1935.0M726.5 1873.7V1938.7M727.5 1874.6V1939.4M728.5 1874.1V1941.3M729.5 1876.8V1939.3M730.5 1874.7V1943.3M731.5 1872.8V1937.0M732.5 1877.7V1941.5M733.5 1877.7V1935.9M734.5 1874.7V1940.3M735.5 1873.7V1939.4M736.5 1878.5V1936.1M737.5 1874.4V1941.0M738.5 1872.3V1933.1M739.5 1877.6V1939.4M740.5 1876.7V1937.8M741.5 1877.7V1938.0M742.5 1875.4V1938.9M743.5 1873.9V1933.6M744.5 1874.1V1942.2M745.5 1875.4V1939.7M746.5 1870.4V1938.6M747.5 1878.9V1938.1M748.5 1866.7V1938.9M749.5 1869.7V1935.3M750.5 1872.7V1940.5M751.5 1875.1V1940.0M752.5 1871.7V1937.4M753.5 1873.5V1944.2M754.5 1875.9V1941.6M755.5 1873.9V1940.7M756.5 1878.7V1941.3M757.5 1873.8V1936.2M758.5 1877.8V1937.1M759.5 1873.1V1938.5M760.5 1875.3V1940.6M761.5 1874.8V1935.7M762.5 1875.6V1940.9M763.5 1874.0V1940.8M764.5 1874.9V1939.3M765.5 1868.7V1936.3M766.5 1870.1V1938.2M767.5 1871.9V1937.3M768.5 1878.0V1937.5M769.5 1876.3V1935.6M770.5 1873.8V1934.1M771.5 1876.4V1937.9M772.5 1867.7V1935.6M773.5 1875.0V1937.1M774.5 1877.0V1940.4M775.5 1876.6V1942.0M776.5 1860.5V1937.1M777.5 1876.7V1940.0M778.5 1874.8V1940.6M779.5 1880.0V1935.2M780.5 1874.3V1941.2M781.5 1878.2V1934.6M782.5 1877.2V1939.2M783.5 1874.1V1936.7M784.5 1878.8V1941.1M785.5 1877.6V1934.0M786.5 1872.2V1938.0M787.5 1876.6V1937.1M788.5 1881.0V1945.6M789.5 1875.6V1939.5M790.5 1877.3V1939.8M791.5 1870.0V1936.0M792.5 1868.1V1942.3M793.5 1870.4V1943.0M794.5 1870.7V1938.3M795.5 1876.3V1940.8M796.5 1873.7V1939.2M797.5 1872.8V1936.2M798.5 1872.4V1935.9M799.5 1875.3V1945.8M800.5 1872.3V1943.9M801.5 1872.3V1933.1M802.5 1879.3V1941.4M803.5 1876.3V1944.2M804.5 1877.2V1939.0M805.5 1873.6V1938.2M806.5 1870.1V1940.9M807.5 1870.3V1934.7M808.5 1876.8V1936.1M809.5 1877.5V1936.4M810.5 1873.2V1938.4M811.5 1874.2V1937.6M812.5 1873.8V1938.0M813.5 1877.3V1938.4M814.5 1858.2V1940.6M815.5 1878.0V1942.9M816.5 1871.9V1933.8M817.5 1875.3V1934.4M818.5 1873.0V1940.3M819.5 1868.9V1938.5M820.5 1871.2V1940.9M821.5 1873.3V1932.5M822.5 1873.9V1937.1M823.5 1873.9V1938.4M824.5 1877.3V1938.4M825.5 1878.7V1940.1M826.5 1878.2V1940.1M827.5 1875.2V1937.7M828.5 1877.2V1941.1M829.5 1871.3V1939.1M830.5 1873.2V1942.8M831.5 1875.6V1935.4M832.5 1872.1V1936.6M833.5 1871.5V1941.3M834.5 1878.5V1935.9M835.5 1868.5V1934.4M836.5 1877.4V1935.5M837.5 1875.5V1937.5M838.5 1868.7V1941.6M839.5 1874.9V1936.9M840.5 1874.2V1937.8M841.5 1876.5V1939.7M842.5 1876.2V1938.0M843.5 1877.2V1929.7M844.5 1878.4V1939.5M845.5 1870.6V1937.7M846.5 1874.0V1933.7M847.5 1877.3V1938.2M848.5 1879.2V1937.7M849.5 1877.3V1934.6M850.5 1879.1V1940.6M851.5 1876.3V1939.0M852.5 1877.5V1935.8M853.5 1873.8V1939.5M854.5 1873.6V1939.5M855.5 1874.6V1936.4M856.5 1877.7V1937.4M857.5 1874.1V1942.7M858.5 1873.1V1939.6M859.5 1870.2V1937.5M860.5 1879.4V1936.1M861.5 1868.0V1937.2M862.5 1876.1V1948.0M863.5 1867.8V1936.7M864.5 1873.7V1934.3M865.5 1864.2V1940.3M866.5 1869.7V1933.1M867.5 1879.0V1941.2M868.5 1870.9V1938.0M869.5 1879.0V1940.1M870.5 1870.7V1942.1M871.5 1875.9V1945.4M872.5 1871.5V1939.6M873.5 1874.4V1938.7M874.5 1877.7V1936.3M875.5 1870.9V1945.8M876.5 1871.5V1936.1M877.5 1875.4V1941.4M878.5 1875.8V1941.2M879.5 1875.0V1937.9M880.5 1865.5V1934.8M881.5 1874.4V1935.9M882.5 1877.6V1935.7M883.5 1873.8V1935.6M884.5 1870.9V1940.1M885.5 1876.5V1944.0M886.5 1878.1V1938.6M887.5 1880.5V1939.2M888.5 1882.6V1938.3M889.5 1874.5V1945.5M890.5 1872.0V1938.4M891.5 1876.5V1940.7M892.5 1866.8V1942.5M893.5 1877.4V1937.9M894.5 1874.5V1938.6M895.5 1869.7V1936.8M896.5 1871.8V1937.5M897.5 1878.7V1940.8M898.5 1874.7V1937.9M899.5 1874.3V1940.6M900.5 1875.3V1940.0M901.5 1871.1V1943.5M902.5 1878.1V1938.0M903.5 1882.7V1939.6M904.5 1874.1V1937.9M905.5 1872.9V1937.9M906.5 1874.6V1940.8M907.5 1879.2V1938.2M908.5 1876.3V1938.8M909.5 1876.8V1935.7M910.5 1879.0V1937.4M911.5 1870.9V1938.6M912.5 1876.9V1943.1M913.5 1875.6V1936.4M914.5 1877.2V1938.7M915.5 1873.1V1937.4M916.5 1879.7V1941.7M917.5 1871.9V1937.7M918.5 1875.7V1938.0M919.5 1872.9V1934.4M920.5 1880.5V1933.5M921.5 1875.4V1949.1M922.5 1876.6V1942.6M923.5 1874.5V1940.2M924.5 1872.4V1936.8M925.5 1875.2V1941.6M926.5 1864.9V1939.3M927.5 1876.4V1937.0M928.5 1872.0V1939.5M929.5 1874.6V1942.7M930.5 1867.4V1939.0M931.5 1872.6V1945.8M932.5 1877.7V1939.2M933.5 1871.4V1936.7M934.5 1877.8V1938.7M935.5 1880.4V1942.1M936.5 1878.0V1935.5M937.5 1867.3V1933.7M938.5 1870.1V1941.1M939.5 1876.2V1935.9M940.5 1866.9V1934.8M941.5 1875.1V1941.1M942.5 1877.1V1938.6M943.5 1877.9V1937.1M944.5 1872.5V1939.5M945.5 1868.6V1945.0M946.5 1872.8V1939.9M947.5 1876.5V1941.2M948.5 1877.7V1934.9M949.5 1868.8V1938.6M950.5 1870.5V1940.8M951.5 1875.0V1935.2M952.5 1875.1V1941.8M953.5 1865.5V1948.8M954.5 1864.9V1951.4M955.5 1864.7V1950.6M956.5 1862.3V1948.5M957.5 1861.7V1959.6M958.5 1848.0V1966.4M959.5 1854.4V1968.4M960.5 1843.0V1964.1M961.5 1841.9V1961.6M962.5 1833.4V1976.7M963.5 1831.5V1970.1M964.5 1831.9V1979.6M965.5 1825.5V1968.4M966.5 1834.3V1996.3M967.5 1824.9V1988.0M968.5 1835.5V1991.1M969.5 1839.7V1994.3M970.5 1836.0V1982.0M971.5 1835.3V1972.2M972.5 1831.7V1989.0M973.5 1837.9V1978.2M974.5 1843.3V1978.1M975.5 1838.8V1978.6M976.5 1839.6V1960.4M977.5 1837.7V1968.4M978.5 1851.0V1956.0M979.5 1847.0V1955.7M980.5 1858.5V1956.2M981.5 1863.9V1951.9M982.5 1866.3V1951.1M983.5 1865.1V1947.5M984.5 1869.5V1944.0M985.5 1870.4V1955.0M986.5 1870.8V1940.7M987.5 1872.0V1940.0M988.5 1871.9V1943.3M989.5 1864.1V1945.0M990.5 1871.4V1944.0M991.5 1871.0V1939.9M992.5 1872.1V1939.0M993.5 1875.7V1938.2M994.5 1875.7V1945.8M995.5 1875.1V1939.6M996.5 1872.3V1938.2M997.5 1877.6V1938.6M998.5 1874.4V1935.5M999.5 1874.8V1936.0M1000.5 1876.5V1940.9M1001.5 1875.9V1934.6M1002.5 1877.2V1933.8M1003.5 1878.7V1938.8M1004.5 1870.9V1940.8M1005.5 1874.7V1939.7M1006.5 1876.8V1937.3M1007.5 1871.5V1937.7M1008.5 1878.0V1943.2M1009.5 1870.9V1939.6M1010.5 1873.0V1936.6M1011.5 1870.1V1947.0M1012.5 1873.1V1942.4M1013.5 1860.1V1946.8M1014.5 1872.5V1946.7M1015.5 1866.6V1949.9M1016.5 1854.7V1951.1M1017.5 1858.9V1968.1M1018.5 1847.5V1956.7M1019.5 1848.3V1964.5M1020.5 1839.1V1969.3M1021.5 1847.6V1968.5M1022.5 1846.0V1965.9M1023.5 1832.0V1963.4M1024.5 1841.8V1970.0M1025.5 1835.8V1968.5M1026.5 1824.5V1975.4M1027.5 1827.0V1975.1M1028.5 1831.3V1987.0M1029.5 1834.5V1981.4M1030.5 1838.4V1983.9M1031.5 1817.3V1987.7M1032.5 1844.1V1977.6M1033.5 1814.7V1977.4M1034.5 1820.8V1988.3M1035.5 1829.0V1977.6M1036.5 1841.3V1965.7M1037.5 1848.6V1970.2M1038.5 1858.5V1961.8M1039.5 1860.6V1955.1M1040.5 1844.2V1957.7M1041.5 1852.2V1955.9M1042.5 1867.1V1946.3M1043.5 1869.7V1949.2M1044.5 1867.5V1942.5M1045.5 1871.6V1939.2M1046.5 1874.4V1945.1M1047.5 1875.8V1942.4M1048.5 1866.9V1941.7M1049.5 1868.9V1938.0M1050.5 1877.9V1938.1M1051.5 1874.4V1934.3M1052.5 1876.6V1941.2M1053.5 1871.7V1935.9M1054.5 1873.5V1936.2M1055.5 1878.8V1935.4M1056.5 1877.3V1935.8M1057.5 1877.1V1938.3M1058.5 1875.2V1942.4M1059.5 1871.7V1938.9M1060.5 1876.3V1943.7M1061.5 1874.0V1935.7M1062.5 1868.4V1941.5M1063.5 1878.6V1935.5M1064.5 1874.4V1936.5M1065.5 1869.8V1939.8M1066.5 1875.2V1937.6M1067.5 1873.0V1940.4M1068.5 1875.4V1941.7M1069.5 1872.3V1939.4M1070.5 1870.2V1938.7M1071.5 1872.1V1954.1M1072.5 1870.3V1944.6M1073.5 1862.8V1954.0M1074.5 1854.6V1955.7M1075.5 1860.0V1957.1M1076.5 1847.5V1960.0M1077.5 1849.6V1962.1M1078.5 1843.2V1973.3M1079.5 1843.8V1974.5M1080.5 1823.7V1975.5M1081.5 1826.9V1982.7M1082.5 1833.6V1982.3M1083.5 1827.5V1993.6M1084.5 1824.8V1981.2M1085.5 1817.7V1980.2M1086.5 1838.5V1983.2M1087.5 1830.7V1984.0M1088.5 1831.7V1991.2M1089.5 1833.0V1979.0M1090.5 1834.4V2003.4M1091.5 1837.8V1981.1M1092.5 1850.8V1957.9M1093.5 1844.4V1974.8M1094.5 1847.4V1968.0M1095.5 1854.5V1954.1M1096.5 1849.5V1956.2M1097.5 1860.8V1950.4M1098.5 1865.1V1956.9M1099.5 1870.3V1941.9M1100.5 1869.9V1942.6M1101.5 1871.3V1939.5M1102.5 1872.0V1941.3M1103.5 1868.6V1944.1M1104.5 1871.2V1945.3M1105.5 1876.8V1937.3M1106.5 1875.5V1941.0M1107.5 1873.1V1936.3M1108.5 1873.4V1940.9M1109.5 1878.6V1941.2M1110.5 1874.8V1939.8M1111.5 1862.0V1937.9M1112.5 1878.6V1949.9M1113.5 1877.0V1937.1M1114.5 1871.8V1934.5M1115.5 1873.7V1943.5M1116.5 1873.3V1936.4M1117.5 1869.6V1935.8M1118.5 1877.9V1939.7M1119.5 1870.0V1937.2M1120.5 1873.4V1945.8M1121.5 1875.9V1948.2M1122.5 1877.4V1938.9M1123.5 1870.0V1941.9M1124.5 1872.9V1946.4M1125.5 1873.7V1941.2M1126.5 1869.6V1946.2M1127.5 1864.4V1941.9M1128.5 1858.2V1948.0M1129.5 1862.5V1946.8M1130.5 1858.4V1956.6M1131.5 1858.6V1957.2M1132.5 1853.2V1963.2M1133.5 1855.4V1964.8M1134.5 1847.6V1972.1M1135.5 1841.4V1967.4M1136.5 1844.8V1967.6M1137.5 1847.1V1981.7M1138.5 1843.4V1978.4M1139.5 1821.0V1976.5M1140.5 1823.7V1977.3M1141.5 1831.7V1977.5M1142.5 1831.4V1980.7M1143.5 1842.9V1984.4M1144.5 1827.8V1970.9M1145.5 1848.4V1968.1M1146.5 1851.3V1959.7M1147.5 1864.4V1959.9M1148.5 1860.3V1958.2M1149.5 1854.5V1945.9M1150.5 1860.2V1958.0M1151.5 1866.5V1953.7M1152.5 1859.4V1949.5M1153.5 1871.3V1950.0M1154.5 1876.2V1947.4M1155.5 1875.6V1938.3M1156.5 1875.2V1937.5M1157.5 1878.5V1938.2M1158.5 1874.7V1944.5M1159.5 1875.9V1943.9M1160.5 1875.7V1940.1M1161.5 1876.8V1941.8M1162.5 1879.1V1940.2M1163.5 1880.6V1937.2M1164.5 1874.6V1949.5M1165.5 1876.1V1939.6M1166.5 1876.1V1939.9M1167.5 1877.3V1938.0M1168.5 1875.4V1940.0M1169.5 1873.6V1937.9M1170.5 1876.3V1936.3M1171.5 1876.9V1938.6M1172.5 1872.1V1940.2M1173.5 1869.0V1940.6M1174.5 1878.2V1942.2M1175.5 1873.2V1941.2M1176.5 1875.5V1939.0M1177.5 1870.8V1941.6M1178.5 1872.5V1940.5M1179.5 1874.0V1933.6M1180.5 1877.4V1937.8M1181.5 1877.5V1938.1M1182.5 1879.2V1939.5M1183.5 1875.8V1944.0M1184.5 1875.9V1940.0M1185.5 1870.3V1940.4M1186.5 1869.6V1948.5M1187.5 1859.2V1946.3M1188.5 1867.9V1947.5M1189.5 1862.5V1954.1M1190.5 1853.9V1964.8M1191.5 1846.8V1955.7M1192.5 1844.1V1968.8M1193.5 1830.7V1982.2M1194.5 1834.9V1974.7M1195.5 1837.9V1973.1M1196.5 1823.2V1973.5M1197.5 1819.7V1981.7M1198.5 1827.6V1978.7M1199.5 1840.4V1978.4M1200.5 1833.0V1972.5M1201.5 1847.6V1982.3M1202.5 1833.7V1972.8M1203.5 1842.5V1968.3M1204.5 1855.4V1972.7M1205.5 1853.1V1967.1M1206.5 1852.4V1958.6M1207.5 1857.7V1957.3M1208.5 1850.8V1956.1M1209.5 1853.9V1951.9M1210.5 1863.9V1947.2M1211.5 1874.7V1934.7M1212.5 1876.9V1938.3M1213.5 1868.6V1941.8M1214.5 1871.3V1947.3M1215.5 1872.2V1936.7M1216.5 1872.2V1937.8M1217.5 1872.5V1939.4M1218.5 1876.7V1944.4M1219.5 1878.4V1935.0M1220.5 1864.2V1943.9M1221.5 1877.2V1934.1M1222.5 1873.9V1934.1M1223.5 1876.6V1942.6M1224.5 1873.3V1935.5M1225.5 1869.5V1941.0M1226.5 1875.0V1936.0M1227.5 1879.9V1940.5M1228.5 1872.0V1943.5M1229.5 1874.8V1940.1M1230.5 1875.8V1945.9M1231.5 1878.4V1935.3M1232.5 1872.9V1933.6M1233.5 1882.3V1939.4M1234.5 1871.1V1940.8M1235.5 1874.9V1938.2M1236.5 1876.9V1937.9M1237.5 1876.6V1937.4M1238.5 1874.7V1936.1M1239.5 1873.2V1937.1M1240.5 1876.0V1940.4M1241.5 1875.3V1935.9M1242.5 1873.8V1946.0M1243.5 1864.1V1933.9M1244.5 1876.5V1941.4M1245.5 1866.5V1942.7M1246.5 1871.3V1943.4M1247.5 1874.9V1940.1M1248.5 1876.6V1934.4M1249.5 1875.8V1939.5M1250.5 1874.5V1935.1M1251.5 1873.2V1940.2M1252.5 1872.9V1943.1M1253.5 1874.7V1933.9M1254.5 1872.9V1935.3M1255.5 1879.6V1942.9M1256.5 1875.2V1935.1M1257.5 1871.8V1935.1M1258.5 1875.0V1944.2M1259.5 1875.1V1935.9M1260.5 1871.2V1933.9M1261.5 1866.6V1941.4M1262.5 1876.7V1939.5M1263.5 1873.0V1936.6M1264.5 1869.2V1943.5M1265.5 1875.9V1935.8M1266.5 1874.1V1941.6M1267.5 1871.6V1936.2M1268.5 1873.9V1933.2M1269.5 1873.3V1944.1M1270.5 1874.6V1938.2M1271.5 1875.1V1939.6M1272.5 1874.8V1941.7M1273.5 1877.9V1938.9M1274.5 1872.1V1939.0M1275.5 1877.4V1940.9M1276.5 1871.9V1945.3M1277.5 1877.0V1932.9M1278.5 1875.2V1936.3M1279.5 1867.9V1936.4M1280.5 1874.2V1936.8M1281.5 1872.9V1931.3M1282.5 1876.5V1944.0M1283.5 1877.4V1939.0M1284.5 1872.1V1937.3M1285.5 1870.9V1943.0M1286.5 1874.0V1936.6M1287.5 1874.0V1937.3M1288.5 1868.7V1937.3M1289.5 1873.2V1934.9M1290.5 1875.5V1941.7M1291.5 1869.6V1940.4M1292.5 1876.9V1941.0M1293.5 1867.1V1944.1M1294.5 1875.5V1941.7M1295.5 1869.9V1939.7M1296.5 1871.1V1941.4M1297.5 1875.2V1937.2M1298.5 1871.8V1943.1M1299.5 1873.6V1935.9M1300.5 1876.5V1939.0M1301.5 1874.3V1938.8M1302.5 1873.7V1937.2M1303.5 1873.3V1942.2M1304.5 1873.2V1940.2M1305.5 1875.0V1936.7M1306.5 1873.9V1937.2M1307.5 1876.3V1942.2M1308.5 1876.3V1940.0M1309.5 1879.4V1943.0M1310.5 1870.4V1942.0M1311.5 1880.1V1938.6M1312.5 1875.3V1943.5M1313.5 1877.5V1936.4M1314.5 1875.8V1938.5M1315.5 1875.0V1937.8M1316.5 1867.2V1939.5M1317.5 1877.5V1934.6M1318.5 1872.5V1942.7M1319.5 1877.1V1938.3M1320.5 1875.9V1940.1M1321.5 1873.1V1937.2M1322.5 1876.9V1936.5M1323.5 1876.4V1943.4M1324.5 1880.4V1939.4M1325.5 1877.8V1941.3M1326.5 1874.8V1936.9M1327.5 1875.0V1942.2M1328.5 1868.3V1933.7M1329.5 1877.4V1937.1M1330.5 1878.2V1941.4M1331.5 1875.1V1941.0M1332.5 1877.9V1942.5" stroke="#000" stroke-opacity="0.55" stroke-width="1" fill="none"/>
<path d="M136.5 1879.2V1934.2M137.5 1880.4V1933.8M138.5 1879.3V1935.6M139.5 1879.4V1936.0M140.5 1882.5V1934.1M141.5 1884.5V1934.2M142.5 1876.4V1930.2M143.5 1879.8V1932.2M144.5 1877.1V1930.9M145.5 1877.8V1933.9M146.5 1883.2V1933.4M147.5 1878.1V1933.1M148.5 1880.4V1931.5M149.5 1880.7V1931.0M150.5 1878.9V1933.4M151.5 1877.0V1932.7M152.5 1880.0V1937.1M153.5 1878.9V1933.1M154.5 1883.1V1933.6M155.5 1882.3V1932.0M156.5 1882.2V1931.8M157.5 1881.0V1939.4M158.5 1884.4V1933.0M159.5 1879.7V1932.3M160.5 1879.8V1931.5M161.5 1880.5V1937.9M162.5 1883.1V1933.7M163.5 1881.6V1934.6M164.5 1881.2V1933.0M165.5 1881.0V1934.1M166.5 1880.9V1931.7M167.5 1881.6V1932.7M168.5 1881.3V1931.6M169.5 1880.8V1934.7M170.5 1877.9V1933.5M171.5 1879.4V1934.5M172.5 1879.3V1936.7M173.5 1878.0V1933.7M174.5 1879.5V1933.9M175.5 1884.5V1932.2M176.5 1878.7V1936.5M177.5 1882.2V1934.4M178.5 1880.3V1934.1M179.5 1878.7V1934.3M180.5 1879.6V1935.0M181.5 1878.7V1934.1M182.5 1877.8V1934.9M183.5 1880.4V1932.3M184.5 1880.5V1936.2M185.5 1881.5V1934.5M186.5 1881.9V1933.7M187.5 1880.1V1931.7M188.5 1883.0V1933.4M189.5 1880.8V1934.6M190.5 1878.4V1933.6M191.5 1877.5V1932.2M192.5 1879.4V1935.1M193.5 1877.5V1935.1M194.5 1879.8V1930.4M195.5 1881.8V1935.4M196.5 1882.5V1934.8M197.5 1877.9V1934.2M198.5 1878.8V1934.2M199.5 1877.6V1934.9M200.5 1881.6V1933.5M201.5 1880.4V1932.7M202.5 1883.3V1934.5M203.5 1879.0V1931.3M204.5 1876.2V1937.4M205.5 1881.3V1936.0M206.5 1881.8V1933.8M207.5 1878.9V1936.0M208.5 1877.4V1932.8M209.5 1881.2V1936.3M210.5 1881.0V1930.4M211.5 1880.5V1934.1M212.5 1877.0V1934.1M213.5 1882.5V1931.9M214.5 1877.9V1930.1M215.5 1876.8V1940.6M216.5 1878.9V1933.8M217.5 1878.1V1931.7M218.5 1878.8V1936.8M219.5 1881.2V1934.4M220.5 1875.8V1931.8M221.5 1877.4V1934.5M222.5 1879.4V1932.4M223.5 1879.1V1933.7M224.5 1881.0V1929.9M225.5 1882.5V1932.7M226.5 1878.5V1934.7M227.5 1878.9V1930.8M228.5 1882.0V1935.3M229.5 1878.1V1936.3M230.5 1878.4V1930.7M231.5 1880.2V1930.3M232.5 1874.3V1933.3M233.5 1875.0V1931.8M234.5 1880.5V1933.3M235.5 1877.2V1931.3M236.5 1879.4V1934.2M237.5 1877.6V1935.6M238.5 1879.8V1931.7M239.5 1880.4V1934.3M240.5 1878.3V1932.6M241.5 1881.4V1939.1M242.5 1878.7V1933.9M243.5 1875.6V1935.0M244.5 1880.2V1936.8M245.5 1875.8V1933.0M246.5 1874.6V1936.3M247.5 1878.6V1933.0M248.5 1878.1V1938.6M249.5 1877.3V1939.4M250.5 1872.7V1942.7M251.5 1869.1V1947.5M252.5 1856.6V1951.1M253.5 1851.7V1961.6M254.5 1840.3V1968.9M255.5 1833.0V1963.1M256.5 1849.3V1966.3M257.5 1851.9V1980.5M258.5 1850.4V1965.6M259.5 1844.8V1973.2M260.5 1843.4V1965.0M261.5 1847.8V1975.5M262.5 1850.3V1961.4M263.5 1845.4V1972.0M264.5 1842.0V1975.0M265.5 1845.8V1962.0M266.5 1847.5V1963.5M267.5 1849.4V1964.3M268.5 1859.0V1970.0M269.5 1852.9V1978.9M270.5 1849.6V1964.3M271.5 1848.8V1960.7M272.5 1850.7V1967.3M273.5 1853.7V1963.4M274.5 1847.7V1958.9M275.5 1855.1V1961.1M276.5 1844.3V1963.6M277.5 1846.3V1966.0M278.5 1847.3V1968.6M279.5 1850.6V1956.4M280.5 1847.0V1966.0M281.5 1849.4V1971.4M282.5 1847.8V1967.4M283.5 1853.9V1956.7M284.5 1846.8V1965.3M285.5 1847.0V1969.9M286.5 1858.6V1958.4M287.5 1856.5V1968.0M288.5 1847.1V1959.8M289.5 1854.8V1962.5M290.5 1859.1V1954.6M291.5 1852.8V1962.0M292.5 1856.5V1964.2M293.5 1847.8V1958.9M294.5 1843.4V1960.7M295.5 1843.8V1970.8M296.5 1846.8V1967.5M297.5 1850.9V1972.0M298.5 1845.7V1970.4M299.5 1850.1V1971.8M300.5 1841.0V1981.0M301.5 1849.0V1976.2M302.5 1850.0V1964.1M303.5 1846.9V1959.0M304.5 1859.1V1965.9M305.5 1858.4V1957.7M306.5 1852.7V1962.2M307.5 1850.6V1956.7M308.5 1852.8V1959.2M309.5 1842.2V1956.0M310.5 1858.4V1966.7M311.5 1849.9V1964.4M312.5 1847.0V1958.9M313.5 1860.0V1956.5M314.5 1857.9V1955.6M315.5 1849.1V1959.6M316.5 1858.4V1957.2M317.5 1855.1V1954.5M318.5 1862.9V1958.8M319.5 1858.9V1954.2M320.5 1864.9V1957.6M321.5 1862.4V1953.9M322.5 1862.6V1962.6M323.5 1853.7V1963.7M324.5 1858.4V1950.7M325.5 1848.1V1958.9M326.5 1852.8V1958.1M327.5 1861.6V1958.3M328.5 1848.7V1965.2M329.5 1859.0V1953.2M330.5 1852.6V1966.1M331.5 1860.4V1957.0M332.5 1858.5V1961.8M333.5 1847.4V1958.2M334.5 1859.4V1956.9M335.5 1860.7V1955.5M336.5 1860.3V1954.5M337.5 1856.8V1951.3M338.5 1858.9V1951.8M339.5 1858.2V1942.1M340.5 1863.7V1950.5M341.5 1865.1V1948.8M342.5 1867.3V1949.1M343.5 1869.1V1942.6M344.5 1868.4V1947.4M345.5 1872.3V1935.0M346.5 1878.1V1930.5M347.5 1878.7V1935.6M348.5 1877.0V1935.4M349.5 1880.7V1931.5M350.5 1879.8V1934.8M351.5 1880.0V1932.5M352.5 1879.4V1933.3M353.5 1875.9V1940.0M354.5 1880.1V1936.4M355.5 1877.3V1935.6M356.5 1881.1V1938.1M357.5 1882.6V1934.1M358.5 1882.3V1936.2M359.5 1879.4V1933.9M360.5 1882.1V1934.6M361.5 1877.5V1933.0M362.5 1879.4V1933.5M363.5 1874.9V1934.2M364.5 1880.2V1936.4M365.5 1879.6V1932.4M366.5 1877.2V1928.7M367.5 1877.0V1937.6M368.5 1877.7V1935.0M369.5 1881.2V1937.2M370.5 1880.9V1937.4M371.5 1876.5V1931.2M372.5 1882.3V1934.9M373.5 1876.1V1937.0M374.5 1880.8V1934.6M375.5 1880.6V1932.8M376.5 1878.9V1931.3M377.5 1880.0V1934.1M378.5 1883.8V1934.0M379.5 1877.4V1931.8M380.5 1878.5V1936.7M381.5 1882.2V1936.6M382.5 1874.4V1939.1M383.5 1879.0V1934.8M384.5 1877.3V1933.6M385.5 1879.1V1934.9M386.5 1876.3V1929.4M387.5 1879.5V1931.1M388.5 1879.1V1935.2M389.5 1880.7V1935.7M390.5 1880.7V1934.8M391.5 1880.1V1934.8M392.5 1878.7V1935.2M393.5 1879.1V1934.6M394.5 1882.3V1934.7M395.5 1881.8V1935.1M396.5 1879.2V1933.1M397.5 1880.9V1932.2M398.5 1879.5V1933.6M399.5 1879.8V1932.5M400.5 1882.8V1932.6M401.5 1881.3V1931.3M402.5 1877.8V1936.0M403.5 1883.1V1934.1M404.5 1880.7V1929.3M405.5 1877.9V1932.2M406.5 1880.4V1931.9M407.5 1879.9V1933.6M408.5 1879.2V1931.8M409.5 1877.9V1933.1M410.5 1879.0V1937.2M411.5 1875.9V1938.1M412.5 1881.8V1933.7M413.5 1878.7V1930.1M414.5 1877.2V1930.2M415.5 1876.5V1933.2M416.5 1880.1V1932.6M417.5 1880.6V1931.2M418.5 1878.8V1933.5M419.5 1882.7V1936.4M420.5 1879.0V1930.8M421.5 1877.1V1933.8M422.5 1879.3V1931.6M423.5 1882.8V1934.3M424.5 1880.3V1931.7M425.5 1878.7V1933.5M426.5 1881.8V1934.8M427.5 1877.1V1929.6M428.5 1877.4V1933.0M429.5 1878.6V1931.8M430.5 1879.9V1935.0M431.5 1881.3V1932.8M432.5 1880.2V1933.0M433.5 1880.8V1931.8M434.5 1878.8V1933.3M435.5 1882.8V1938.3M436.5 1882.2V1933.8M437.5 1884.1V1930.9M438.5 1880.4V1933.9M439.5 1879.4V1933.5M440.5 1884.5V1931.0M441.5 1879.9V1935.8M442.5 1884.5V1935.1M443.5 1875.1V1938.0M444.5 1881.2V1935.0M445.5 1879.0V1935.2M446.5 1880.2V1936.8M447.5 1880.8V1934.4M448.5 1884.3V1934.8M449.5 1879.4V1930.8M450.5 1881.7V1935.1M451.5 1881.7V1938.6M452.5 1879.7V1937.2M453.5 1881.2V1935.9M454.5 1880.4V1931.7M455.5 1880.1V1934.2M456.5 1880.1V1931.9M457.5 1879.3V1931.8M458.5 1878.7V1934.6M459.5 1880.3V1933.7M460.5 1881.3V1929.5M461.5 1879.4V1934.8M462.5 1878.5V1932.0M463.5 1880.1V1935.0M464.5 1872.3V1933.0M465.5 1883.2V1935.8M466.5 1878.2V1933.7M467.5 1877.6V1934.0M468.5 1883.3V1933.3M469.5 1882.3V1934.7M470.5 1879.8V1933.2M471.5 1877.7V1932.5M472.5 1881.1V1936.0M473.5 1879.5V1934.4M474.5 1878.7V1933.4M475.5 1879.2V1936.5M476.5 1875.1V1934.3M477.5 1882.8V1929.3M478.5 1881.2V1931.4M479.5 1876.5V1931.1M480.5 1877.4V1935.3M481.5 1881.4V1934.9M482.5 1879.7V1931.8M483.5 1881.6V1936.9M484.5 1880.0V1936.0M485.5 1880.9V1932.5M486.5 1880.4V1934.2M487.5 1880.7V1929.8M488.5 1882.3V1939.3M489.5 1881.4V1934.8M490.5 1882.1V1931.6M491.5 1878.9V1933.8M492.5 1883.1V1934.1M493.5 1877.2V1938.3M494.5 1880.3V1934.1M495.5 1881.2V1931.2M496.5 1876.2V1933.2M497.5 1880.1V1933.2M498.5 1880.1V1933.4M499.5 1881.8V1932.0M500.5 1883.6V1934.3M501.5 1878.0V1932.1M502.5 1878.6V1933.3M503.5 1882.3V1930.5M504.5 1879.3V1934.7M505.5 1881.8V1932.8M506.5 1877.7V1929.7M507.5 1882.8V1932.3M508.5 1880.9V1934.4M509.5 1882.2V1932.7M510.5 1880.0V1932.1M511.5 1882.7V1936.1M512.5 1880.8V1933.7M513.5 1878.9V1938.2M514.5 1880.7V1933.1M515.5 1882.0V1933.5M516.5 1882.9V1933.4M517.5 1881.7V1937.3M518.5 1880.8V1935.8M519.5 1880.4V1933.1M520.5 1879.6V1934.4M521.5 1879.8V1931.5M522.5 1877.5V1933.8M523.5 1880.8V1936.5M524.5 1879.7V1934.3M525.5 1878.3V1937.9M526.5 1874.0V1929.8M527.5 1880.5V1934.0M528.5 1878.6V1934.3M529.5 1884.8V1934.8M530.5 1882.7V1934.7M531.5 1880.4V1933.3M532.5 1883.3V1932.8M533.5 1883.7V1931.4M534.5 1878.8V1931.7M535.5 1878.5V1936.6M536.5 1881.7V1936.9M537.5 1881.9V1936.2M538.5 1882.0V1933.4M539.5 1880.1V1931.9M540.5 1876.9V1940.5M541.5 1879.0V1932.1M542.5 1879.3V1931.3M543.5 1878.7V1934.3M544.5 1875.5V1934.2M545.5 1878.7V1930.5M546.5 1878.1V1933.2M547.5 1879.0V1932.1M548.5 1878.0V1929.8M549.5 1881.3V1931.2M550.5 1880.0V1938.6M551.5 1875.7V1936.1M552.5 1875.1V1934.4M553.5 1879.3V1934.4M554.5 1881.7V1934.3M555.5 1879.8V1933.0M556.5 1881.1V1935.5M557.5 1876.9V1932.9M558.5 1877.3V1931.9M559.5 1879.4V1932.2M560.5 1880.2V1931.5M561.5 1875.3V1930.8M562.5 1875.0V1934.0M563.5 1877.8V1932.6M564.5 1883.4V1929.2M565.5 1878.6V1932.8M566.5 1877.0V1933.2M567.5 1874.3V1935.3M568.5 1882.4V1933.5M569.5 1879.6V1933.9M570.5 1882.1V1933.1M571.5 1880.0V1936.6M572.5 1879.7V1934.3M573.5 1880.7V1933.1M574.5 1877.9V1932.5M575.5 1879.5V1932.0M576.5 1874.5V1934.1M577.5 1873.9V1939.8M578.5 1866.4V1945.6M579.5 1857.0V1959.8M580.5 1850.0V1963.5M581.5 1846.0V1968.5M582.5 1837.8V1971.9M583.5 1836.4V1970.6M584.5 1839.7V1974.4M585.5 1840.4V1978.0M586.5 1840.4V1969.9M587.5 1838.9V1972.1M588.5 1840.3V1969.4M589.5 1847.7V1966.9M590.5 1849.1V1967.4M591.5 1842.8V1971.5M592.5 1840.4V1977.3M593.5 1846.9V1965.6M594.5 1843.7V1968.9M595.5 1839.1V1971.6M596.5 1845.5V1975.3M597.5 1831.3V1973.2M598.5 1852.2V1978.0M599.5 1843.8V1973.4M600.5 1843.9V1973.7M601.5 1847.4V1967.8M602.5 1846.2V1965.5M603.5 1835.1V1975.0M604.5 1844.0V1981.8M605.5 1833.7V1966.6M606.5 1838.5V1969.7M607.5 1840.5V1972.2M608.5 1844.9V1971.6M609.5 1843.0V1969.8M610.5 1839.2V1973.0M611.5 1834.4V1967.6M612.5 1844.0V1971.8M613.5 1842.3V1967.7M614.5 1846.6V1970.8M615.5 1844.7V1968.9M616.5 1844.0V1971.5M617.5 1843.6V1974.7M618.5 1837.9V1973.5M619.5 1833.0V1967.8M620.5 1844.3V1973.7M621.5 1841.9V1963.9M622.5 1836.5V1965.7M623.5 1844.4V1969.6M624.5 1833.4V1974.9M625.5 1840.4V1980.5M626.5 1844.2V1985.2M627.5 1843.2V1979.2M628.5 1833.7V1982.1M629.5 1836.9V1976.4M630.5 1835.3V1974.7M631.5 1842.4V1964.4M632.5 1833.0V1977.3M633.5 1838.5V1968.3M634.5 1849.4V1966.3M635.5 1837.8V1974.7M636.5 1830.2V1960.3M637.5 1841.1V1968.0M638.5 1849.5V1976.8M639.5 1840.0V1967.3M640.5 1836.2V1969.0M641.5 1843.7V1980.4M642.5 1841.4V1966.7M643.5 1839.9V1974.4M644.5 1852.2V1960.0M645.5 1844.8V1960.9M646.5 1848.4V1972.0M647.5 1859.7V1964.3M648.5 1849.2V1962.5M649.5 1852.5V1965.8M650.5 1855.3V1954.8M651.5 1852.0V1961.9M652.5 1848.8V1955.2M653.5 1853.3V1972.8M654.5 1854.1V1960.1M655.5 1851.8V1961.7M656.5 1849.5V1956.7M657.5 1854.0V1956.2M658.5 1857.4V1958.2M659.5 1850.9V1962.8M660.5 1848.6V1957.2M661.5 1853.6V1957.0M662.5 1843.1V1962.0M663.5 1860.1V1961.5M664.5 1856.9V1962.5M665.5 1860.8V1954.0M666.5 1850.7V1944.2M667.5 1871.2V1951.9M668.5 1870.1V1944.7M669.5 1868.4V1940.4M670.5 1874.8V1941.2M671.5 1879.5V1937.4M672.5 1879.8V1936.8M673.5 1877.0V1936.7M674.5 1878.8V1933.2M675.5 1879.8V1935.1M676.5 1876.7V1934.7M677.5 1876.1V1934.3M678.5 1879.9V1931.9M679.5 1877.2V1936.5M680.5 1881.1V1936.1M681.5 1876.4V1933.6M682.5 1879.5V1934.2M683.5 1879.7V1935.2M684.5 1878.8V1933.7M685.5 1874.2V1933.4M686.5 1879.6V1931.2M687.5 1881.4V1935.1M688.5 1877.9V1933.5M689.5 1882.1V1930.2M690.5 1880.6V1934.8M691.5 1878.5V1932.3M692.5 1880.1V1934.0M693.5 1877.4V1933.4M694.5 1879.1V1934.6M695.5 1881.2V1935.1M696.5 1880.5V1929.0M697.5 1881.9V1935.7M698.5 1878.5V1935.3M699.5 1881.1V1932.2M700.5 1881.5V1930.2M701.5 1876.7V1934.8M702.5 1877.1V1937.1M703.5 1875.8V1932.6M704.5 1880.7V1934.0M705.5 1875.5V1934.6M706.5 1879.3V1934.6M707.5 1871.4V1936.3M708.5 1880.0V1935.9M709.5 1880.0V1931.2M710.5 1879.7V1932.1M711.5 1880.0V1932.6M712.5 1882.1V1931.8M713.5 1879.6V1935.2M714.5 1879.5V1932.7M715.5 1880.3V1932.2M716.5 1881.6V1933.2M717.5 1881.6V1933.9M718.5 1878.9V1933.8M719.5 1881.2V1933.3M720.5 1879.0V1940.3M721.5 1879.3V1933.3M722.5 1879.6V1934.4M723.5 1877.9V1930.1M724.5 1884.2V1937.8M725.5 1880.2V1931.2M726.5 1880.7V1934.7M727.5 1878.1V1933.2M728.5 1878.6V1937.5M729.5 1881.1V1933.3M730.5 1877.5V1934.8M731.5 1879.2V1933.5M732.5 1880.9V1933.6M733.5 1880.1V1934.1M734.5 1878.5V1934.3M735.5 1878.5V1932.1M736.5 1880.3V1931.7M737.5 1877.5V1937.2M738.5 1875.6V1930.4M739.5 1879.1V1933.6M740.5 1880.9V1929.9M741.5 1881.4V1933.9M742.5 1880.9V1933.3M743.5 1878.1V1930.6M744.5 1876.7V1936.8M745.5 1880.0V1933.2M746.5 1878.1V1933.2M747.5 1881.1V1932.3M748.5 1877.1V1934.7M749.5 1876.2V1932.4M750.5 1873.2V1935.3M751.5 1880.4V1935.5M752.5 1879.6V1929.9M753.5 1879.4V1934.3M754.5 1878.3V1934.3M755.5 1879.5V1934.7M756.5 1880.8V1936.1M757.5 1880.5V1933.2M758.5 1879.3V1932.4M759.5 1880.9V1931.6M760.5 1880.6V1934.2M761.5 1878.9V1934.2M762.5 1879.5V1936.6M763.5 1880.6V1936.2M764.5 1880.4V1933.2M765.5 1875.7V1934.3M766.5 1881.3V1930.2M767.5 1876.8V1932.0M768.5 1880.8V1934.0M769.5 1878.2V1932.1M770.5 1877.0V1932.4M771.5 1880.6V1935.2M772.5 1876.6V1933.2M773.5 1877.6V1933.4M774.5 1880.2V1932.9M775.5 1879.8V1936.6M776.5 1876.3V1934.8M777.5 1879.6V1935.0M778.5 1878.6V1934.9M779.5 1882.6V1932.0M780.5 1880.2V1934.0M781.5 1880.4V1929.1M782.5 1882.0V1936.0M783.5 1878.2V1932.1M784.5 1883.1V1933.5M785.5 1881.2V1931.6M786.5 1876.2V1934.3M787.5 1882.1V1931.8M788.5 1881.8V1937.0M789.5 1879.1V1930.8M790.5 1877.8V1934.4M791.5 1876.7V1934.7M792.5 1877.2V1934.2M793.5 1878.3V1933.5M794.5 1877.6V1933.4M795.5 1881.8V1937.6M796.5 1876.7V1932.9M797.5 1880.3V1934.3M798.5 1881.2V1933.4M799.5 1880.5V1936.8M800.5 1877.0V1936.2M801.5 1876.9V1930.6M802.5 1882.1V1935.6M803.5 1880.3V1937.6M804.5 1882.5V1934.7M805.5 1876.1V1934.1M806.5 1878.8V1933.1M807.5 1876.1V1930.5M808.5 1879.9V1934.3M809.5 1880.3V1933.3M810.5 1878.7V1934.4M811.5 1880.2V1932.9M812.5 1877.2V1933.8M813.5 1881.3V1934.3M814.5 1879.4V1936.0M815.5 1881.6V1935.6M816.5 1877.2V1929.4M817.5 1881.1V1932.5M818.5 1878.5V1934.4M819.5 1873.8V1933.7M820.5 1880.0V1934.5M821.5 1879.3V1931.1M822.5 1878.5V1933.8M823.5 1879.8V1930.5M824.5 1879.3V1933.0M825.5 1884.3V1935.6M826.5 1881.4V1937.2M827.5 1881.6V1932.9M828.5 1881.0V1936.2M829.5 1878.6V1934.1M830.5 1875.7V1934.4M831.5 1878.4V1931.2M832.5 1879.7V1934.3M833.5 1880.3V1936.1M834.5 1882.5V1933.2M835.5 1875.3V1930.9M836.5 1880.9V1932.7M837.5 1878.7V1935.0M838.5 1877.1V1933.6M839.5 1877.6V1931.8M840.5 1878.8V1935.1M841.5 1879.9V1932.7M842.5 1879.1V1934.3M843.5 1880.0V1928.0M844.5 1881.9V1934.3M845.5 1881.3V1934.5M846.5 1878.8V1932.3M847.5 1882.0V1934.2M848.5 1881.8V1930.7M849.5 1880.0V1932.0M850.5 1883.2V1932.3M851.5 1883.2V1933.9M852.5 1879.7V1933.9M853.5 1878.1V1933.1M854.5 1880.9V1932.7M855.5 1877.6V1932.8M856.5 1881.4V1933.4M857.5 1877.4V1934.9M858.5 1878.7V1934.6M859.5 1877.6V1933.2M860.5 1881.1V1933.5M861.5 1874.1V1933.6M862.5 1879.8V1933.4M863.5 1878.5V1932.1M864.5 1877.2V1931.7M865.5 1876.5V1930.8M866.5 1876.3V1932.1M867.5 1883.0V1937.4M868.5 1874.6V1932.4M869.5 1881.5V1937.0M870.5 1875.5V1934.7M871.5 1879.9V1935.4M872.5 1881.8V1934.1M873.5 1881.4V1937.6M874.5 1882.4V1931.7M875.5 1881.7V1942.5M876.5 1878.4V1933.6M877.5 1881.9V1933.3M878.5 1881.2V1931.8M879.5 1878.7V1931.0M880.5 1878.6V1930.8M881.5 1881.7V1934.5M882.5 1881.4V1932.5M883.5 1876.6V1932.8M884.5 1880.7V1935.1M885.5 1881.3V1935.6M886.5 1884.2V1932.1M887.5 1882.9V1933.0M888.5 1884.1V1931.7M889.5 1878.0V1934.8M890.5 1876.3V1935.6M891.5 1880.7V1933.0M892.5 1875.4V1932.2M893.5 1879.4V1934.8M894.5 1880.1V1934.0M895.5 1877.0V1933.5M896.5 1877.9V1932.0M897.5 1883.6V1933.4M898.5 1881.2V1929.1M899.5 1882.2V1934.3M900.5 1880.0V1934.0M901.5 1881.3V1935.2M902.5 1879.7V1932.3M903.5 1883.8V1934.5M904.5 1877.5V1934.9M905.5 1878.4V1933.1M906.5 1878.8V1932.7M907.5 1882.3V1931.6M908.5 1877.9V1935.8M909.5 1878.6V1931.0M910.5 1883.5V1934.5M911.5 1877.1V1932.1M912.5 1881.4V1934.1M913.5 1882.9V1931.7M914.5 1880.7V1934.4M915.5 1877.8V1934.7M916.5 1882.4V1937.1M917.5 1875.5V1934.1M918.5 1879.7V1933.4M919.5 1880.8V1930.3M920.5 1881.5V1931.8M921.5 1880.5V1938.3M922.5 1881.4V1934.1M923.5 1879.5V1935.0M924.5 1877.6V1933.0M925.5 1881.6V1935.5M926.5 1877.7V1932.8M927.5 1882.7V1932.8M928.5 1880.1V1934.7M929.5 1877.2V1934.1M930.5 1875.7V1934.3M931.5 1880.4V1932.5M932.5 1880.6V1933.2M933.5 1876.3V1932.4M934.5 1880.0V1931.5M935.5 1882.9V1933.4M936.5 1881.9V1932.4M937.5 1878.1V1932.3M938.5 1880.9V1934.8M939.5 1881.0V1932.5M940.5 1880.8V1929.9M941.5 1879.2V1932.7M942.5 1877.9V1936.9M943.5 1881.7V1932.6M944.5 1877.2V1936.4M945.5 1880.0V1933.7M946.5 1881.2V1934.2M947.5 1881.8V1935.0M948.5 1881.5V1932.9M949.5 1876.5V1934.3M950.5 1876.7V1936.7M951.5 1877.9V1931.7M952.5 1879.9V1933.4M953.5 1869.4V1941.8M954.5 1871.2V1943.6M955.5 1870.2V1941.3M956.5 1869.8V1942.4M957.5 1871.6V1946.7M958.5 1864.9V1953.6M959.5 1860.9V1958.6M960.5 1855.0V1957.2M961.5 1850.2V1953.6M962.5 1842.1V1965.9M963.5 1844.5V1961.9M964.5 1843.1V1970.5M965.5 1839.2V1963.4M966.5 1843.8V1981.4M967.5 1838.4V1974.3M968.5 1841.3V1971.6M969.5 1846.1V1971.0M970.5 1843.2V1970.0M971.5 1842.8V1968.0M972.5 1841.8V1972.6M973.5 1849.4V1966.7M974.5 1852.6V1965.7M975.5 1842.6V1961.3M976.5 1856.0V1955.5M977.5 1850.1V1961.5M978.5 1856.2V1953.8M979.5 1858.5V1948.4M980.5 1863.7V1944.8M981.5 1868.3V1944.1M982.5 1873.0V1946.6M983.5 1869.2V1943.1M984.5 1878.1V1941.7M985.5 1871.6V1941.2M986.5 1878.4V1930.0M987.5 1877.1V1936.9M988.5 1875.8V1937.5M989.5 1873.0V1937.0M990.5 1876.8V1934.6M991.5 1877.2V1935.7M992.5 1874.0V1934.8M993.5 1876.5V1930.8M994.5 1878.1V1938.8M995.5 1879.9V1934.8M996.5 1878.5V1931.8M997.5 1880.7V1933.8M998.5 1881.6V1932.8M999.5 1877.7V1933.1M1000.5 1880.6V1935.2M1001.5 1879.9V1931.0M1002.5 1880.7V1930.0M1003.5 1882.8V1933.2M1004.5 1880.8V1935.1M1005.5 1877.2V1936.3M1006.5 1881.6V1933.8M1007.5 1876.4V1934.2M1008.5 1880.8V1937.7M1009.5 1875.6V1938.2M1010.5 1880.0V1934.3M1011.5 1877.3V1937.5M1012.5 1879.3V1941.1M1013.5 1867.6V1942.8M1014.5 1876.4V1942.7M1015.5 1870.2V1945.4M1016.5 1862.3V1944.8M1017.5 1864.4V1943.8M1018.5 1866.0V1950.5M1019.5 1857.9V1955.7M1020.5 1855.5V1957.1M1021.5 1854.8V1960.7M1022.5 1851.0V1959.3M1023.5 1848.8V1957.1M1024.5 1856.7V1962.1M1025.5 1851.5V1966.6M1026.5 1839.6V1960.7M1027.5 1833.8V1966.1M1028.5 1839.7V1970.8M1029.5 1848.5V1972.0M1030.5 1845.2V1971.7M1031.5 1847.6V1968.0M1032.5 1849.7V1965.5M1033.5 1842.4V1966.8M1034.5 1842.4V1965.1M1035.5 1843.7V1966.5M1036.5 1852.0V1958.1M1037.5 1855.9V1957.2M1038.5 1862.6V1950.4M1039.5 1865.0V1948.8M1040.5 1867.9V1949.5M1041.5 1863.7V1947.4M1042.5 1874.0V1938.7M1043.5 1875.7V1942.6M1044.5 1871.7V1939.4M1045.5 1875.9V1934.3M1046.5 1876.4V1938.5M1047.5 1880.9V1934.0M1048.5 1874.9V1937.3M1049.5 1873.5V1933.1M1050.5 1880.3V1935.9M1051.5 1876.4V1930.7M1052.5 1881.8V1938.5M1053.5 1876.0V1933.2M1054.5 1878.3V1933.0M1055.5 1881.5V1934.1M1056.5 1880.2V1934.4M1057.5 1881.7V1936.3M1058.5 1879.9V1936.6M1059.5 1878.7V1933.1M1060.5 1882.4V1932.1M1061.5 1879.8V1930.3M1062.5 1878.5V1935.0M1063.5 1883.2V1932.7M1064.5 1878.5V1934.2M1065.5 1880.6V1932.4M1066.5 1881.3V1933.8M1067.5 1877.4V1934.2M1068.5 1877.4V1938.1M1069.5 1874.7V1937.1M1070.5 1875.1V1935.6M1071.5 1874.4V1942.0M1072.5 1871.4V1940.5M1073.5 1867.9V1945.1M1074.5 1865.6V1948.8M1075.5 1865.8V1947.8M1076.5 1862.0V1950.7M1077.5 1855.7V1953.3M1078.5 1856.0V1958.6M1079.5 1852.1V1957.7M1080.5 1848.7V1967.4M1081.5 1836.4V1977.3M1082.5 1845.9V1976.9M1083.5 1846.3V1979.0M1084.5 1835.9V1968.6M1085.5 1830.3V1975.6M1086.5 1841.9V1975.8M1087.5 1847.4V1974.4M1088.5 1844.8V1977.9M1089.5 1844.0V1969.8M1090.5 1843.3V1977.4M1091.5 1843.5V1967.3M1092.5 1854.6V1955.0M1093.5 1852.1V1964.0M1094.5 1858.6V1957.6M1095.5 1861.7V1947.7M1096.5 1862.8V1948.3M1097.5 1870.6V1947.1M1098.5 1869.7V1947.7M1099.5 1872.1V1939.4M1100.5 1872.6V1937.5M1101.5 1874.4V1936.5M1102.5 1874.8V1935.5M1103.5 1874.5V1937.1M1104.5 1874.6V1933.8M1105.5 1882.3V1934.3M1106.5 1879.7V1936.5M1107.5 1879.4V1929.0M1108.5 1878.4V1931.7M1109.5 1880.9V1932.8M1110.5 1879.0V1933.3M1111.5 1883.8V1932.5M1112.5 1880.5V1936.4M1113.5 1879.1V1935.2M1114.5 1882.1V1930.9M1115.5 1878.9V1934.4M1116.5 1875.5V1934.1M1117.5 1879.2V1934.9M1118.5 1882.6V1933.4M1119.5 1878.0V1934.3M1120.5 1879.9V1938.6M1121.5 1879.2V1937.2M1122.5 1878.2V1934.1M1123.5 1877.2V1935.5M1124.5 1879.3V1940.6M1125.5 1878.0V1936.7M1126.5 1872.7V1937.4M1127.5 1870.0V1936.4M1128.5 1868.4V1943.4M1129.5 1867.1V1943.4M1130.5 1863.3V1949.4M1131.5 1864.8V1952.0M1132.5 1862.2V1951.0M1133.5 1860.6V1952.5M1134.5 1858.0V1960.9M1135.5 1850.3V1959.0M1136.5 1850.6V1960.1M1137.5 1854.5V1975.6M1138.5 1850.1V1966.0M1139.5 1845.3V1969.6M1140.5 1845.2V1970.9M1141.5 1844.6V1960.0M1142.5 1848.4V1967.5M1143.5 1852.1V1977.0M1144.5 1843.0V1962.9M1145.5 1857.9V1954.8M1146.5 1859.6V1954.3M1147.5 1866.6V1952.6M1148.5 1862.8V1950.6M1149.5 1865.5V1941.9M1150.5 1874.3V1949.1M1151.5 1869.5V1944.5M1152.5 1865.6V1940.7M1153.5 1875.1V1941.1M1154.5 1878.5V1941.1M1155.5 1876.7V1932.7M1156.5 1878.6V1933.3M1157.5 1884.0V1932.4M1158.5 1880.6V1934.3M1159.5 1879.1V1937.0M1160.5 1880.2V1930.9M1161.5 1881.5V1931.5M1162.5 1880.8V1935.3M1163.5 1883.0V1931.0M1164.5 1875.6V1935.5M1165.5 1880.2V1934.9M1166.5 1881.6V1931.4M1167.5 1881.4V1931.3M1168.5 1881.9V1935.9M1169.5 1878.0V1935.5M1170.5 1877.4V1933.3M1171.5 1878.3V1933.8M1172.5 1875.4V1936.4M1173.5 1878.9V1936.8M1174.5 1882.5V1936.9M1175.5 1877.1V1935.4M1176.5 1882.7V1931.8M1177.5 1878.1V1934.2M1178.5 1879.0V1934.9M1179.5 1880.1V1930.5M1180.5 1879.4V1932.1M1181.5 1879.4V1931.3M1182.5 1884.2V1935.1M1183.5 1879.9V1934.7M1184.5 1878.7V1936.4M1185.5 1874.3V1937.8M1186.5 1875.3V1940.1M1187.5 1867.7V1941.6M1188.5 1871.9V1943.5M1189.5 1865.2V1946.6M1190.5 1867.4V1947.6M1191.5 1856.5V1950.8M1192.5 1850.1V1963.7M1193.5 1849.5V1961.4M1194.5 1846.0V1967.6M1195.5 1847.3V1964.5M1196.5 1833.8V1965.7M1197.5 1836.8V1965.5M1198.5 1843.0V1968.2M1199.5 1843.8V1971.6M1200.5 1844.8V1958.6M1201.5 1853.8V1971.6M1202.5 1848.4V1965.1M1203.5 1850.2V1960.0M1204.5 1858.3V1961.5M1205.5 1862.2V1961.5M1206.5 1859.1V1950.4M1207.5 1863.0V1949.0M1208.5 1860.9V1949.2M1209.5 1871.1V1941.9M1210.5 1869.2V1943.1M1211.5 1878.7V1930.9M1212.5 1878.2V1936.4M1213.5 1872.6V1934.4M1214.5 1881.2V1938.8M1215.5 1876.5V1929.2M1216.5 1877.5V1933.6M1217.5 1879.8V1934.1M1218.5 1879.3V1935.1M1219.5 1881.7V1932.9M1220.5 1878.5V1937.6M1221.5 1881.4V1931.5M1222.5 1879.5V1930.3M1223.5 1880.1V1936.3M1224.5 1880.6V1933.4M1225.5 1877.2V1933.0M1226.5 1879.9V1932.8M1227.5 1883.1V1936.9M1228.5 1880.2V1936.9M1229.5 1878.8V1936.6M1230.5 1882.0V1939.3M1231.5 1883.0V1933.9M1232.5 1878.8V1931.0M1233.5 1884.0V1930.9M1234.5 1879.5V1935.0M1235.5 1879.9V1932.9M1236.5 1882.0V1934.4M1237.5 1879.4V1934.5M1238.5 1881.9V1933.4M1239.5 1877.9V1934.7M1240.5 1877.3V1937.6M1241.5 1878.1V1934.6M1242.5 1880.0V1932.6M1243.5 1879.2V1932.5M1244.5 1881.1V1937.0M1245.5 1875.4V1933.1M1246.5 1876.6V1938.6M1247.5 1878.9V1933.5M1248.5 1879.1V1931.8M1249.5 1877.3V1933.6M1250.5 1879.7V1933.3M1251.5 1878.1V1934.4M1252.5 1879.5V1937.0M1253.5 1882.6V1931.3M1254.5 1878.7V1932.7M1255.5 1882.9V1936.1M1256.5 1880.4V1930.1M1257.5 1880.5V1930.5M1258.5 1880.9V1933.5M1259.5 1880.7V1932.1M1260.5 1880.1V1929.8M1261.5 1880.0V1938.0M1262.5 1880.5V1932.3M1263.5 1877.9V1934.7M1264.5 1881.5V1935.3M1265.5 1882.3V1932.9M1266.5 1877.0V1932.6M1267.5 1882.1V1933.2M1268.5 1878.0V1930.3M1269.5 1880.2V1933.4M1270.5 1880.7V1935.6M1271.5 1880.0V1936.2M1272.5 1877.9V1934.2M1273.5 1880.8V1933.8M1274.5 1878.9V1934.4M1275.5 1882.1V1932.1M1276.5 1875.2V1939.4M1277.5 1882.4V1929.8M1278.5 1879.2V1930.8M1279.5 1873.5V1931.9M1280.5 1878.0V1935.4M1281.5 1879.8V1929.9M1282.5 1878.8V1936.6M1283.5 1881.4V1934.0M1284.5 1878.8V1933.5M1285.5 1879.9V1937.1M1286.5 1877.2V1933.2M1287.5 1879.3V1931.1M1288.5 1876.2V1932.3M1289.5 1878.7V1932.3M1290.5 1877.1V1939.8M1291.5 1878.1V1934.2M1292.5 1882.0V1935.4M1293.5 1875.7V1937.8M1294.5 1877.4V1934.0M1295.5 1878.7V1933.0M1296.5 1878.1V1935.2M1297.5 1877.6V1933.1M1298.5 1880.5V1937.5M1299.5 1880.9V1931.2M1300.5 1880.1V1935.5M1301.5 1882.5V1933.0M1302.5 1879.7V1931.9M1303.5 1879.6V1933.6M1304.5 1878.0V1934.6M1305.5 1881.4V1932.2M1306.5 1875.8V1931.6M1307.5 1881.5V1932.5M1308.5 1881.9V1934.8M1309.5 1883.1V1933.3M1310.5 1875.6V1940.9M1311.5 1881.2V1934.0M1312.5 1880.7V1937.2M1313.5 1880.3V1935.0M1314.5 1878.3V1933.3M1315.5 1882.4V1933.3M1316.5 1874.9V1938.4M1317.5 1880.9V1931.2M1318.5 1878.5V1937.4M1319.5 1880.1V1931.6M1320.5 1878.6V1933.0M1321.5 1875.3V1934.7M1322.5 1879.2V1929.9M1323.5 1880.2V1935.1M1324.5 1883.0V1931.5M1325.5 1880.2V1934.1M1326.5 1879.7V1933.1M1327.5 1881.3V1933.0M1328.5 1873.9V1931.1M1329.5 1881.0V1932.9M1330.5 1880.0V1933.7M1331.5 1880.7V1934.2M1332.5 1882.3V1936.2" stroke="#000" stroke-opacity="0.7" stroke-width="1" fill="none"/>
<path d="M136.5 1886.9V1927.1M137.5 1885.7V1928.7M138.5 1884.0V1928.8M139.5 1884.9V1928.9M140.5 1887.4V1927.6M141.5 1888.6V1930.0M142.5 1885.0V1925.3M143.5 1885.2V1928.2M144.5 1883.5V1927.1M145.5 1885.9V1925.5M146.5 1887.3V1928.4M147.5 1885.3V1926.5M148.5 1886.3V1926.7M149.5 1887.5V1927.0M150.5 1884.9V1927.6M151.5 1885.2V1925.4M152.5 1887.4V1928.1M153.5 1886.8V1926.6M154.5 1889.3V1927.7M155.5 1886.6V1926.7M156.5 1886.8V1925.0M157.5 1885.0V1928.0M158.5 1887.0V1926.8M159.5 1886.9V1926.2M160.5 1884.2V1927.3M161.5 1887.6V1929.7M162.5 1886.7V1929.4M163.5 1887.0V1928.3M164.5 1886.7V1927.0M165.5 1885.6V1929.1M166.5 1884.0V1926.2M167.5 1888.4V1926.9M168.5 1885.1V1926.7M169.5 1885.6V1928.4M170.5 1886.9V1927.8M171.5 1885.5V1927.3M172.5 1886.1V1931.7M173.5 1886.1V1928.7M174.5 1886.6V1927.8M175.5 1886.8V1926.0M176.5 1886.2V1929.2M177.5 1886.3V1929.2M178.5 1884.3V1925.8M179.5 1886.2V1927.4M180.5 1885.7V1930.7M181.5 1885.9V1927.4M182.5 1884.3V1928.2M183.5 1885.6V1926.7M184.5 1885.5V1926.8M185.5 1885.2V1927.6M186.5 1886.2V1927.4M187.5 1885.4V1925.9M188.5 1888.3V1927.0M189.5 1885.2V1929.3M190.5 1885.6V1928.2M191.5 1884.4V1927.8M192.5 1886.2V1928.6M193.5 1882.4V1928.0M194.5 1885.0V1927.0M195.5 1889.4V1930.1M196.5 1887.0V1926.8M197.5 1886.5V1925.2M198.5 1886.7V1929.2M199.5 1883.2V1928.9M200.5 1887.0V1928.1M201.5 1884.9V1928.3M202.5 1887.8V1927.5M203.5 1884.2V1925.6M204.5 1884.9V1928.7M205.5 1887.0V1929.0M206.5 1888.0V1928.4M207.5 1882.6V1927.5M208.5 1884.5V1926.1M209.5 1887.0V1930.1M210.5 1885.1V1925.7M211.5 1885.5V1929.5M212.5 1885.5V1926.5M213.5 1886.0V1925.4M214.5 1885.3V1925.6M215.5 1886.1V1930.2M216.5 1885.0V1928.4M217.5 1883.0V1926.6M218.5 1884.9V1929.1M219.5 1885.9V1926.4M220.5 1883.2V1926.8M221.5 1881.9V1928.0M222.5 1887.3V1927.9M223.5 1885.2V1926.2M224.5 1885.9V1925.2M225.5 1887.4V1926.2M226.5 1887.2V1927.4M227.5 1883.1V1926.7M228.5 1886.9V1927.5M229.5 1886.2V1930.3M230.5 1884.9V1925.8M231.5 1886.3V1924.8M232.5 1884.6V1926.0M233.5 1884.8V1926.0M234.5 1886.2V1927.1M235.5 1887.3V1927.4M236.5 1885.4V1926.0M237.5 1886.1V1928.1M238.5 1885.0V1926.1M239.5 1886.3V1929.1M240.5 1883.5V1928.3M241.5 1886.9V1930.6M242.5 1884.0V1927.5M243.5 1883.1V1928.3M244.5 1884.9V1930.1M245.5 1884.1V1928.1M246.5 1880.6V1928.4M247.5 1884.0V1928.3M248.5 1882.0V1927.8M249.5 1883.0V1932.1M250.5 1879.0V1935.9M251.5 1876.7V1939.5M252.5 1867.8V1945.6M253.5 1862.8V1949.0M254.5 1859.7V1954.1M255.5 1856.5V1951.9M256.5 1862.7V1951.6M257.5 1859.2V1963.1M258.5 1859.1V1954.3M259.5 1860.7V1957.5M260.5 1855.9V1953.3M261.5 1856.7V1961.4M262.5 1861.4V1952.9M263.5 1863.3V1953.2M264.5 1855.0V1952.5M265.5 1861.5V1955.2M266.5 1859.1V1951.3M267.5 1859.2V1951.0M268.5 1864.9V1956.9M269.5 1865.7V1954.4M270.5 1860.6V1950.3M271.5 1856.5V1952.2M272.5 1863.7V1951.3M273.5 1866.7V1952.1M274.5 1865.7V1947.2M275.5 1865.1V1951.1M276.5 1860.0V1951.9M277.5 1865.4V1950.4M278.5 1859.8V1951.4M279.5 1861.0V1947.7M280.5 1863.3V1953.4M281.5 1859.8V1952.9M282.5 1860.0V1954.3M283.5 1861.0V1944.8M284.5 1864.6V1952.1M285.5 1857.1V1951.9M286.5 1866.7V1951.0M287.5 1863.8V1951.2M288.5 1863.2V1947.4M289.5 1864.9V1950.8M290.5 1867.9V1944.8M291.5 1863.6V1947.3M292.5 1866.3V1952.8M293.5 1862.1V1949.9M294.5 1857.9V1950.6M295.5 1856.5V1958.9M296.5 1861.1V1954.5M297.5 1863.4V1956.1M298.5 1860.6V1959.8M299.5 1858.6V1950.0M300.5 1857.2V1956.4M301.5 1858.1V1953.1M302.5 1864.3V1955.6M303.5 1866.4V1945.9M304.5 1868.8V1950.8M305.5 1866.2V1946.9M306.5 1862.3V1950.4M307.5 1862.2V1943.0M308.5 1868.9V1947.0M309.5 1857.7V1945.6M310.5 1865.5V1949.3M311.5 1863.3V1944.0M312.5 1865.9V1948.1M313.5 1870.3V1946.2M314.5 1867.3V1941.7M315.5 1863.5V1943.7M316.5 1865.2V1943.3M317.5 1869.0V1944.7M318.5 1870.4V1944.7M319.5 1863.7V1941.0M320.5 1874.6V1943.3M321.5 1874.1V1945.5M322.5 1871.5V1944.8M323.5 1863.8V1941.9M324.5 1871.5V1943.6M325.5 1860.5V1946.8M326.5 1866.4V1945.8M327.5 1871.0V1948.6M328.5 1866.1V1949.6M329.5 1866.8V1947.7M330.5 1867.6V1948.6M331.5 1868.9V1947.3M332.5 1871.7V1946.4M333.5 1867.2V1946.0M334.5 1869.0V1945.1M335.5 1868.4V1943.8M336.5 1870.7V1941.9M337.5 1866.4V1945.8M338.5 1870.9V1944.2M339.5 1866.8V1936.2M340.5 1875.0V1940.2M341.5 1870.3V1936.7M342.5 1876.3V1936.5M343.5 1879.1V1934.8M344.5 1880.8V1934.6M345.5 1883.6V1930.5M346.5 1884.6V1926.3M347.5 1884.9V1927.8M348.5 1884.6V1926.5M349.5 1884.5V1927.7M350.5 1883.9V1927.4M351.5 1886.4V1926.3M352.5 1885.6V1927.5M353.5 1883.7V1928.4M354.5 1885.6V1925.4M355.5 1885.7V1929.0M356.5 1887.9V1928.4M357.5 1888.4V1925.9M358.5 1885.6V1926.5M359.5 1884.1V1928.7M360.5 1886.6V1927.8M361.5 1886.3V1927.6M362.5 1886.7V1927.1M363.5 1886.2V1927.7M364.5 1888.0V1931.1M365.5 1885.7V1927.0M366.5 1886.2V1923.6M367.5 1885.9V1929.0M368.5 1884.2V1928.0M369.5 1885.2V1927.0M370.5 1886.0V1928.4M371.5 1884.4V1926.2M372.5 1886.3V1928.2M373.5 1881.0V1929.9M374.5 1886.8V1927.0M375.5 1886.7V1927.3M376.5 1886.3V1927.0M377.5 1886.7V1929.0M378.5 1887.8V1927.0M379.5 1884.8V1924.9M380.5 1884.1V1929.4M381.5 1886.4V1928.2M382.5 1886.3V1930.0M383.5 1885.2V1927.9M384.5 1883.1V1927.1M385.5 1885.3V1928.8M386.5 1882.9V1926.2M387.5 1884.3V1926.4M388.5 1888.4V1929.5M389.5 1887.3V1928.3M390.5 1885.2V1927.3M391.5 1885.4V1929.2M392.5 1884.4V1928.6M393.5 1885.0V1928.4M394.5 1886.7V1928.5M395.5 1886.5V1929.2M396.5 1885.3V1927.3M397.5 1884.1V1926.6M398.5 1885.9V1927.0M399.5 1886.0V1925.7M400.5 1886.6V1927.4M401.5 1887.4V1926.0M402.5 1883.5V1927.7M403.5 1888.9V1928.1M404.5 1886.2V1926.1M405.5 1884.3V1928.7M406.5 1885.0V1926.3M407.5 1884.6V1927.4M408.5 1884.9V1927.8M409.5 1885.9V1928.6M410.5 1885.3V1929.5M411.5 1885.2V1931.1M412.5 1887.6V1925.1M413.5 1884.0V1925.1M414.5 1882.0V1926.8M415.5 1885.3V1926.6M416.5 1886.7V1926.5M417.5 1884.7V1926.0M418.5 1884.8V1930.0M419.5 1887.5V1929.7M420.5 1885.2V1926.7M421.5 1882.3V1927.7M422.5 1885.8V1927.4M423.5 1886.1V1926.1M424.5 1887.0V1927.7M425.5 1885.0V1928.3M426.5 1887.2V1928.2M427.5 1886.2V1927.2M428.5 1884.7V1927.7M429.5 1882.6V1928.3M430.5 1886.6V1928.9M431.5 1885.4V1927.3M432.5 1886.2V1926.8M433.5 1886.6V1926.3M434.5 1884.1V1928.4M435.5 1887.5V1929.6M436.5 1887.7V1928.0M437.5 1888.1V1926.1M438.5 1886.9V1926.3M439.5 1887.3V1927.9M440.5 1887.9V1924.5M441.5 1885.5V1929.8M442.5 1888.7V1926.9M443.5 1885.9V1928.5M444.5 1886.9V1928.4M445.5 1886.0V1928.1M446.5 1885.0V1928.5M447.5 1884.9V1927.4M448.5 1888.1V1930.9M449.5 1886.6V1926.9M450.5 1886.8V1929.9M451.5 1887.1V1927.9M452.5 1885.9V1926.1M453.5 1884.6V1927.6M454.5 1884.0V1926.7M455.5 1886.1V1928.0M456.5 1886.6V1927.4M457.5 1884.8V1928.5M458.5 1886.4V1928.5M459.5 1886.6V1930.0M460.5 1887.1V1926.5M461.5 1885.7V1927.8M462.5 1885.4V1926.8M463.5 1885.8V1926.7M464.5 1881.2V1929.3M465.5 1886.3V1927.9M466.5 1885.1V1928.2M467.5 1885.0V1929.0M468.5 1887.1V1925.3M469.5 1885.3V1928.1M470.5 1886.5V1928.2M471.5 1884.8V1927.4M472.5 1885.7V1929.5M473.5 1885.3V1927.4M474.5 1883.8V1927.2M475.5 1886.2V1930.2M476.5 1882.2V1926.2M477.5 1888.1V1925.9M478.5 1886.8V1926.6M479.5 1886.9V1927.0M480.5 1885.0V1928.5M481.5 1887.8V1927.9M482.5 1888.1V1925.5M483.5 1887.6V1926.9M484.5 1887.3V1927.5M485.5 1886.5V1927.5M486.5 1885.5V1928.6M487.5 1886.2V1924.6M488.5 1888.5V1928.4M489.5 1884.3V1928.1M490.5 1886.0V1927.5M491.5 1882.8V1927.4M492.5 1886.4V1927.4M493.5 1886.3V1929.7M494.5 1884.3V1927.4M495.5 1885.4V1925.2M496.5 1884.3V1925.9M497.5 1884.5V1927.5M498.5 1887.6V1928.5M499.5 1886.9V1927.9M500.5 1888.9V1925.7M501.5 1884.3V1927.9M502.5 1885.2V1927.4M503.5 1887.9V1925.3M504.5 1885.0V1928.4M505.5 1886.8V1925.5M506.5 1887.0V1925.3M507.5 1886.2V1927.8M508.5 1885.4V1927.1M509.5 1888.6V1926.2M510.5 1887.3V1926.2M511.5 1886.5V1929.2M512.5 1886.9V1928.0M513.5 1886.1V1929.8M514.5 1885.2V1926.4M515.5 1886.3V1929.2M516.5 1888.2V1926.7M517.5 1885.8V1930.2M518.5 1886.7V1930.0M519.5 1887.9V1928.2M520.5 1885.1V1929.5M521.5 1885.0V1926.2M522.5 1884.5V1926.8M523.5 1884.1V1927.9M524.5 1886.0V1929.9M525.5 1885.4V1930.8M526.5 1884.3V1925.3M527.5 1884.6V1929.8M528.5 1884.1V1927.7M529.5 1887.6V1928.3M530.5 1886.8V1926.6M531.5 1887.6V1928.4M532.5 1886.7V1929.2M533.5 1887.3V1927.0M534.5 1888.5V1926.3M535.5 1885.8V1929.5M536.5 1887.8V1928.8M537.5 1886.9V1927.4M538.5 1886.7V1928.8M539.5 1886.0V1925.1M540.5 1886.2V1930.9M541.5 1884.8V1928.2M542.5 1885.3V1927.0M543.5 1884.9V1926.5M544.5 1884.1V1928.2M545.5 1884.6V1925.1M546.5 1883.7V1928.4M547.5 1886.4V1926.3M548.5 1886.8V1927.8M549.5 1887.6V1927.4M550.5 1886.4V1930.9M551.5 1886.9V1926.9M552.5 1883.9V1926.9M553.5 1885.4V1928.3M554.5 1885.3V1928.2M555.5 1883.0V1926.2M556.5 1885.8V1926.7M557.5 1883.2V1928.2M558.5 1883.6V1925.8M559.5 1886.5V1926.6M560.5 1884.9V1926.1M561.5 1884.1V1928.1M562.5 1883.4V1928.4M563.5 1883.4V1927.1M564.5 1888.6V1924.6M565.5 1885.8V1925.8M566.5 1886.8V1927.3M567.5 1881.3V1926.3M568.5 1887.7V1927.9M569.5 1884.5V1927.7M570.5 1885.7V1927.0M571.5 1886.5V1929.7M572.5 1885.8V1927.8M573.5 1885.4V1926.3M574.5 1885.6V1925.8M575.5 1883.9V1927.2M576.5 1882.0V1928.5M577.5 1880.1V1932.6M578.5 1873.5V1937.0M579.5 1865.8V1943.2M580.5 1866.2V1952.3M581.5 1856.3V1950.0M582.5 1855.8V1963.6M583.5 1851.7V1956.7M584.5 1855.3V1958.9M585.5 1853.3V1959.7M586.5 1857.6V1954.5M587.5 1853.0V1958.2M588.5 1852.7V1959.1M589.5 1859.2V1959.7M590.5 1857.5V1955.6M591.5 1857.3V1956.7M592.5 1856.2V1961.3M593.5 1863.0V1953.5M594.5 1859.1V1952.9M595.5 1857.3V1952.4M596.5 1858.0V1953.4M597.5 1850.9V1954.3M598.5 1862.0V1959.9M599.5 1859.0V1956.7M600.5 1857.0V1960.0M601.5 1857.4V1953.4M602.5 1855.5V1952.5M603.5 1853.3V1957.5M604.5 1853.4V1958.7M605.5 1852.9V1958.5M606.5 1860.5V1954.0M607.5 1859.2V1952.9M608.5 1860.4V1958.6M609.5 1858.0V1956.1M610.5 1856.5V1959.2M611.5 1849.9V1955.5M612.5 1861.5V1960.7M613.5 1855.5V1955.8M614.5 1857.6V1956.6M615.5 1857.0V1955.0M616.5 1854.2V1958.7M617.5 1856.2V1956.1M618.5 1853.5V1957.2M619.5 1856.0V1954.8M620.5 1855.8V1952.9M621.5 1856.0V1954.6M622.5 1856.3V1956.0M623.5 1861.0V1962.1M624.5 1858.7V1963.7M625.5 1853.4V1960.0M626.5 1856.1V1960.2M627.5 1855.6V1955.9M628.5 1854.7V1970.0M629.5 1848.4V1964.6M630.5 1851.9V1961.5M631.5 1857.0V1957.3M632.5 1849.6V1962.7M633.5 1858.8V1958.8M634.5 1858.8V1953.5M635.5 1857.4V1956.3M636.5 1847.9V1953.3M637.5 1850.1V1957.7M638.5 1860.7V1957.1M639.5 1856.9V1955.6M640.5 1853.8V1958.4M641.5 1856.9V1962.3M642.5 1856.8V1952.3M643.5 1854.6V1956.6M644.5 1866.4V1947.0M645.5 1860.0V1951.3M646.5 1861.8V1951.3M647.5 1868.7V1952.1M648.5 1864.3V1947.4M649.5 1860.9V1946.4M650.5 1861.0V1946.2M651.5 1859.6V1947.5M652.5 1859.5V1947.5M653.5 1864.2V1952.0M654.5 1865.3V1951.8M655.5 1863.3V1954.8M656.5 1863.1V1948.3M657.5 1867.4V1944.2M658.5 1868.3V1946.8M659.5 1864.2V1950.9M660.5 1865.6V1945.7M661.5 1863.3V1946.2M662.5 1862.3V1943.4M663.5 1868.9V1947.9M664.5 1871.4V1942.5M665.5 1868.5V1946.2M666.5 1864.2V1935.6M667.5 1878.2V1937.3M668.5 1877.4V1934.0M669.5 1877.6V1934.9M670.5 1880.6V1935.0M671.5 1884.1V1930.3M672.5 1884.4V1932.0M673.5 1886.0V1927.5M674.5 1885.5V1927.4M675.5 1886.3V1928.3M676.5 1884.6V1926.9M677.5 1882.2V1927.9M678.5 1885.3V1928.0M679.5 1883.8V1928.5M680.5 1886.9V1929.7M681.5 1885.7V1926.4M682.5 1885.2V1926.7M683.5 1886.8V1928.3M684.5 1883.0V1926.6M685.5 1885.5V1927.0M686.5 1884.7V1927.2M687.5 1885.9V1927.6M688.5 1885.2V1927.6M689.5 1886.6V1925.6M690.5 1885.3V1927.8M691.5 1887.8V1926.5M692.5 1883.7V1926.4M693.5 1883.9V1928.3M694.5 1884.5V1929.8M695.5 1886.4V1927.2M696.5 1885.5V1925.4M697.5 1886.2V1928.1M698.5 1885.8V1926.4M699.5 1886.9V1928.0M700.5 1884.9V1927.0M701.5 1886.5V1928.3M702.5 1884.0V1926.4M703.5 1886.2V1927.3M704.5 1886.9V1927.0M705.5 1885.0V1926.4M706.5 1885.4V1929.6M707.5 1883.2V1927.4M708.5 1885.6V1926.1M709.5 1885.7V1928.1M710.5 1885.3V1926.4M711.5 1883.9V1926.4M712.5 1885.8V1926.6M713.5 1886.3V1925.2M714.5 1886.0V1926.2M715.5 1884.3V1928.3M716.5 1886.7V1927.1M717.5 1886.7V1926.4M718.5 1885.3V1927.8M719.5 1885.4V1929.2M720.5 1884.6V1931.5M721.5 1883.6V1928.1M722.5 1889.1V1929.4M723.5 1884.7V1925.9M724.5 1887.1V1929.4M725.5 1886.8V1927.5M726.5 1887.3V1930.2M727.5 1884.3V1927.2M728.5 1888.3V1931.0M729.5 1884.4V1929.6M730.5 1884.1V1928.1M731.5 1884.9V1929.2M732.5 1884.9V1927.4M733.5 1886.6V1928.5M734.5 1882.7V1928.7M735.5 1886.6V1926.0M736.5 1886.8V1928.2M737.5 1885.1V1928.1M738.5 1885.4V1927.1M739.5 1885.7V1928.1M740.5 1886.5V1925.1M741.5 1886.9V1929.0M742.5 1887.2V1928.3M743.5 1886.4V1926.0M744.5 1884.5V1930.0M745.5 1886.0V1927.0M746.5 1884.6V1928.2M747.5 1887.9V1925.7M748.5 1884.9V1928.0M749.5 1886.1V1927.2M750.5 1884.0V1926.9M751.5 1888.3V1927.3M752.5 1885.8V1925.8M753.5 1885.8V1929.1M754.5 1886.8V1927.8M755.5 1885.2V1928.9M756.5 1883.5V1926.7M757.5 1886.0V1929.3M758.5 1886.1V1925.8M759.5 1887.5V1926.6M760.5 1884.3V1927.4M761.5 1886.1V1926.8M762.5 1887.5V1929.5M763.5 1886.3V1929.2M764.5 1886.4V1927.4M765.5 1883.2V1927.9M766.5 1885.9V1927.2M767.5 1883.1V1926.6M768.5 1885.8V1927.8M769.5 1885.8V1925.0M770.5 1886.6V1926.5M771.5 1885.7V1927.6M772.5 1884.5V1926.8M773.5 1883.8V1926.9M774.5 1886.8V1927.2M775.5 1884.9V1929.8M776.5 1885.5V1928.1M777.5 1885.5V1928.7M778.5 1885.2V1928.7M779.5 1886.8V1925.7M780.5 1885.5V1926.8M781.5 1885.5V1923.9M782.5 1886.3V1927.9M783.5 1885.3V1927.3M784.5 1888.2V1926.1M785.5 1888.0V1925.8M786.5 1884.9V1929.1M787.5 1888.2V1927.9M788.5 1888.5V1929.4M789.5 1884.2V1925.8M790.5 1885.7V1928.9M791.5 1884.4V1929.3M792.5 1886.0V1928.4M793.5 1885.4V1927.6M794.5 1885.3V1927.4M795.5 1886.7V1928.0M796.5 1883.5V1928.2M797.5 1886.9V1929.4M798.5 1886.5V1928.5M799.5 1885.5V1929.0M800.5 1884.4V1926.6M801.5 1884.0V1925.9M802.5 1886.5V1930.0M803.5 1886.5V1929.1M804.5 1887.1V1928.3M805.5 1885.4V1927.8M806.5 1885.8V1928.3M807.5 1883.8V1926.1M808.5 1887.0V1926.9M809.5 1886.9V1928.4M810.5 1886.0V1928.5M811.5 1887.2V1926.7M812.5 1883.6V1930.3M813.5 1887.2V1927.2M814.5 1885.5V1929.1M815.5 1886.2V1928.3M816.5 1885.5V1925.1M817.5 1886.5V1927.7M818.5 1885.5V1928.8M819.5 1886.5V1928.2M820.5 1885.7V1927.8M821.5 1884.5V1926.7M822.5 1884.6V1927.7M823.5 1884.2V1926.5M824.5 1886.1V1927.5M825.5 1888.8V1928.1M826.5 1887.4V1928.4M827.5 1887.3V1926.8M828.5 1886.9V1929.1M829.5 1883.8V1927.4M830.5 1883.2V1925.8M831.5 1885.0V1926.8M832.5 1885.9V1928.9M833.5 1887.6V1928.1M834.5 1885.4V1927.7M835.5 1886.5V1926.6M836.5 1884.6V1927.2M837.5 1885.9V1929.8M838.5 1885.2V1928.8M839.5 1885.2V1928.0M840.5 1884.1V1929.5M841.5 1885.6V1928.0M842.5 1886.4V1927.8M843.5 1886.7V1924.9M844.5 1885.4V1928.7M845.5 1887.3V1928.2M846.5 1884.5V1929.1M847.5 1884.9V1925.8M848.5 1886.5V1924.8M849.5 1885.1V1926.3M850.5 1887.8V1928.4M851.5 1888.1V1927.2M852.5 1886.5V1928.3M853.5 1884.0V1929.1M854.5 1885.6V1926.6M855.5 1888.4V1927.4M856.5 1886.0V1927.7M857.5 1884.9V1926.4M858.5 1885.5V1926.4M859.5 1887.1V1928.2M860.5 1886.9V1928.2M861.5 1886.5V1928.1M862.5 1886.1V1927.4M863.5 1887.8V1927.9M864.5 1884.1V1926.4M865.5 1885.3V1926.2M866.5 1883.6V1925.5M867.5 1887.0V1929.5M868.5 1886.6V1928.2M869.5 1886.2V1932.0M870.5 1882.8V1928.4M871.5 1884.7V1926.7M872.5 1885.9V1925.2M873.5 1885.8V1929.3M874.5 1885.5V1927.5M875.5 1886.2V1930.0M876.5 1885.8V1927.4M877.5 1886.1V1927.3M878.5 1885.4V1927.3M879.5 1883.7V1927.3M880.5 1886.5V1926.6M881.5 1887.4V1928.5M882.5 1886.2V1926.3M883.5 1883.2V1927.4M884.5 1885.6V1927.5M885.5 1887.6V1927.4M886.5 1887.4V1927.6M887.5 1889.2V1926.6M888.5 1887.9V1927.6M889.5 1883.0V1927.4M890.5 1885.1V1925.2M891.5 1885.6V1927.4M892.5 1881.3V1927.8M893.5 1885.7V1925.3M894.5 1884.9V1928.0M895.5 1885.3V1928.8M896.5 1885.0V1926.4M897.5 1889.6V1927.7M898.5 1888.1V1923.9M899.5 1886.3V1927.3M900.5 1886.3V1927.7M901.5 1885.7V1926.4M902.5 1884.9V1925.8M903.5 1889.2V1927.3M904.5 1885.8V1929.3M905.5 1882.6V1927.0M906.5 1886.4V1926.9M907.5 1887.6V1927.4M908.5 1885.7V1928.5M909.5 1885.3V1926.7M910.5 1888.6V1925.9M911.5 1884.0V1928.5M912.5 1885.1V1927.9M913.5 1886.9V1927.8M914.5 1884.6V1928.8M915.5 1886.9V1928.6M916.5 1886.6V1927.5M917.5 1884.5V1928.0M918.5 1885.4V1927.5M919.5 1886.2V1926.4M920.5 1887.6V1925.6M921.5 1884.7V1929.1M922.5 1885.6V1928.3M923.5 1885.6V1929.3M924.5 1885.7V1928.8M925.5 1886.6V1931.5M926.5 1884.6V1928.0M927.5 1887.9V1927.2M928.5 1885.5V1929.6M929.5 1885.5V1929.0M930.5 1881.9V1926.7M931.5 1885.7V1927.5M932.5 1886.8V1928.2M933.5 1881.7V1927.8M934.5 1885.5V1927.9M935.5 1887.5V1927.4M936.5 1885.4V1928.8M937.5 1883.8V1926.5M938.5 1886.0V1927.3M939.5 1886.3V1927.6M940.5 1887.0V1926.1M941.5 1885.1V1928.6M942.5 1885.8V1929.7M943.5 1885.3V1929.0M944.5 1885.6V1927.8M945.5 1884.4V1926.3M946.5 1887.5V1928.2M947.5 1885.9V1928.6M948.5 1885.4V1926.5M949.5 1883.2V1927.2M950.5 1883.2V1928.9M951.5 1884.2V1928.1M952.5 1884.9V1927.0M953.5 1881.1V1933.7M954.5 1881.4V1934.2M955.5 1881.0V1933.8M956.5 1877.4V1933.5M957.5 1877.0V1938.9M958.5 1874.7V1936.0M959.5 1868.5V1944.7M960.5 1867.4V1944.9M961.5 1865.0V1943.1M962.5 1863.9V1959.1M963.5 1862.1V1949.2M964.5 1859.3V1958.3M965.5 1855.1V1951.2M966.5 1856.1V1964.7M967.5 1853.4V1955.1M968.5 1854.4V1961.9M969.5 1858.9V1962.5M970.5 1853.8V1954.5M971.5 1854.3V1959.4M972.5 1852.5V1956.0M973.5 1860.1V1956.2M974.5 1863.0V1954.4M975.5 1856.3V1947.9M976.5 1866.6V1946.7M977.5 1862.4V1948.6M978.5 1867.7V1944.1M979.5 1870.3V1942.5M980.5 1875.0V1939.2M981.5 1877.1V1936.3M982.5 1878.0V1937.8M983.5 1877.6V1933.4M984.5 1882.4V1931.1M985.5 1881.3V1929.6M986.5 1881.9V1925.8M987.5 1883.2V1927.7M988.5 1879.7V1928.9M989.5 1880.3V1928.6M990.5 1885.4V1927.3M991.5 1884.0V1930.1M992.5 1885.1V1927.1M993.5 1883.9V1928.6M994.5 1883.2V1930.7M995.5 1885.7V1930.2M996.5 1886.6V1928.2M997.5 1887.4V1927.7M998.5 1886.2V1928.5M999.5 1883.0V1928.2M1000.5 1887.8V1927.3M1001.5 1883.9V1925.2M1002.5 1886.6V1926.3M1003.5 1886.0V1927.2M1004.5 1887.6V1927.6M1005.5 1885.2V1928.1M1006.5 1887.9V1928.8M1007.5 1883.4V1925.7M1008.5 1884.7V1929.6M1009.5 1882.9V1929.9M1010.5 1887.5V1929.1M1011.5 1883.5V1929.9M1012.5 1883.0V1933.9M1013.5 1880.2V1932.6M1014.5 1880.0V1933.1M1015.5 1880.3V1934.5M1016.5 1873.0V1935.7M1017.5 1873.9V1939.1M1018.5 1874.4V1937.1M1019.5 1869.9V1942.8M1020.5 1866.1V1940.5M1021.5 1869.8V1947.2M1022.5 1867.7V1950.2M1023.5 1864.7V1950.7M1024.5 1866.3V1949.2M1025.5 1862.1V1953.1M1026.5 1853.0V1950.6M1027.5 1852.6V1954.1M1028.5 1853.2V1960.0M1029.5 1859.8V1955.9M1030.5 1857.1V1962.4M1031.5 1857.7V1951.9M1032.5 1862.8V1954.0M1033.5 1857.6V1953.1M1034.5 1859.4V1948.1M1035.5 1856.3V1950.9M1036.5 1867.8V1948.4M1037.5 1865.7V1943.3M1038.5 1871.1V1941.8M1039.5 1875.5V1939.2M1040.5 1875.6V1940.3M1041.5 1875.2V1936.2M1042.5 1880.2V1933.8M1043.5 1879.7V1936.5M1044.5 1882.6V1934.8M1045.5 1881.6V1929.6M1046.5 1883.5V1930.2M1047.5 1886.3V1927.4M1048.5 1885.3V1932.1M1049.5 1885.1V1930.6M1050.5 1885.0V1928.8M1051.5 1884.6V1926.5M1052.5 1886.1V1930.2M1053.5 1886.6V1929.0M1054.5 1883.7V1927.5M1055.5 1887.0V1926.6M1056.5 1887.9V1927.4M1057.5 1885.8V1929.2M1058.5 1887.2V1928.4M1059.5 1885.2V1926.6M1060.5 1886.0V1925.5M1061.5 1887.0V1925.5M1062.5 1885.0V1926.9M1063.5 1886.6V1927.9M1064.5 1886.0V1928.2M1065.5 1886.1V1927.3M1066.5 1885.2V1925.5M1067.5 1883.4V1929.7M1068.5 1882.9V1929.7M1069.5 1881.8V1930.4M1070.5 1882.2V1931.9M1071.5 1879.5V1934.5M1072.5 1882.9V1933.4M1073.5 1876.6V1937.4M1074.5 1874.5V1938.9M1075.5 1872.8V1938.6M1076.5 1871.5V1942.7M1077.5 1868.2V1943.2M1078.5 1863.4V1948.6M1079.5 1861.3V1948.9M1080.5 1858.2V1953.5M1081.5 1851.4V1958.4M1082.5 1854.4V1953.9M1083.5 1859.5V1965.0M1084.5 1854.5V1953.3M1085.5 1854.7V1962.1M1086.5 1854.7V1961.6M1087.5 1857.8V1963.1M1088.5 1855.5V1959.4M1089.5 1856.2V1954.7M1090.5 1856.2V1958.6M1091.5 1860.1V1955.6M1092.5 1861.5V1946.2M1093.5 1865.1V1946.9M1094.5 1868.3V1947.0M1095.5 1869.3V1942.0M1096.5 1870.3V1941.2M1097.5 1876.6V1938.3M1098.5 1879.3V1938.2M1099.5 1880.5V1932.7M1100.5 1880.9V1932.3M1101.5 1883.8V1929.2M1102.5 1882.3V1928.1M1103.5 1882.9V1927.2M1104.5 1884.3V1928.1M1105.5 1886.9V1929.7M1106.5 1885.0V1930.3M1107.5 1885.5V1924.3M1108.5 1885.9V1927.1M1109.5 1885.7V1928.3M1110.5 1886.4V1927.9M1111.5 1887.0V1928.0M1112.5 1885.2V1927.9M1113.5 1884.5V1928.6M1114.5 1886.4V1926.9M1115.5 1883.8V1928.6M1116.5 1884.4V1929.9M1117.5 1884.7V1928.4M1118.5 1886.9V1926.9M1119.5 1883.7V1927.4M1120.5 1887.4V1928.1M1121.5 1884.9V1933.5M1122.5 1884.2V1930.2M1123.5 1882.0V1929.9M1124.5 1884.3V1931.1M1125.5 1884.0V1928.5M1126.5 1881.1V1932.7M1127.5 1880.6V1930.3M1128.5 1877.4V1935.1M1129.5 1876.1V1936.6M1130.5 1874.1V1940.3M1131.5 1872.0V1946.7M1132.5 1871.0V1942.7M1133.5 1871.0V1944.7M1134.5 1869.1V1945.7M1135.5 1863.3V1948.6M1136.5 1862.1V1950.8M1137.5 1864.0V1961.4M1138.5 1857.9V1952.2M1139.5 1860.6V1959.0M1140.5 1858.3V1947.9M1141.5 1862.5V1951.3M1142.5 1866.8V1952.7M1143.5 1865.2V1955.2M1144.5 1866.0V1946.4M1145.5 1864.9V1948.8M1146.5 1872.6V1947.1M1147.5 1874.5V1939.3M1148.5 1875.8V1939.5M1149.5 1876.4V1936.7M1150.5 1878.6V1937.2M1151.5 1876.7V1935.1M1152.5 1882.7V1932.5M1153.5 1881.6V1931.4M1154.5 1885.0V1931.2M1155.5 1883.0V1929.8M1156.5 1883.4V1927.2M1157.5 1887.7V1927.6M1158.5 1887.5V1929.5M1159.5 1886.5V1930.0M1160.5 1884.5V1926.4M1161.5 1885.7V1926.2M1162.5 1885.7V1929.2M1163.5 1886.9V1927.5M1164.5 1884.9V1928.5M1165.5 1886.7V1929.7M1166.5 1887.9V1926.3M1167.5 1886.8V1926.1M1168.5 1886.0V1926.0M1169.5 1883.9V1927.5M1170.5 1884.6V1928.8M1171.5 1884.2V1929.2M1172.5 1885.5V1927.0M1173.5 1883.4V1929.6M1174.5 1887.4V1929.7M1175.5 1883.3V1927.5M1176.5 1887.0V1927.0M1177.5 1885.0V1926.4M1178.5 1888.1V1927.4M1179.5 1885.0V1925.8M1180.5 1885.7V1927.0M1181.5 1883.7V1927.4M1182.5 1888.7V1927.5M1183.5 1885.9V1927.5M1184.5 1883.7V1927.9M1185.5 1882.1V1931.8M1186.5 1885.1V1931.7M1187.5 1878.6V1935.3M1188.5 1877.8V1936.0M1189.5 1871.8V1935.7M1190.5 1873.2V1937.1M1191.5 1867.5V1941.6M1192.5 1862.4V1947.0M1193.5 1864.9V1953.6M1194.5 1858.8V1950.3M1195.5 1859.1V1946.7M1196.5 1856.3V1954.0M1197.5 1858.3V1952.9M1198.5 1861.6V1952.7M1199.5 1855.9V1952.9M1200.5 1858.4V1949.9M1201.5 1862.4V1956.8M1202.5 1861.5V1946.0M1203.5 1865.2V1947.7M1204.5 1864.9V1945.1M1205.5 1869.4V1946.1M1206.5 1873.6V1941.2M1207.5 1872.6V1941.6M1208.5 1875.3V1939.7M1209.5 1879.9V1934.3M1210.5 1876.7V1936.9M1211.5 1884.6V1927.3M1212.5 1885.8V1927.7M1213.5 1882.0V1929.0M1214.5 1886.1V1932.0M1215.5 1883.4V1925.5M1216.5 1884.7V1928.2M1217.5 1886.4V1927.2M1218.5 1886.0V1929.6M1219.5 1885.6V1928.8M1220.5 1883.9V1928.0M1221.5 1886.1V1925.7M1222.5 1885.3V1925.4M1223.5 1885.6V1931.1M1224.5 1887.9V1927.9M1225.5 1882.7V1928.3M1226.5 1886.3V1927.2M1227.5 1887.6V1928.9M1228.5 1885.0V1928.6M1229.5 1884.6V1930.2M1230.5 1885.9V1931.9M1231.5 1888.0V1928.8M1232.5 1885.7V1925.9M1233.5 1887.2V1925.8M1234.5 1885.8V1930.0M1235.5 1884.4V1927.9M1236.5 1885.3V1928.5M1237.5 1886.1V1926.8M1238.5 1887.3V1928.4M1239.5 1886.7V1925.8M1240.5 1885.9V1928.2M1241.5 1886.2V1928.7M1242.5 1884.9V1928.0M1243.5 1887.9V1926.8M1244.5 1887.4V1928.3M1245.5 1886.0V1924.6M1246.5 1882.3V1927.2M1247.5 1886.2V1926.2M1248.5 1885.2V1926.0M1249.5 1884.6V1928.1M1250.5 1885.3V1926.5M1251.5 1885.1V1926.6M1252.5 1885.9V1930.8M1253.5 1888.1V1926.3M1254.5 1883.9V1927.4M1255.5 1886.3V1928.4M1256.5 1887.2V1926.7M1257.5 1886.1V1927.7M1258.5 1886.1V1928.9M1259.5 1886.1V1927.3M1260.5 1884.6V1925.4M1261.5 1886.7V1930.2M1262.5 1885.9V1927.7M1263.5 1885.1V1927.2M1264.5 1886.8V1926.7M1265.5 1888.5V1928.7M1266.5 1882.7V1928.9M1267.5 1886.9V1927.3M1268.5 1884.9V1926.9M1269.5 1886.5V1924.2M1270.5 1885.6V1927.6M1271.5 1886.3V1929.7M1272.5 1884.5V1929.0M1273.5 1886.5V1929.6M1274.5 1886.3V1929.2M1275.5 1887.4V1927.3M1276.5 1884.7V1929.8M1277.5 1887.1V1927.8M1278.5 1885.3V1926.3M1279.5 1881.4V1926.8M1280.5 1883.8V1929.6M1281.5 1886.6V1925.8M1282.5 1885.0V1930.9M1283.5 1886.7V1929.4M1284.5 1885.8V1927.8M1285.5 1885.0V1929.4M1286.5 1884.3V1926.0M1287.5 1884.6V1926.4M1288.5 1887.4V1926.7M1289.5 1886.7V1926.4M1290.5 1886.1V1930.7M1291.5 1883.1V1928.0M1292.5 1887.1V1928.6M1293.5 1883.6V1929.8M1294.5 1885.0V1929.3M1295.5 1884.2V1927.2M1296.5 1885.2V1927.4M1297.5 1885.6V1927.4M1298.5 1884.7V1928.8M1299.5 1885.5V1928.0M1300.5 1885.9V1929.7M1301.5 1886.9V1926.8M1302.5 1885.2V1926.9M1303.5 1886.2V1928.9M1304.5 1886.4V1927.5M1305.5 1888.2V1928.1M1306.5 1883.0V1926.6M1307.5 1885.7V1927.8M1308.5 1885.8V1927.3M1309.5 1886.8V1928.1M1310.5 1884.5V1931.5M1311.5 1886.2V1928.3M1312.5 1886.2V1926.0M1313.5 1886.6V1930.0M1314.5 1885.0V1926.8M1315.5 1885.9V1927.3M1316.5 1882.6V1927.0M1317.5 1885.6V1926.7M1318.5 1884.9V1927.2M1319.5 1886.1V1925.7M1320.5 1885.9V1927.8M1321.5 1883.6V1926.3M1322.5 1885.0V1924.9M1323.5 1886.1V1930.4M1324.5 1887.7V1926.0M1325.5 1885.9V1927.1M1326.5 1886.2V1926.3M1327.5 1886.7V1928.2M1328.5 1883.8V1925.6M1329.5 1885.6V1928.2M1330.5 1886.6V1928.0M1331.5 1885.1V1928.2M1332.5 1886.6V1924.7" stroke="#000" stroke-opacity="1.0" stroke-width="1" fill="none"/>
</g>
<path d="M136.0 1906.7H250.5V1784.6H347.2V1906.7H577.5V1784.6H673.6V1906.7H904.4V1784.6H1217.6V1906.7H1333.5" fill="none" stroke="#ff0000" stroke-opacity="0.62" stroke-width="1"/>
<g stroke="#383838" stroke-width="1" fill="none">
<path d="M136.0 1773.0H1333.5V2040.5H136.0Z"/>
<path d="M136.0 2040.5v-12M136.0 1773.0v12M251.1 2040.5v-12M251.1 1773.0v12M366.2 2040.5v-12M366.2 1773.0v12M481.4 2040.5v-12M481.4 1773.0v12M596.5 2040.5v-12M596.5 1773.0v12M711.6 2040.5v-12M711.6 1773.0v12M826.7 2040.5v-12M826.7 1773.0v12M941.8 2040.5v-12M941.8 1773.0v12M1057.0 2040.5v-12M1057.0 1773.0v12M1172.1 2040.5v-12M1172.1 1773.0v12M1287.2 2040.5v-12M1287.2 1773.0v12M136.0 2040.4h12M1333.5 2040.4h-12M136.0 1995.8h12M1333.5 1995.8h-12M136.0 1951.3h12M1333.5 1951.3h-12M136.0 1906.7h12M1333.5 1906.7h-12M136.0 1862.1h12M1333.5 1862.1h-12M136.0 1817.6h12M1333.5 1817.6h-12M136.0 1773.0h12M1333.5 1773.0h-12"/>
</g>
<g font-family='"Liberation Sans", sans-serif'>
<text transform="translate(136.00,2059.80) scale(1,1.02)" font-size="14.2" text-anchor="middle" fill="#363636">0</text>
<text transform="translate(251.12,2059.80) scale(1,1.02)" font-size="14.2" text-anchor="middle" fill="#363636">2</text>
<text transform="translate(366.24,2059.80) scale(1,1.02)" font-size="14.2" text-anchor="middle" fill="#363636">4</text>
<text transform="translate(481.36,2059.80) scale(1,1.02)" font-size="14.2" text-anchor="middle" fill="#363636">6</text>
<text transform="translate(596.48,2059.80) scale(1,1.02)" font-size="14.2" text-anchor="middle" fill="#363636">8</text>
<text transform="translate(711.60,2059.80) scale(1,1.02)" font-size="14.2" text-anchor="middle" fill="#363636">10</text>
<text transform="translate(826.72,2059.80) scale(1,1.02)" font-size="14.2" text-anchor="middle" fill="#363636">12</text>
<text transform="translate(941.84,2059.80) scale(1,1.02)" font-size="14.2" text-anchor="middle" fill="#363636">14</text>
<text transform="translate(1056.96,2059.80) scale(1,1.02)" font-size="14.2" text-anchor="middle" fill="#363636">16</text>
<text transform="translate(1172.08,2059.80) scale(1,1.02)" font-size="14.2" text-anchor="middle" fill="#363636">18</text>
<text transform="translate(1287.20,2059.80) scale(1,1.02)" font-size="14.2" text-anchor="middle" fill="#363636">20</text>
<text transform="translate(130.40,2045.28) scale(1,1.02)" font-size="14.2" text-anchor="end" fill="#363636">-30</text>
<text transform="translate(130.40,2000.72) scale(1,1.02)" font-size="14.2" text-anchor="end" fill="#363636">-20</text>
<text transform="translate(130.40,1956.16) scale(1,1.02)" font-size="14.2" text-anchor="end" fill="#363636">-10</text>
<text transform="translate(130.40,1911.60) scale(1,1.02)" font-size="14.2" text-anchor="end" fill="#363636">0</text>
<text transform="translate(130.40,1867.04) scale(1,1.02)" font-size="14.2" text-anchor="end" fill="#363636">10</text>
<text transform="translate(130.40,1822.48) scale(1,1.02)" font-size="14.2" text-anchor="end" fill="#363636">20</text>
<text transform="translate(130.40,1777.92) scale(1,1.02)" font-size="14.2" text-anchor="end" fill="#363636">30</text>
<text transform="translate(734.80,2080.10) scale(1,1.03)" font-size="14.9" text-anchor="middle" fill="#363636">Time in [s]</text>
<text transform="translate(102.20,1906.75) rotate(-90) scale(1,1.03)" font-size="14.9" text-anchor="middle" fill="#363636">ENG Signal in [µV]</text>
</g>
<polyline points="136.0,2389.9 136.5,2389.9 137.0,2390.0 137.5,2390.0 138.0,2390.0 138.5,2390.0 139.0,2390.1 139.5,2390.2 140.0,2390.2 140.5,2390.3 141.0,2390.5 141.5,2390.6 142.0,2390.7 142.5,2390.9 143.0,2391.1 143.5,2391.3 144.0,2391.4 144.5,2391.6 145.0,2391.8 145.5,2392.0 146.0,2392.2 146.5,2392.4 147.0,2392.6 147.5,2392.8 148.0,2392.9 148.5,2393.1 149.0,2393.2 149.5,2393.3 150.0,2393.5 150.5,2393.6 151.0,2393.6 151.5,2393.7 152.0,2393.7 152.5,2393.8 153.0,2393.8 153.5,2393.7 154.0,2393.7 154.5,2393.6 155.0,2393.5 155.5,2393.3 156.0,2393.1 156.5,2392.9 157.0,2392.6 157.5,2392.4 158.0,2392.0 158.5,2391.7 159.0,2391.3 159.5,2390.9 160.0,2390.5 160.5,2390.0 161.0,2389.6 161.5,2389.1 162.0,2388.7 162.5,2388.2 163.0,2387.8 163.5,2387.5 164.0,2387.1 164.5,2386.9 165.0,2386.6 165.5,2386.5 165.9,2386.4 166.4,2386.4 166.9,2386.5 167.4,2386.6 167.9,2386.8 168.4,2387.1 168.9,2387.4 169.4,2387.8 169.9,2388.2 170.4,2388.6 170.9,2389.1 171.4,2389.5 171.9,2390.0 172.4,2390.4 172.9,2390.9 173.4,2391.3 173.9,2391.6 174.4,2391.9 174.9,2392.2 175.4,2392.3 175.9,2392.4 176.4,2392.3 176.9,2392.0 177.4,2391.5 177.9,2390.8 178.4,2389.7 178.9,2388.4 179.4,2386.9 179.9,2385.2 180.4,2383.6 180.9,2382.2 181.4,2381.1 181.9,2380.5 182.4,2380.5 182.9,2380.9 183.4,2381.8 183.9,2383.0 184.4,2384.3 184.9,2385.6 185.4,2386.7 185.9,2387.7 186.4,2388.3 186.9,2388.8 187.4,2389.0 187.9,2389.1 188.4,2389.1 188.9,2389.0 189.4,2388.9 189.9,2388.8 190.4,2388.7 190.9,2388.6 191.4,2388.5 191.9,2388.4 192.4,2388.3 192.9,2388.3 193.4,2388.3 193.9,2388.2 194.4,2388.1 194.9,2388.1 195.4,2388.0 195.9,2387.9 196.4,2387.8 196.9,2387.6 197.4,2387.5 197.9,2387.3 198.4,2387.1 198.9,2386.8 199.4,2386.6 199.9,2386.3 200.4,2386.1 200.9,2385.8 201.4,2385.6 201.9,2385.4 202.4,2385.2 202.9,2385.0 203.4,2384.9 203.9,2384.8 204.4,2384.7 204.9,2384.7 205.4,2384.8 205.9,2384.9 206.4,2385.0 206.9,2385.2 207.4,2385.4 207.9,2385.6 208.4,2385.9 208.9,2386.2 209.4,2386.5 209.9,2386.8 210.4,2387.1 210.9,2387.5 211.4,2387.8 211.9,2388.1 212.4,2388.4 212.9,2388.6 213.4,2388.9 213.9,2389.1 214.4,2389.3 214.9,2389.4 215.4,2389.6 215.9,2389.7 216.4,2389.7 216.9,2389.7 217.4,2389.7 217.9,2389.7 218.4,2389.6 218.9,2389.5 219.4,2389.4 219.9,2389.2 220.4,2389.0 220.9,2388.8 221.4,2388.6 221.9,2388.4 222.4,2388.1 222.9,2387.9 223.4,2387.6 223.9,2387.4 224.4,2387.1 224.9,2386.9 225.4,2386.7 225.8,2386.5 226.3,2386.3 226.8,2386.2 227.3,2386.1 227.8,2386.0 228.3,2386.0 228.8,2386.0 229.3,2386.0 229.8,2386.1 230.3,2386.2 230.8,2386.3 231.3,2386.4 231.8,2386.6 232.3,2386.7 232.8,2386.8 233.3,2386.9 233.8,2387.0 234.3,2387.1 234.8,2387.1 235.3,2387.1 235.8,2387.0 236.3,2386.9 236.8,2386.8 237.3,2386.6 237.8,2386.4 238.3,2386.2 238.8,2385.9 239.3,2385.7 239.8,2385.5 240.3,2385.2 240.8,2385.0 241.3,2384.9 241.8,2384.7 242.3,2384.6 242.8,2383.9 243.3,2383.8 243.8,2383.7 244.3,2383.5 244.8,2383.2 245.3,2382.9 245.8,2382.5 246.3,2382.1 246.8,2381.5 247.3,2380.9 247.8,2380.2 248.3,2379.4 248.8,2375.5 249.3,2367.9 249.8,2358.0 250.3,2347.1 250.8,2336.6 251.3,2327.5 251.8,2317.7 252.3,2307.3 252.8,2296.8 253.3,2287.1 253.8,2278.8 254.3,2272.8 254.8,2269.3 255.3,2266.5 255.8,2263.9 256.3,2261.7 256.8,2260.0 257.3,2258.7 257.8,2258.0 258.3,2257.9 258.8,2258.0 259.3,2258.1 259.8,2258.3 260.3,2258.5 260.8,2258.6 261.3,2258.8 261.8,2258.9 262.3,2258.9 262.8,2258.8 263.3,2258.6 263.8,2258.3 264.3,2257.9 264.8,2257.6 265.3,2257.2 265.8,2256.9 266.3,2256.7 266.8,2256.6 267.3,2257.2 267.8,2258.4 268.3,2260.1 268.8,2262.1 269.3,2264.2 269.8,2266.3 270.3,2268.2 270.8,2269.8 271.3,2271.3 271.8,2272.9 272.3,2274.6 272.8,2276.1 273.3,2277.5 273.8,2278.6 274.3,2279.4 274.8,2279.7 275.3,2279.7 275.8,2279.5 276.3,2279.1 276.8,2278.6 277.3,2278.1 277.8,2277.4 278.3,2276.8 278.8,2276.2 279.3,2275.6 279.8,2275.1 280.3,2274.8 280.8,2274.6 281.3,2274.5 281.8,2274.8 282.3,2275.4 282.8,2276.1 283.3,2277.0 283.8,2278.0 284.3,2279.1 284.8,2280.1 285.3,2281.2 285.7,2282.1 286.2,2283.1 286.7,2284.4 287.2,2285.7 287.7,2287.0 288.2,2288.3 288.7,2289.4 289.2,2290.4 289.7,2291.0 290.2,2291.3 290.7,2291.0 291.2,2290.2 291.7,2289.0 292.2,2287.4 292.7,2285.5 293.2,2283.4 293.7,2281.2 294.2,2279.0 294.7,2276.9 295.2,2274.7 295.7,2271.9 296.2,2268.8 296.7,2265.4 297.2,2262.1 297.7,2259.1 298.2,2256.4 298.7,2254.5 299.2,2253.4 299.7,2253.5 300.2,2256.0 300.7,2260.2 301.2,2265.4 301.7,2271.0 302.2,2276.1 302.7,2280.0 303.2,2282.6 303.7,2284.9 304.2,2287.0 304.7,2288.5 305.2,2289.2 305.7,2289.2 306.2,2288.9 306.7,2288.5 307.2,2288.0 307.7,2287.4 308.2,2286.8 308.7,2286.1 309.2,2285.5 309.7,2285.0 310.2,2284.7 310.7,2284.5 311.2,2284.7 311.7,2285.9 312.2,2287.9 312.7,2290.5 313.2,2293.4 313.7,2296.2 314.2,2298.5 314.7,2300.4 315.2,2302.2 315.7,2304.1 316.2,2305.9 316.7,2307.6 317.2,2309.2 317.7,2310.5 318.2,2311.4 318.7,2311.9 319.2,2311.9 319.7,2311.4 320.2,2310.4 320.7,2309.1 321.2,2307.5 321.7,2305.7 322.2,2303.8 322.7,2301.8 323.2,2299.9 323.7,2298.1 324.2,2296.4 324.7,2295.0 325.2,2294.0 325.7,2293.4 326.2,2293.3 326.7,2294.1 327.2,2295.4 327.7,2296.9 328.2,2298.3 328.7,2299.2 329.2,2299.6 329.7,2299.9 330.2,2300.1 330.7,2300.3 331.2,2300.3 331.7,2300.1 332.2,2299.8 332.7,2299.3 333.2,2298.7 333.7,2298.1 334.2,2297.4 334.7,2296.8 335.2,2296.3 335.7,2295.9 336.2,2295.7 336.7,2295.9 337.2,2297.0 337.7,2298.9 338.2,2301.3 338.7,2304.0 339.2,2306.9 339.7,2310.5 340.2,2315.4 340.7,2321.2 341.2,2327.5 341.7,2334.0 342.2,2340.2 342.7,2345.9 343.2,2351.2 343.7,2356.5 344.2,2361.9 344.7,2367.0 345.2,2371.8 345.6,2376.0 346.1,2379.6 346.6,2383.1 347.1,2386.5 347.6,2389.6 348.1,2392.0 348.6,2393.5 349.1,2393.8 349.6,2393.7 350.1,2393.6 350.6,2393.4 351.1,2393.2 351.6,2392.9 352.1,2392.6 352.6,2392.3 353.1,2391.9 353.6,2391.6 354.1,2391.2 354.6,2390.8 355.1,2390.4 355.6,2389.9 356.1,2389.4 356.6,2388.8 357.1,2388.3 357.6,2387.7 358.1,2387.1 358.6,2385.5 359.1,2385.6 359.6,2385.8 360.1,2385.9 360.6,2386.0 361.1,2386.1 361.6,2386.1 362.1,2386.2 362.6,2386.2 363.1,2386.2 363.6,2386.2 364.1,2386.1 364.6,2386.0 365.1,2385.9 365.6,2385.8 366.1,2385.7 366.6,2385.6 367.1,2385.5 367.6,2385.4 368.1,2385.4 368.6,2385.3 369.1,2385.3 369.6,2385.3 370.1,2385.4 370.6,2385.4 371.1,2385.5 371.6,2385.6 372.1,2385.7 372.6,2385.8 373.1,2385.9 373.6,2386.1 374.1,2386.2 374.6,2386.3 375.1,2386.3 375.6,2386.4 376.1,2386.5 376.6,2386.5 377.1,2386.6 377.6,2386.6 378.1,2386.6 378.6,2386.7 379.1,2386.7 379.6,2386.8 380.1,2386.9 380.6,2387.0 381.1,2387.1 381.6,2387.2 382.1,2387.4 382.6,2387.6 383.1,2387.8 383.6,2388.1 384.1,2388.4 384.6,2388.7 385.1,2388.9 385.6,2389.2 386.1,2389.5 386.6,2389.8 387.1,2390.1 387.6,2390.4 388.1,2390.6 388.6,2390.9 389.1,2391.1 389.6,2391.3 390.1,2391.5 390.6,2391.7 391.1,2391.9 391.6,2392.1 392.1,2392.2 392.6,2392.3 393.1,2392.4 393.6,2392.5 394.1,2392.5 394.6,2392.5 395.1,2392.5 395.6,2392.4 396.1,2392.4 396.6,2392.2 397.1,2392.1 397.6,2391.9 398.1,2391.6 398.6,2391.4 399.1,2391.2 399.6,2390.9 400.1,2390.6 400.6,2390.4 401.1,2390.2 401.6,2389.9 402.1,2389.8 402.6,2389.6 403.1,2389.4 403.6,2389.3 404.1,2389.2 404.6,2389.2 405.1,2389.1 405.5,2389.1 406.0,2389.1 406.5,2389.1 407.0,2389.1 407.5,2389.1 408.0,2389.1 408.5,2389.2 409.0,2389.2 409.5,2389.3 410.0,2389.4 410.5,2389.5 411.0,2389.7 411.5,2389.9 412.0,2390.1 412.5,2390.3 413.0,2390.5 413.5,2390.8 414.0,2391.0 414.5,2391.2 415.0,2391.5 415.5,2391.7 416.0,2391.9 416.5,2392.0 417.0,2392.2 417.5,2392.3 418.0,2392.4 418.5,2392.4 419.0,2392.5 419.5,2392.5 420.0,2392.5 420.5,2392.5 421.0,2392.5 421.5,2392.4 422.0,2392.4 422.5,2392.3 423.0,2392.2 423.5,2392.1 424.0,2392.0 424.5,2391.9 425.0,2391.8 425.5,2391.6 426.0,2391.4 426.5,2391.2 427.0,2391.0 427.5,2390.7 428.0,2390.5 428.5,2390.2 429.0,2389.9 429.5,2389.7 430.0,2389.4 430.5,2389.2 431.0,2388.9 431.5,2388.7 432.0,2388.5 432.5,2388.4 433.0,2388.2 433.5,2388.1 434.0,2388.0 434.5,2387.9 435.0,2387.9 435.5,2387.8 436.0,2387.7 436.5,2387.6 437.0,2387.5 437.5,2387.4 438.0,2387.3 438.5,2387.1 439.0,2387.0 439.5,2386.8 440.0,2386.6 440.5,2386.3 441.0,2386.1 441.5,2385.9 442.0,2385.6 442.5,2385.4 443.0,2385.1 443.5,2384.9 444.0,2384.7 444.5,2384.5 445.0,2384.3 445.5,2384.1 446.0,2383.9 446.5,2383.8 447.0,2383.6 447.5,2383.5 448.0,2383.4 448.5,2383.4 449.0,2383.3 449.5,2383.3 450.0,2383.2 450.5,2383.2 451.0,2383.2 451.5,2383.3 452.0,2383.3 452.5,2383.4 453.0,2383.4 453.5,2383.5 454.0,2383.6 454.5,2383.7 455.0,2383.8 455.5,2383.9 456.0,2384.1 456.5,2384.2 457.0,2384.3 457.5,2384.5 458.0,2384.6 458.5,2384.8 459.0,2385.0 459.5,2385.1 460.0,2385.3 460.5,2385.5 461.0,2385.7 461.5,2385.9 462.0,2386.1 462.5,2386.3 463.0,2386.6 463.5,2386.8 464.0,2387.0 464.5,2387.3 465.0,2387.6 465.4,2387.8 465.9,2388.1 466.4,2388.4 466.9,2388.6 467.4,2388.9 467.9,2389.1 468.4,2389.3 468.9,2389.6 469.4,2389.8 469.9,2390.0 470.4,2390.2 470.9,2390.3 471.4,2390.5 471.9,2390.7 472.4,2390.9 472.9,2391.0 473.4,2391.2 473.9,2391.4 474.4,2391.5 474.9,2391.7 475.4,2391.9 475.9,2392.0 476.4,2392.1 476.9,2392.2 477.4,2392.3 477.9,2392.3 478.4,2392.3 478.9,2392.3 479.4,2392.2 479.9,2392.1 480.4,2392.0 480.9,2391.8 481.4,2391.6 481.9,2391.4 482.4,2391.1 482.9,2390.9 483.4,2390.6 483.9,2390.4 484.4,2390.1 484.9,2389.9 485.4,2389.7 485.9,2389.5 486.4,2389.3 486.9,2389.1 487.4,2388.9 487.9,2388.8 488.4,2388.6 488.9,2388.5 489.4,2388.3 489.9,2388.2 490.4,2388.0 490.9,2387.8 491.4,2387.7 491.9,2387.5 492.4,2387.3 492.9,2387.1 493.4,2386.9 493.9,2386.8 494.4,2386.6 494.9,2386.4 495.4,2386.3 495.9,2386.1 496.4,2386.0 496.9,2385.9 497.4,2385.8 497.9,2385.8 498.4,2385.7 498.9,2385.7 499.4,2385.6 499.9,2385.6 500.4,2385.6 500.9,2385.6 501.4,2385.7 501.9,2385.7 502.4,2385.7 502.9,2385.8 503.4,2385.9 503.9,2385.9 504.4,2386.0 504.9,2386.1 505.4,2386.2 505.9,2386.3 506.4,2386.4 506.9,2386.5 507.4,2386.6 507.9,2386.7 508.4,2386.8 508.9,2386.9 509.4,2387.0 509.9,2387.0 510.4,2387.1 510.9,2387.2 511.4,2387.2 511.9,2387.3 512.4,2387.3 512.9,2387.4 513.4,2387.4 513.9,2387.4 514.4,2387.5 514.9,2387.5 515.4,2387.5 515.9,2387.5 516.4,2387.4 516.9,2387.3 517.4,2387.1 517.9,2386.8 518.4,2386.4 518.9,2385.9 519.4,2385.4 519.9,2384.8 520.4,2384.2 520.9,2383.6 521.4,2383.1 521.9,2382.8 522.4,2382.6 522.9,2382.6 523.4,2382.8 523.9,2383.2 524.4,2383.8 524.9,2384.4 525.3,2385.0 525.8,2385.7 526.3,2386.3 526.8,2386.8 527.3,2387.1 527.8,2387.3 528.3,2387.4 528.8,2387.4 529.3,2387.3 529.8,2387.1 530.3,2386.8 530.8,2386.5 531.3,2386.2 531.8,2385.8 532.3,2385.5 532.8,2385.1 533.3,2384.8 533.8,2384.4 534.3,2384.1 534.8,2383.8 535.3,2383.5 535.8,2383.3 536.3,2383.0 536.8,2382.8 537.3,2382.6 537.8,2382.4 538.3,2382.3 538.8,2382.2 539.3,2382.1 539.8,2382.1 540.3,2382.1 540.8,2382.2 541.3,2382.3 541.8,2382.4 542.3,2382.6 542.8,2382.8 543.3,2383.1 543.8,2383.4 544.3,2383.7 544.8,2384.1 545.3,2384.5 545.8,2384.8 546.3,2385.2 546.8,2385.7 547.3,2386.1 547.8,2386.5 548.3,2386.9 548.8,2387.3 549.3,2387.7 549.8,2388.1 550.3,2388.4 550.8,2388.7 551.3,2389.1 551.8,2389.3 552.3,2389.6 552.8,2389.8 553.3,2390.0 553.8,2390.2 554.3,2390.4 554.8,2390.5 555.3,2390.6 555.8,2390.7 556.3,2390.8 556.8,2390.9 557.3,2390.9 557.8,2391.0 558.3,2391.1 558.8,2391.2 559.3,2391.4 559.8,2391.5 560.3,2391.7 560.8,2391.9 561.3,2392.1 561.8,2392.2 562.3,2392.4 562.8,2392.6 563.3,2392.8 563.8,2392.9 564.3,2393.0 564.8,2393.1 565.3,2393.2 565.8,2393.2 566.3,2393.1 566.8,2393.1 567.3,2393.0 567.8,2392.9 568.3,2392.7 568.8,2392.5 569.3,2392.3 569.8,2392.2 570.3,2392.0 570.8,2388.2 571.3,2388.1 571.8,2388.0 572.3,2387.8 572.8,2387.6 573.3,2387.3 573.8,2387.1 574.3,2386.8 574.8,2386.4 575.3,2385.7 575.8,2384.5 576.3,2382.8 576.8,2377.5 577.3,2364.8 577.8,2346.8 578.3,2325.9 578.8,2304.5 579.3,2284.9 579.8,2269.4 580.3,2256.8 580.8,2243.7 581.3,2230.8 581.8,2218.7 582.3,2208.0 582.8,2199.5 583.3,2193.6 583.8,2191.1 584.3,2191.1 584.8,2191.3 585.2,2191.6 585.7,2192.1 586.2,2192.6 586.7,2193.3 587.2,2194.1 587.7,2194.9 588.2,2195.7 588.7,2196.7 589.2,2198.1 589.7,2199.8 590.2,2201.7 590.7,2203.8 591.2,2205.8 591.7,2207.6 592.2,2209.2 592.7,2210.5 593.2,2211.8 593.7,2213.1 594.2,2214.4 594.7,2215.6 595.2,2216.6 595.7,2217.5 596.2,2218.0 596.7,2218.4 597.2,2218.3 597.7,2217.8 598.2,2216.9 598.7,2215.6 599.2,2214.1 599.7,2212.3 600.2,2210.4 600.7,2208.5 601.2,2206.6 601.7,2204.7 602.2,2203.0 602.7,2201.3 603.2,2199.3 603.7,2197.1 604.2,2195.0 604.7,2193.1 605.2,2191.5 605.7,2190.3 606.2,2189.9 606.7,2189.9 607.2,2190.1 607.7,2190.5 608.2,2191.1 608.7,2191.7 609.2,2192.5 609.7,2193.3 610.2,2194.2 610.7,2195.1 611.2,2196.0 611.7,2196.8 612.2,2197.7 612.7,2198.5 613.2,2199.2 613.7,2199.8 614.2,2200.4 614.7,2201.0 615.2,2201.6 615.7,2202.2 616.2,2202.8 616.7,2203.4 617.2,2203.9 617.7,2204.5 618.2,2204.9 618.7,2205.4 619.2,2205.7 619.7,2206.0 620.2,2206.2 620.7,2206.3 621.2,2206.1 621.7,2205.3 622.2,2204.1 622.7,2202.5 623.2,2200.8 623.7,2198.8 624.2,2196.8 624.7,2194.9 625.2,2193.0 625.7,2191.1 626.2,2188.7 626.7,2186.0 627.2,2183.3 627.7,2180.7 628.2,2178.5 628.7,2176.9 629.2,2176.2 629.7,2176.5 630.2,2177.8 630.7,2179.8 631.2,2182.4 631.7,2185.3 632.2,2188.5 632.7,2191.8 633.2,2194.9 633.7,2197.7 634.2,2200.2 634.7,2203.0 635.2,2206.0 635.7,2208.7 636.2,2210.8 636.7,2211.7 637.2,2211.4 637.7,2210.2 638.2,2208.4 638.7,2206.4 639.2,2204.2 639.7,2202.3 640.2,2200.7 640.7,2199.9 641.2,2200.2 641.7,2202.3 642.2,2205.7 642.7,2209.9 643.2,2214.6 643.7,2219.3 644.2,2223.5 644.7,2227.4 645.1,2231.9 645.6,2236.7 646.1,2241.3 646.6,2245.3 647.1,2248.1 647.6,2249.3 648.1,2249.4 648.6,2249.3 649.1,2249.3 649.6,2249.3 650.1,2249.2 650.6,2249.2 651.1,2249.3 651.6,2249.5 652.1,2249.9 652.6,2250.5 653.1,2251.1 653.6,2251.7 654.1,2252.3 654.6,2252.7 655.1,2253.0 655.6,2252.8 656.1,2252.1 656.6,2251.2 657.1,2250.1 657.6,2249.0 658.1,2248.3 658.6,2248.0 659.1,2248.0 659.6,2248.1 660.1,2248.1 660.6,2248.1 661.1,2248.2 661.6,2249.7 662.1,2252.6 662.6,2256.6 663.1,2261.4 663.6,2266.7 664.1,2272.2 664.6,2277.6 665.1,2284.6 665.6,2292.8 666.1,2301.8 666.6,2310.9 667.1,2319.5 667.6,2327.0 668.1,2333.1 668.6,2338.8 669.1,2344.3 669.6,2349.5 670.1,2354.3 670.6,2358.8 671.1,2362.8 671.6,2366.2 672.1,2369.2 672.6,2371.9 673.1,2374.6 673.6,2377.1 674.1,2379.4 674.6,2381.3 675.1,2382.9 675.6,2384.0 676.1,2384.7 676.6,2385.2 677.1,2385.7 677.6,2386.2 678.1,2386.6 678.6,2386.9 679.1,2387.1 679.6,2387.3 680.1,2388.8 680.6,2389.0 681.1,2389.2 681.6,2389.4 682.1,2389.5 682.6,2389.7 683.1,2389.8 683.6,2390.0 684.1,2390.0 684.6,2390.1 685.1,2390.1 685.6,2390.1 686.1,2390.0 686.6,2389.8 687.1,2389.7 687.6,2389.4 688.1,2389.2 688.6,2388.8 689.1,2388.5 689.6,2388.1 690.1,2387.7 690.6,2387.3 691.1,2386.9 691.6,2386.5 692.1,2386.2 692.6,2385.8 693.1,2385.5 693.6,2385.3 694.1,2385.1 694.6,2384.9 695.1,2384.8 695.6,2384.7 696.1,2384.7 696.6,2384.7 697.1,2384.8 697.6,2384.8 698.1,2384.9 698.6,2385.0 699.1,2385.1 699.6,2385.2 700.1,2385.3 700.6,2385.3 701.1,2385.4 701.6,2385.5 702.1,2385.5 702.6,2385.6 703.1,2385.6 703.6,2385.7 704.1,2385.7 704.6,2385.7 705.0,2385.8 705.5,2385.9 706.0,2385.9 706.5,2386.0 707.0,2386.1 707.5,2386.2 708.0,2386.3 708.5,2386.4 709.0,2386.6 709.5,2386.7 710.0,2386.9 710.5,2387.0 711.0,2387.2 711.5,2387.4 712.0,2387.5 712.5,2387.7 713.0,2387.9 713.5,2388.1 714.0,2388.2 714.5,2388.4 715.0,2388.5 715.5,2388.6 716.0,2388.8 716.5,2388.8 717.0,2388.9 717.5,2388.9 718.0,2388.9 718.5,2388.9 719.0,2388.8 719.5,2388.8 720.0,2388.6 720.5,2388.5 721.0,2388.3 721.5,2388.1 722.0,2387.9 722.5,2387.6 723.0,2387.3 723.5,2387.0 724.0,2386.7 724.5,2386.4 725.0,2386.1 725.5,2385.8 726.0,2385.5 726.5,2385.2 727.0,2385.0 727.5,2384.8 728.0,2384.7 728.5,2384.6 729.0,2384.5 729.5,2384.6 730.0,2384.6 730.5,2384.7 731.0,2384.9 731.5,2385.1 732.0,2385.3 732.5,2385.5 733.0,2385.7 733.5,2386.0 734.0,2386.2 734.5,2386.4 735.0,2386.6 735.5,2386.8 736.0,2387.0 736.5,2387.1 737.0,2387.2 737.5,2387.3 738.0,2387.4 738.5,2387.4 739.0,2387.5 739.5,2387.5 740.0,2387.5 740.5,2387.6 741.0,2387.7 741.5,2387.7 742.0,2387.8 742.5,2387.9 743.0,2388.0 743.5,2388.2 744.0,2388.3 744.5,2388.5 745.0,2388.7 745.5,2388.8 746.0,2389.0 746.5,2389.1 747.0,2389.3 747.5,2389.4 748.0,2389.5 748.5,2389.5 749.0,2389.5 749.5,2389.5 750.0,2389.5 750.5,2389.4 751.0,2389.4 751.5,2389.3 752.0,2389.1 752.5,2389.0 753.0,2388.9 753.5,2388.8 754.0,2388.6 754.5,2388.5 755.0,2388.5 755.5,2388.4 756.0,2388.3 756.5,2388.3 757.0,2388.3 757.5,2388.3 758.0,2388.4 758.5,2388.4 759.0,2388.5 759.5,2388.6 760.0,2388.6 760.5,2388.7 761.0,2388.7 761.5,2388.8 762.0,2388.8 762.5,2388.8 763.0,2388.8 763.5,2388.8 764.0,2388.7 764.5,2388.7 764.9,2388.6 765.4,2388.5 765.9,2388.4 766.4,2388.4 766.9,2388.3 767.4,2388.2 767.9,2388.2 768.4,2388.2 768.9,2388.2 769.4,2388.3 769.9,2388.3 770.4,2388.4 770.9,2388.6 771.4,2388.7 771.9,2388.9 772.4,2389.1 772.9,2389.3 773.4,2389.5 773.9,2389.7 774.4,2389.9 774.9,2390.0 775.4,2390.2 775.9,2390.3 776.4,2390.3 776.9,2390.4 777.4,2390.4 777.9,2390.3 778.4,2390.3 778.9,2390.2 779.4,2390.0 779.9,2389.9 780.4,2389.7 780.9,2389.6 781.4,2389.4 781.9,2389.2 782.4,2389.1 782.9,2388.9 783.4,2388.7 783.9,2388.6 784.4,2388.4 784.9,2388.3 785.4,2388.2 785.9,2388.0 786.4,2387.9 786.9,2387.8 787.4,2387.6 787.9,2387.5 788.4,2387.3 788.9,2387.1 789.4,2386.9 789.9,2386.7 790.4,2386.5 790.9,2386.3 791.4,2386.1 791.9,2385.9 792.4,2385.7 792.9,2385.4 793.4,2385.2 793.9,2385.0 794.4,2384.8 794.9,2384.7 795.4,2384.5 795.9,2384.4 796.4,2384.3 796.9,2384.3 797.4,2384.3 797.9,2384.3 798.4,2384.4 798.9,2384.4 799.4,2384.6 799.9,2384.7 800.4,2384.9 800.9,2385.1 801.4,2385.3 801.9,2385.5 802.4,2385.7 802.9,2385.9 803.4,2386.1 803.9,2386.3 804.4,2386.4 804.9,2386.5 805.4,2386.5 805.9,2386.6 806.4,2386.5 806.9,2386.5 807.4,2386.4 807.9,2386.3 808.4,2386.1 808.9,2385.9 809.4,2385.7 809.9,2385.5 810.4,2385.3 810.9,2385.0 811.4,2384.8 811.9,2384.5 812.4,2384.3 812.9,2384.1 813.4,2383.8 813.9,2383.6 814.4,2383.4 814.9,2383.2 815.4,2383.0 815.9,2382.9 816.4,2382.7 816.9,2382.6 817.4,2382.5 817.9,2382.4 818.4,2382.3 818.9,2382.2 819.4,2382.1 819.9,2382.0 820.4,2381.9 820.9,2381.8 821.4,2381.7 821.9,2381.6 822.4,2381.5 822.9,2381.4 823.4,2381.4 823.9,2381.4 824.4,2381.4 824.8,2381.4 825.3,2381.5 825.8,2381.6 826.3,2381.7 826.8,2381.9 827.3,2382.1 827.8,2382.3 828.3,2382.6 828.8,2382.8 829.3,2383.1 829.8,2383.4 830.3,2383.7 830.8,2384.0 831.3,2384.2 831.8,2384.5 832.3,2384.7 832.8,2384.9 833.3,2385.1 833.8,2385.3 834.3,2385.5 834.8,2385.6 835.3,2385.8 835.8,2385.9 836.3,2386.1 836.8,2386.2 837.3,2386.4 837.8,2386.5 838.3,2386.7 838.8,2386.8 839.3,2387.0 839.8,2387.1 840.3,2387.2 840.8,2387.4 841.3,2387.4 841.8,2387.5 842.3,2387.5 842.8,2387.5 843.3,2387.5 843.8,2387.4 844.3,2387.3 844.8,2387.2 845.3,2387.0 845.8,2386.8 846.3,2386.6 846.8,2386.3 847.3,2386.1 847.8,2385.9 848.3,2385.7 848.8,2385.5 849.3,2385.3 849.8,2385.1 850.3,2385.0 850.8,2384.9 851.3,2384.9 851.8,2384.9 852.3,2384.9 852.8,2385.0 853.3,2385.1 853.8,2385.2 854.3,2385.4 854.8,2385.6 855.3,2385.8 855.8,2386.0 856.3,2386.3 856.8,2386.5 857.3,2386.8 857.8,2387.1 858.3,2387.4 858.8,2387.7 859.3,2388.0 859.8,2388.3 860.3,2388.6 860.8,2388.9 861.3,2389.2 861.8,2389.5 862.3,2389.7 862.8,2390.0 863.3,2390.2 863.8,2390.4 864.3,2390.6 864.8,2390.8 865.3,2390.9 865.8,2391.1 866.3,2391.2 866.8,2391.3 867.3,2391.3 867.8,2391.4 868.3,2391.4 868.8,2391.4 869.3,2391.4 869.8,2391.3 870.3,2391.3 870.8,2391.2 871.3,2391.1 871.8,2391.0 872.3,2390.9 872.8,2390.8 873.3,2390.7 873.8,2390.6 874.3,2390.5 874.8,2390.4 875.3,2390.4 875.8,2390.3 876.3,2390.2 876.8,2390.1 877.3,2390.0 877.8,2389.9 878.3,2389.8 878.8,2389.6 879.3,2389.5 879.8,2389.4 880.3,2389.2 880.8,2389.0 881.3,2388.8 881.8,2388.6 882.3,2388.4 882.8,2388.2 883.3,2388.0 883.8,2387.7 884.3,2387.6 884.7,2387.4 885.2,2387.2 885.7,2387.1 886.2,2387.0 886.7,2386.9 887.2,2386.9 887.7,2386.9 888.2,2387.0 888.7,2387.0 889.2,2387.1 889.7,2387.3 890.2,2387.4 890.7,2387.6 891.2,2387.7 891.7,2387.9 892.2,2388.0 892.7,2388.2 893.2,2388.3 893.7,2388.4 894.2,2388.5 894.7,2388.6 895.2,2388.7 895.7,2388.7 896.2,2388.7 896.7,2388.7 897.2,2388.6 897.7,2388.6 898.2,2388.5 898.7,2388.4 899.2,2388.3 899.7,2388.2 900.2,2388.1 900.7,2388.0 901.2,2387.9 901.7,2387.8 902.2,2387.7 902.7,2387.7 903.2,2387.7 903.7,2387.7 904.2,2387.7 904.7,2387.8 905.2,2387.9 905.7,2388.0 906.2,2388.1 906.7,2388.3 907.2,2388.4 907.7,2388.6 908.2,2388.8 908.7,2389.0 909.2,2389.2 909.7,2389.4 910.2,2389.6 910.7,2389.8 911.2,2389.9 911.7,2390.1 912.2,2390.2 912.7,2390.4 913.2,2390.5 913.7,2390.6 914.2,2390.6 914.7,2390.7 915.2,2390.7 915.7,2390.8 916.2,2390.8 916.7,2390.7 917.2,2390.7 917.7,2390.7 918.2,2390.6 918.7,2390.6 919.2,2390.5 919.7,2390.4 920.2,2390.3 920.7,2390.2 921.2,2390.1 921.7,2390.1 922.2,2390.0 922.7,2389.9 923.2,2389.9 923.7,2389.8 924.2,2389.8 924.7,2389.8 925.2,2389.9 925.7,2389.9 926.2,2390.0 926.7,2390.1 927.2,2390.2 927.7,2390.3 928.2,2390.4 928.7,2390.5 929.2,2390.6 929.7,2390.7 930.2,2390.8 930.7,2390.9 931.2,2391.0 931.7,2391.0 932.2,2391.0 932.7,2391.0 933.2,2391.0 933.7,2390.9 934.2,2390.8 934.7,2390.7 935.2,2390.6 935.7,2390.5 936.2,2390.4 936.7,2390.2 937.2,2390.1 937.7,2389.9 938.2,2389.7 938.7,2389.5 939.2,2389.3 939.7,2389.1 940.2,2388.9 940.7,2388.7 941.2,2388.5 941.7,2388.3 942.2,2388.0 942.7,2387.8 943.2,2387.6 943.7,2387.3 944.2,2387.1 944.6,2386.8 945.1,2386.5 945.6,2386.3 946.1,2385.9 946.6,2385.6 947.1,2385.2 947.6,2384.7 948.1,2384.2 948.6,2383.5 949.1,2382.7 949.6,2381.7 950.1,2380.5 950.6,2379.1 951.1,2377.4 951.6,2375.3 952.1,2372.9 952.6,2370.1 953.1,2366.8 953.6,2363.1 954.1,2358.8 954.6,2354.0 955.1,2348.6 955.6,2342.7 956.1,2336.2 956.6,2329.2 957.1,2321.7 957.6,2313.8 958.1,2305.5 958.6,2296.9 959.1,2288.0 959.6,2279.1 960.1,2270.1 960.6,2261.1 961.1,2252.3 961.6,2243.6 962.1,2235.2 962.6,2227.2 963.1,2219.5 963.6,2212.2 964.1,2205.3 964.6,2199.0 965.1,2193.1 965.6,2187.7 966.1,2182.8 966.6,2178.4 967.1,2174.7 967.6,2171.5 968.1,2168.9 968.6,2167.0 969.1,2165.7 969.6,2165.2 970.1,2165.5 970.6,2166.5 971.1,2168.3 971.6,2170.9 972.1,2174.3 972.6,2178.6 973.1,2183.5 973.6,2189.3 974.1,2195.7 974.6,2202.7 975.1,2210.3 975.6,2218.3 976.1,2226.7 976.6,2235.4 977.1,2244.4 977.6,2253.4 978.1,2262.5 978.6,2271.5 979.1,2280.3 979.6,2289.0 980.1,2297.4 980.6,2305.4 981.1,2313.1 981.6,2320.3 982.1,2327.1 982.6,2333.4 983.1,2339.2 983.6,2344.4 984.1,2349.1 984.6,2353.3 985.1,2357.0 985.6,2360.1 986.1,2362.8 986.6,2364.9 987.1,2366.6 987.6,2368.0 988.1,2369.0 988.6,2369.7 989.1,2370.2 989.6,2370.6 990.1,2370.9 990.6,2371.2 991.1,2371.6 991.6,2372.2 992.1,2372.8 992.6,2373.7 993.1,2374.7 993.6,2375.8 994.1,2377.1 994.6,2378.4 995.1,2379.8 995.6,2381.1 996.1,2382.4 996.6,2383.6 997.1,2384.6 997.6,2385.5 998.1,2386.3 998.6,2386.9 999.1,2387.4 999.6,2387.7 1000.1,2387.9 1000.6,2388.0 1001.1,2388.0 1001.6,2387.8 1002.1,2387.6 1002.6,2387.3 1003.1,2386.9 1003.6,2386.5 1004.1,2385.9 1004.5,2385.3 1005.0,2384.6 1005.5,2383.8 1006.0,2382.9 1006.5,2381.9 1007.0,2380.7 1007.5,2379.5 1008.0,2378.1 1008.5,2376.6 1009.0,2374.9 1009.5,2373.0 1010.0,2371.0 1010.5,2368.7 1011.0,2366.2 1011.5,2363.4 1012.0,2360.4 1012.5,2357.1 1013.0,2353.5 1013.5,2349.5 1014.0,2345.3 1014.5,2340.7 1015.0,2335.8 1015.5,2330.6 1016.0,2325.1 1016.5,2319.3 1017.0,2313.2 1017.5,2306.9 1018.0,2300.3 1018.5,2293.5 1019.0,2286.6 1019.5,2279.6 1020.0,2272.4 1020.5,2265.3 1021.0,2258.2 1021.5,2251.1 1022.0,2244.2 1022.5,2237.5 1023.0,2231.0 1023.5,2224.8 1024.0,2219.0 1024.5,2213.5 1025.0,2208.5 1025.5,2204.0 1026.0,2199.9 1026.5,2196.4 1027.0,2193.4 1027.5,2190.9 1028.0,2189.1 1028.5,2187.9 1029.0,2187.2 1029.5,2187.2 1030.0,2187.9 1030.5,2189.1 1031.0,2191.1 1031.5,2193.7 1032.0,2196.9 1032.5,2200.8 1033.0,2205.4 1033.5,2210.5 1034.0,2216.3 1034.5,2222.7 1035.0,2229.6 1035.5,2236.9 1036.0,2244.7 1036.5,2252.7 1037.0,2261.0 1037.5,2269.4 1038.0,2277.8 1038.5,2286.2 1039.0,2294.5 1039.5,2302.5 1040.0,2310.2 1040.5,2317.5 1041.0,2324.5 1041.5,2331.0 1042.0,2337.0 1042.5,2342.5 1043.0,2347.5 1043.5,2352.1 1044.0,2356.2 1044.5,2359.9 1045.0,2363.1 1045.5,2366.0 1046.0,2368.5 1046.5,2370.8 1047.0,2372.7 1047.5,2374.4 1048.0,2375.9 1048.5,2377.2 1049.0,2378.3 1049.5,2379.3 1050.0,2380.2 1050.5,2380.9 1051.0,2381.5 1051.5,2382.1 1052.0,2382.6 1052.5,2383.1 1053.0,2383.6 1053.5,2384.0 1054.0,2384.4 1054.5,2384.8 1055.0,2385.1 1055.5,2385.5 1056.0,2385.9 1056.5,2386.2 1057.0,2386.5 1057.5,2386.8 1058.0,2387.1 1058.5,2387.3 1059.0,2387.5 1059.5,2387.7 1060.0,2387.8 1060.5,2387.8 1061.0,2387.8 1061.5,2387.8 1062.0,2387.6 1062.5,2387.4 1063.0,2387.1 1063.5,2386.7 1064.0,2386.2 1064.4,2385.6 1064.9,2384.8 1065.4,2383.9 1065.9,2382.8 1066.4,2381.4 1066.9,2379.9 1067.4,2378.1 1067.9,2376.0 1068.4,2373.6 1068.9,2370.9 1069.4,2367.8 1069.9,2364.3 1070.4,2360.4 1070.9,2356.0 1071.4,2351.2 1071.9,2345.9 1072.4,2340.1 1072.9,2333.8 1073.4,2327.1 1073.9,2319.8 1074.4,2312.1 1074.9,2304.0 1075.4,2295.6 1075.9,2286.8 1076.4,2277.7 1076.9,2268.5 1077.4,2259.2 1077.9,2249.9 1078.4,2240.7 1078.9,2231.8 1079.4,2223.2 1079.9,2215.0 1080.4,2207.3 1080.9,2200.3 1081.4,2194.1 1081.9,2188.6 1082.4,2184.0 1082.9,2180.3 1083.4,2177.6 1083.9,2175.7 1084.4,2174.7 1084.9,2174.6 1085.4,2175.2 1085.9,2176.5 1086.4,2178.3 1086.9,2180.6 1087.4,2183.3 1087.9,2186.3 1088.4,2189.5 1088.9,2192.9 1089.4,2196.5 1089.9,2200.2 1090.4,2204.2 1090.9,2208.4 1091.4,2213.1 1091.9,2218.2 1092.4,2223.9 1092.9,2230.3 1093.4,2237.3 1093.9,2245.0 1094.4,2253.4 1094.9,2262.4 1095.4,2271.9 1095.9,2281.8 1096.4,2291.9 1096.9,2301.9 1097.4,2311.9 1097.9,2321.5 1098.4,2330.6 1098.9,2339.2 1099.4,2347.0 1099.9,2354.0 1100.4,2360.3 1100.9,2365.7 1101.4,2370.4 1101.9,2374.4 1102.4,2377.7 1102.9,2380.3 1103.4,2382.5 1103.9,2384.2 1104.4,2385.5 1104.9,2386.5 1105.4,2387.2 1105.9,2387.7 1106.4,2388.0 1106.9,2388.2 1107.4,2388.3 1107.9,2388.4 1108.4,2388.3 1108.9,2388.3 1109.4,2388.2 1109.9,2388.1 1110.4,2387.9 1110.9,2387.8 1111.4,2387.7 1111.9,2387.5 1112.4,2387.4 1112.9,2387.2 1113.4,2386.9 1113.9,2386.6 1114.4,2386.2 1114.9,2385.8 1115.4,2385.2 1115.9,2384.4 1116.4,2383.6 1116.9,2382.6 1117.4,2381.6 1117.9,2380.5 1118.4,2379.4 1118.9,2378.3 1119.4,2377.3 1119.9,2376.4 1120.4,2375.7 1120.9,2375.1 1121.4,2374.6 1121.9,2374.1 1122.4,2373.6 1122.9,2372.9 1123.4,2372.1 1123.9,2371.0 1124.3,2369.5 1124.8,2367.6 1125.3,2365.3 1125.8,2362.5 1126.3,2359.2 1126.8,2355.4 1127.3,2351.1 1127.8,2346.3 1128.3,2341.0 1128.8,2335.2 1129.3,2329.0 1129.8,2322.4 1130.3,2315.4 1130.8,2308.0 1131.3,2300.4 1131.8,2292.5 1132.3,2284.5 1132.8,2276.3 1133.3,2268.2 1133.8,2260.2 1134.3,2252.3 1134.8,2244.7 1135.3,2237.4 1135.8,2230.6 1136.3,2224.4 1136.8,2218.8 1137.3,2213.9 1137.8,2209.9 1138.3,2206.7 1138.8,2204.4 1139.3,2203.0 1139.8,2202.7 1140.3,2203.3 1140.8,2204.8 1141.3,2207.3 1141.8,2210.7 1142.3,2215.0 1142.8,2220.0 1143.3,2225.8 1143.8,2232.2 1144.3,2239.1 1144.8,2246.4 1145.3,2254.1 1145.8,2262.1 1146.3,2270.2 1146.8,2278.3 1147.3,2286.5 1147.8,2294.5 1148.3,2302.4 1148.8,2310.0 1149.3,2317.3 1149.8,2324.3 1150.3,2330.9 1150.8,2337.1 1151.3,2342.8 1151.8,2348.1 1152.3,2353.0 1152.8,2357.4 1153.3,2361.4 1153.8,2365.0 1154.3,2368.1 1154.8,2370.9 1155.3,2373.3 1155.8,2375.3 1156.3,2377.0 1156.8,2378.5 1157.3,2379.7 1157.8,2380.6 1158.3,2381.4 1158.8,2381.9 1159.3,2382.4 1159.8,2382.7 1160.3,2382.9 1160.8,2383.1 1161.3,2383.2 1161.8,2383.2 1162.3,2383.3 1162.8,2383.3 1163.3,2383.3 1163.8,2383.4 1164.3,2383.4 1164.8,2383.4 1165.3,2383.5 1165.8,2383.5 1166.3,2383.6 1166.8,2383.6 1167.3,2383.7 1167.8,2383.8 1168.3,2384.0 1168.8,2384.1 1169.3,2384.3 1169.8,2384.5 1170.3,2384.8 1170.8,2385.1 1171.3,2385.4 1171.8,2385.8 1172.3,2386.2 1172.8,2386.7 1173.3,2387.2 1173.8,2387.8 1174.3,2388.4 1174.8,2389.0 1175.3,2389.6 1175.8,2390.2 1176.3,2390.8 1176.8,2391.3 1177.3,2391.8 1177.8,2392.3 1178.3,2392.7 1178.8,2393.0 1179.3,2393.2 1179.8,2393.2 1180.3,2393.1 1180.8,2392.9 1181.3,2392.4 1181.8,2391.6 1182.3,2390.6 1182.8,2389.2 1183.3,2387.4 1183.8,2385.1 1184.2,2382.3 1184.7,2379.0 1185.2,2375.0 1185.7,2370.3 1186.2,2364.9 1186.7,2358.7 1187.2,2351.7 1187.7,2343.9 1188.2,2335.3 1188.7,2326.0 1189.2,2316.0 1189.7,2305.4 1190.2,2294.4 1190.7,2283.1 1191.2,2271.7 1191.7,2260.4 1192.2,2249.4 1192.7,2238.9 1193.2,2229.1 1193.7,2220.3 1194.2,2212.6 1194.7,2206.1 1195.2,2200.9 1195.7,2197.2 1196.2,2194.9 1196.7,2193.9 1197.2,2194.1 1197.7,2195.5 1198.2,2197.7 1198.7,2200.8 1199.2,2204.4 1199.7,2208.4 1200.2,2212.6 1200.7,2217.0 1201.2,2221.5 1201.7,2226.0 1202.2,2230.7 1202.7,2235.6 1203.2,2240.8 1203.7,2246.5 1204.2,2252.6 1204.7,2259.4 1205.2,2266.7 1205.7,2274.7 1206.2,2283.2 1206.7,2292.1 1207.2,2301.3 1207.7,2310.6 1208.2,2319.7 1208.7,2328.6 1209.2,2337.0 1209.7,2344.8 1210.2,2351.8 1210.7,2358.1 1211.2,2363.6 1211.7,2368.3 1212.2,2372.3 1212.7,2375.5 1213.2,2378.2 1213.7,2380.3 1214.2,2382.0 1214.7,2383.3 1215.2,2384.3 1215.7,2385.2 1216.2,2385.8 1216.7,2386.3 1217.2,2386.8 1217.7,2387.1 1218.2,2387.4 1218.7,2387.7 1219.2,2387.9 1219.7,2388.1 1220.2,2388.3 1220.7,2388.5 1221.2,2388.6 1221.7,2388.7 1222.2,2388.8 1222.7,2388.8 1223.2,2388.8 1223.7,2388.8 1224.2,2388.8 1224.7,2388.7 1225.2,2388.7 1225.7,2388.6 1226.2,2388.5 1226.7,2388.3 1227.2,2388.2 1227.7,2388.0 1228.2,2387.8 1228.7,2387.6 1229.2,2387.4 1229.7,2387.1 1230.2,2386.9 1230.7,2386.6 1231.2,2386.3 1231.7,2385.9 1232.2,2385.6 1232.7,2385.3 1233.2,2385.0 1233.7,2384.7 1234.2,2384.4 1234.7,2384.2 1235.2,2383.9 1235.7,2383.8 1236.2,2383.7 1236.7,2383.6 1237.2,2383.6 1237.7,2383.7 1238.2,2383.8 1238.7,2384.0 1239.2,2384.3 1239.7,2384.6 1240.2,2384.9 1240.7,2385.3 1241.2,2385.6 1241.7,2386.0 1242.2,2386.4 1242.7,2386.7 1243.2,2387.0 1243.7,2387.3 1244.1,2387.5 1244.6,2387.7 1245.1,2387.8 1245.6,2387.9 1246.1,2387.9 1246.6,2387.9 1247.1,2387.9 1247.6,2387.9 1248.1,2387.9 1248.6,2387.8 1249.1,2387.8 1249.6,2387.8 1250.1,2387.9 1250.6,2388.0 1251.1,2388.1 1251.6,2388.3 1252.1,2388.5 1252.6,2388.7 1253.1,2389.0 1253.6,2389.3 1254.1,2389.6 1254.6,2389.9 1255.1,2390.2 1255.6,2390.5 1256.1,2390.8 1256.6,2391.0 1257.1,2391.2 1257.6,2391.4 1258.1,2391.5 1258.6,2391.6 1259.1,2391.6 1259.6,2391.6 1260.1,2391.5 1260.6,2391.4 1261.1,2391.2 1261.6,2391.0 1262.1,2390.8 1262.6,2390.6 1263.1,2390.3 1263.6,2390.1 1264.1,2389.8 1264.6,2389.6 1265.1,2389.4 1265.6,2389.2 1266.1,2389.0 1266.6,2388.9 1267.1,2388.8 1267.6,2388.8 1268.1,2388.7 1268.6,2388.8 1269.1,2388.8 1269.6,2388.9 1270.1,2389.0 1270.6,2389.1 1271.1,2389.2 1271.6,2389.3 1272.1,2389.4 1272.6,2389.5 1273.1,2389.6 1273.6,2389.6 1274.1,2389.7 1274.6,2389.6 1275.1,2389.6 1275.6,2389.5 1276.1,2389.4 1276.6,2389.3 1277.1,2389.1 1277.6,2389.0 1278.1,2388.8 1278.6,2388.7 1279.1,2388.5 1279.6,2388.4 1280.1,2388.2 1280.6,2388.1 1281.1,2388.0 1281.6,2388.0 1282.1,2387.9 1282.6,2387.9 1283.1,2387.9 1283.6,2387.9 1284.1,2387.9 1284.6,2387.9 1285.1,2387.9 1285.6,2387.9 1286.1,2388.0 1286.6,2388.0 1287.1,2388.0 1287.6,2388.0 1288.1,2388.0 1288.6,2388.0 1289.1,2387.9 1289.6,2387.9 1290.1,2387.9 1290.6,2387.9 1291.1,2387.8 1291.6,2387.8 1292.1,2387.8 1292.6,2387.7 1293.1,2387.7 1293.6,2387.7 1294.1,2387.7 1294.6,2387.6 1295.1,2387.6 1295.6,2387.5 1296.1,2387.5 1296.6,2387.4 1297.1,2387.3 1297.6,2387.2 1298.1,2387.1 1298.6,2387.1 1299.1,2387.0 1299.6,2386.9 1300.1,2386.9 1300.6,2386.9 1301.1,2386.9 1301.6,2387.0 1302.1,2387.1 1302.6,2387.2 1303.1,2387.4 1303.6,2387.7 1304.0,2388.0 1304.5,2388.3 1305.0,2388.7 1305.5,2389.1 1306.0,2389.6 1306.5,2390.1 1307.0,2390.6 1307.5,2391.2 1308.0,2391.7 1308.5,2392.3 1309.0,2392.8 1309.5,2393.3 1310.0,2393.8 1310.5,2394.3 1311.0,2394.7 1311.5,2395.1 1312.0,2395.5 1312.5,2395.7 1313.0,2396.0 1313.5,2396.1 1314.0,2396.3 1314.5,2396.3 1315.0,2396.3 1315.5,2396.3 1316.0,2396.2 1316.5,2396.1 1317.0,2395.9 1317.5,2395.7 1318.0,2395.4 1318.5,2395.1 1319.0,2394.9 1319.5,2394.5 1320.0,2394.2 1320.5,2393.9 1321.0,2393.6 1321.5,2393.2 1322.0,2392.9 1322.5,2392.5 1323.0,2392.2 1323.5,2391.9 1324.0,2391.6 1324.5,2391.3 1325.0,2391.0 1325.5,2390.8 1326.0,2390.6 1326.5,2390.5 1327.0,2390.3 1327.5,2390.3 1328.0,2390.3 1328.5,2390.3 1329.0,2390.3 1329.5,2390.4 1330.0,2390.6 1330.5,2390.7 1331.0,2390.9 1331.5,2391.0 1332.0,2391.1 1332.5,2391.2 1333.0,2391.3 1333.5,2391.3" fill="none" stroke="#2a2a2a" stroke-width="0.9" stroke-linejoin="round"/>
<path d="M136.0 2385.6H250.5V2165.6H347.2V2385.6H577.5V2165.6H673.6V2385.6H904.4V2165.6H1217.6V2385.6H1333.5" fill="none" stroke="#ff0000" stroke-opacity="0.62" stroke-width="1"/>
<g stroke="#383838" stroke-width="1" fill="none">
<path d="M136.0 2145.0H1333.5V2412.5H136.0Z"/>
<path d="M136.0 2412.5v-12M136.0 2145.0v12M251.1 2412.5v-12M251.1 2145.0v12M366.2 2412.5v-12M366.2 2145.0v12M481.4 2412.5v-12M481.4 2145.0v12M596.5 2412.5v-12M596.5 2145.0v12M711.6 2412.5v-12M711.6 2145.0v12M826.7 2412.5v-12M826.7 2145.0v12M941.8 2412.5v-12M941.8 2145.0v12M1057.0 2412.5v-12M1057.0 2145.0v12M1172.1 2412.5v-12M1172.1 2145.0v12M1287.2 2412.5v-12M1287.2 2145.0v12M136.0 2385.6h12M1333.5 2385.6h-12M136.0 2330.6h12M1333.5 2330.6h-12M136.0 2275.6h12M1333.5 2275.6h-12M136.0 2220.6h12M1333.5 2220.6h-12M136.0 2165.6h12M1333.5 2165.6h-12"/>
</g>
<g font-family='"Liberation Sans", sans-serif'>
<text transform="translate(136.00,2431.80) scale(1,1.02)" font-size="14.2" text-anchor="middle" fill="#363636">0</text>
<text transform="translate(251.12,2431.80) scale(1,1.02)" font-size="14.2" text-anchor="middle" fill="#363636">2</text>
<text transform="translate(366.24,2431.80) scale(1,1.02)" font-size="14.2" text-anchor="middle" fill="#363636">4</text>
<text transform="translate(481.36,2431.80) scale(1,1.02)" font-size="14.2" text-anchor="middle" fill="#363636">6</text>
<text transform="translate(596.48,2431.80) scale(1,1.02)" font-size="14.2" text-anchor="middle" fill="#363636">8</text>
<text transform="translate(711.60,2431.80) scale(1,1.02)" font-size="14.2" text-anchor="middle" fill="#363636">10</text>
<text transform="translate(826.72,2431.80) scale(1,1.02)" font-size="14.2" text-anchor="middle" fill="#363636">12</text>
<text transform="translate(941.84,2431.80) scale(1,1.02)" font-size="14.2" text-anchor="middle" fill="#363636">14</text>
<text transform="translate(1056.96,2431.80) scale(1,1.02)" font-size="14.2" text-anchor="middle" fill="#363636">16</text>
<text transform="translate(1172.08,2431.80) scale(1,1.02)" font-size="14.2" text-anchor="middle" fill="#363636">18</text>
<text transform="translate(1287.20,2431.80) scale(1,1.02)" font-size="14.2" text-anchor="middle" fill="#363636">20</text>
<text transform="translate(130.40,2390.50) scale(1,1.02)" font-size="14.2" text-anchor="end" fill="#363636">0</text>
<text transform="translate(130.40,2335.50) scale(1,1.02)" font-size="14.2" text-anchor="end" fill="#363636">1</text>
<text transform="translate(130.40,2280.50) scale(1,1.02)" font-size="14.2" text-anchor="end" fill="#363636">2</text>
<text transform="translate(130.40,2225.50) scale(1,1.02)" font-size="14.2" text-anchor="end" fill="#363636">3</text>
<text transform="translate(130.40,2170.50) scale(1,1.02)" font-size="14.2" text-anchor="end" fill="#363636">4</text>
<text transform="translate(734.80,2452.10) scale(1,1.03)" font-size="14.9" text-anchor="middle" fill="#363636">Time in [s]</text>
<text transform="translate(113.80,2278.75) rotate(-90) scale(1,1.03)" font-size="14.9" text-anchor="middle" fill="#363636">RMS of ENG in [µV]</text>
</g>
<g fill="#000">
<rect x="0" y="0" width="1430" height="3"/>
<rect x="0" y="0" width="3" height="2504"/>
<rect x="0" y="2501" width="1430" height="3"/>
<rect x="0" y="876" width="1430" height="3"/>
<rect x="0" y="1697" width="1430" height="3"/>
</g>
<text transform="translate(27.9,82.7) scale(1.06,1.03)" font-size="72" font-weight="bold">A</text>
<text transform="translate(25.4,957.6) scale(1,1.065)" font-size="70" font-weight="bold">B</text>
<text transform="translate(26.4,1778.8) scale(1,1.065)" font-size="70" font-weight="bold">C</text>
<text transform="translate(715.70,925.50) scale(1,1.045)" font-size="35.75" font-weight="bold" text-anchor="middle" fill="#000">Monofilaments</text>
<text transform="translate(715.80,1750.20) scale(1,1.045)" font-size="35.75" font-weight="bold" text-anchor="middle" fill="#000">Vibration</text>
<text transform="translate(241.30,1288.90) scale(1,1.03)" font-size="30.6" text-anchor="middle" fill="#000">2g</text>
<text transform="translate(441.80,1288.90) scale(1,1.03)" font-size="30.6" text-anchor="middle" fill="#000">4g</text>
<text transform="translate(626.90,1288.90) scale(1,1.03)" font-size="30.6" text-anchor="middle" fill="#000">6g</text>
<text transform="translate(812.70,1288.90) scale(1,1.03)" font-size="30.6" text-anchor="middle" fill="#000">8g</text>
<text transform="translate(1016.20,1288.90) scale(1,1.03)" font-size="30.6" text-anchor="middle" fill="#000">10g</text>
<text transform="translate(1227.00,1288.90) scale(1,1.03)" font-size="30.6" text-anchor="middle" fill="#000">15g</text>
<text transform="translate(299.20,2113.30) scale(1,1.03)" font-size="29.8" text-anchor="middle" fill="#000">superficial</text>
<text transform="translate(626.30,2113.30) scale(1,1.03)" font-size="29.8" text-anchor="middle" fill="#000">1mm indentation</text>
<text transform="translate(1057.00,2113.30) scale(1,1.03)" font-size="29.8" text-anchor="middle" fill="#000">undulating</text>
</svg></body></html>
